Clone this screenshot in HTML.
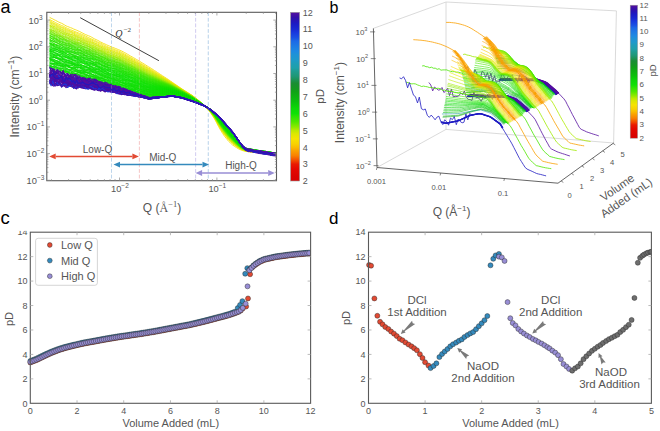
<!DOCTYPE html><html><head><meta charset="utf-8"><style>html,body{margin:0;padding:0;background:#fff;}svg{display:block;}</style></head><body>
<svg width="660" height="431" viewBox="0 0 660 431" font-family='"Liberation Sans", sans-serif'>
<rect width="660" height="431" fill="#fff"/>
<defs><clipPath id="clipa"><rect x="46.8" y="12.3" width="229.7" height="168.4"/></clipPath>
<linearGradient id="cbar" x1="0" y1="0" x2="0" y2="1"><stop offset="0" stop-color="#550fa0"/><stop offset="0.03" stop-color="#340fa8"/><stop offset="0.05" stop-color="#2515b6"/><stop offset="0.07" stop-color="#1b1cc5"/><stop offset="0.1" stop-color="#192ad2"/><stop offset="0.12" stop-color="#1939de"/><stop offset="0.15" stop-color="#1b50e3"/><stop offset="0.17" stop-color="#1d69e6"/><stop offset="0.2" stop-color="#1e7ae4"/><stop offset="0.23" stop-color="#1e89e2"/><stop offset="0.25" stop-color="#1e92d7"/><stop offset="0.28" stop-color="#1e99cb"/><stop offset="0.3" stop-color="#1e9dba"/><stop offset="0.33" stop-color="#1ea0a9"/><stop offset="0.35" stop-color="#1e9c8f"/><stop offset="0.38" stop-color="#1e9774"/><stop offset="0.4" stop-color="#1c9254"/><stop offset="0.42" stop-color="#1a8d33"/><stop offset="0.45" stop-color="#159623"/><stop offset="0.47" stop-color="#10a216"/><stop offset="0.5" stop-color="#0db111"/><stop offset="0.53" stop-color="#0bbf0d"/><stop offset="0.55" stop-color="#0bcc09"/><stop offset="0.57" stop-color="#0dd707"/><stop offset="0.6" stop-color="#0fe105"/><stop offset="0.62" stop-color="#2ee402"/><stop offset="0.65" stop-color="#52e700"/><stop offset="0.68" stop-color="#8ce900"/><stop offset="0.7" stop-color="#bcea00"/><stop offset="0.72" stop-color="#dce800"/><stop offset="0.75" stop-color="#f6e300"/><stop offset="0.78" stop-color="#f8d200"/><stop offset="0.8" stop-color="#fabd00"/><stop offset="0.82" stop-color="#faa200"/><stop offset="0.85" stop-color="#f98100"/><stop offset="0.88" stop-color="#f14700"/><stop offset="0.9" stop-color="#e91b00"/><stop offset="0.93" stop-color="#e40800"/><stop offset="0.95" stop-color="#df0600"/><stop offset="0.97" stop-color="#db0300"/><stop offset="1" stop-color="#d70000"/></linearGradient></defs>
<line x1="111.5" y1="12.3" x2="111.5" y2="180.7" stroke="#b4d0ea" stroke-width="1" stroke-dasharray="3.7,1.9" opacity="0.8"/>
<line x1="139.4" y1="12.3" x2="139.4" y2="180.7" stroke="#f6c0c0" stroke-width="1" stroke-dasharray="3.7,1.9" opacity="0.8"/>
<line x1="195.6" y1="12.3" x2="195.6" y2="180.7" stroke="#cdc8f0" stroke-width="1" stroke-dasharray="3.7,1.9" opacity="0.8"/>
<line x1="208.3" y1="12.3" x2="208.3" y2="180.7" stroke="#b4d0ea" stroke-width="1" stroke-dasharray="3.7,1.9" opacity="0.8"/>
<g clip-path="url(#clipa)" fill="none" stroke-width="0.85" stroke-linejoin="round"><path d="M49.6 17.3l1.5 .9 1.5 .6 1.5 .9 1.5 .7 1.5 .8 1.5 .8 1.5 .7 1.5 .6 1.5 .8 1.5 .9 1.5 .9 1.5 .6 1.5 .6 1.5 .6 1.5 .5 1.5 .8 1.5 .6 1.5 .6 1.5 .7 1.5 .6 1.5 .8 1.5 .8 1.5 .8 1.5 .7 1.5 .6 1.5 .6 1.5 .6 1.5 .8 1.5 .9 1.5 .8 1.5 .7 1.5 .7 1.5 .8 1.5 .9 1.5 .7 1.5 .8 1.5 .6 1.5 .7 1.5 .7 1.5 .6 1.5 .7 1.5 .6 1.5 .5 1.5 .6 1.5 .6 1.5 .6 1.5 .6 1.5 .7 1.5 .8 1.5 .8 1.5 .8 1.5 .9 1.5 .9 1.5 .9 1.5 .8 1.5 .8 1.5 .9 1.5 .9 1.5 .9 1.5 .9 1.5 .9 1.5 .9 1.5 .9 1.5 .9 1.5 1 1.5 .9 1.5 .9 1.5 .9 1.5 1 1.5 1 1.5 .9 1.5 1 1.5 1 1.5 1 2 1.3 2 1.3 2 1.3 2 1.3 2 1.4 2 1.4 2 1.3 2 1.4 2 1.4 2 1.3 2 1.4 2 1.3 2 1.2 2 1.3 2 1.3 2 1.3 2 1.5 2 1.6 2 1.6 2 1.7 2 1.8 2 1.9 2 2.2 2 2.3 2 2.5 2 3.1 2 3.1 2 3.8 2 3.9 2 3.4 2 3.3 2 3 2 2.4 2 2.5 2 1.8 2 1.9 2 1.4 2 1.3 2 1.2 2 .9 2 .8 2 .5 2 .4 2 .1 2 .4 2.5 .3 2.5-.2 2.5 .1 2.5 .5 2.5 .4 2.5 .2 2.5 .2 2.5 .4 2.5-.2 2.5 .4" stroke="#f6df00"/><path d="M49.6 19.4l1.5 .9 1.5 .7 1.5 .8 1.5 .8 1.5 .8 1.5 .7 1.5 .7 1.5 .7 1.5 .6 1.5 .7 1.5 .9 1.5 .7 1.5 .7 1.5 .7 1.5 .5 1.5 .6 1.5 .7 1.5 .6 1.5 .7 1.5 .5 1.5 .6 1.5 .6 1.5 .8 1.5 .7 1.5 .8 1.5 .7 1.5 .7 1.5 .7 1.5 .7 1.5 .7 1.5 .7 1.5 .8 1.5 .7 1.5 .6 1.5 .8 1.5 .7 1.5 .8 1.5 .8 1.5 .7 1.5 .6 1.5 .5 1.5 .6 1.5 .5 1.5 .6 1.5 .7 1.5 .5 1.5 .6 1.5 .8 1.5 .8 1.5 .8 1.5 .9 1.5 .8 1.5 .9 1.5 .8 1.5 .8 1.5 .8 1.5 .9 1.5 .8 1.5 1 1.5 .9 1.5 .9 1.5 .9 1.5 .9 1.5 .9 1.5 .9 1.5 .9 1.5 .9 1.5 .8 1.5 .9 1.5 1 1.5 .9 1.5 1 1.5 .9 1.5 .9 2 1.3 2 1.2 2 1.3 2 1.2 2 1.3 2 1.3 2 1.4 2 1.3 2 1.3 2 1.4 2 1.3 2 1.2 2 1.3 2 1.2 2 1.3 2 1.3 2 1.5 2 1.6 2 1.5 2 1.7 2 1.8 2 1.8 2 2.1 2 2.1 2 2.4 2 2.9 2 3 2 3.6 2 3.7 2 3.3 2 3.1 2 2.9 2 2.5 2 2.5 2 1.9 2 1.9 2 1.6 2 1.4 2 1.4 2 1.1 2 .9 2 .5 2 .7 2 .4 2 .2 2.5 .1 2.5 .4 2.5 .1 2.5 .2 2.5 .3 2.5 .7 2.5 .2 2.5-.1 2.5 .3 2.5 .3" stroke="#f5e500"/><path d="M49.6 20.5l1.5 .9 1.5 1 1.5 .8 1.5 .7 1.5 .8 1.5 .7 1.5 .8 1.5 .7 1.5 .5 1.5 .7 1.5 .8 1.5 .7 1.5 .7 1.5 .7 1.5 .6 1.5 .5 1.5 .6 1.5 .6 1.5 .7 1.5 .6 1.5 .6 1.5 .6 1.5 .8 1.5 .8 1.5 .7 1.5 .7 1.5 .6 1.5 .6 1.5 .8 1.5 .7 1.5 .6 1.5 .8 1.5 .7 1.5 .7 1.5 .9 1.5 .8 1.5 .6 1.5 .7 1.5 .6 1.5 .6 1.5 .6 1.5 .6 1.5 .5 1.5 .6 1.5 .7 1.5 .6 1.5 .6 1.5 .7 1.5 .8 1.5 .8 1.5 .8 1.5 .8 1.5 .8 1.5 .8 1.5 .9 1.5 .9 1.5 .9 1.5 .8 1.5 .9 1.5 .9 1.5 .8 1.5 .9 1.5 .9 1.5 .9 1.5 .9 1.5 .8 1.5 .9 1.5 .9 1.5 .9 1.5 .9 1.5 .9 1.5 .9 1.5 .9 1.5 .9 2 1.2 2 1.2 2 1.2 2 1.2 2 1.3 2 1.3 2 1.3 2 1.3 2 1.3 2 1.3 2 1.3 2 1.2 2 1.2 2 1.3 2 1.2 2 1.3 2 1.5 2 1.6 2 1.5 2 1.7 2 1.7 2 1.8 2 2 2 2.1 2 2.4 2 2.8 2 2.9 2 3.5 2 3.6 2 3.3 2 3.1 2 2.8 2 2.5 2 2.5 2 1.9 2 2 2 1.6 2 1.5 2 1.4 2 1.2 2 1 2 .9 2 .5 2 .1 2 .3 2.5 .2 2.5 .1 2.5 .1 2.5 .8 2.5 .3 2.5 0 2.5 .2 2.5 .4 2.5 0 2.5 .3" stroke="#ede700"/><path d="M49.6 21.5l1.5 1 1.5 .8 1.5 .7 1.5 .8 1.5 .9 1.5 .7 1.5 .8 1.5 .5 1.5 .7 1.5 .7 1.5 .8 1.5 .6 1.5 .7 1.5 .5 1.5 .7 1.5 .7 1.5 .8 1.5 .7 1.5 .6 1.5 .5 1.5 .6 1.5 .8 1.5 .7 1.5 .7 1.5 .5 1.5 .7 1.5 .7 1.5 .7 1.5 .9 1.5 .8 1.5 .6 1.5 .7 1.5 .7 1.5 .7 1.5 .8 1.5 .6 1.5 .6 1.5 .7 1.5 .7 1.5 .6 1.5 .7 1.5 .5 1.5 .6 1.5 .6 1.5 .6 1.5 .6 1.5 .5 1.5 .7 1.5 .7 1.5 .8 1.5 .8 1.5 .8 1.5 .9 1.5 .7 1.5 .9 1.5 .9 1.5 .8 1.5 .9 1.5 .8 1.5 .9 1.5 .8 1.5 .9 1.5 .9 1.5 .9 1.5 .8 1.5 .9 1.5 .8 1.5 .9 1.5 .9 1.5 .8 1.5 .9 1.5 .9 1.5 .9 1.5 .9 2 1.2 2 1.1 2 1.2 2 1.2 2 1.2 2 1.2 2 1.3 2 1.3 2 1.3 2 1.3 2 1.2 2 1.2 2 1.3 2 1.2 2 1.2 2 1.3 2 1.5 2 1.6 2 1.5 2 1.6 2 1.8 2 1.7 2 2 2 2 2 2.3 2 2.8 2 2.8 2 3.5 2 3.5 2 3.3 2 3 2 2.9 2 2.4 2 2.5 2 2 2 2 2 1.6 2 1.6 2 1.5 2 1.2 2 1 2 .3 2 .6 2 .7 2 .2 2.5 .4 2.5 .4 2.5 0 2.5 .1 2.5 .4 2.5 .4 2.5 .2 2.5 .5 2.5 .5 2.5 .1" stroke="#e4e700"/><path d="M49.6 22.5l1.5 .8 1.5 1 1.5 .8 1.5 .7 1.5 .7 1.5 .9 1.5 .8 1.5 .8 1.5 .6 1.5 .6 1.5 .7 1.5 .7 1.5 .6 1.5 .5 1.5 .7 1.5 .6 1.5 .9 1.5 .6 1.5 .6 1.5 .6 1.5 .7 1.5 .8 1.5 .7 1.5 .5 1.5 .6 1.5 .6 1.5 .8 1.5 .7 1.5 .5 1.5 .7 1.5 .7 1.5 1 1.5 .7 1.5 .7 1.5 .6 1.5 .7 1.5 .8 1.5 .7 1.5 .5 1.5 .5 1.5 .6 1.5 .6 1.5 .6 1.5 .6 1.5 .5 1.5 .6 1.5 .6 1.5 .9 1.5 .7 1.5 .7 1.5 .8 1.5 .8 1.5 .9 1.5 .7 1.5 .8 1.5 .9 1.5 .8 1.5 .9 1.5 .8 1.5 .9 1.5 .9 1.5 .9 1.5 .8 1.5 .9 1.5 .8 1.5 .9 1.5 .8 1.5 .8 1.5 .8 1.5 .9 1.5 .8 1.5 .9 1.5 .9 1.5 .8 2 1.2 2 1.1 2 1.2 2 1.1 2 1.2 2 1.2 2 1.3 2 1.2 2 1.3 2 1.2 2 1.3 2 1.2 2 1.2 2 1.2 2 1.3 2 1.2 2 1.5 2 1.5 2 1.6 2 1.5 2 1.8 2 1.7 2 1.9 2 2.1 2 2.2 2 2.8 2 2.7 2 3.5 2 3.5 2 3.1 2 3.1 2 2.8 2 2.5 2 2.4 2 2 2 2 2 1.7 2 1.7 2 1.4 2 1.3 2 1.1 2 .8 2 .3 2 .4 2 .5 2.5 0 2.5 .1 2.5 .2 2.5 .1 2.5 .3 2.5 .7 2.5 .2 2.5 .2 2.5 .5 2.5-.1" stroke="#dbe800"/><path d="M49.6 23.5l1.5 .9 1.5 1.1 1.5 .8 1.5 .6 1.5 .6 1.5 .8 1.5 .8 1.5 .7 1.5 .6 1.5 .8 1.5 .7 1.5 .7 1.5 .8 1.5 .7 1.5 .5 1.5 .5 1.5 .4 1.5 .8 1.5 .7 1.5 .6 1.5 .6 1.5 .8 1.5 .6 1.5 .8 1.5 .6 1.5 .5 1.5 .6 1.5 .6 1.5 .8 1.5 .8 1.5 .8 1.5 .6 1.5 .7 1.5 .7 1.5 .7 1.5 .7 1.5 .6 1.5 .6 1.5 .8 1.5 .5 1.5 .7 1.5 .6 1.5 .6 1.5 .5 1.5 .5 1.5 .6 1.5 .6 1.5 .8 1.5 .7 1.5 .7 1.5 .9 1.5 .8 1.5 .8 1.5 .8 1.5 .7 1.5 .8 1.5 .8 1.5 .9 1.5 .9 1.5 .9 1.5 .8 1.5 .9 1.5 .8 1.5 .9 1.5 .8 1.5 .8 1.5 .8 1.5 .8 1.5 .9 1.5 .8 1.5 .9 1.5 .8 1.5 .8 1.5 .8 2 1.2 2 1.1 2 1.1 2 1.1 2 1.2 2 1.1 2 1.3 2 1.2 2 1.3 2 1.2 2 1.2 2 1.2 2 1.2 2 1.2 2 1.3 2 1.2 2 1.5 2 1.5 2 1.5 2 1.6 2 1.7 2 1.7 2 1.9 2 2 2 2.2 2 2.7 2 2.8 2 3.4 2 3.4 2 3.1 2 3.1 2 2.8 2 2.4 2 2.5 2 2 2 2 2 1.8 2 1.6 2 1.6 2 1.3 2 1.1 2 .9 2 .5 2 .2 2 0 2.5 .4 2.5 .6 2.5 .3 2.5 .1 2.5 .1 2.5 .2 2.5 .1 2.5 .6 2.5 .5 2.5 .1" stroke="#d2e900"/><path d="M49.6 25l1.5 .7 1.5 .5 1.5 .7 1.5 .9 1.5 .8 1.5 .8 1.5 .7 1.5 .7 1.5 .6 1.5 .9 1.5 .7 1.5 .6 1.5 .5 1.5 .5 1.5 .5 1.5 .6 1.5 .7 1.5 .5 1.5 .7 1.5 .6 1.5 .7 1.5 .8 1.5 .8 1.5 .5 1.5 .5 1.5 .7 1.5 .7 1.5 .7 1.5 .5 1.5 .7 1.5 .7 1.5 .8 1.5 .8 1.5 .7 1.5 .7 1.5 .7 1.5 .7 1.5 .8 1.5 .7 1.5 .5 1.5 .4 1.5 .6 1.5 .5 1.5 .7 1.5 .6 1.5 .6 1.5 .5 1.5 .8 1.5 .8 1.5 .8 1.5 .8 1.5 .7 1.5 .7 1.5 .8 1.5 .9 1.5 .8 1.5 .8 1.5 .7 1.5 .9 1.5 .9 1.5 .9 1.5 .9 1.5 .8 1.5 .8 1.5 .8 1.5 .8 1.5 .8 1.5 .8 1.5 .8 1.5 .8 1.5 .8 1.5 .8 1.5 .9 1.5 .8 2 1 2 1.1 2 1.1 2 1.1 2 1.1 2 1.2 2 1.2 2 1.2 2 1.2 2 1.3 2 1.2 2 1.2 2 1.1 2 1.2 2 1.3 2 1.2 2 1.5 2 1.5 2 1.5 2 1.5 2 1.7 2 1.7 2 1.9 2 1.9 2 2.2 2 2.7 2 2.7 2 3.4 2 3.4 2 3.1 2 3 2 2.8 2 2.4 2 2.5 2 2 2 2 2 1.8 2 1.7 2 1.6 2 1.3 2 1.1 2 .9 2 .2 2 .6 2 .3 2.5 .2 2.5 0 2.5 .7 2.5 .3 2.5 .4 2.5 .3 2.5 .4 2.5 .1 2.5 .1 2.5 .4" stroke="#c9e900"/><path d="M49.6 25.3l1.5 1 1.5 .8 1.5 .9 1.5 .7 1.5 .5 1.5 .8 1.5 .6 1.5 .9 1.5 .6 1.5 .7 1.5 .5 1.5 .6 1.5 .8 1.5 .8 1.5 .8 1.5 .5 1.5 .6 1.5 .5 1.5 .7 1.5 .7 1.5 .6 1.5 .7 1.5 .5 1.5 .5 1.5 .7 1.5 .8 1.5 .7 1.5 .8 1.5 .7 1.5 .6 1.5 .8 1.5 .7 1.5 .7 1.5 .7 1.5 .5 1.5 .7 1.5 .7 1.5 .7 1.5 .7 1.5 .7 1.5 .5 1.5 .6 1.5 .5 1.5 .7 1.5 .6 1.5 .5 1.5 .5 1.5 .6 1.5 .7 1.5 .7 1.5 .9 1.5 .8 1.5 .7 1.5 .8 1.5 .8 1.5 .8 1.5 .8 1.5 .9 1.5 .8 1.5 .8 1.5 .7 1.5 .9 1.5 .8 1.5 .9 1.5 .8 1.5 .8 1.5 .8 1.5 .7 1.5 .8 1.5 .8 1.5 .8 1.5 .8 1.5 .8 1.5 .8 2 1.1 2 1 2 1.1 2 1.1 2 1.1 2 1.1 2 1.2 2 1.2 2 1.2 2 1.2 2 1.2 2 1.2 2 1.2 2 1.1 2 1.2 2 1.3 2 1.4 2 1.5 2 1.5 2 1.6 2 1.6 2 1.6 2 1.9 2 2 2 2.2 2 2.6 2 2.7 2 3.3 2 3.3 2 3.1 2 3 2 2.8 2 2.4 2 2.5 2 2 2 2.1 2 1.8 2 1.7 2 1.6 2 1.4 2 1.1 2 .2 2 .6 2 .6 2 .5 2.5 .1 2.5 .4 2.5 .4 2.5 .1 2.5 .1 2.5 .4 2.5 .7 2.5 .3 2.5 .2 2.5 .7" stroke="#c1ea00"/><path d="M49.6 26.2l1.5 .7 1.5 .8 1.5 1 1.5 .8 1.5 .6 1.5 .9 1.5 .8 1.5 .8 1.5 .5 1.5 .5 1.5 .8 1.5 .6 1.5 .8 1.5 .6 1.5 .6 1.5 .6 1.5 .9 1.5 .5 1.5 .5 1.5 .5 1.5 .5 1.5 .7 1.5 .9 1.5 .6 1.5 .6 1.5 .8 1.5 .6 1.5 .7 1.5 .5 1.5 .5 1.5 .8 1.5 .8 1.5 .7 1.5 .6 1.5 .8 1.5 .7 1.5 .7 1.5 .7 1.5 .5 1.5 .4 1.5 .5 1.5 .7 1.5 .7 1.5 .6 1.5 .5 1.5 .6 1.5 .6 1.5 .7 1.5 .6 1.5 .7 1.5 .8 1.5 .8 1.5 .9 1.5 .7 1.5 .8 1.5 .8 1.5 .8 1.5 .8 1.5 .8 1.5 .8 1.5 .8 1.5 .9 1.5 .9 1.5 .8 1.5 .8 1.5 .8 1.5 .8 1.5 .7 1.5 .7 1.5 .8 1.5 .8 1.5 .8 1.5 .8 1.5 .7 2 1 2 1.1 2 1 2 1 2 1.1 2 1.1 2 1.2 2 1.2 2 1.2 2 1.1 2 1.2 2 1.2 2 1.2 2 1.1 2 1.2 2 1.3 2 1.4 2 1.5 2 1.5 2 1.5 2 1.6 2 1.6 2 1.9 2 1.9 2 2.2 2 2.6 2 2.6 2 3.3 2 3.3 2 3.1 2 3 2 2.7 2 2.5 2 2.5 2 2 2 2.1 2 1.8 2 1.7 2 1.7 2 1.4 2 1.1 2 .8 2 .6 2 .7 2 .3 2.5 0 2.5 .2 2.5 .3 2.5 .3 2.5 .5 2.5 .3 2.5-.1 2.5 .3 2.5 .3 2.5 .2" stroke="#b9ea00"/><path d="M49.6 27.1l1.5 .9 1.5 .7 1.5 1 1.5 .8 1.5 .6 1.5 .7 1.5 .4 1.5 .8 1.5 .7 1.5 .6 1.5 .6 1.5 .6 1.5 .7 1.5 .6 1.5 .9 1.5 .6 1.5 .7 1.5 .4 1.5 .7 1.5 .6 1.5 .8 1.5 .5 1.5 .6 1.5 .4 1.5 .7 1.5 .8 1.5 .7 1.5 .7 1.5 .7 1.5 .6 1.5 .9 1.5 .8 1.5 .8 1.5 .6 1.5 .5 1.5 .6 1.5 .7 1.5 .8 1.5 .6 1.5 .6 1.5 .4 1.5 .6 1.5 .7 1.5 .7 1.5 .5 1.5 .5 1.5 .5 1.5 .7 1.5 .8 1.5 .7 1.5 .7 1.5 .7 1.5 .7 1.5 .8 1.5 .8 1.5 .8 1.5 .8 1.5 .8 1.5 .8 1.5 .8 1.5 .9 1.5 .8 1.5 .7 1.5 .8 1.5 .8 1.5 .8 1.5 .8 1.5 .7 1.5 .7 1.5 .8 1.5 .8 1.5 .7 1.5 .8 1.5 .8 2 1 2 1 2 1 2 1 2 1 2 1.1 2 1.2 2 1.1 2 1.2 2 1.2 2 1.1 2 1.2 2 1.2 2 1.1 2 1.2 2 1.2 2 1.5 2 1.5 2 1.4 2 1.5 2 1.6 2 1.6 2 1.9 2 1.9 2 2.1 2 2.6 2 2.6 2 3.3 2 3.2 2 3.1 2 2.9 2 2.8 2 2.4 2 2.5 2 2.1 2 2 2 1.9 2 1.8 2 1.6 2 1.5 2 1.2 2 .8 2 .5 2 .2 2 0 2.5 .5 2.5 .6 2.5 .1 2.5 .5 2.5 .7 2.5 .2 2.5 0 2.5 .2 2.5 .4 2.5 .2" stroke="#b2eb00"/><path d="M49.6 28.3l1.5 .9 1.5 .9 1.5 .7 1.5 .4 1.5 .8 1.5 .7 1.5 .7 1.5 .6 1.5 .4 1.5 .6 1.5 .9 1.5 .8 1.5 .6 1.5 .5 1.5 .6 1.5 .8 1.5 .6 1.5 .5 1.5 .4 1.5 .3 1.5 .8 1.5 .7 1.5 .7 1.5 .4 1.5 .8 1.5 .7 1.5 .8 1.5 .8 1.5 .6 1.5 .5 1.5 .8 1.5 .7 1.5 .8 1.5 .5 1.5 .6 1.5 .7 1.5 .9 1.5 .8 1.5 .7 1.5 .4 1.5 .7 1.5 .5 1.5 .6 1.5 .6 1.5 .5 1.5 .4 1.5 .5 1.5 .8 1.5 .8 1.5 .7 1.5 .8 1.5 .7 1.5 .8 1.5 .9 1.5 .7 1.5 .6 1.5 .7 1.5 .8 1.5 .8 1.5 .9 1.5 .7 1.5 .8 1.5 .8 1.5 .9 1.5 .8 1.5 .8 1.5 .7 1.5 .6 1.5 .8 1.5 .7 1.5 .7 1.5 .8 1.5 .7 1.5 .8 2 1 2 1 2 .9 2 1 2 1.1 2 1 2 1.2 2 1.1 2 1.2 2 1.1 2 1.2 2 1.1 2 1.2 2 1.1 2 1.2 2 1.2 2 1.4 2 1.5 2 1.4 2 1.5 2 1.7 2 1.5 2 1.9 2 1.9 2 2.1 2 2.5 2 2.6 2 3.2 2 3.3 2 3 2 2.9 2 2.8 2 2.4 2 2.5 2 2 2 2.1 2 1.9 2 1.8 2 1.7 2 1.5 2 1.2 2 .7 2 .7 2 .7 2 0 2.5 .1 2.5 .4 2.5 .5 2.5 .2 2.5 .6 2.5 .5 2.5-.2 2.5 .4 2.5 .2 2.5 0" stroke="#a7eb00"/><path d="M49.6 29.4l1.5 .6 1.5 .4 1.5 .8 1.5 .8 1.5 .8 1.5 .8 1.5 .9 1.5 .6 1.5 .5 1.5 .7 1.5 .5 1.5 .7 1.5 .6 1.5 .5 1.5 .7 1.5 .5 1.5 .7 1.5 .7 1.5 .7 1.5 .4 1.5 .5 1.5 .4 1.5 .6 1.5 .7 1.5 .7 1.5 .9 1.5 .6 1.5 .6 1.5 .5 1.5 .6 1.5 .7 1.5 .7 1.5 .8 1.5 .6 1.5 .7 1.5 .7 1.5 .7 1.5 .7 1.5 .7 1.5 .4 1.5 .6 1.5 .5 1.5 .6 1.5 .5 1.5 .7 1.5 .6 1.5 .6 1.5 .8 1.5 .6 1.5 .6 1.5 .8 1.5 .8 1.5 .9 1.5 .8 1.5 .7 1.5 .8 1.5 .7 1.5 .7 1.5 .8 1.5 .9 1.5 .8 1.5 .8 1.5 .7 1.5 .8 1.5 .8 1.5 .9 1.5 .7 1.5 .6 1.5 .6 1.5 .7 1.5 .8 1.5 .7 1.5 .8 1.5 .7 2 .9 2 1 2 .9 2 1 2 1 2 1 2 1.1 2 1.2 2 1.1 2 1.1 2 1.2 2 1.1 2 1.2 2 1.1 2 1.2 2 1.2 2 1.4 2 1.5 2 1.4 2 1.5 2 1.6 2 1.5 2 1.8 2 1.9 2 2.1 2 2.5 2 2.6 2 3.2 2 3.2 2 3 2 2.9 2 2.7 2 2.5 2 2.5 2 2 2 2.1 2 2 2 1.8 2 1.7 2 1.5 2 1.2 2 1.1 2 .4 2 .6 2 .3 2.5 0 2.5 .3 2.5 .4 2.5 .7 2.5 0 2.5-.3 2.5 .3 2.5 .7 2.5 .5 2.5-.1" stroke="#9bea00"/><path d="M49.6 29.6l1.5 .9 1.5 .7 1.5 .8 1.5 .7 1.5 .9 1.5 .7 1.5 .9 1.5 .7 1.5 .5 1.5 .5 1.5 .6 1.5 .6 1.5 .7 1.5 .8 1.5 .6 1.5 .6 1.5 .7 1.5 .5 1.5 .5 1.5 .5 1.5 .7 1.5 .6 1.5 .5 1.5 .5 1.5 .5 1.5 .7 1.5 .9 1.5 .7 1.5 .7 1.5 .6 1.5 .5 1.5 .6 1.5 .5 1.5 .7 1.5 .8 1.5 .7 1.5 .7 1.5 .7 1.5 .7 1.5 .5 1.5 .7 1.5 .6 1.5 .5 1.5 .4 1.5 .4 1.5 .6 1.5 .7 1.5 .8 1.5 .8 1.5 .7 1.5 .7 1.5 .7 1.5 .8 1.5 .7 1.5 .8 1.5 .8 1.5 .7 1.5 .7 1.5 .8 1.5 .9 1.5 .8 1.5 .8 1.5 .8 1.5 .8 1.5 .7 1.5 .7 1.5 .7 1.5 .7 1.5 .7 1.5 .7 1.5 .7 1.5 .7 1.5 .7 1.5 .7 2 .9 2 .9 2 1 2 .9 2 1 2 1 2 1.1 2 1.1 2 1.2 2 1.1 2 1.1 2 1.1 2 1.2 2 1.1 2 1.2 2 1.2 2 1.4 2 1.4 2 1.4 2 1.5 2 1.6 2 1.5 2 1.8 2 1.9 2 2 2 2.6 2 2.5 2 3.2 2 3.1 2 3 2 2.9 2 2.7 2 2.5 2 2.4 2 2.1 2 2.1 2 2 2 1.8 2 1.7 2 1.6 2 1.2 2 1 2 .6 2 0 2-.1 2.5 .6 2.5 .4 2.5 .2 2.5 .6 2.5 .3 2.5 .3 2.5 .1 2.5 .2 2.5 .6 2.5 .6" stroke="#8fe900"/><path d="M49.6 30.3l1.5 .9 1.5 1.1 1.5 .9 1.5 .8 1.5 .4 1.5 .8 1.5 .6 1.5 .7 1.5 .7 1.5 .5 1.5 .5 1.5 .6 1.5 .6 1.5 .6 1.5 .6 1.5 .8 1.5 .7 1.5 .4 1.5 .5 1.5 .4 1.5 .5 1.5 .7 1.5 .6 1.5 .6 1.5 .5 1.5 .7 1.5 .5 1.5 .9 1.5 .7 1.5 .8 1.5 .9 1.5 .4 1.5 .7 1.5 .6 1.5 .7 1.5 .6 1.5 .8 1.5 .6 1.5 .7 1.5 .6 1.5 .6 1.5 .6 1.5 .6 1.5 .7 1.5 .5 1.5 .4 1.5 .4 1.5 .7 1.5 .7 1.5 .9 1.5 .7 1.5 .7 1.5 .8 1.5 .7 1.5 .8 1.5 .8 1.5 .7 1.5 .8 1.5 .7 1.5 .7 1.5 .8 1.5 .7 1.5 .9 1.5 .7 1.5 .9 1.5 .7 1.5 .7 1.5 .6 1.5 .6 1.5 .8 1.5 .6 1.5 .7 1.5 .7 1.5 .7 2 .9 2 .9 2 .9 2 .9 2 1 2 1 2 1.1 2 1.1 2 1.1 2 1.1 2 1.1 2 1.1 2 1.2 2 1.1 2 1.1 2 1.2 2 1.4 2 1.5 2 1.4 2 1.4 2 1.6 2 1.5 2 1.8 2 1.8 2 2.1 2 2.5 2 2.5 2 3.1 2 3.2 2 2.9 2 2.9 2 2.7 2 2.5 2 2.4 2 2.1 2 2.2 2 1.9 2 1.9 2 1.7 2 1.6 2 1.2 2 .8 2 .7 2 .7 2 .1 2.5 .2 2.5 .2 2.5 .5 2.5 .4 2.5 .5 2.5 .2 2.5 .5 2.5 .1 2.5-.1 2.5 .3" stroke="#84e900"/><path d="M49.6 31.3l1.5 .6 1.5 .5 1.5 .9 1.5 .9 1.5 .9 1.5 .5 1.5 .8 1.5 .6 1.5 .9 1.5 .7 1.5 .9 1.5 .5 1.5 .3 1.5 .5 1.5 .7 1.5 .6 1.5 .4 1.5 .7 1.5 .4 1.5 .7 1.5 .8 1.5 .8 1.5 .6 1.5 .3 1.5 .6 1.5 .8 1.5 .6 1.5 .4 1.5 .6 1.5 .5 1.5 .7 1.5 .9 1.5 .6 1.5 .8 1.5 .5 1.5 .6 1.5 .8 1.5 .8 1.5 .6 1.5 .4 1.5 .4 1.5 .6 1.5 .6 1.5 .6 1.5 .5 1.5 .4 1.5 .6 1.5 .9 1.5 .7 1.5 .9 1.5 .6 1.5 .7 1.5 .7 1.5 .9 1.5 .7 1.5 .6 1.5 .8 1.5 .7 1.5 .8 1.5 .8 1.5 .8 1.5 .8 1.5 .8 1.5 .8 1.5 .8 1.5 .8 1.5 .6 1.5 .5 1.5 .7 1.5 .7 1.5 .7 1.5 .6 1.5 .7 1.5 .6 2 .9 2 .9 2 .9 2 .9 2 .9 2 1 2 1.1 2 1 2 1.1 2 1.1 2 1.1 2 1.1 2 1.2 2 1.1 2 1.1 2 1.2 2 1.4 2 1.4 2 1.4 2 1.4 2 1.6 2 1.5 2 1.8 2 1.8 2 2 2 2.5 2 2.5 2 3.1 2 3.1 2 3 2 2.8 2 2.7 2 2.5 2 2.4 2 2.2 2 2.1 2 2 2 1.9 2 1.7 2 1.6 2 1.3 2 .7 2 .9 2 .5 2 .4 2.5 .3 2.5 .4 2.5 .1 2.5-.1 2.5 .3 2.5 .5 2.5 .1 2.5 .5 2.5 .6 2.5 0" stroke="#79e800"/><path d="M49.6 31.9l1.5 .8 1.5 .8 1.5 .7 1.5 .9 1.5 .6 1.5 .5 1.5 .6 1.5 .5 1.5 1 1.5 .7 1.5 .7 1.5 .8 1.5 .5 1.5 .6 1.5 .8 1.5 .6 1.5 .4 1.5 .3 1.5 .5 1.5 .9 1.5 .7 1.5 .5 1.5 .6 1.5 .6 1.5 .9 1.5 .7 1.5 .6 1.5 .4 1.5 .4 1.5 .7 1.5 .7 1.5 .7 1.5 .6 1.5 .6 1.5 .7 1.5 .9 1.5 .6 1.5 .8 1.5 .3 1.5 .5 1.5 .5 1.5 .6 1.5 .6 1.5 .4 1.5 .5 1.5 .7 1.5 .6 1.5 .8 1.5 .7 1.5 .6 1.5 .6 1.5 .8 1.5 .7 1.5 .7 1.5 .7 1.5 .7 1.5 .8 1.5 .9 1.5 .8 1.5 .8 1.5 .7 1.5 .7 1.5 .8 1.5 .8 1.5 .7 1.5 .7 1.5 .6 1.5 .7 1.5 .7 1.5 .7 1.5 .6 1.5 .7 1.5 .6 1.5 .7 2 .8 2 .9 2 .8 2 .9 2 .9 2 1 2 1 2 1.1 2 1.1 2 1 2 1.1 2 1.1 2 1.1 2 1.1 2 1.2 2 1.2 2 1.3 2 1.4 2 1.4 2 1.5 2 1.5 2 1.5 2 1.8 2 1.8 2 2 2 2.4 2 2.5 2 3.1 2 3.1 2 2.9 2 2.9 2 2.6 2 2.5 2 2.5 2 2.1 2 2.1 2 2 2 1.9 2 1.8 2 1.6 2 1.3 2 1.2 2 .6 2 .4 2 .3 2.5 0 2.5 .2 2.5 .6 2.5 .5 2.5 .1 2.5 .5 2.5 .3 2.5-.1 2.5 .2 2.5 .8" stroke="#6ee800"/><path d="M49.6 32.5l1.5 1 1.5 1.1 1.5 .7 1.5 .6 1.5 .5 1.5 .9 1.5 .8 1.5 .5 1.5 .5 1.5 .4 1.5 .7 1.5 .7 1.5 .6 1.5 .5 1.5 .5 1.5 .8 1.5 .6 1.5 .6 1.5 .5 1.5 .4 1.5 .6 1.5 .6 1.5 .7 1.5 .3 1.5 .5 1.5 .8 1.5 .7 1.5 1 1.5 .6 1.5 .5 1.5 .6 1.5 .7 1.5 .9 1.5 .5 1.5 .5 1.5 .6 1.5 .7 1.5 .8 1.5 .9 1.5 .5 1.5 .6 1.5 .5 1.5 .7 1.5 .5 1.5 .4 1.5 .5 1.5 .5 1.5 .7 1.5 .8 1.5 .7 1.5 .6 1.5 .8 1.5 .8 1.5 .8 1.5 .7 1.5 .6 1.5 .6 1.5 .8 1.5 .8 1.5 .7 1.5 .8 1.5 .7 1.5 .8 1.5 .7 1.5 .8 1.5 .7 1.5 .6 1.5 .6 1.5 .6 1.5 .7 1.5 .6 1.5 .6 1.5 .7 1.5 .6 2 .9 2 .8 2 .9 2 .8 2 .9 2 .9 2 1.1 2 1 2 1.1 2 1.1 2 1 2 1.1 2 1.1 2 1.1 2 1.2 2 1.1 2 1.4 2 1.4 2 1.4 2 1.4 2 1.5 2 1.5 2 1.7 2 1.8 2 2 2 2.4 2 2.5 2 3.1 2 3 2 2.9 2 2.9 2 2.7 2 2.4 2 2.5 2 2.1 2 2.2 2 2 2 1.9 2 1.8 2 1.6 2 1.3 2 .5 2 .8 2 .3 2 .3 2.5 .5 2.5 .8 2.5 .1 2.5 .2 2.5 .5 2.5-.1 2.5 .3 2.5 .9 2.5 .2 2.5 .4" stroke="#64e700"/><path d="M49.6 33.6l1.5 .6 1.5 .4 1.5 .7 1.5 .5 1.5 .8 1.5 .9 1.5 .7 1.5 .7 1.5 .7 1.5 .5 1.5 .8 1.5 .7 1.5 .8 1.5 .6 1.5 .3 1.5 .4 1.5 .5 1.5 .6 1.5 .7 1.5 .9 1.5 .6 1.5 .6 1.5 .5 1.5 .6 1.5 .9 1.5 .6 1.5 .6 1.5 .4 1.5 .4 1.5 .6 1.5 .7 1.5 .9 1.5 .8 1.5 .7 1.5 .7 1.5 .6 1.5 .5 1.5 .8 1.5 .6 1.5 .5 1.5 .4 1.5 .5 1.5 .5 1.5 .5 1.5 .6 1.5 .8 1.5 .6 1.5 .6 1.5 .6 1.5 .7 1.5 .6 1.5 .6 1.5 .8 1.5 .7 1.5 .7 1.5 .7 1.5 .8 1.5 .7 1.5 .8 1.5 .9 1.5 .7 1.5 .7 1.5 .7 1.5 .6 1.5 .8 1.5 .8 1.5 .6 1.5 .6 1.5 .6 1.5 .6 1.5 .7 1.5 .6 1.5 .6 1.5 .7 2 .8 2 .8 2 .8 2 .8 2 .9 2 .9 2 1.1 2 1 2 1 2 1.1 2 1 2 1.1 2 1.1 2 1.1 2 1.1 2 1.2 2 1.3 2 1.4 2 1.4 2 1.4 2 1.5 2 1.5 2 1.7 2 1.8 2 2 2 2.4 2 2.4 2 3 2 3.1 2 2.9 2 2.8 2 2.7 2 2.4 2 2.5 2 2.1 2 2.2 2 2 2 2 2 1.8 2 1.6 2 1.4 2 .7 2 .7 2 .3 2 .6 2.5 .3 2.5 0 2.5 .1 2.5 .6 2.5 .6 2.5 .4 2.5 .3 2.5 .3 2.5 .4 2.5 0" stroke="#5be700"/><path d="M49.6 33.6l1.5 .8 1.5 1 1.5 .9 1.5 .7 1.5 .7 1.5 .5 1.5 .6 1.5 .8 1.5 .4 1.5 .8 1.5 .5 1.5 .9 1.5 1 1.5 .6 1.5 .3 1.5 .3 1.5 .6 1.5 .6 1.5 .7 1.5 .5 1.5 .5 1.5 .8 1.5 .9 1.5 .8 1.5 .4 1.5 .2 1.5 .7 1.5 .7 1.5 .7 1.5 .5 1.5 .6 1.5 1 1.5 .7 1.5 .7 1.5 .5 1.5 .4 1.5 .7 1.5 .6 1.5 .7 1.5 .7 1.5 .5 1.5 .6 1.5 .6 1.5 .6 1.5 .4 1.5 .3 1.5 .5 1.5 .8 1.5 .8 1.5 .7 1.5 .6 1.5 .8 1.5 .7 1.5 .7 1.5 .7 1.5 .5 1.5 .7 1.5 .9 1.5 .8 1.5 .8 1.5 .6 1.5 .8 1.5 .7 1.5 .7 1.5 .7 1.5 .7 1.5 .6 1.5 .6 1.5 .6 1.5 .7 1.5 .5 1.5 .6 1.5 .6 1.5 .6 2 .8 2 .8 2 .8 2 .9 2 .8 2 .9 2 1 2 1 2 1.1 2 1 2 1 2 1.1 2 1.1 2 1.1 2 1.1 2 1.1 2 1.4 2 1.4 2 1.3 2 1.4 2 1.5 2 1.5 2 1.7 2 1.8 2 1.9 2 2.4 2 2.4 2 3 2 3.1 2 2.8 2 2.9 2 2.6 2 2.4 2 2.5 2 2.2 2 2.2 2 2 2 2 2 1.8 2 1.7 2 1.3 2 1.2 2 .4 2 .2 2 .8 2.5 .4 2.5-.1 2.5 .3 2.5 .3 2.5 .2 2.5 .6 2.5 .4 2.5 0 2.5 0 2.5 .6" stroke="#52e700"/><path d="M49.6 35l1.5 .8 1.5 .7 1.5 .6 1.5 1 1.5 .7 1.5 .4 1.5 .5 1.5 .5 1.5 .8 1.5 1 1.5 .5 1.5 .6 1.5 .6 1.5 1 1.5 .5 1.5 .4 1.5 .4 1.5 .4 1.5 .8 1.5 .4 1.5 .5 1.5 .6 1.5 .7 1.5 1 1.5 .6 1.5 .5 1.5 .4 1.5 .7 1.5 .7 1.5 .4 1.5 .5 1.5 .5 1.5 .8 1.5 .8 1.5 .8 1.5 .4 1.5 .7 1.5 .8 1.5 .7 1.5 .4 1.5 .2 1.5 .5 1.5 .5 1.5 .8 1.5 .5 1.5 .4 1.5 .7 1.5 .8 1.5 .7 1.5 .6 1.5 .6 1.5 .6 1.5 .8 1.5 .6 1.5 .7 1.5 .7 1.5 .8 1.5 .8 1.5 .8 1.5 .7 1.5 .8 1.5 .6 1.5 .8 1.5 .7 1.5 .7 1.5 .7 1.5 .6 1.5 .6 1.5 .6 1.5 .6 1.5 .5 1.5 .7 1.5 .6 1.5 .6 2 .7 2 .8 2 .8 2 .8 2 .8 2 .9 2 1 2 1 2 1 2 1 2 1 2 1.1 2 1.1 2 1.1 2 1.1 2 1.1 2 1.3 2 1.4 2 1.4 2 1.3 2 1.5 2 1.5 2 1.7 2 1.7 2 2 2 2.3 2 2.4 2 3 2 3 2 2.9 2 2.8 2 2.7 2 2.4 2 2.5 2 2.1 2 2.2 2 2.1 2 2 2 1.8 2 1.7 2 1.4 2 .7 2 .9 2 .2 2 0 2.5 .4 2.5 .6 2.5 .2 2.5 .5 2.5 .4 2.5-.1 2.5 .5 2.5 .3 2.5 .1 2.5 .9" stroke="#4ae600"/><path d="M49.6 35.8l1.5 .5 1.5 .5 1.5 .9 1.5 .8 1.5 .9 1.5 .7 1.5 .6 1.5 .5 1.5 .6 1.5 .7 1.5 .9 1.5 .3 1.5 .3 1.5 .5 1.5 .6 1.5 .8 1.5 .7 1.5 .6 1.5 .4 1.5 .5 1.5 .6 1.5 .7 1.5 .3 1.5 .6 1.5 .4 1.5 .5 1.5 .8 1.5 1 1.5 .7 1.5 .4 1.5 .6 1.5 .5 1.5 .8 1.5 .5 1.5 .6 1.5 .7 1.5 .5 1.5 .8 1.5 .7 1.5 .7 1.5 .6 1.5 .5 1.5 .3 1.5 .6 1.5 .5 1.5 .7 1.5 .5 1.5 .6 1.5 .7 1.5 .9 1.5 .8 1.5 .7 1.5 .5 1.5 .7 1.5 .7 1.5 .7 1.5 .7 1.5 .7 1.5 .8 1.5 .8 1.5 .7 1.5 .8 1.5 .7 1.5 .7 1.5 .7 1.5 .6 1.5 .6 1.5 .5 1.5 .6 1.5 .6 1.5 .5 1.5 .6 1.5 .6 1.5 .6 2 .7 2 .8 2 .7 2 .8 2 .8 2 .8 2 1 2 1 2 1 2 1 2 1 2 1.1 2 1.1 2 1 2 1.1 2 1.2 2 1.3 2 1.4 2 1.3 2 1.4 2 1.4 2 1.5 2 1.7 2 1.7 2 1.9 2 2.4 2 2.3 2 3 2 3 2 2.9 2 2.7 2 2.7 2 2.4 2 2.5 2 2.2 2 2.2 2 2 2 2 2 1.9 2 1.7 2 1.4 2 1.2 2 .5 2 .6 2 0 2.5 .4 2.5 .5 2.5 .5 2.5 0 2.5 .1 2.5 .4 2.5 .3 2.5 .1 2.5 .8 2.5 .3" stroke="#44e600"/><path d="M49.6 35.8l1.5 .5 1.5 1.1 1.5 .8 1.5 1 1.5 .7 1.5 .8 1.5 .5 1.5 .5 1.5 .8 1.5 .5 1.5 .8 1.5 .4 1.5 .7 1.5 .4 1.5 .7 1.5 .5 1.5 .9 1.5 .8 1.5 .7 1.5 .5 1.5 .3 1.5 .3 1.5 .6 1.5 .6 1.5 .6 1.5 .5 1.5 .5 1.5 .7 1.5 .6 1.5 .6 1.5 1 1.5 .6 1.5 .6 1.5 .4 1.5 .6 1.5 .5 1.5 .5 1.5 .8 1.5 .7 1.5 .4 1.5 .5 1.5 .6 1.5 .6 1.5 .6 1.5 .7 1.5 .5 1.5 .5 1.5 .6 1.5 .6 1.5 .5 1.5 .8 1.5 .7 1.5 .8 1.5 .8 1.5 .6 1.5 .8 1.5 .7 1.5 .8 1.5 .7 1.5 .8 1.5 .7 1.5 .6 1.5 .7 1.5 .6 1.5 .8 1.5 .7 1.5 .6 1.5 .6 1.5 .5 1.5 .5 1.5 .6 1.5 .6 1.5 .5 1.5 .6 2 .7 2 .7 2 .7 2 .8 2 .8 2 .8 2 1 2 1 2 .9 2 1 2 1 2 1.1 2 1.1 2 1 2 1.1 2 1.1 2 1.3 2 1.4 2 1.3 2 1.4 2 1.5 2 1.4 2 1.7 2 1.7 2 1.9 2 2.3 2 2.4 2 2.9 2 3 2 2.8 2 2.8 2 2.6 2 2.5 2 2.4 2 2.2 2 2.2 2 2.1 2 2 2 1.9 2 1.7 2 1.4 2 .8 2 .6 2 .4 2 .6 2.5 .6 2.5 .1 2.5 0 2.5 .3 2.5 .3 2.5 .3 2.5 .3 2.5 .7 2.5 .5 2.5 .2" stroke="#40e501"/><path d="M49.6 36.8l1.5 1 1.5 .5 1.5 .4 1.5 .4 1.5 .7 1.5 1.1 1.5 .7 1.5 .6 1.5 .5 1.5 1.1 1.5 .7 1.5 .6 1.5 .3 1.5 .4 1.5 .8 1.5 .4 1.5 .6 1.5 .5 1.5 .7 1.5 .9 1.5 .8 1.5 .2 1.5 .6 1.5 .6 1.5 .6 1.5 .5 1.5 .3 1.5 .7 1.5 .8 1.5 .9 1.5 .6 1.5 .6 1.5 .6 1.5 .6 1.5 .7 1.5 .4 1.5 .6 1.5 .6 1.5 .8 1.5 .6 1.5 .5 1.5 .4 1.5 .7 1.5 .7 1.5 .4 1.5 .3 1.5 .4 1.5 .8 1.5 .7 1.5 .6 1.5 .7 1.5 .7 1.5 .8 1.5 .8 1.5 .6 1.5 .6 1.5 .5 1.5 .8 1.5 .8 1.5 .7 1.5 .6 1.5 .8 1.5 .7 1.5 .7 1.5 .7 1.5 .7 1.5 .5 1.5 .5 1.5 .5 1.5 .5 1.5 .6 1.5 .6 1.5 .6 1.5 .5 2 .7 2 .8 2 .7 2 .7 2 .7 2 .9 2 .9 2 1 2 1 2 .9 2 1 2 1.1 2 1 2 1.1 2 1.1 2 1.1 2 1.3 2 1.3 2 1.4 2 1.3 2 1.5 2 1.4 2 1.6 2 1.8 2 1.8 2 2.4 2 2.3 2 2.9 2 3 2 2.8 2 2.7 2 2.7 2 2.4 2 2.5 2 2.2 2 2.2 2 2.1 2 2 2 1.9 2 1.8 2 1.4 2 1.5 2 .4 2 0 2 .4 2.5 .5 2.5 .1 2.5 .8 2.5 .2 2.5-.1 2.5 .4 2.5 .3 2.5 .2 2.5 .6 2.5 .3" stroke="#3ce501"/><path d="M49.6 37.5l1.5 .7 1.5 .8 1.5 .8 1.5 .5 1.5 .5 1.5 .8 1.5 .9 1.5 1 1.5 .5 1.5 .6 1.5 .8 1.5 .5 1.5 .4 1.5 .3 1.5 .6 1.5 .5 1.5 .8 1.5 .8 1.5 .4 1.5 .4 1.5 1 1.5 .7 1.5 .3 1.5 .1 1.5 .6 1.5 .6 1.5 .7 1.5 .6 1.5 .5 1.5 .8 1.5 .7 1.5 .7 1.5 .5 1.5 .3 1.5 .8 1.5 .6 1.5 .5 1.5 .5 1.5 .5 1.5 .8 1.5 .7 1.5 .6 1.5 .4 1.5 .4 1.5 .7 1.5 .6 1.5 .4 1.5 .5 1.5 .6 1.5 .8 1.5 .7 1.5 .8 1.5 .6 1.5 .8 1.5 .8 1.5 .7 1.5 .6 1.5 .6 1.5 .7 1.5 .8 1.5 .7 1.5 .6 1.5 .8 1.5 .7 1.5 .8 1.5 .7 1.5 .5 1.5 .4 1.5 .6 1.5 .5 1.5 .5 1.5 .5 1.5 .6 1.5 .5 2 .8 2 .6 2 .7 2 .7 2 .7 2 .8 2 1 2 .9 2 1 2 .9 2 1 2 1.1 2 1 2 1.1 2 1 2 1.1 2 1.3 2 1.4 2 1.3 2 1.3 2 1.5 2 1.4 2 1.6 2 1.7 2 1.9 2 2.3 2 2.3 2 2.9 2 3 2 2.8 2 2.7 2 2.6 2 2.5 2 2.4 2 2.2 2 2.3 2 2.1 2 2 2 2 2 1.7 2 1.4 2 .9 2 .7 2 1 2 .2 2.5 .2 2.5 .3 2.5 .3 2.5 .2 2.5 .6 2.5 .2 2.5 .3 2.5 .5 2.5-.1 2.5 .2" stroke="#38e501"/><path d="M49.6 37.8l1.5 .5 1.5 1.1 1.5 .9 1.5 .8 1.5 .5 1.5 .5 1.5 .6 1.5 .8 1.5 .6 1.5 .7 1.5 .3 1.5 .5 1.5 .7 1.5 .6 1.5 .9 1.5 .7 1.5 .6 1.5 .4 1.5 .5 1.5 .3 1.5 .4 1.5 .9 1.5 .5 1.5 .9 1.5 .6 1.5 .5 1.5 .8 1.5 .6 1.5 .5 1.5 .6 1.5 .5 1.5 .4 1.5 .7 1.5 .6 1.5 1 1.5 .8 1.5 .6 1.5 .6 1.5 .4 1.5 .5 1.5 .5 1.5 .6 1.5 .5 1.5 .5 1.5 .5 1.5 .5 1.5 .7 1.5 .6 1.5 .8 1.5 .6 1.5 .5 1.5 .6 1.5 .5 1.5 .7 1.5 .9 1.5 .7 1.5 .8 1.5 .6 1.5 .6 1.5 .7 1.5 .7 1.5 .8 1.5 .5 1.5 .7 1.5 .7 1.5 .6 1.5 .7 1.5 .5 1.5 .5 1.5 .5 1.5 .5 1.5 .5 1.5 .5 1.5 .5 2 .7 2 .7 2 .7 2 .7 2 .7 2 .8 2 .9 2 1 2 .9 2 1 2 .9 2 1.1 2 1 2 1 2 1.1 2 1.1 2 1.3 2 1.3 2 1.3 2 1.3 2 1.5 2 1.4 2 1.6 2 1.7 2 1.9 2 2.2 2 2.3 2 2.9 2 3 2 2.7 2 2.8 2 2.6 2 2.4 2 2.5 2 2.2 2 2.2 2 2.2 2 2 2 2 2 1.7 2 1.5 2 .9 2 .5 2 .4 2 .5 2.5 .3 2.5 0 2.5 .4 2.5 .7 2.5 .5 2.5 0 2.5 .1 2.5 .6 2.5 .6 2.5 .3" stroke="#35e402"/><path d="M49.6 38.8l1.5 1.1 1.5 .8 1.5 .6 1.5 .5 1.5 1 1.5 .7 1.5 .5 1.5 .5 1.5 .3 1.5 .7 1.5 .6 1.5 1 1.5 .6 1.5 .4 1.5 .6 1.5 .7 1.5 .5 1.5 .2 1.5 .1 1.5 .5 1.5 .7 1.5 .9 1.5 .5 1.5 .7 1.5 .4 1.5 .7 1.5 .4 1.5 .8 1.5 .3 1.5 .2 1.5 .9 1.5 .7 1.5 .8 1.5 .8 1.5 .5 1.5 .7 1.5 .8 1.5 .6 1.5 .5 1.5 .3 1.5 .5 1.5 .7 1.5 .8 1.5 .7 1.5 .4 1.5 .4 1.5 .5 1.5 .8 1.5 .6 1.5 .5 1.5 .6 1.5 .7 1.5 .9 1.5 .6 1.5 .8 1.5 .5 1.5 .6 1.5 .8 1.5 .7 1.5 .7 1.5 .6 1.5 .6 1.5 .7 1.5 .8 1.5 .7 1.5 .6 1.5 .5 1.5 .4 1.5 .5 1.5 .5 1.5 .5 1.5 .5 1.5 .5 1.5 .5 2 .7 2 .7 2 .6 2 .7 2 .7 2 .7 2 1 2 .9 2 .9 2 1 2 .9 2 1.1 2 1 2 1 2 1.1 2 1.1 2 1.2 2 1.4 2 1.2 2 1.4 2 1.4 2 1.4 2 1.6 2 1.7 2 1.8 2 2.3 2 2.3 2 2.8 2 2.9 2 2.8 2 2.7 2 2.6 2 2.5 2 2.4 2 2.3 2 2.2 2 2.1 2 2.1 2 2 2 1.8 2 1.4 2 .7 2 .5 2 .7 2 .6 2.5 .4 2.5 .4 2.5 .4 2.5 .1 2.5 0 2.5 .9 2.5 .4 2.5 .3 2.5 .4 2.5 .1" stroke="#32e402"/><path d="M49.6 39.8l1.5 .7 1.5 .5 1.5 .8 1.5 .6 1.5 .4 1.5 .7 1.5 .9 1.5 .9 1.5 .7 1.5 .7 1.5 .3 1.5 .4 1.5 .3 1.5 .8 1.5 .5 1.5 .7 1.5 .4 1.5 .4 1.5 .7 1.5 .6 1.5 .7 1.5 .6 1.5 .4 1.5 .4 1.5 .4 1.5 .4 1.5 .5 1.5 .7 1.5 .9 1.5 .7 1.5 .4 1.5 .7 1.5 .6 1.5 .7 1.5 .6 1.5 .6 1.5 .5 1.5 .6 1.5 .5 1.5 .5 1.5 .7 1.5 .8 1.5 .4 1.5 .6 1.5 .5 1.5 .5 1.5 .6 1.5 .7 1.5 .6 1.5 .6 1.5 .5 1.5 .6 1.5 .9 1.5 .7 1.5 .8 1.5 .7 1.5 .7 1.5 .5 1.5 .7 1.5 .8 1.5 .7 1.5 .6 1.5 .7 1.5 .6 1.5 .6 1.5 .8 1.5 .6 1.5 .4 1.5 .5 1.5 .5 1.5 .4 1.5 .5 1.5 .4 1.5 .6 2 .6 2 .6 2 .6 2 .7 2 .6 2 .8 2 .9 2 .9 2 .9 2 1 2 .9 2 1 2 1.1 2 1 2 1 2 1.1 2 1.3 2 1.3 2 1.3 2 1.3 2 1.4 2 1.4 2 1.6 2 1.6 2 1.9 2 2.2 2 2.3 2 2.9 2 2.8 2 2.8 2 2.7 2 2.6 2 2.4 2 2.5 2 2.2 2 2.3 2 2.1 2 2.1 2 2 2 1.8 2 1.5 2 .8 2 .9 2 .5 2 .2 2.5 0 2.5 .5 2.5 .8 2.5 .4 2.5 .2 2.5 .2 2.5 .4 2.5 .3 2.5 .1 2.5 .6" stroke="#2fe402"/><path d="M49.6 40l1.5 .5 1.5 .5 1.5 .7 1.5 .8 1.5 .6 1.5 .7 1.5 .7 1.5 .7 1.5 .8 1.5 1 1.5 .5 1.5 .8 1.5 .1 1.5 .3 1.5 .6 1.5 .5 1.5 .8 1.5 .6 1.5 .7 1.5 .5 1.5 .7 1.5 .5 1.5 1 1.5 .4 1.5 .5 1.5 .5 1.5 .2 1.5 .5 1.5 .7 1.5 .7 1.5 .9 1.5 .6 1.5 .7 1.5 .6 1.5 .5 1.5 .5 1.5 .9 1.5 .4 1.5 .5 1.5 .3 1.5 .3 1.5 .7 1.5 .7 1.5 .6 1.5 .6 1.5 .5 1.5 .5 1.5 .5 1.5 .7 1.5 .7 1.5 .6 1.5 .6 1.5 .5 1.5 .7 1.5 .5 1.5 .8 1.5 .8 1.5 .8 1.5 .7 1.5 .7 1.5 .6 1.5 .6 1.5 .6 1.5 .7 1.5 .7 1.5 .6 1.5 .6 1.5 .4 1.5 .5 1.5 .5 1.5 .5 1.5 .5 1.5 .5 1.5 .4 2 .6 2 .6 2 .7 2 .6 2 .6 2 .7 2 1 2 .9 2 .9 2 .9 2 .9 2 1 2 1 2 1.1 2 1 2 1.1 2 1.2 2 1.3 2 1.3 2 1.3 2 1.4 2 1.4 2 1.6 2 1.6 2 1.8 2 2.3 2 2.2 2 2.9 2 2.8 2 2.8 2 2.7 2 2.6 2 2.4 2 2.5 2 2.2 2 2.2 2 2.2 2 2.1 2 2 2 1.8 2 1.5 2 .8 2 1.3 2 .6 2 .3 2.5 .1 2.5 .1 2.5 .5 2.5 .3 2.5 .3 2.5 .6 2.5 .4 2.5 .1 2.5 0 2.5 .3" stroke="#2ce402"/><path d="M49.6 40.7l1.5 .7 1.5 .9 1.5 1 1.5 .9 1.5 .6 1.5 .2 1.5 .5 1.5 .4 1.5 .7 1.5 1.1 1.5 .6 1.5 .5 1.5 .7 1.5 .4 1.5 .6 1.5 .7 1.5 .6 1.5 .4 1.5 .3 1.5 .2 1.5 .3 1.5 .9 1.5 .6 1.5 .9 1.5 .6 1.5 .5 1.5 .4 1.5 .3 1.5 .6 1.5 .6 1.5 .6 1.5 .4 1.5 .8 1.5 .5 1.5 .5 1.5 .9 1.5 .9 1.5 .6 1.5 .5 1.5 .4 1.5 .4 1.5 .4 1.5 .6 1.5 .6 1.5 .6 1.5 .7 1.5 .5 1.5 .5 1.5 .7 1.5 .8 1.5 .8 1.5 .5 1.5 .6 1.5 .6 1.5 .6 1.5 .8 1.5 .7 1.5 .7 1.5 .8 1.5 .7 1.5 .6 1.5 .6 1.5 .6 1.5 .6 1.5 .7 1.5 .6 1.5 .5 1.5 .4 1.5 .5 1.5 .5 1.5 .5 1.5 .4 1.5 .5 1.5 .4 2 .6 2 .5 2 .7 2 .6 2 .6 2 .7 2 .9 2 .9 2 .9 2 .9 2 .9 2 1 2 1 2 1 2 1.1 2 1 2 1.3 2 1.3 2 1.2 2 1.3 2 1.4 2 1.4 2 1.6 2 1.6 2 1.8 2 2.2 2 2.2 2 2.9 2 2.8 2 2.7 2 2.7 2 2.6 2 2.4 2 2.5 2 2.3 2 2.2 2 2.2 2 2.1 2 2.1 2 1.8 2 1.5 2 .9 2 .6 2 .4 2 .4 2.5 .3 2.5 .4 2.5 .6 2.5 .4 2.5 .1 2.5 0 2.5 .4 2.5 .4 2.5 .6 2.5 .3" stroke="#29e303"/><path d="M49.6 41.2l1.5 .7 1.5 1 1.5 1 1.5 .7 1.5 .6 1.5 .7 1.5 .6 1.5 .8 1.5 .4 1.5 .4 1.5 .4 1.5 .6 1.5 .7 1.5 .7 1.5 .5 1.5 .3 1.5 .7 1.5 .9 1.5 .4 1.5 0 1.5 .4 1.5 .4 1.5 .8 1.5 .7 1.5 .4 1.5 .4 1.5 .8 1.5 .7 1.5 .8 1.5 .3 1.5 .4 1.5 .6 1.5 .4 1.5 .9 1.5 .7 1.5 .5 1.5 .7 1.5 .7 1.5 1 1.5 .5 1.5 .4 1.5 .2 1.5 .6 1.5 .6 1.5 .7 1.5 .2 1.5 .5 1.5 .9 1.5 .9 1.5 .6 1.5 .6 1.5 .6 1.5 .6 1.5 .7 1.5 .6 1.5 .5 1.5 .6 1.5 .6 1.5 .9 1.5 .7 1.5 .7 1.5 .7 1.5 .5 1.5 .7 1.5 .6 1.5 .6 1.5 .4 1.5 .4 1.5 .4 1.5 .5 1.5 .5 1.5 .4 1.5 .5 1.5 .4 2 .6 2 .6 2 .6 2 .5 2 .7 2 .7 2 .8 2 .9 2 .9 2 .9 2 .9 2 1 2 1 2 1 2 1 2 1.1 2 1.2 2 1.3 2 1.3 2 1.2 2 1.4 2 1.4 2 1.5 2 1.7 2 1.8 2 2.2 2 2.2 2 2.8 2 2.8 2 2.7 2 2.7 2 2.6 2 2.4 2 2.5 2 2.2 2 2.3 2 2.2 2 2.1 2 2.1 2 1.8 2 1.5 2 .8 2 1.2 2 .4 2 .1 2.5 0 2.5 .8 2.5 .2 2.5 .4 2.5 .8 2.5 .1 2.5 .1 2.5 .6 2.5 0 2.5 .3" stroke="#26e303"/><path d="M49.6 42.3l1.5 .9 1.5 1.1 1.5 .4 1.5 .6 1.5 .4 1.5 .2 1.5 .6 1.5 .9 1.5 .5 1.5 .7 1.5 .6 1.5 .5 1.5 .9 1.5 .9 1.5 .3 1.5 .3 1.5 .2 1.5 .3 1.5 .5 1.5 .8 1.5 .6 1.5 .6 1.5 .3 1.5 .6 1.5 .8 1.5 .9 1.5 .4 1.5 .3 1.5 .4 1.5 .5 1.5 .5 1.5 .9 1.5 .5 1.5 .5 1.5 .6 1.5 .9 1.5 .6 1.5 .7 1.5 .5 1.5 .5 1.5 .2 1.5 .6 1.5 .5 1.5 .7 1.5 .5 1.5 .5 1.5 .6 1.5 .7 1.5 .8 1.5 .8 1.5 .5 1.5 .4 1.5 .5 1.5 .8 1.5 .7 1.5 .7 1.5 .7 1.5 .7 1.5 .6 1.5 .8 1.5 .8 1.5 .6 1.5 .6 1.5 .5 1.5 .6 1.5 .7 1.5 .5 1.5 .4 1.5 .4 1.5 .4 1.5 .4 1.5 .5 1.5 .5 1.5 .4 2 .5 2 .5 2 .6 2 .5 2 .6 2 .7 2 .9 2 .8 2 .9 2 .9 2 .9 2 1 2 1 2 1 2 1 2 1 2 1.3 2 1.2 2 1.3 2 1.3 2 1.3 2 1.4 2 1.5 2 1.6 2 1.8 2 2.2 2 2.2 2 2.8 2 2.8 2 2.7 2 2.7 2 2.6 2 2.4 2 2.5 2 2.2 2 2.3 2 2.2 2 2.2 2 2 2 1.9 2 1.5 2 1 2 1.1 2 .4 2 .3 2.5-.1 2.5 .5 2.5 .6 2.5 .3 2.5 .5 2.5 .4 2.5 .1 2.5-.1 2.5 .6 2.5 .4" stroke="#24e303"/><path d="M49.6 43.2l1.5 .5 1.5 .4 1.5 .7 1.5 .2 1.5 .8 1.5 1.1 1.5 .9 1.5 1 1.5 .4 1.5 .1 1.5 .5 1.5 .7 1.5 .7 1.5 .5 1.5 .5 1.5 .3 1.5 .6 1.5 .8 1.5 .6 1.5 .4 1.5 .3 1.5 .2 1.5 .2 1.5 .7 1.5 1.2 1.5 .6 1.5 .4 1.5 .4 1.5 .3 1.5 .4 1.5 .7 1.5 .8 1.5 .6 1.5 .4 1.5 .9 1.5 .7 1.5 .7 1.5 .7 1.5 .5 1.5 .1 1.5 .5 1.5 .6 1.5 .8 1.5 .8 1.5 .5 1.5 .6 1.5 .3 1.5 .5 1.5 .7 1.5 .7 1.5 .6 1.5 .6 1.5 .7 1.5 .7 1.5 .7 1.5 .8 1.5 .5 1.5 .6 1.5 .6 1.5 .5 1.5 .8 1.5 .7 1.5 .7 1.5 .6 1.5 .6 1.5 .6 1.5 .4 1.5 .3 1.5 .5 1.5 .4 1.5 .4 1.5 .4 1.5 .5 1.5 .4 2 .5 2 .5 2 .6 2 .5 2 .6 2 .7 2 .8 2 .9 2 .8 2 .9 2 .9 2 1 2 .9 2 1 2 1 2 1.1 2 1.2 2 1.3 2 1.2 2 1.3 2 1.3 2 1.4 2 1.5 2 1.6 2 1.8 2 2.2 2 2.1 2 2.8 2 2.8 2 2.7 2 2.7 2 2.5 2 2.4 2 2.5 2 2.3 2 2.3 2 2.2 2 2.2 2 2 2 1.9 2 1.5 2 1.1 2 .8 2 .1 2 .1 2.5 .5 2.5 .5 2.5 .3 2.5 .5 2.5 .4 2.5 .1 2.5 .3 2.5 .6 2.5 .7 2.5 .3" stroke="#22e303"/><path d="M49.6 43.1l1.5 .7 1.5 1.1 1.5 1 1.5 .9 1.5 .3 1.5 .4 1.5 .5 1.5 .4 1.5 .9 1.5 .5 1.5 .7 1.5 .7 1.5 .8 1.5 .6 1.5 .4 1.5 .3 1.5 .1 1.5 .3 1.5 .7 1.5 .9 1.5 .4 1.5 .7 1.5 .3 1.5 .7 1.5 .6 1.5 .5 1.5 .2 1.5 .1 1.5 .9 1.5 .7 1.5 .9 1.5 .7 1.5 .4 1.5 .5 1.5 .7 1.5 .4 1.5 .6 1.5 .5 1.5 .4 1.5 .7 1.5 .8 1.5 .8 1.5 .4 1.5 .3 1.5 .5 1.5 .5 1.5 .5 1.5 .6 1.5 .7 1.5 .5 1.5 .9 1.5 .7 1.5 .6 1.5 .6 1.5 .4 1.5 .7 1.5 .8 1.5 .7 1.5 .7 1.5 .6 1.5 .7 1.5 .7 1.5 .6 1.5 .6 1.5 .6 1.5 .5 1.5 .4 1.5 .5 1.5 .5 1.5 .4 1.5 .4 1.5 .4 1.5 .3 1.5 .5 2 .5 2 .5 2 .5 2 .5 2 .6 2 .6 2 .8 2 .9 2 .8 2 .9 2 .9 2 .9 2 1 2 1 2 1 2 1 2 1.3 2 1.2 2 1.2 2 1.3 2 1.3 2 1.4 2 1.5 2 1.6 2 1.8 2 2.1 2 2.2 2 2.7 2 2.8 2 2.7 2 2.6 2 2.6 2 2.4 2 2.5 2 2.3 2 2.3 2 2.2 2 2.2 2 2.1 2 1.8 2 1.6 2 1.1 2 .4 2 .6 2 .4 2.5 .6 2.5 .4 2.5 .5 2.5 .2 2.5-.1 2.5 .7 2.5 .6 2.5 .2 2.5 .2 2.5 .4" stroke="#20e303"/><path d="M49.6 43.6l1.5 .8 1.5 .7 1.5 .6 1.5 .7 1.5 .4 1.5 1.2 1.5 .6 1.5 .4 1.5 .6 1.5 .4 1.5 .7 1.5 .6 1.5 .4 1.5 .2 1.5 .5 1.5 .6 1.5 1 1.5 .4 1.5 .5 1.5 .8 1.5 .6 1.5 .9 1.5 .3 1.5 .1 1.5 .5 1.5 .7 1.5 .6 1.5 .4 1.5 .4 1.5 .7 1.5 1.2 1.5 .6 1.5 .6 1.5 .6 1.5 .7 1.5 .6 1.5 .7 1.5 .4 1.5 .4 1.5 .4 1.5 .6 1.5 .6 1.5 .3 1.5 .5 1.5 .6 1.5 .8 1.5 .4 1.5 .6 1.5 .5 1.5 .7 1.5 .5 1.5 .7 1.5 .4 1.5 .5 1.5 .6 1.5 .9 1.5 .6 1.5 .6 1.5 .7 1.5 .6 1.5 .9 1.5 .5 1.5 .6 1.5 .5 1.5 .7 1.5 .6 1.5 .4 1.5 .3 1.5 .4 1.5 .4 1.5 .5 1.5 .4 1.5 .4 1.5 .4 2 .5 2 .5 2 .5 2 .5 2 .5 2 .7 2 .8 2 .8 2 .8 2 .9 2 .9 2 .9 2 1 2 1 2 1 2 1 2 1.2 2 1.2 2 1.3 2 1.2 2 1.3 2 1.4 2 1.5 2 1.6 2 1.7 2 2.2 2 2.1 2 2.8 2 2.7 2 2.7 2 2.6 2 2.6 2 2.4 2 2.5 2 2.3 2 2.3 2 2.2 2 2.2 2 2.1 2 1.9 2 1.6 2 1.4 2 .7 2 .1 2 .3 2.5 .7 2.5 .2 2.5 .5 2.5 .6 2.5-.1 2.5 .1 2.5 .5 2.5 .1 2.5 0 2.5 .7" stroke="#1ee204"/><path d="M49.6 43.9l1.5 .8 1.5 .8 1.5 .9 1.5 1.1 1.5 .4 1.5 .7 1.5 .5 1.5 .9 1.5 .7 1.5 .2 1.5 .5 1.5 .2 1.5 .8 1.5 1.1 1.5 .8 1.5 .4 1.5 .5 1.5 .5 1.5 .9 1.5 .2 1.5 0 1.5 .4 1.5 .6 1.5 .7 1.5 .8 1.5 .4 1.5 .4 1.5 .7 1.5 .8 1.5 .6 1.5 .2 1.5 .2 1.5 .5 1.5 .8 1.5 .8 1.5 .5 1.5 .5 1.5 .6 1.5 .7 1.5 .8 1.5 .5 1.5 .1 1.5 .4 1.5 .5 1.5 .6 1.5 .6 1.5 .4 1.5 .5 1.5 .9 1.5 .8 1.5 .5 1.5 .7 1.5 .4 1.5 .5 1.5 .7 1.5 .8 1.5 .5 1.5 .6 1.5 .7 1.5 .8 1.5 .8 1.5 .6 1.5 .6 1.5 .4 1.5 .6 1.5 .7 1.5 .4 1.5 .4 1.5 .3 1.5 .4 1.5 .4 1.5 .5 1.5 .3 1.5 .4 2 .4 2 .5 2 .5 2 .5 2 .5 2 .6 2 .8 2 .8 2 .8 2 .9 2 .8 2 1 2 1 2 .9 2 1 2 1 2 1.2 2 1.3 2 1.2 2 1.2 2 1.3 2 1.3 2 1.6 2 1.5 2 1.8 2 2.1 2 2.1 2 2.8 2 2.7 2 2.7 2 2.6 2 2.6 2 2.4 2 2.5 2 2.2 2 2.3 2 2.3 2 2.2 2 2.1 2 1.9 2 1.6 2 1.6 2 .5 2 .2 2 .6 2.5 .2 2.5 .3 2.5 .7 2.5 .3 2.5 .2 2.5 .2 2.5 .1 2.5 .2 2.5 .6 2.5 .6" stroke="#1ce204"/><path d="M49.6 45l1.5 .4 1.5 .7 1.5 .9 1.5 .7 1.5 .3 1.5 .7 1.5 1 1.5 1 1.5 .9 1.5 .2 1.5 .1 1.5 .5 1.5 .9 1.5 .5 1.5 .8 1.5 .2 1.5 .7 1.5 .7 1.5 1 1.5 0 1.5 .1 1.5 .2 1.5 .7 1.5 1 1.5 .7 1.5 .6 1.5 .4 1.5 .5 1.5 .7 1.5 .2 1.5 .6 1.5 .1 1.5 .5 1.5 1 1.5 .9 1.5 .5 1.5 .4 1.5 .6 1.5 .6 1.5 .4 1.5 .5 1.5 .1 1.5 .5 1.5 .7 1.5 .8 1.5 .7 1.5 .4 1.5 .3 1.5 .6 1.5 .7 1.5 .7 1.5 .6 1.5 .6 1.5 .6 1.5 .9 1.5 .7 1.5 .5 1.5 .5 1.5 .6 1.5 .7 1.5 .8 1.5 .6 1.5 .5 1.5 .6 1.5 .7 1.5 .7 1.5 .4 1.5 .2 1.5 .3 1.5 .4 1.5 .4 1.5 .4 1.5 .4 1.5 .3 2 .5 2 .5 2 .4 2 .5 2 .5 2 .5 2 .8 2 .9 2 .8 2 .8 2 .8 2 1 2 .9 2 1 2 1 2 1 2 1.2 2 1.2 2 1.2 2 1.2 2 1.4 2 1.2 2 1.6 2 1.5 2 1.7 2 2.2 2 2.1 2 2.7 2 2.7 2 2.7 2 2.6 2 2.5 2 2.4 2 2.5 2 2.3 2 2.3 2 2.3 2 2.2 2 2.1 2 2 2 1.6 2 1.3 2 1.1 2 .2 2 .2 2.5 .6 2.5-.2 2.5 .6 2.5 .7 2.5 .1 2.5 .2 2.5 .3 2.5 .3 2.5 .2 2.5 .6" stroke="#1ae204"/><path d="M49.6 45.6l1.5 .6 1.5 1.1 1.5 .7 1.5 .9 1.5 .4 1.5 .3 1.5 .7 1.5 .7 1.5 .4 1.5 .7 1.5 .2 1.5 .3 1.5 .7 1.5 .8 1.5 .8 1.5 .6 1.5 .6 1.5 .4 1.5 .3 1.5 .2 1.5 .7 1.5 .4 1.5 .7 1.5 .2 1.5 .2 1.5 .7 1.5 .5 1.5 1.1 1.5 .6 1.5 .9 1.5 .3 1.5 .4 1.5 .2 1.5 .8 1.5 .6 1.5 .6 1.5 .7 1.5 .3 1.5 .7 1.5 .5 1.5 1 1.5 .7 1.5 .3 1.5 .5 1.5 .4 1.5 .4 1.5 .5 1.5 .6 1.5 .8 1.5 .5 1.5 .6 1.5 .7 1.5 .6 1.5 .7 1.5 .8 1.5 .6 1.5 .5 1.5 .6 1.5 .5 1.5 .7 1.5 .6 1.5 .8 1.5 .5 1.5 .7 1.5 .5 1.5 .6 1.5 .5 1.5 .3 1.5 .3 1.5 .3 1.5 .3 1.5 .3 1.5 .4 1.5 .4 2 .4 2 .5 2 .4 2 .4 2 .5 2 .6 2 .8 2 .8 2 .8 2 .8 2 .8 2 1 2 .9 2 1 2 .9 2 1 2 1.2 2 1.2 2 1.2 2 1.3 2 1.3 2 1.2 2 1.6 2 1.5 2 1.7 2 2.1 2 2.1 2 2.7 2 2.7 2 2.7 2 2.6 2 2.5 2 2.4 2 2.5 2 2.3 2 2.3 2 2.3 2 2.2 2 2.2 2 1.9 2 1.6 2 1.4 2 .5 2 .4 2 .4 2.5 .5 2.5 .3 2.5 .4 2.5 .8 2.5 .1 2.5 .2 2.5-.1 2.5 .5 2.5 .6 2.5 .2" stroke="#19e204"/><path d="M49.6 46.8l1.5 .6 1.5 .8 1.5 .1 1.5 .3 1.5 .7 1.5 1.1 1.5 .7 1.5 .8 1.5 .2 1.5 .9 1.5 1 1.5 .4 1.5 .2 1.5-.2 1.5 .6 1.5 .8 1.5 .9 1.5 .1 1.5 .8 1.5 .4 1.5 1 1.5 .2 1.5-.1 1.5 .5 1.5 .4 1.5 .8 1.5 .3 1.5 .7 1.5 .7 1.5 .6 1.5 .9 1.5 .2 1.5 .2 1.5 .6 1.5 .8 1.5 .7 1.5 .5 1.5 .5 1.5 .7 1.5 .9 1.5 .4 1.5 .5 1.5 .3 1.5 .5 1.5 .7 1.5 .3 1.5 .4 1.5 .6 1.5 .9 1.5 .9 1.5 .6 1.5 .4 1.5 .6 1.5 .7 1.5 .6 1.5 .5 1.5 .5 1.5 .6 1.5 .9 1.5 .7 1.5 .6 1.5 .6 1.5 .5 1.5 .7 1.5 .5 1.5 .4 1.5 .4 1.5 .4 1.5 .3 1.5 .4 1.5 .3 1.5 .4 1.5 .3 1.5 .3 2 .4 2 .4 2 .5 2 .4 2 .5 2 .5 2 .8 2 .8 2 .8 2 .8 2 .8 2 .9 2 1 2 .9 2 1 2 1 2 1.2 2 1.2 2 1.2 2 1.2 2 1.3 2 1.2 2 1.5 2 1.6 2 1.7 2 2.1 2 2.1 2 2.7 2 2.6 2 2.7 2 2.6 2 2.5 2 2.4 2 2.5 2 2.3 2 2.3 2 2.3 2 2.3 2 2.1 2 2 2 1.6 2 .9 2 1 2 .3 2 .3 2.5 .8 2.5 0 2.5 0 2.5 .5 2.5 .3 2.5 .4 2.5 .6 2.5 .1 2.5 .2 2.5 .3" stroke="#17e204"/><path d="M49.6 46.4l1.5 1 1.5 1 1.5 .5 1.5 .4 1.5 .3 1.5 1 1.5 .7 1.5 .3 1.5 .3 1.5 .5 1.5 .7 1.5 1.2 1.5 .9 1.5 .6 1.5 .5 1.5 .2 1.5 .9 1.5 .7 1.5 .2 1.5 .2 1.5 .1 1.5 .7 1.5 .8 1.5 .6 1.5 .7 1.5 .2 1.5 .7 1.5 .6 1.5 1 1.5 .4 1.5 .2 1.5 .3 1.5 .6 1.5 .7 1.5 .5 1.5 .4 1.5 .5 1.5 .5 1.5 .5 1.5 .9 1.5 .7 1.5 .3 1.5 .3 1.5 .6 1.5 .6 1.5 .6 1.5 .3 1.5 .5 1.5 .5 1.5 .6 1.5 .7 1.5 .9 1.5 .5 1.5 .7 1.5 .5 1.5 .7 1.5 .7 1.5 .6 1.5 .5 1.5 .6 1.5 .6 1.5 .7 1.5 .6 1.5 .6 1.5 .5 1.5 .6 1.5 .4 1.5 .4 1.5 .3 1.5 .4 1.5 .2 1.5 .3 1.5 .4 1.5 .3 2 .4 2 .4 2 .4 2 .4 2 .4 2 .6 2 .7 2 .8 2 .8 2 .8 2 .8 2 .9 2 1 2 .9 2 .9 2 1 2 1.2 2 1.2 2 1.2 2 1.2 2 1.3 2 1.2 2 1.5 2 1.6 2 1.6 2 2.1 2 2.1 2 2.7 2 2.7 2 2.5 2 2.7 2 2.5 2 2.4 2 2.5 2 2.3 2 2.3 2 2.3 2 2.3 2 2.1 2 2 2 1.6 2 1.1 2 .8 2 .4 2 .6 2.5 .6 2.5 .1 2.5-.1 2.5 .4 2.5 .2 2.5 .3 2.5 .4 2.5 .6 2.5 .3 2.5 .5" stroke="#16e204"/><path d="M49.6 47.9l1.5 .6 1.5 .3 1.5 .6 1.5 0 1.5 .4 1.5 .8 1.5 .7 1.5 .6 1.5 .8 1.5 .5 1.5 .5 1.5 .9 1.5 .9 1.5 .4 1.5 .4 1.5 .1 1.5 .1 1.5 .5 1.5 1.1 1.5 .8 1.5 .6 1.5 .5 1.5 .7 1.5 .6 1.5 .3 1.5 .8 1.5 .4 1.5 .3 1.5 .2 1.5 .6 1.5 .9 1.5 .9 1.5 .8 1.5 .5 1.5 .4 1.5 .5 1.5 .5 1.5 .6 1.5 .7 1.5 .2 1.5 .6 1.5 .2 1.5 .7 1.5 .5 1.5 .8 1.5 .6 1.5 .3 1.5 .5 1.5 .4 1.5 .5 1.5 .7 1.5 .5 1.5 .7 1.5 .4 1.5 .6 1.5 .7 1.5 .8 1.5 .7 1.5 .7 1.5 .4 1.5 .5 1.5 .6 1.5 .5 1.5 .7 1.5 .6 1.5 .6 1.5 .4 1.5 .2 1.5 .4 1.5 .4 1.5 .3 1.5 .3 1.5 .2 1.5 .3 2 .5 2 .4 2 .4 2 .4 2 .4 2 .5 2 .8 2 .7 2 .8 2 .7 2 .9 2 .9 2 .9 2 1 2 .9 2 1 2 1.1 2 1.2 2 1.2 2 1.2 2 1.3 2 1.2 2 1.5 2 1.5 2 1.7 2 2.1 2 2 2 2.7 2 2.7 2 2.5 2 2.6 2 2.6 2 2.4 2 2.5 2 2.3 2 2.3 2 2.3 2 2.3 2 2.2 2 2 2 1.6 2 1.3 2 .7 2 .2 2 .6 2.5 .8 2.5 .2 2.5 .3 2.5 .3 2.5 .1 2.5-.1 2.5 .4 2.5 .8 2.5 .4 2.5 0" stroke="#14e105"/><path d="M49.6 48.6l1.5 .7 1.5 .7 1.5 .4 1.5 .1 1.5 .7 1.5 .8 1.5 .6 1.5 .6 1.5 .6 1.5 .5 1.5 .8 1.5 1 1.5 .9 1.5 .2 1.5 .2 1.5 0 1.5 .5 1.5 .8 1.5 .6 1.5 .4 1.5 .2 1.5 .7 1.5 .5 1.5 1.1 1.5 .6 1.5 .1 1.5 0 1.5 .4 1.5 .3 1.5 1 1.5 .6 1.5 .5 1.5 .8 1.5 .4 1.5 .7 1.5 .7 1.5 .5 1.5 .5 1.5 0 1.5 .6 1.5 .4 1.5 .6 1.5 .8 1.5 .5 1.5 .5 1.5 .5 1.5 .4 1.5 .7 1.5 .6 1.5 .5 1.5 .5 1.5 .6 1.5 .6 1.5 .8 1.5 .7 1.5 .7 1.5 .5 1.5 .6 1.5 .6 1.5 .6 1.5 .6 1.5 .5 1.5 .6 1.5 .5 1.5 .7 1.5 .7 1.5 .3 1.5 .4 1.5 .2 1.5 .3 1.5 .2 1.5 .3 1.5 .4 1.5 .2 2 .4 2 .4 2 .4 2 .4 2 .4 2 .5 2 .7 2 .7 2 .8 2 .7 2 .9 2 .9 2 .9 2 .9 2 1 2 .9 2 1.2 2 1.2 2 1.1 2 1.2 2 1.3 2 1.2 2 1.5 2 1.5 2 1.7 2 2 2 2.1 2 2.6 2 2.7 2 2.5 2 2.6 2 2.6 2 2.4 2 2.5 2 2.3 2 2.3 2 2.3 2 2.3 2 2.2 2 2 2 1.7 2 .6 2 1 2 .8 2 .5 2.5 .3 2.5 .1 2.5 .5 2.5 .1 2.5 .4 2.5 .6 2.5 .7 2.5 .2 2.5 0 2.5 .4" stroke="#13e105"/><path d="M49.6 49l1.5 .9 1.5 .2 1.5 .1 1.5 .4 1.5 .7 1.5 .6 1.5 .7 1.5 .6 1.5 .5 1.5 .6 1.5 1 1.5 .4 1.5 1.1 1.5 .1 1.5 0 1.5 .4 1.5 .3 1.5 .6 1.5 .7 1.5 1 1.5 .3 1.5 .7 1.5 .2 1.5 .8 1.5 .6 1.5 .5 1.5 .4 1.5 .1 1.5 .6 1.5 .6 1.5 .7 1.5 1.1 1.5 .8 1.5 .4 1.5 .6 1.5 .4 1.5 .3 1.5 .7 1.5 .5 1.5 .6 1.5 .4 1.5 .5 1.5 .6 1.5 .8 1.5 .7 1.5 .5 1.5 .5 1.5 .3 1.5 .3 1.5 .6 1.5 .6 1.5 .7 1.5 .6 1.5 .7 1.5 .6 1.5 .6 1.5 .6 1.5 .6 1.5 .6 1.5 .5 1.5 .5 1.5 .5 1.5 .5 1.5 .7 1.5 .7 1.5 .5 1.5 .3 1.5 .2 1.5 .3 1.5 .3 1.5 .3 1.5 .2 1.5 .3 1.5 .3 2 .4 2 .4 2 .4 2 .3 2 .4 2 .5 2 .7 2 .8 2 .7 2 .7 2 .8 2 1 2 .9 2 .9 2 .9 2 1 2 1.1 2 1.2 2 1.2 2 1.1 2 1.3 2 1.2 2 1.5 2 1.5 2 1.6 2 2.1 2 2 2 2.7 2 2.6 2 2.6 2 2.5 2 2.5 2 2.5 2 2.4 2 2.4 2 2.3 2 2.4 2 2.3 2 2.1 2 2 2 1.7 2 1 2 1 2 .3 2 .3 2.5 .6 2.5 .3 2.5-.1 2.5 .2 2.5 .7 2.5 .5 2.5 .4 2.5 .1 2.5 .4 2.5 .2" stroke="#12e105"/><path d="M49.6 49.3l1.5 .5 1.5 .3 1.5 .5 1.5 .8 1.5 .4 1.5 .6 1.5 .4 1.5 .3 1.5 .8 1.5 1.3 1.5 .7 1.5 .7 1.5 .4 1.5 .4 1.5 .8 1.5 .3 1.5-.1 1.5 .4 1.5 .9 1.5 .7 1.5 .8 1.5 .6 1.5 .2 1.5 1.1 1.5 .4 1.5 .6 1.5 .4 1.5-.1 1.5 .6 1.5 .6 1.5 .8 1.5 .3 1.5 .6 1.5 .7 1.5 .9 1.5 .7 1.5 .4 1.5 .3 1.5 .3 1.5 .8 1.5 .4 1.5 .2 1.5 .4 1.5 .7 1.5 .6 1.5 .8 1.5 .3 1.5 .6 1.5 .4 1.5 .7 1.5 .6 1.5 .3 1.5 .4 1.5 .7 1.5 .7 1.5 .8 1.5 .5 1.5 .6 1.5 .6 1.5 .7 1.5 .7 1.5 .5 1.5 .4 1.5 .5 1.5 .6 1.5 .6 1.5 .4 1.5 .2 1.5 .3 1.5 .3 1.5 .4 1.5 .3 1.5 .2 1.5 .2 2 .4 2 .3 2 .3 2 .4 2 .4 2 .4 2 .8 2 .7 2 .7 2 .7 2 .8 2 .9 2 .9 2 .9 2 1 2 .9 2 1.2 2 1.1 2 1.2 2 1.1 2 1.3 2 1.2 2 1.5 2 1.5 2 1.6 2 2 2 2.1 2 2.6 2 2.6 2 2.6 2 2.5 2 2.5 2 2.4 2 2.5 2 2.4 2 2.3 2 2.4 2 2.3 2 2.2 2 2 2 1.7 2 1.3 2 1.2 2 .4 2-.1 2.5 .4 2.5 .6 2.5 .3 2.5 .2 2.5 .6 2.5-.1 2.5 .2 2.5 .5 2.5 .2 2.5 .3" stroke="#11e105"/><path d="M49.6 50l1.5 .8 1.5 .4 1.5 .6 1.5 .9 1.5 .7 1.5 .7 1.5 0 1.5 .1 1.5 .7 1.5 .7 1.5 1.1 1.5 .2 1.5 .7 1.5 .5 1.5 .7 1.5 .5 1.5-.1 1.5 .1 1.5 .5 1.5 .6 1.5 1 1.5 .2 1.5 .3 1.5 1.2 1.5 .4 1.5 .5 1.5-.1 1.5 .2 1.5 .9 1.5 .7 1.5 .6 1.5 .4 1.5 .7 1.5 1 1.5 .6 1.5 .7 1.5 .2 1.5 .1 1.5 .9 1.5 .4 1.5 .8 1.5 .5 1.5 .6 1.5 .7 1.5 .7 1.5 .2 1.5 .3 1.5 .4 1.5 .7 1.5 .7 1.5 .7 1.5 .5 1.5 .7 1.5 .8 1.5 .6 1.5 .5 1.5 .4 1.5 .5 1.5 .6 1.5 .8 1.5 .5 1.5 .4 1.5 .7 1.5 .7 1.5 .6 1.5 .4 1.5 .2 1.5 .2 1.5 .3 1.5 .2 1.5 .3 1.5 .2 1.5 .3 1.5 .3 2 .3 2 .3 2 .3 2 .4 2 .3 2 .5 2 .7 2 .7 2 .7 2 .7 2 .8 2 .9 2 .9 2 .9 2 .9 2 1 2 1.1 2 1.2 2 1.1 2 1.2 2 1.2 2 1.2 2 1.5 2 1.5 2 1.6 2 2 2 2 2 2.6 2 2.6 2 2.6 2 2.5 2 2.5 2 2.4 2 2.5 2 2.4 2 2.3 2 2.4 2 2.3 2 2.2 2 2 2 1.7 2 1.2 2 .9 2 .8 2 .6 2.5 0 2.5 .2 2.5 .3 2.5-.1 2.5 .8 2.5 .4 2.5 .1 2.5 .2 2.5 .3 2.5 .1" stroke="#10e105"/><path d="M49.6 50.3l1.5 .7 1.5 .7 1.5 .8 1.5 1 1.5 .6 1.5 .9 1.5 .1 1.5 0 1.5 .9 1.5 .7 1.5 .7 1.5 .2 1.5 .6 1.5 .6 1.5 .8 1.5 .8 1.5 .1 1.5-.2 1.5 .3 1.5 .7 1.5 .6 1.5 .7 1.5 .3 1.5 .6 1.5 .3 1.5 .9 1.5 .4 1.5 .2 1.5 .2 1.5 .3 1.5 .8 1.5 .9 1.5 .6 1.5 .6 1.5 .6 1.5 .4 1.5 .7 1.5 .7 1.5 0 1.5 .5 1.5 .4 1.5 1 1.5 .8 1.5 .4 1.5 .5 1.5 .4 1.5 .7 1.5 .5 1.5 .5 1.5 .3 1.5 .6 1.5 .9 1.5 .7 1.5 .8 1.5 .4 1.5 .5 1.5 .5 1.5 .6 1.5 .7 1.5 .4 1.5 .6 1.5 .5 1.5 .7 1.5 .6 1.5 .5 1.5 .5 1.5 .2 1.5 .2 1.5 .3 1.5 .2 1.5 .2 1.5 .3 1.5 .2 1.5 .3 2 .3 2 .3 2 .3 2 .3 2 .4 2 .4 2 .7 2 .7 2 .7 2 .7 2 .8 2 .9 2 .9 2 .9 2 .9 2 .9 2 1.1 2 1.2 2 1.1 2 1.2 2 1.2 2 1.2 2 1.5 2 1.4 2 1.7 2 2 2 2 2 2.5 2 2.6 2 2.6 2 2.5 2 2.5 2 2.4 2 2.5 2 2.3 2 2.4 2 2.4 2 2.3 2 2.3 2 2 2 1.7 2 .8 2 .9 2 .7 2 .5 2.5 .2 2.5 .1 2.5 .5 2.5 .2 2.5 .4 2.5 .6 2.5 .4 2.5 0 2.5 .4 2.5 .4" stroke="#0fe105"/><path d="M49.6 51.1l1.5 .4 1.5 .2 1.5 .6 1.5 .5 1.5 .7 1.5 .4 1.5 .5 1.5 .4 1.5 .8 1.5 .9 1.5 1.1 1.5 .5 1.5 .5 1.5 .4 1.5 .4 1.5 .9 1.5 .3 1.5 .5 1.5 .2 1.5 .4 1.5 .4 1.5 .7 1.5 .9 1.5 1 1.5 .5 1.5 .2 1.5 .5 1.5 .7 1.5 .5 1.5 .5 1.5 .2 1.5 .4 1.5 .4 1.5 .4 1.5 .9 1.5 .9 1.5 .5 1.5 .4 1.5 .6 1.5 .6 1.5 .5 1.5 .5 1.5 .5 1.5 .3 1.5 .3 1.5 .3 1.5 .4 1.5 .8 1.5 .5 1.5 .6 1.5 .5 1.5 .7 1.5 .7 1.5 .7 1.5 .5 1.5 .6 1.5 .2 1.5 .6 1.5 .6 1.5 .7 1.5 .6 1.5 .6 1.5 .4 1.5 .6 1.5 .6 1.5 .6 1.5 .4 1.5 .2 1.5 .2 1.5 .1 1.5 .3 1.5 .2 1.5 .3 1.5 .2 2 .3 2 .3 2 .3 2 .3 2 .3 2 .4 2 .7 2 .7 2 .7 2 .7 2 .8 2 .9 2 .9 2 .8 2 .9 2 1 2 1.1 2 1.1 2 1.1 2 1.2 2 1.2 2 1.2 2 1.5 2 1.4 2 1.6 2 2 2 2 2 2.6 2 2.6 2 2.5 2 2.5 2 2.5 2 2.4 2 2.5 2 2.3 2 2.4 2 2.4 2 2.4 2 2.2 2 2.1 2 1.7 2 1.2 2 .8 2 .6 2 .6 2.5 .5 2.5 .2 2.5 0 2.5 .4 2.5 .3 2.5 .4 2.5 .4 2.5 .6 2.5 .2 2.5 .1" stroke="#0fe105"/><path d="M49.6 50.8l1.5 .8 1.5 1 1.5 .4 1.5 .7 1.5 .4 1.5 .9 1.5 .8 1.5 .8 1.5 .2 1.5 .2 1.5 0 1.5 .8 1.5 .6 1.5 .8 1.5 .7 1.5 .2 1.5 .5 1.5 .5 1.5 .9 1.5 .3 1.5 .6 1.5 .4 1.5 .1 1.5 .3 1.5 .5 1.5 .9 1.5 1 1.5 .4 1.5 .6 1.5 .3 1.5 .8 1.5 .6 1.5 .6 1.5 .5 1.5 .1 1.5 .6 1.5 .4 1.5 1.1 1.5 .6 1.5 .8 1.5 .4 1.5 .4 1.5 .3 1.5 .5 1.5 .7 1.5 .4 1.5 .4 1.5 .4 1.5 .5 1.5 .9 1.5 .6 1.5 .8 1.5 .4 1.5 .4 1.5 .5 1.5 .6 1.5 .5 1.5 .6 1.5 .6 1.5 .5 1.5 .5 1.5 .7 1.5 .6 1.5 .6 1.5 .4 1.5 .5 1.5 .2 1.5 .1 1.5 .2 1.5 .3 1.5 .3 1.5 .2 1.5 .2 1.5 .2 2 .4 2 .2 2 .3 2 .3 2 .3 2 .4 2 .7 2 .6 2 .7 2 .7 2 .8 2 .8 2 .9 2 .9 2 .9 2 .9 2 1.1 2 1.2 2 1.1 2 1.1 2 1.2 2 1.2 2 1.4 2 1.5 2 1.6 2 2 2 2 2 2.5 2 2.6 2 2.5 2 2.5 2 2.5 2 2.4 2 2.5 2 2.3 2 2.4 2 2.4 2 2.4 2 2.2 2 2.1 2 1.7 2 1.3 2 1 2 .6 2 .2 2.5 0 2.5 .3 2.5 .5 2.5 .2 2.5 .5 2.5 .5 2.5 .2 2.5 .2 2.5-.1 2.5 .6" stroke="#0fe105"/><path d="M49.6 51.7l1.5 1.1 1.5 .7 1.5 1 1.5 .1 1.5 .3 1.5 .3 1.5 .7 1.5 .8 1.5 .1 1.5 .4 1.5 .2 1.5 1.1 1.5 1.1 1.5 .3 1.5 .4 1.5 .6 1.5 .5 1.5 .9 1.5 .1 1.5 .2 1.5 .3 1.5 .1 1.5 1.1 1.5 .7 1.5 .2 1.5 .6 1.5 .8 1.5 .5 1.5 1.1 1.5 .5 1.5 .3 1.5 .2 1.5 .4 1.5 1 1.5 .3 1.5 .6 1.5 .4 1.5 .6 1.5 1 1.5 .7 1.5 .5 1.5 .2 1.5 .7 1.5 .4 1.5 .6 1.5 .3 1.5 .3 1.5 .3 1.5 .7 1.5 .6 1.5 .8 1.5 .4 1.5 .6 1.5 .6 1.5 .6 1.5 .7 1.5 .4 1.5 .4 1.5 .4 1.5 .7 1.5 .6 1.5 .5 1.5 .4 1.5 .6 1.5 .6 1.5 .6 1.5 .3 1.5 .1 1.5 .1 1.5 .3 1.5 .2 1.5 .2 1.5 .2 1.5 .2 2 .3 2 .3 2 .3 2 .2 2 .3 2 .4 2 .7 2 .7 2 .6 2 .7 2 .7 2 .9 2 .9 2 .9 2 .8 2 1 2 1.1 2 1.1 2 1.1 2 1.1 2 1.2 2 1.2 2 1.4 2 1.5 2 1.6 2 1.9 2 2 2 2.5 2 2.6 2 2.5 2 2.5 2 2.5 2 2.4 2 2.5 2 2.3 2 2.4 2 2.4 2 2.4 2 2.3 2 2.1 2 1.7 2 1.3 2 .7 2 .5 2 .2 2.5 .6 2.5 .1 2.5 .3 2.5 .8 2.5 .3 2.5 .4 2.5 .4 2.5 .3 2.5 0 2.5 .6" stroke="#0fe005"/><path d="M49.6 51.5l1.5 1 1.5 1.4 1.5 .9 1.5 .4 1.5 .3 1.5 .1 1.5 .6 1.5 .9 1.5 .8 1.5 .7 1.5 .6 1.5 .6 1.5 .8 1.5 .5 1.5 .4 1.5 .5 1.5 .2 1.5 .2 1.5 .5 1.5 .7 1.5 1 1.5 .8 1.5 .5 1.5 .3 1.5-.3 1.5 .1 1.5 .9 1.5 .6 1.5 .8 1.5 .6 1.5 .4 1.5 .3 1.5 .4 1.5 .8 1.5 .5 1.5 .2 1.5 .5 1.5 .4 1.5 .5 1.5 1 1.5 .7 1.5 .3 1.5 .4 1.5 .3 1.5 .3 1.5 .4 1.5 .6 1.5 .8 1.5 .9 1.5 .5 1.5 .5 1.5 .2 1.5 .6 1.5 .7 1.5 .6 1.5 .5 1.5 .6 1.5 .5 1.5 .8 1.5 .6 1.5 .7 1.5 .5 1.5 .4 1.5 .4 1.5 .5 1.5 .6 1.5 .3 1.5 .3 1.5 .2 1.5 .1 1.5 .2 1.5 .2 1.5 .1 1.5 .2 2 .3 2 .3 2 .2 2 .2 2 .3 2 .4 2 .6 2 .7 2 .6 2 .7 2 .7 2 .9 2 .9 2 .8 2 .9 2 .9 2 1.1 2 1.1 2 1.1 2 1.1 2 1.2 2 1.2 2 1.4 2 1.5 2 1.5 2 2 2 1.9 2 2.6 2 2.5 2 2.5 2 2.5 2 2.5 2 2.4 2 2.5 2 2.3 2 2.4 2 2.5 2 2.3 2 2.3 2 2.1 2 1.7 2 1.2 2 .8 2 .8 2 .6 2.5 .2 2.5 .1 2.5 0 2.5 .7 2.5 .3 2.5 .3 2.5 .2 2.5 .3 2.5 .1 2.5 .5" stroke="#0fe005"/><path d="M49.6 52.9l1.5 .7 1.5 .5 1.5 .5 1.5 1 1.5 .3 1.5 .1 1.5 .7 1.5 .8 1.5 1.3 1.5 .9 1.5 .6 1.5 .4 1.5 .3 1.5 .3 1.5 .6 1.5 .8 1.5 .4 1.5 .2 1.5 .3 1.5 .4 1.5 .5 1.5 .8 1.5 .9 1.5 .5 1.5 .4 1.5 .3 1.5 .2 1.5 .4 1.5 .5 1.5 .7 1.5 .2 1.5 .2 1.5 .4 1.5 1.1 1.5 .6 1.5 1 1.5 .2 1.5 .5 1.5 .2 1.5 .5 1.5 .4 1.5 .4 1.5 .5 1.5 .6 1.5 .4 1.5 .5 1.5 .7 1.5 .6 1.5 .7 1.5 .5 1.5 .6 1.5 .2 1.5 .6 1.5 .6 1.5 .6 1.5 .5 1.5 .6 1.5 .5 1.5 .6 1.5 .8 1.5 .7 1.5 .6 1.5 .4 1.5 .5 1.5 .3 1.5 .5 1.5 .4 1.5 .2 1.5 .1 1.5 .2 1.5 .2 1.5 .2 1.5 .2 1.5 .3 2 .2 2 .1 2 .3 2 .2 2 .2 2 .4 2 .6 2 .7 2 .6 2 .7 2 .7 2 .9 2 .8 2 .9 2 .9 2 .9 2 1 2 1.1 2 1.1 2 1.1 2 1.2 2 1.2 2 1.4 2 1.4 2 1.6 2 2 2 1.9 2 2.5 2 2.5 2 2.5 2 2.5 2 2.5 2 2.4 2 2.5 2 2.4 2 2.4 2 2.4 2 2.4 2 2.3 2 2.1 2 1.7 2 1.2 2 .9 2 .7 2 .3 2.5 .4 2.5 .7 2.5 .3 2.5 0 2.5 .2 2.5 .4 2.5 .3 2.5 .3 2.5 .3 2.5 .8" stroke="#0fe005"/><path d="M49.6 53.1l1.5 .8 1.5 1.2 1.5 .5 1.5 .7 1.5 .6 1.5 .8 1.5 .6 1.5 .2 1.5 .4 1.5 .4 1.5 .6 1.5 .8 1.5 .7 1.5 .8 1.5 .1 1.5 1.2 1.5 .6 1.5 .3 1.5-.1 1.5 .1 1.5 .6 1.5 .5 1.5 .9 1.5 0 1.5 .5 1.5 1.1 1.5 .8 1.5 .5 1.5 0 1.5 .2 1.5 .1 1.5 .7 1.5 .6 1.5 .5 1.5 .3 1.5 .9 1.5 1 1.5 .4 1.5 .4 1.5 .3 1.5 .4 1.5 .5 1.5 .4 1.5 .3 1.5 .5 1.5 .6 1.5 .7 1.5 .7 1.5 .5 1.5 .4 1.5 .6 1.5 .5 1.5 .6 1.5 .4 1.5 .3 1.5 .6 1.5 .8 1.5 .7 1.5 .7 1.5 .3 1.5 .7 1.5 .6 1.5 .5 1.5 .4 1.5 .3 1.5 .5 1.5 .4 1.5 .3 1.5 .1 1.5 .2 1.5 .2 1.5 .2 1.5 .2 1.5 .1 2 .2 2 .2 2 .2 2 .3 2 .2 2 .3 2 .7 2 .6 2 .6 2 .6 2 .8 2 .8 2 .9 2 .8 2 .9 2 .9 2 1.1 2 1.1 2 1.1 2 1.1 2 1.1 2 1.2 2 1.4 2 1.4 2 1.6 2 1.9 2 1.9 2 2.5 2 2.6 2 2.4 2 2.5 2 2.5 2 2.4 2 2.5 2 2.4 2 2.4 2 2.4 2 2.4 2 2.3 2 2.1 2 1.8 2 1.1 2 .6 2 .6 2 .5 2.5 .6 2.5 .4 2.5 .7 2.5 .1 2.5 0 2.5 .4 2.5 .4 2.5 .5 2.5 .8 2.5 0" stroke="#0fe005"/><path d="M49.6 53.7l1.5 1.1 1.5 .2 1.5 .4 1.5 .8 1.5 1.3 1.5 .5 1.5 .2 1.5-.2 1.5 .8 1.5 .8 1.5 .7 1.5 .2 1.5 0 1.5 .9 1.5 1.3 1.5 .5 1.5 .5 1.5 .1 1.5 .6 1.5 1.2 1.5 0 1.5 .1 1.5 .1 1.5 .8 1.5 .9 1.5 .5 1.5 .3 1.5 .3 1.5 1.2 1.5 .5 1.5 .7 1.5 .5 1.5 .2 1.5 .7 1.5 .7 1.5 .1 1.5 .4 1.5 .4 1.5 .6 1.5 1 1.5 .2 1.5 .6 1.5 .4 1.5 .7 1.5 .6 1.5 .6 1.5 .1 1.5 .3 1.5 .7 1.5 .6 1.5 .3 1.5 .3 1.5 .5 1.5 .9 1.5 .7 1.5 .5 1.5 .4 1.5 .6 1.5 .6 1.5 .6 1.5 .5 1.5 .2 1.5 .6 1.5 .5 1.5 .5 1.5 .5 1.5 .2 1.5 .3 1.5 .2 1.5 .2 1.5 .1 1.5 .2 1.5 .2 1.5 .1 2 .2 2 .2 2 .2 2 .2 2 .2 2 .4 2 .6 2 .6 2 .6 2 .6 2 .8 2 .8 2 .9 2 .8 2 .9 2 .9 2 1 2 1.1 2 1.1 2 1.1 2 1.1 2 1.2 2 1.4 2 1.4 2 1.6 2 1.9 2 1.9 2 2.5 2 2.5 2 2.4 2 2.5 2 2.5 2 2.4 2 2.5 2 2.4 2 2.4 2 2.4 2 2.4 2 2.3 2 2.2 2 1.7 2 .8 2 1 2 .8 2 .4 2.5 .3 2.5 .8 2.5 .3 2.5 0 2.5 .4 2.5 .3 2.5 .3 2.5 .8 2.5 .5 2.5 .1" stroke="#0fe005"/><path d="M49.6 54.6l1.5 .8 1.5 1 1.5 .2 1.5 .7 1.5 1 1.5 .5 1.5 .5 1.5 .4 1.5-.2 1.5 .8 1.5 1 1.5 .8 1.5 .4 1.5 .6 1.5 .6 1.5 .6 1.5 .7 1.5 .1 1.5 .2 1.5 .1 1.5 .8 1.5 .6 1.5 0 1.5 .4 1.5 .3 1.5 1.1 1.5 .6 1.5 .6 1.5 .2 1.5 .2 1.5 .8 1.5 .3 1.5 .4 1.5 .1 1.5 .5 1.5 .6 1.5 .6 1.5 .8 1.5 .6 1.5 .5 1.5 .4 1.5 .9 1.5 .4 1.5 .3 1.5 .2 1.5 .5 1.5 .7 1.5 .6 1.5 .5 1.5 .4 1.5 .7 1.5 .6 1.5 .8 1.5 .7 1.5 .4 1.5 .4 1.5 .5 1.5 .6 1.5 .7 1.5 .3 1.5 .5 1.5 .6 1.5 .6 1.5 .6 1.5 .5 1.5 .5 1.5 .2 1.5 .1 1.5 .2 1.5 0 1.5 .1 1.5 .2 1.5 .1 1.5 .2 2 .1 2 .2 2 .2 2 .2 2 .2 2 .3 2 .6 2 .6 2 .6 2 .6 2 .7 2 .9 2 .8 2 .9 2 .8 2 .9 2 1 2 1.1 2 1.1 2 1.1 2 1.2 2 1.1 2 1.4 2 1.4 2 1.5 2 1.9 2 1.9 2 2.5 2 2.5 2 2.4 2 2.5 2 2.5 2 2.4 2 2.5 2 2.4 2 2.4 2 2.4 2 2.5 2 2.3 2 2.1 2 1.8 2 1.6 2 .8 2 .1 2 .2 2.5 .4 2.5 .4 2.5 .4 2.5 .6 2.5 .2 2.5 .1 2.5 .4 2.5 .3 2.5 .1 2.5 .8" stroke="#0fe005"/><path d="M49.6 55.3l1.5 .5 1.5 .4 1.5 .9 1.5 .3 1.5 .6 1.5 .5 1.5 .4 1.5 .9 1.5 1 1.5 .7 1.5 .5 1.5-.2 1.5 .2 1.5 .3 1.5 .8 1.5 .5 1.5 .3 1.5 .9 1.5 .3 1.5 .3 1.5 .8 1.5 .7 1.5 .5 1.5-.2 1.5 .1 1.5 .6 1.5 .5 1.5 .9 1.5 .8 1.5 .4 1.5 .4 1.5 .8 1.5 .7 1.5 .7 1.5 .6 1.5 .2 1.5 .2 1.5 .3 1.5 1 1.5 .8 1.5 .6 1.5 .4 1.5 .5 1.5 .7 1.5 .4 1.5 .5 1.5 .7 1.5 .3 1.5 .1 1.5 .5 1.5 .6 1.5 .7 1.5 .7 1.5 .7 1.5 .4 1.5 .5 1.5 .5 1.5 .5 1.5 .5 1.5 .4 1.5 .6 1.5 .4 1.5 .5 1.5 .4 1.5 .7 1.5 .5 1.5 .2 1.5 0 1.5 .2 1.5 .1 1.5 .2 1.5 .1 1.5 .1 1.5 .1 2 .2 2 .2 2 .2 2 .1 2 .2 2 .3 2 .6 2 .6 2 .6 2 .6 2 .7 2 .9 2 .8 2 .8 2 .9 2 .8 2 1.1 2 1.1 2 1 2 1.1 2 1.2 2 1.1 2 1.4 2 1.4 2 1.5 2 1.9 2 1.9 2 2.5 2 2.4 2 2.5 2 2.5 2 2.4 2 2.4 2 2.5 2 2.4 2 2.4 2 2.5 2 2.4 2 2.3 2 2.2 2 1.8 2 .9 2 .9 2 .6 2 .4 2.5 .4 2.5 .5 2.5 .6 2.5 0 2.5 0 2.5 .4 2.5 .7 2.5 .4 2.5 .3 2.5 .7" stroke="#0fe005"/><path d="M49.6 55.2l1.5 1.2 1.5 .8 1.5 .1 1.5 .6 1.5 .5 1.5 .9 1.5 .2 1.5 .1 1.5 .1 1.5 1.1 1.5 1.2 1.5 .9 1.5 .4 1.5 .4 1.5 .3 1.5 .7 1.5 .6 1.5 0 1.5 .2 1.5 .6 1.5 .9 1.5 .9 1.5 .4 1.5 .5 1.5 .6 1.5 .3 1.5 .5 1.5 .2 1.5 .3 1.5 .3 1.5 1 1.5 .7 1.5 .6 1.5 .4 1.5 .5 1.5 .5 1.5 .6 1.5 .5 1.5 0 1.5 .4 1.5 .8 1.5 .7 1.5 .6 1.5 .5 1.5 .2 1.5 .3 1.5 .8 1.5 .3 1.5 .3 1.5 .2 1.5 .8 1.5 .7 1.5 .7 1.5 .4 1.5 .6 1.5 .4 1.5 .6 1.5 .6 1.5 .3 1.5 .4 1.5 .6 1.5 .7 1.5 .5 1.5 .5 1.5 .5 1.5 .4 1.5 .3 1.5 .2 1.5 0 1.5 .1 1.5 .1 1.5 .2 1.5 .2 1.5 .2 2 .1 2 .1 2 .2 2 .1 2 .2 2 .2 2 .6 2 .6 2 .6 2 .6 2 .7 2 .8 2 .9 2 .8 2 .8 2 .9 2 1 2 1.1 2 1 2 1.1 2 1.2 2 1.1 2 1.4 2 1.3 2 1.6 2 1.9 2 1.8 2 2.5 2 2.4 2 2.5 2 2.5 2 2.4 2 2.4 2 2.5 2 2.4 2 2.4 2 2.5 2 2.4 2 2.4 2 2.1 2 1.8 2 1.2 2 .6 2 .3 2 .8 2.5 .7 2.5 .1 2.5 .6 2.5 .3 2.5 0 2.5 .5 2.5 .6 2.5 .3 2.5 .6 2.5 .3" stroke="#0fdf05"/><path d="M49.6 56.4l1.5 .5 1.5 .7 1.5-.2 1.5 .6 1.5 .1 1.5 .6 1.5 1.1 1.5 1 1.5 .9 1.5 .6 1.5-.2 1.5 .4 1.5 .1 1.5 .9 1.5 .6 1.5 .3 1.5 .6 1.5 .4 1.5 .6 1.5 1 1.5 .6 1.5 .2 1.5 .1 1.5 0 1.5 .3 1.5 .7 1.5 1 1.5 1 1.5 .7 1.5 .1 1.5 .7 1.5 .3 1.5 .4 1.5 .8 1.5 .4 1.5 .3 1.5 .4 1.5 .5 1.5 .8 1.5 .8 1.5 .9 1.5 .3 1.5 .3 1.5 .5 1.5 0 1.5 .5 1.5 .7 1.5 .6 1.5 .8 1.5 .6 1.5 .4 1.5 .5 1.5 .4 1.5 .7 1.5 .5 1.5 .5 1.5 .3 1.5 .3 1.5 .6 1.5 .8 1.5 .6 1.5 .5 1.5 .5 1.5 .4 1.5 .3 1.5 .4 1.5 .3 1.5 .1 1.5 .1 1.5 .1 1.5 .1 1.5 .1 1.5 .2 1.5 .1 2 .1 2 .1 2 .1 2 .2 2 .1 2 .3 2 .6 2 .5 2 .6 2 .6 2 .7 2 .8 2 .8 2 .8 2 .9 2 .8 2 1.1 2 1 2 1.1 2 1 2 1.2 2 1.1 2 1.4 2 1.3 2 1.5 2 1.9 2 1.9 2 2.4 2 2.5 2 2.4 2 2.5 2 2.4 2 2.4 2 2.5 2 2.4 2 2.4 2 2.5 2 2.5 2 2.3 2 2.2 2 1.8 2 1.4 2 .7 2 .3 2 .8 2.5 .7 2.5 .4 2.5 .1 2.5 .4 2.5 .2 2.5 .2 2.5 .3 2.5 .7 2.5 .6 2.5-.1" stroke="#0fdf05"/><path d="M49.6 57.3l1.5 .5 1.5-.2 1.5-.1 1.5 .7 1.5 .6 1.5 1 1.5 .8 1.5 .2 1.5 .7 1.5 .9 1.5 .7 1.5 .4 1.5 .3 1.5 .4 1.5-.1 1.5 .4 1.5 1.2 1.5 .9 1.5 .6 1.5 .2 1.5 .6 1.5 .4 1.5 .9 1.5 .5 1.5-.2 1.5 0 1.5 .8 1.5 .8 1.5 .5 1.5 .7 1.5 .6 1.5 .7 1.5 .5 1.5 .8 1.5 .2 1.5 .4 1.5 0 1.5 .4 1.5 .7 1.5 .9 1.5 .5 1.5 .6 1.5 .4 1.5 .6 1.5 .5 1.5 .3 1.5 .4 1.5 .1 1.5 .5 1.5 .5 1.5 .6 1.5 .8 1.5 .4 1.5 .6 1.5 .4 1.5 .7 1.5 .4 1.5 .4 1.5 .4 1.5 .5 1.5 .5 1.5 .6 1.5 .6 1.5 .5 1.5 .4 1.5 .4 1.5 .3 1.5 .1 1.5 .1 1.5 0 1.5 .1 1.5 .1 1.5 .2 1.5 .2 2 .1 2 .1 2 .1 2 .1 2 .1 2 .3 2 .6 2 .5 2 .6 2 .6 2 .7 2 .8 2 .8 2 .8 2 .8 2 .9 2 1 2 1 2 1.1 2 1 2 1.2 2 1.1 2 1.3 2 1.4 2 1.5 2 1.9 2 1.8 2 2.5 2 2.4 2 2.4 2 2.5 2 2.4 2 2.4 2 2.5 2 2.4 2 2.4 2 2.5 2 2.5 2 2.4 2 2.1 2 1.9 2 1.2 2 1.1 2 .5 2 .2 2.5 .5 2.5 .3 2.5 .2 2.5 .5 2.5 .7 2.5 .3 2.5 .2 2.5 .4 2.5 .1 2.5 .2" stroke="#0fdf05"/><path d="M49.6 57.7l1.5 .3 1.5 .7 1.5 .5 1.5 1 1.5 .9 1.5 .2 1.5-.2 1.5 0 1.5 .8 1.5 .5 1.5 1.5 1.5 .8 1.5 0 1.5 .5 1.5-.1 1.5 .2 1.5 .6 1.5 .6 1.5 .3 1.5 .6 1.5 .6 1.5 .5 1.5 .6 1.5 .9 1.5 0 1.5 0 1.5 0 1.5 .7 1.5 1.3 1.5 .7 1.5 .7 1.5 .6 1.5 0 1.5 .6 1.5 .4 1.5 .8 1.5 .6 1.5 .2 1.5 .8 1.5 .7 1.5 .8 1.5 .6 1.5 .4 1.5 0 1.5 .2 1.5 .5 1.5 .6 1.5 .7 1.5 .7 1.5 .3 1.5 .4 1.5 .4 1.5 .6 1.5 .5 1.5 .4 1.5 .5 1.5 .3 1.5 .6 1.5 .7 1.5 .6 1.5 .7 1.5 .2 1.5 .3 1.5 .4 1.5 .5 1.5 .5 1.5 .3 1.5 .1 1.5 .1 1.5 0 1.5 .2 1.5 .1 1.5 0 1.5 .1 2 .1 2 .2 2 .1 2 .1 2 .1 2 .2 2 .6 2 .5 2 .6 2 .6 2 .6 2 .8 2 .8 2 .9 2 .8 2 .8 2 1 2 1.1 2 1 2 1.1 2 1.1 2 1.1 2 1.3 2 1.4 2 1.5 2 1.8 2 1.9 2 2.4 2 2.4 2 2.4 2 2.5 2 2.4 2 2.4 2 2.5 2 2.4 2 2.5 2 2.5 2 2.4 2 2.4 2 2.2 2 1.8 2 1.1 2 .8 2 .8 2 .7 2.5 .4 2.5 .1 2.5 .4 2.5 .4 2.5 .5 2.5 .2 2.5 .5 2.5 .2 2.5-.1 2.5 .5" stroke="#0fdf05"/><path d="M49.6 58.7l1.5 .9 1.5 .4 1.5 .2 1.5 .5 1.5 .1 1.5 .9 1.5 .3 1.5 .6 1.5 .5 1.5 .5 1.5 1 1.5 1 1.5 .3 1.5 0 1.5 0 1.5 .7 1.5 .4 1.5 .5 1.5 .1 1.5 .2 1.5 .7 1.5 1 1.5 .3 1.5 .3 1.5 .5 1.5 .3 1.5 .4 1.5 .5 1.5 .1 1.5 .1 1.5 .3 1.5 1.1 1.5 .8 1.5 .7 1.5 .7 1.5 .3 1.5 .7 1.5 .4 1.5 .6 1.5 .1 1.5 .5 1.5 .2 1.5 1 1.5 .8 1.5 .5 1.5 .3 1.5 .6 1.5 .7 1.5 .7 1.5 .3 1.5 .2 1.5 .4 1.5 .6 1.5 .6 1.5 .8 1.5 .3 1.5 .5 1.5 .7 1.5 .6 1.5 .5 1.5 .5 1.5 .3 1.5 .3 1.5 .5 1.5 .5 1.5 .4 1.5 .1 1.5 .2 1.5 .1 1.5 .1 1.5 .1 1.5 0 1.5 0 1.5 .1 2 .1 2 .1 2 0 2 .1 2 .1 2 .3 2 .5 2 .6 2 .5 2 .5 2 .7 2 .8 2 .8 2 .8 2 .8 2 .9 2 1 2 1 2 1 2 1.1 2 1.1 2 1.1 2 1.3 2 1.4 2 1.5 2 1.8 2 1.8 2 2.4 2 2.5 2 2.3 2 2.5 2 2.4 2 2.4 2 2.5 2 2.4 2 2.5 2 2.5 2 2.5 2 2.3 2 2.3 2 1.8 2 1.4 2 .7 2 .2 2 .5 2.5 .5 2.5 .4 2.5 .5 2.5 .5 2.5 0 2.5 .1 2.5 .5 2.5 .5 2.5 .4 2.5 .7" stroke="#0fdf05"/><path d="M49.6 58.1l1.5 1 1.5 .4 1.5 .4 1.5 .5 1.5 .4 1.5 .8 1.5 1.1 1.5 .6 1.5 .5 1.5 .1 1.5 .8 1.5 .6 1.5 .2 1.5 0 1.5-.2 1.5 1 1.5 .9 1.5 .3 1.5 .1 1.5 .4 1.5 .8 1.5 .9 1.5 .6 1.5 .2 1.5 .4 1.5 .3 1.5 .8 1.5 .1 1.5 0 1.5 .6 1.5 .7 1.5 .9 1.5 .6 1.5 .5 1.5 .6 1.5 .8 1.5 .9 1.5 .1 1.5 .2 1.5 .4 1.5 .7 1.5 .6 1.5 .2 1.5 .4 1.5 .6 1.5 .7 1.5 .9 1.5 .2 1.5 .5 1.5 .7 1.5 .5 1.5 .4 1.5 .3 1.5 .3 1.5 .6 1.5 .6 1.5 .4 1.5 .4 1.5 .6 1.5 .6 1.5 .7 1.5 .5 1.5 .3 1.5 .3 1.5 .5 1.5 .4 1.5 .2 1.5-.1 1.5 0 1.5 .2 1.5 .1 1.5 .1 1.5 0 1.5 .1 2 .1 2 .1 2 0 2 .1 2 .1 2 .2 2 .5 2 .6 2 .5 2 .5 2 .7 2 .8 2 .8 2 .8 2 .8 2 .8 2 1 2 1 2 1 2 1.1 2 1.1 2 1.1 2 1.3 2 1.4 2 1.4 2 1.9 2 1.8 2 2.4 2 2.4 2 2.4 2 2.4 2 2.4 2 2.4 2 2.5 2 2.4 2 2.5 2 2.5 2 2.5 2 2.4 2 2.2 2 1.9 2 1.6 2 .8 2 .1 2 .2 2.5 .6 2.5 .1 2.5 .6 2.5 .5 2.5 .1 2.5 .6 2.5 .2 2.5 0 2.5 .6 2.5 .3" stroke="#0fdf05"/><path d="M49.6 59l1.5 .9 1.5 1.4 1.5 .5 1.5 .4 1.5-.1 1.5 .1 1.5 .7 1.5 1 1.5 .2 1.5 .7 1.5 .6 1.5 1 1.5 .7 1.5 .6 1.5-.1 1.5-.1 1.5-.2 1.5 .9 1.5 .7 1.5 .8 1.5 .2 1.5 .3 1.5 .6 1.5 .9 1.5 .1 1.5 .2 1.5-.1 1.5 .1 1.5 1 1.5 .6 1.5 1.2 1.5 .2 1.5 0 1.5 .6 1.5 .6 1.5 .5 1.5 .1 1.5 .6 1.5 .4 1.5 .6 1.5 1.2 1.5 .6 1.5 .1 1.5 .3 1.5 .4 1.5 .5 1.5 .3 1.5 .8 1.5 .2 1.5 .8 1.5 .7 1.5 .6 1.5 .7 1.5 .2 1.5 .4 1.5 .4 1.5 .5 1.5 .7 1.5 .6 1.5 .5 1.5 .5 1.5 .5 1.5 .5 1.5 .4 1.5 .4 1.5 .3 1.5 .1 1.5 .2 1.5 .1 1.5 .2 1.5 0 1.5 0 1.5 .1 1.5 0 2 0 2 .1 2 0 2 .1 2 0 2 .2 2 .5 2 .6 2 .5 2 .5 2 .7 2 .8 2 .7 2 .8 2 .8 2 .9 2 .9 2 1.1 2 1 2 1 2 1.1 2 1.1 2 1.3 2 1.3 2 1.5 2 1.8 2 1.9 2 2.3 2 2.4 2 2.4 2 2.4 2 2.4 2 2.4 2 2.5 2 2.4 2 2.5 2 2.5 2 2.5 2 2.4 2 2.3 2 1.8 2 1.3 2 1 2 .3 2 0 2.5 .8 2.5 .4 2.5 .5 2.5 .6 2.5 .2 2.5 0 2.5 .5 2.5 .6 2.5 .4 2.5 .4" stroke="#0fdf05"/><path d="M49.6 58.6l1.5 .3 1.5 .6 1.5 1.6 1.5 .7 1.5 .3 1.5 .7 1.5 .3 1.5 1.2 1.5 .6 1.5 .1 1.5 0 1.5 .1 1.5 1.2 1.5 .7 1.5 .7 1.5 .2 1.5 .7 1.5 1 1.5 .8 1.5 .5 1.5-.5 1.5 .1 1.5 .5 1.5 .6 1.5 .9 1.5 .2 1.5 0 1.5 .9 1.5 1.2 1.5 .7 1.5 .3 1.5 .1 1.5 .1 1.5 .5 1.5 .6 1.5 .3 1.5 0 1.5 .6 1.5 .9 1.5 .9 1.5 .3 1.5 .3 1.5 .4 1.5 .5 1.5 .6 1.5 .3 1.5 .4 1.5 .2 1.5 .3 1.5 .9 1.5 .7 1.5 .4 1.5 .4 1.5 .7 1.5 .4 1.5 .6 1.5 .6 1.5 .1 1.5 .5 1.5 .6 1.5 .5 1.5 .4 1.5 .5 1.5 .4 1.5 .6 1.5 .6 1.5 .1 1.5 0 1.5-.1 1.5 .1 1.5 .1 1.5 .1 1.5 0 1.5 0 2 .1 2 .1 2 0 2 0 2 .1 2 .1 2 .6 2 .5 2 .5 2 .5 2 .6 2 .8 2 .8 2 .8 2 .8 2 .8 2 1 2 1 2 1 2 1 2 1.1 2 1.1 2 1.3 2 1.3 2 1.5 2 1.8 2 1.8 2 2.4 2 2.3 2 2.4 2 2.4 2 2.4 2 2.4 2 2.5 2 2.5 2 2.4 2 2.6 2 2.5 2 2.4 2 2.2 2 1.9 2 1.4 2 .6 2 .2 2 .7 2.5 .6 2.5 .3 2.5 .6 2.5 .6 2.5 0 2.5 .3 2.5 .5 2.5 .1 2.5 .6 2.5 .6" stroke="#0fdf05"/><path d="M49.6 59.2l1.5 .2 1.5 1.1 1.5 .9 1.5 .8 1.5 .9 1.5 .1 1.5 .4 1.5 .4 1.5 .7 1.5 .6 1.5-.2 1.5 .8 1.5 .7 1.5 1 1.5 .5 1.5 .5 1.5 .4 1.5 1 1.5 .3 1.5 .8 1.5-.2 1.5 .4 1.5 .2 1.5 .7 1.5 .7 1.5 .1 1.5 .3 1.5 .4 1.5 1.1 1.5 .7 1.5 .6 1.5 .1 1.5 .6 1.5 .4 1.5 .4 1.5 .7 1.5-.2 1.5 .2 1.5 .7 1.5 1 1.5 .4 1.5 .7 1.5 .3 1.5 .5 1.5 .5 1.5 .4 1.5 .3 1.5 .4 1.5 .2 1.5 .6 1.5 .5 1.5 .5 1.5 .4 1.5 .6 1.5 .6 1.5 .6 1.5 .7 1.5 .3 1.5 .4 1.5 .4 1.5 .7 1.5 .4 1.5 .4 1.5 .2 1.5 .4 1.5 .7 1.5 .2 1.5 0 1.5 .1 1.5 .1 1.5 0 1.5 .1 1.5 0 1.5 0 2 0 2 0 2 .1 2 0 2 0 2 .2 2 .5 2 .5 2 .5 2 .5 2 .6 2 .8 2 .8 2 .7 2 .8 2 .8 2 1 2 1 2 1 2 1 2 1.1 2 1.1 2 1.3 2 1.3 2 1.5 2 1.8 2 1.8 2 2.3 2 2.4 2 2.3 2 2.4 2 2.4 2 2.4 2 2.5 2 2.5 2 2.4 2 2.6 2 2.5 2 2.4 2 2.3 2 1.9 2 1.1 2 .9 2 .5 2 .6 2.5 .8 2.5 .2 2.5 0 2.5 .7 2.5-.1 2.5 .5 2.5 .7 2.5 .3 2.5 .4 2.5 .6" stroke="#0fdf05"/><path d="M49.6 60.7l1.5-.4 1.5 .2 1.5 .8 1.5 1 1.5 .7 1.5 .5 1.5 .7 1.5 .8 1.5 1 1.5 0 1.5 .1 1.5-.1 1.5 1 1.5 .3 1.5 .2 1.5 .4 1.5 .3 1.5 1.2 1.5 .9 1.5 .4 1.5 0 1.5 .8 1.5 1.1 1.5 .3 1.5-.2 1.5 .2 1.5 .5 1.5 1.1 1.5 0 1.5 .3 1.5 .5 1.5 1.2 1.5 1.1 1.5 .5 1.5-.1 1.5 .6 1.5 .6 1.5 .8 1.5 .1 1.5 0 1.5 .3 1.5 .8 1.5 .6 1.5 .4 1.5 .4 1.5 .4 1.5 .9 1.5 .7 1.5 .1 1.5 .3 1.5 .5 1.5 .6 1.5 .3 1.5 .2 1.5 .4 1.5 .5 1.5 .8 1.5 .4 1.5 .5 1.5 .5 1.5 .7 1.5 .6 1.5 .2 1.5 .4 1.5 .2 1.5 .6 1.5 .2 1.5-.1 1.5 0 1.5 .1 1.5 .1 1.5 .1 1.5 0 1.5 0 2 .1 2 0 2-.1 2 0 2 0 2 .2 2 .5 2 .5 2 .5 2 .5 2 .6 2 .8 2 .7 2 .8 2 .8 2 .8 2 .9 2 1 2 1 2 1 2 1.1 2 1.1 2 1.3 2 1.3 2 1.4 2 1.8 2 1.8 2 2.4 2 2.3 2 2.3 2 2.5 2 2.4 2 2.4 2 2.4 2 2.5 2 2.5 2 2.5 2 2.5 2 2.5 2 2.2 2 1.9 2 1.8 2 .7 2 .2 2 .5 2.5 .4 2.5 .5 2.5 .7 2.5 .4 2.5 .2 2.5 .3 2.5 .1 2.5 .1 2.5 .5 2.5 .4" stroke="#0fdf05"/><path d="M49.6 59.7l1.5 1 1.5 .8 1.5 .8 1.5 .8 1.5 .5 1.5 0 1.5 1.3 1.5 .7 1.5 .4 1.5 0 1.5-.2 1.5 .5 1.5 .9 1.5 .6 1.5 .9 1.5-.1 1.5 .7 1.5 .8 1.5 1 1.5 .5 1.5 .3 1.5 .2 1.5-.3 1.5 .6 1.5 .5 1.5 .7 1.5 .3 1.5 .5 1.5 .6 1.5 .6 1.5 1 1.5 .5 1.5 .7 1.5 .1 1.5 .3 1.5 1 1.5 .2 1.5 .3 1.5 .3 1.5 .5 1.5 .3 1.5 .9 1.5 .9 1.5 .4 1.5 .5 1.5 .1 1.5 .7 1.5 .6 1.5 .5 1.5 0 1.5 .4 1.5 .4 1.5 .7 1.5 .6 1.5 .3 1.5 .5 1.5 .4 1.5 .6 1.5 .6 1.5 .7 1.5 .3 1.5 .2 1.5 .3 1.5 .4 1.5 .6 1.5 .4 1.5 0 1.5 0 1.5 .1 1.5 0 1.5 .1 1.5 0 1.5 0 1.5 0 2 0 2 0 2 0 2 0 2 0 2 .1 2 .5 2 .5 2 .5 2 .5 2 .6 2 .7 2 .8 2 .8 2 .7 2 .8 2 1 2 1 2 .9 2 1 2 1.1 2 1.1 2 1.3 2 1.3 2 1.4 2 1.8 2 1.8 2 2.3 2 2.3 2 2.4 2 2.4 2 2.4 2 2.4 2 2.5 2 2.4 2 2.5 2 2.5 2 2.6 2 2.4 2 2.3 2 1.9 2 1.1 2 .7 2 .5 2 .7 2.5 .6 2.5 .3 2.5 .3 2.5 .5 2.5-.2 2.5 .2 2.5 .8 2.5 .5 2.5 .2 2.5 .8" stroke="#0fdf05"/><path d="M49.6 61.2l1.5 .6 1.5 1.2 1.5 1 1.5 .3 1.5 0 1.5 .5 1.5 1.1 1.5 .4 1.5-.2 1.5-.1 1.5 .9 1.5 .3 1.5 .6 1.5 .2 1.5 .7 1.5 .9 1.5 .8 1.5 .5 1.5-.3 1.5 .2 1.5 1.2 1.5 .5 1.5-.4 1.5 .3 1.5 .4 1.5 1 1.5 .9 1.5 .3 1.5 .6 1.5 .6 1.5 1.1 1.5 .2 1.5 .4 1.5 0 1.5 .8 1.5 .6 1.5 .5 1.5 .1 1.5 .3 1.5 .9 1.5 1 1.5 .2 1.5 .5 1.5 .5 1.5 .7 1.5 .4 1.5 .3 1.5 .2 1.5 .2 1.5 .7 1.5 .6 1.5 .2 1.5 .4 1.5 .6 1.5 .9 1.5 .4 1.5 .3 1.5 .4 1.5 .6 1.5 .4 1.5 .5 1.5 .2 1.5 .3 1.5 .5 1.5 .4 1.5 .5 1.5 .1 1.5 0 1.5 .2 1.5 0 1.5-.1 1.5 0 1.5 0 1.5 0 2 0 2-.1 2 0 2 0 2 0 2 .1 2 .5 2 .5 2 .5 2 .4 2 .6 2 .8 2 .8 2 .7 2 .8 2 .8 2 .9 2 1 2 1 2 1 2 1 2 1.1 2 1.3 2 1.3 2 1.4 2 1.8 2 1.7 2 2.3 2 2.4 2 2.3 2 2.4 2 2.4 2 2.4 2 2.5 2 2.4 2 2.5 2 2.6 2 2.5 2 2.5 2 2.3 2 1.9 2 1 2 1.4 2 .5 2 .2 2.5 .6 2.5 .6 2.5 0 2.5 .4 2.5 .4 2.5 .3 2.5 .7 2.5 .5 2.5 0 2.5 .5" stroke="#0fdf05"/><path d="M49.6 62.2l1.5 .8 1.5 .6 1.5-.2 1.5 .4 1.5-.1 1.5 1.1 1.5 .8 1.5 .4 1.5 .4 1.5 .8 1.5 .8 1.5 .7 1.5 .9 1.5 .9 1.5 .8 1.5 .1 1.5-.4 1.5 .1 1.5 1 1.5 .3 1.5 .5 1.5 .2 1.5 .5 1.5 .6 1.5 .4 1.5 1.1 1.5 .4 1.5 .4 1.5 .2 1.5 .1 1.5 .1 1.5 .5 1.5 .6 1.5 .5 1.5 .3 1.5 .2 1.5 .4 1.5 .6 1.5 1 1.5 .6 1.5 .2 1.5 .6 1.5-.1 1.5 .6 1.5 .2 1.5 .7 1.5 .6 1.5 .3 1.5 .5 1.5 .5 1.5 .6 1.5 .9 1.5 .6 1.5 .4 1.5 .4 1.5 .3 1.5 .4 1.5 .6 1.5 .5 1.5 .6 1.5 .4 1.5 .3 1.5 .5 1.5 .5 1.5 .6 1.5 .4 1.5 .1 1.5-.1 1.5-.1 1.5-.1 1.5 0 1.5 0 1.5 0 1.5 0 2-.1 2 0 2 0 2-.1 2 0 2 .1 2 .4 2 .5 2 .5 2 .4 2 .6 2 .8 2 .7 2 .8 2 .7 2 .8 2 .9 2 1 2 1 2 1 2 1 2 1.1 2 1.3 2 1.2 2 1.5 2 1.7 2 1.8 2 2.3 2 2.3 2 2.3 2 2.4 2 2.4 2 2.4 2 2.5 2 2.4 2 2.5 2 2.6 2 2.6 2 2.4 2 2.3 2 1.9 2 1.8 2 1 2 .2 2 .1 2.5 .6 2.5 .1 2.5 .2 2.5 .4 2.5 .6 2.5 .5 2.5 .1 2.5 .3 2.5 .4 2.5 .4" stroke="#0fdf05"/><path d="M49.6 63l1.5 .5 1.5-.1 1.5 .2 1.5 .2 1.5 .6 1.5 1 1.5 .2 1.5 .2 1.5 .7 1.5 .7 1.5 1 1.5 1.1 1.5 .5 1.5-.3 1.5 .2 1.5 .1 1.5 .7 1.5 1.1 1.5 .3 1.5 .7 1.5 .5 1.5 .4 1.5 .7 1.5 1 1.5 0 1.5 0 1.5 .1 1.5 .3 1.5 1.1 1.5 .4 1.5 1.2 1.5 .3 1.5 .2 1.5 .7 1.5 .6 1.5 .3 1.5 .1 1.5 .4 1.5 .2 1.5 .6 1.5 .9 1.5 .6 1.5 .8 1.5 .1 1.5 .2 1.5 .2 1.5 .4 1.5 .6 1.5 .5 1.5 .5 1.5 .1 1.5 .6 1.5 .7 1.5 .8 1.5 .4 1.5 .3 1.5 .1 1.5 .3 1.5 .7 1.5 .6 1.5 .5 1.5 .3 1.5 .5 1.5 .4 1.5 .6 1.5 .4 1.5 0 1.5-.1 1.5-.2 1.5 0 1.5 .1 1.5 .1 1.5 .1 1.5-.1 2-.1 2 0 2-.1 2 0 2-.1 2 .1 2 .4 2 .5 2 .4 2 .5 2 .6 2 .7 2 .8 2 .7 2 .8 2 .8 2 .9 2 .9 2 1 2 1 2 1 2 1.1 2 1.2 2 1.3 2 1.4 2 1.8 2 1.7 2 2.3 2 2.3 2 2.3 2 2.4 2 2.4 2 2.4 2 2.5 2 2.4 2 2.5 2 2.6 2 2.6 2 2.5 2 2.3 2 1.9 2 1.1 2 1.1 2 .4 2 .5 2.5 .2 2.5 .8 2.5 .6 2.5 .4 2.5-.1 2.5 .4 2.5 .5 2.5 .4 2.5 .5 2.5 .3" stroke="#0fdf05"/><path d="M49.6 63.7l1.5-.1 1.5 .6 1.5 1.1 1.5 .3 1.5 .2 1.5-.3 1.5 .6 1.5 .8 1.5 .5 1.5 .8 1.5 .3 1.5 .4 1.5 1.1 1.5 .8 1.5 .6 1.5-.3 1.5 0 1.5 .2 1.5 .6 1.5 .2 1.5 .7 1.5-.1 1.5 .2 1.5 1.3 1.5 .9 1.5 .8 1.5 .3 1.5 .1 1.5 .6 1.5 .2 1.5 .7 1.5 .2 1.5 .3 1.5 .1 1.5 .6 1.5 1 1.5 .7 1.5 .6 1.5 .4 1.5 .7 1.5 .6 1.5 .8 1.5 .2 1.5 .1 1.5 .3 1.5 .5 1.5 .7 1.5 .4 1.5 .4 1.5 .3 1.5 .8 1.5 .8 1.5 .5 1.5 .4 1.5 .5 1.5 .1 1.5 .7 1.5 .5 1.5 .3 1.5 .4 1.5 .2 1.5 .5 1.5 .6 1.5 .5 1.5 .3 1.5 .3 1.5 .1 1.5 0 1.5 0 1.5-.1 1.5-.2 1.5 0 1.5-.1 1.5 .1 2-.1 2-.1 2 0 2-.1 2-.1 2 .1 2 .5 2 .4 2 .4 2 .5 2 .6 2 .7 2 .7 2 .8 2 .7 2 .8 2 .9 2 1 2 .9 2 1 2 1 2 1.1 2 1.2 2 1.3 2 1.4 2 1.7 2 1.8 2 2.3 2 2.3 2 2.3 2 2.3 2 2.4 2 2.4 2 2.5 2 2.5 2 2.5 2 2.6 2 2.5 2 2.5 2 2.3 2 2 2 1.3 2 1 2 .5 2 .7 2.5 .5 2.5-.1 2.5 .2 2.5 .5 2.5 .1 2.5 .3 2.5 .8 2.5 .3 2.5 .2 2.5 .6" stroke="#0fdf05"/><path d="M49.6 63l1.5 1.1 1.5 0 1.5 .3 1.5 .2 1.5 1 1.5 .7 1.5 1.3 1.5 .4 1.5 .1 1.5 .7 1.5 .7 1.5 .6 1.5 0 1.5-.4 1.5 .1 1.5 .9 1.5 .6 1.5 .9 1.5 .1 1.5 .4 1.5 1 1.5 1 1.5 .5 1.5-.1 1.5 0 1.5 .5 1.5 .5 1.5 .5 1.5 0 1.5 .6 1.5 .1 1.5 1 1.5 1.3 1.5 .4 1.5 .5 1.5 .3 1.5 .3 1.5 1 1.5 .5 1.5 0 1.5 .3 1.5 .4 1.5 .7 1.5 .9 1.5 .5 1.5 .3 1.5 .3 1.5 .8 1.5 .7 1.5 .2 1.5 .1 1.5 .4 1.5 .4 1.5 .7 1.5 .4 1.5 .5 1.5 .3 1.5 .7 1.5 .5 1.5 .7 1.5 .4 1.5 .1 1.5 .4 1.5 .4 1.5 .4 1.5 .2 1.5 0 1.5 0 1.5 0 1.5 0 1.5 0 1.5 0 1.5-.2 1.5 0 2 0 2-.2 2-.1 2-.1 2 0 2 0 2 .5 2 .4 2 .4 2 .5 2 .5 2 .8 2 .7 2 .7 2 .8 2 .7 2 .9 2 1 2 .9 2 1 2 1 2 1.1 2 1.2 2 1.3 2 1.4 2 1.7 2 1.7 2 2.3 2 2.3 2 2.3 2 2.4 2 2.3 2 2.4 2 2.5 2 2.5 2 2.5 2 2.6 2 2.6 2 2.5 2 2.3 2 1.9 2 1.6 2 .6 2 .7 2 .7 2.5 .4 2.5 .3 2.5 .7 2.5 0 2.5 .1 2.5 .6 2.5 0 2.5 .4 2.5 .7 2.5 .5" stroke="#0fdf05"/><path d="M49.6 64.7l1.5 .3 1.5-.4 1.5 .8 1.5 1.1 1.5 .8 1.5 1.1 1.5-.2 1.5 .3 1.5 .1 1.5 .8 1.5 .4 1.5 .2 1.5-.1 1.5 .6 1.5 1.1 1.5 1.1 1.5 .2 1.5 .2 1.5-.5 1.5 .4 1.5 .3 1.5 .6 1.5 .3 1.5 .2 1.5 1 1.5 1 1.5 .8 1.5 .6 1.5-.2 1.5 .1 1.5 .1 1.5 .9 1.5 .5 1.5 .5 1.5 .8 1.5 .4 1.5 1.2 1.5 .6 1.5 .5 1.5 .1 1.5 .1 1.5 .6 1.5 .7 1.5 .4 1.5 .7 1.5 .3 1.5 .4 1.5 .8 1.5 .6 1.5 .3 1.5-.2 1.5 .5 1.5 .5 1.5 .6 1.5 .5 1.5 .4 1.5 .4 1.5 .6 1.5 .5 1.5 .5 1.5 .3 1.5 0 1.5 .3 1.5 .6 1.5 .4 1.5 .6 1.5-.1 1.5-.1 1.5 0 1.5 0 1.5 0 1.5-.2 1.5-.1 1.5 0 2 0 2-.1 2-.1 2-.1 2-.1 2 .1 2 .4 2 .4 2 .4 2 .4 2 .6 2 .7 2 .8 2 .7 2 .7 2 .8 2 .9 2 .9 2 1 2 .9 2 1 2 1.1 2 1.2 2 1.3 2 1.4 2 1.7 2 1.7 2 2.3 2 2.2 2 2.3 2 2.4 2 2.3 2 2.4 2 2.5 2 2.5 2 2.5 2 2.6 2 2.6 2 2.5 2 2.4 2 1.9 2 1.4 2 1.1 2 .3 2 .2 2.5 .5 2.5 .6 2.5 .2 2.5 .8 2.5 .4 2.5 0 2.5 .3 2.5 .5 2.5 .4 2.5 .6" stroke="#0fdf05"/><path d="M49.6 65.2l1.5 .5 1.5 .7 1.5 .2 1.5 .2 1.5 .4 1.5 .2 1.5 1.2 1.5 1.2 1.5 .9 1.5 .8 1.5-.5 1.5 .2 1.5 .3 1.5 .3 1.5 1.1 1.5 0 1.5 .6 1.5 .2 1.5 .7 1.5 .8 1.5 .5 1.5 .1 1.5 .1 1.5-.2 1.5-.1 1.5 1.2 1.5 .5 1.5 .8 1.5 .4 1.5 .2 1.5 .3 1.5 .6 1.5 .1 1.5 .6 1.5 .3 1.5 .1 1.5 .6 1.5 .8 1.5 1.1 1.5 .6 1.5 .1 1.5-.1 1.5 .2 1.5 .6 1.5 .5 1.5 .7 1.5 .7 1.5 .2 1.5 .6 1.5 .6 1.5 .3 1.5 .6 1.5 .5 1.5 .1 1.5 .4 1.5 .4 1.5 .8 1.5 .7 1.5 .6 1.5 .5 1.5 .2 1.5 .4 1.5 .2 1.5 .5 1.5 .4 1.5 .4 1.5 0 1.5 0 1.5 0 1.5 0 1.5-.1 1.5 0 1.5-.2 1.5-.1 2-.1 2-.1 2-.1 2-.1 2-.2 2 .1 2 .4 2 .4 2 .4 2 .4 2 .6 2 .7 2 .7 2 .8 2 .7 2 .7 2 .9 2 .9 2 1 2 .9 2 1 2 1.1 2 1.2 2 1.3 2 1.3 2 1.7 2 1.8 2 2.2 2 2.3 2 2.2 2 2.4 2 2.4 2 2.4 2 2.4 2 2.5 2 2.5 2 2.7 2 2.6 2 2.5 2 2.3 2 2 2 1.1 2 1 2 .7 2 .1 2.5 .3 2.5 .6 2.5 .7 2.5 .1 2.5 .3 2.5 .2 2.5 .6 2.5 .5 2.5 .4 2.5 .5" stroke="#0fdf05"/><path d="M49.6 65.5l1.5 .6 1.5 .3 1.5 .7 1.5-.3 1.5 .6 1.5 .8 1.5 1 1.5 .6 1.5 1.2 1.5 .6 1.5 .1 1.5 .3 1.5 .5 1.5 .8 1.5 .2 1.5 0 1.5 .1 1.5 .1 1.5 .4 1.5 1.3 1.5 1 1.5 .6 1.5-.2 1.5 .2 1.5 .3 1.5-.1 1.5 .6 1.5 .6 1.5 .2 1.5 .1 1.5 .1 1.5 .9 1.5 .6 1.5 1.1 1.5 .6 1.5 .4 1.5-.2 1.5 .4 1.5 .2 1.5 .6 1.5 .3 1.5 .8 1.5 .2 1.5 .6 1.5 .5 1.5 .5 1.5 .9 1.5 .4 1.5 .4 1.5 .2 1.5 0 1.5 .6 1.5 .3 1.5 .8 1.5 .4 1.5 .5 1.5 .6 1.5 .4 1.5 .6 1.5 .5 1.5 .6 1.5 .3 1.5 .3 1.5 .1 1.5 .3 1.5 .5 1.5 .1 1.5 .1 1.5 0 1.5-.1 1.5-.1 1.5-.1 1.5 0 1.5-.1 2-.2 2-.2 2-.1 2-.1 2-.1 2 0 2 .4 2 .4 2 .4 2 .4 2 .6 2 .7 2 .7 2 .7 2 .7 2 .8 2 .8 2 1 2 .9 2 .9 2 1 2 1.1 2 1.2 2 1.2 2 1.4 2 1.7 2 1.7 2 2.3 2 2.2 2 2.3 2 2.3 2 2.4 2 2.4 2 2.5 2 2.4 2 2.6 2 2.6 2 2.6 2 2.5 2 2.4 2 1.9 2 1.3 2 .9 2 .7 2 .3 2.5 .4 2.5 .1 2.5 .3 2.5 .6 2.5 .6 2.5 .4 2.5 .4 2.5 .3 2.5 .2 2.5 .1" stroke="#0fdf05"/><path d="M49.6 66.7l1.5-.1 1.5 .2 1.5 .2 1.5 .3 1.5 .8 1.5 .2 1.5 .3 1.5-.1 1.5 .7 1.5 1 1.5 1.1 1.5 .6 1.5 .1 1.5 .3 1.5 .3 1.5 .4 1.5 1 1.5-.1 1.5-.1 1.5 .3 1.5 .4 1.5 1.2 1.5 1.2 1.5 .1 1.5 .7 1.5 .2 1.5 .9 1.5 .6 1.5 0 1.5-.1 1.5 .1 1.5 .8 1.5 .7 1.5 1 1.5 .7 1.5 .3 1.5 .3 1.5 .7 1.5 .6 1.5 .4 1.5 .1 1.5 .2 1.5 .3 1.5 .4 1.5 .7 1.5 .4 1.5 .6 1.5 .4 1.5 .3 1.5 .8 1.5 .4 1.5 .4 1.5 0 1.5 .3 1.5 .4 1.5 .4 1.5 .8 1.5 .4 1.5 .3 1.5 .5 1.5 .7 1.5 .5 1.5 .3 1.5 .2 1.5 .2 1.5 .4 1.5 .1 1.5 0 1.5-.1 1.5-.1 1.5-.1 1.5 0 1.5 0 1.5 0 2-.3 2-.1 2-.2 2-.1 2-.2 2 0 2 .4 2 .4 2 .4 2 .4 2 .5 2 .7 2 .7 2 .8 2 .7 2 .7 2 .9 2 .9 2 .9 2 .9 2 1.1 2 1 2 1.2 2 1.2 2 1.4 2 1.7 2 1.7 2 2.2 2 2.2 2 2.3 2 2.3 2 2.4 2 2.4 2 2.5 2 2.5 2 2.5 2 2.6 2 2.7 2 2.5 2 2.4 2 1.9 2 1.4 2 1.3 2 .6 2 .3 2.5 .7 2.5 .4 2.5-.3 2.5 .2 2.5 .6 2.5 .5 2.5 .3 2.5 .5 2.5 .4 2.5-.2" stroke="#0fdf05"/><path d="M49.6 66.4l1.5 .9 1.5 1.1 1.5 .4 1.5-.1 1.5 .5 1.5 .3 1.5 .8 1.5 .1 1.5-.2 1.5 .1 1.5 1.3 1.5 .9 1.5 .4 1.5 .7 1.5-.2 1.5 .8 1.5 .6 1.5 .4 1.5-.3 1.5-.5 1.5 1.1 1.5 .5 1.5 .4 1.5-.2 1.5 .5 1.5 .8 1.5 1 1.5 .8 1.5-.2 1.5 .5 1.5 .6 1.5 .7 1.5-.2 1.5 .2 1.5 .5 1.5 .6 1.5 .9 1.5 .5 1.5 .6 1.5 .6 1.5 .7 1.5 .7 1.5 .5 1.5-.1 1.5 .5 1.5 .6 1.5 .5 1.5 .2 1.5 .4 1.5 .4 1.5 .7 1.5 .9 1.5 .4 1.5 .2 1.5 .4 1.5 .6 1.5 .5 1.5 .2 1.5 .2 1.5 .3 1.5 .6 1.5 .5 1.5 .3 1.5 .3 1.5 .4 1.5 .4 1.5 .1 1.5-.2 1.5-.2 1.5-.1 1.5-.1 1.5-.1 1.5-.1 1.5-.2 2-.1 2-.1 2-.1 2-.2 2-.2 2 0 2 .4 2 .4 2 .4 2 .4 2 .5 2 .7 2 .7 2 .7 2 .7 2 .7 2 .9 2 .9 2 .9 2 1 2 1 2 1 2 1.2 2 1.2 2 1.4 2 1.6 2 1.7 2 2.2 2 2.3 2 2.2 2 2.4 2 2.3 2 2.4 2 2.5 2 2.5 2 2.5 2 2.7 2 2.6 2 2.5 2 2.4 2 2 2 1.2 2 1.3 2 .6 2-.2 2.5 .5 2.5 .6 2.5 .1 2.5 .8 2.5 .5 2.5 .2 2.5 .4 2.5 .5 2.5 0 2.5 .4" stroke="#0fdf05"/><path d="M49.6 65.3l1.5 1.3 1.5 .7 1.5 0 1.5 .6 1.5 .7 1.5 1 1.5 .4 1.5 .8 1.5-.4 1.5 .6 1.5-.3 1.5 1 1.5 1.3 1.5 1.1 1.5 1 1.5 0 1.5 .5 1.5-.2 1.5-.3 1.5 .8 1.5 .8 1.5 .2 1.5 .7 1.5 .7 1.5 .3 1.5 .8 1.5 .3 1.5 .6 1.5 .1 1.5 .1 1.5 .4 1.5-.1 1.5 .9 1.5 .8 1.5 .9 1.5 .6 1.5 .2 1.5 .2 1.5 .4 1.5 .2 1.5 .5 1.5 .3 1.5 .8 1.5 .3 1.5 .4 1.5 .6 1.5 .5 1.5 .4 1.5 .4 1.5 .3 1.5 .2 1.5 .2 1.5 .3 1.5 .6 1.5 .6 1.5 .7 1.5 .7 1.5 .3 1.5 .2 1.5 .3 1.5 .4 1.5 .3 1.5 .5 1.5 .4 1.5 .4 1.5 .4 1.5 0 1.5-.1 1.5 .1 1.5-.1 1.5-.1 1.5-.2 1.5-.2 1.5-.1 2-.1 2-.2 2-.1 2-.2 2-.2 2 0 2 .3 2 .4 2 .4 2 .3 2 .6 2 .7 2 .7 2 .7 2 .7 2 .7 2 .8 2 .9 2 .9 2 1 2 1 2 1 2 1.2 2 1.2 2 1.3 2 1.7 2 1.7 2 2.2 2 2.2 2 2.2 2 2.4 2 2.3 2 2.4 2 2.5 2 2.5 2 2.5 2 2.7 2 2.6 2 2.6 2 2.4 2 2 2 1.3 2 1.2 2 .6 2 .3 2.5 .1 2.5 .3 2.5 .6 2.5 .7 2.5 .4 2.5 0 2.5 .4 2.5 .5 2.5 .3 2.5 .5" stroke="#0fdf05"/><path d="M49.6 67l1.5 .2 1.5 1 1.5 .8 1.5 1.1 1.5 .7 1.5 .9 1.5-.7 1.5 0 1.5 .7 1.5 .2 1.5 1.1 1.5 .9 1.5 .8 1.5 .3 1.5 .4 1.5 0 1.5 .3 1.5 .4 1.5-.1 1.5 0 1.5 .3 1.5 .6 1.5 .4 1.5 1 1.5 1.1 1.5 0 1.5-.2 1.5-.3 1.5 .1 1.5 .6 1.5 .9 1.5 .3 1.5 .7 1.5 .6 1.5 .2 1.5 .9 1.5 .7 1.5 .6 1.5 .2 1.5 .1 1.5 .1 1.5 .5 1.5 1 1.5 .9 1.5 .9 1.5 .3 1.5 .2 1.5 .3 1.5 .4 1.5 .5 1.5 .6 1.5 .4 1.5 .5 1.5 .2 1.5 .6 1.5 .8 1.5 .6 1.5 .3 1.5 .2 1.5 .2 1.5 .3 1.5 .4 1.5 .4 1.5 .5 1.5 .4 1.5 .3 1.5-.1 1.5-.1 1.5-.1 1.5-.2 1.5-.2 1.5-.2 1.5-.1 1.5-.1 2-.1 2-.2 2-.2 2-.2 2-.2 2 0 2 .3 2 .4 2 .4 2 .3 2 .5 2 .7 2 .7 2 .7 2 .7 2 .7 2 .9 2 .9 2 .9 2 .9 2 1 2 1 2 1.2 2 1.2 2 1.3 2 1.7 2 1.6 2 2.2 2 2.2 2 2.3 2 2.3 2 2.3 2 2.4 2 2.5 2 2.5 2 2.6 2 2.6 2 2.7 2 2.5 2 2.4 2 2 2 1.6 2 .9 2 .1 2 .2 2.5 .5 2.5 .9 2.5 .3 2.5 .2 2.5 .5 2.5 .4 2.5-.1 2.5 .6 2.5 .7 2.5 .7" stroke="#0fdf05"/><path d="M49.6 67.7l1.5 .8 1.5 .7 1.5 .4 1.5 0 1.5 .8 1.5 1 1.5 .6 1.5 .7 1.5-.1 1.5-.6 1.5 .2 1.5 .8 1.5 .5 1.5 .6 1.5 .2 1.5 .2 1.5 1.1 1.5 .9 1.5 .7 1.5 .1 1.5-.1 1.5-.2 1.5 0 1.5 .6 1.5 .5 1.5 .6 1.5 .4 1.5 .3 1.5 .9 1.5 .6 1.5 .8 1.5 .8 1.5 0 1.5 .1 1.5 .2 1.5 .4 1.5 .9 1.5 .7 1.5 .4 1.5 .2 1.5 .9 1.5 .8 1.5 .5 1.5 .5 1.5 .3 1.5 .1 1.5 .3 1.5 .6 1.5 .6 1.5 .4 1.5 .3 1.5 .6 1.5 .6 1.5 .6 1.5 .6 1.5 .4 1.5 .1 1.5 .2 1.5 .4 1.5 .3 1.5 .7 1.5 .2 1.5 .3 1.5 .4 1.5 .3 1.5 .5 1.5 0 1.5-.2 1.5-.3 1.5-.2 1.5-.1 1.5-.1 1.5-.1 1.5-.2 2-.2 2-.2 2-.1 2-.2 2-.3 2 0 2 .4 2 .3 2 .4 2 .3 2 .5 2 .7 2 .7 2 .7 2 .7 2 .7 2 .8 2 .9 2 .9 2 .9 2 1 2 1 2 1.2 2 1.2 2 1.3 2 1.6 2 1.7 2 2.2 2 2.2 2 2.2 2 2.3 2 2.4 2 2.3 2 2.6 2 2.4 2 2.6 2 2.7 2 2.6 2 2.6 2 2.4 2 2 2 1.3 2 1 2 .6 2 .1 2.5 .4 2.5 .8 2.5 .4 2.5 0 2.5 .4 2.5 .3 2.5 .4 2.5 .1 2.5 .8 2.5 .6" stroke="#0fdf05"/><path d="M49.6 76.8l1.5 .2 1.5-.7 1.5 .4 1.5 3 1.5-1.8 1.5-.8 1.5 1.8 1.5 .7 1.5 3.2 1.5-2.9 1.5 .4 1.5 3.2 1.5-1 1.5-1 1.5-.1 1.5-.5 1.5-.1 1.5 1.7 1.5 1 1.5-2.1 1.5 1.9 1.5-1.1 1.5 2.1 1.5-.8 1.5 1.5 1.5 .7 1.5-1.2 1.5 .1 1.5-.8 1.5 .7 1.5 1.8 1.5 1 1.5-2 1.5 3.1 1.5 .1 1.5-1.4 1.5 .9 1.5 .7 1.5-.7 1.5 .4 1.5 1.3 1.5-.3 1.5 .2 1.5 .7 1.5-.8 1.5 1.2 1.5 0 1.5 .1 1.5 1.1 1.5 .7 1.5 0 1.5 .3 1.5 .7 1.5-.1 1.5 1.3 1.5-.8 1.5 .1 1.5 1.1 1.5 .5 1.5 0 1.5 .4 1.5 .4 1.5 .3 1.5 .9 1.5 .5 1.5-.1 1.5 .3 1.5-.3 1.5-.4 1.5 .3 1.5-.3 1.5 .2 1.5-.2 1.5-.3 2-.4 2-.3 2 0 2-.4 2-.1 2-.2 2 .6 2 .1 2 .4 2 .6 2 .3 2 .7 2 .8 2 .6 2 .4 2 .8 2 .7 2 .8 2 .7 2 .8 2 .7 2 .8 2 1.3 2 1.6 2 1.2 2 1.5 2 1.8 2 1.7 2 1.5 2 2.5 2 2.2 2 2.1 2 2.1 2 2.4 2 2.3 2 2.2 2 2.9 2 2.9 2 2.9 2 3 2 2.4 2 2.5 2 1.6 2-.4 2 1.2 2.5-.8 2.5 1.6 2.5-.6 2.5 1 2.5 .3 2.5-.1 2.5 1.2 2.5 .6 2.5-.4 2.5 .4" stroke="#550fa0" stroke-width="1.1"/><path d="M49.6 76l1.5-2.6 1.5 4.6 1.5-4.4 1.5 1.3 1.5 2.1 1.5 .7 1.5-.9 1.5-.4 1.5 1.6 1.5 1 1.5 1.4 1.5-.4 1.5-1.2 1.5 3.1 1.5-2.1 1.5 1.1 1.5-1.5 1.5-.3 1.5 .7 1.5 3 1.5-1 1.5-1 1.5 .3 1.5 2.5 1.5-1.8 1.5-.1 1.5 1.1 1.5 2 1.5 .4 1.5-.2 1.5 .5 1.5-1.3 1.5 0 1.5 1.2 1.5-1.3 1.5 3.2 1.5-1.7 1.5 .1 1.5 1.6 1.5-.9 1.5 2.3 1.5-.7 1.5 .6 1.5 1.2 1.5-.7 1.5 1.5 1.5-.5 1.5 .1 1.5-.1 1.5 1.1 1.5 .9 1.5-.7 1.5 1.9 1.5-.8 1.5 1.1 1.5 .7 1.5-.7 1.5 .7 1.5 1.2 1.5 .4 1.5-.5 1.5 1 1.5 .5 1.5 .1 1.5 .9 1.5 .2 1.5-.1 1.5-.3 1.5 .4 1.5 0 1.5-.7 1.5 .2 1.5-.2 1.5-.2 2-.3 2-.2 2-.1 2-.4 2-.2 2 .2 2 .1 2 .4 2 .5 2 .2 2 .7 2 .6 2 .6 2 .5 2 .7 2 .8 2 .5 2 .9 2 .8 2 .8 2 .8 2 .8 2 1.2 2 1.4 2 1.4 2 1.5 2 1.5 2 1.9 2 1.7 2 2.1 2 2.2 2 2.2 2 2.1 2 2.4 2 2.3 2 2.3 2 2.9 2 2.9 2 2.8 2 2.9 2 2.4 2 1.7 2 1.3 2 1.6 2-.7 2.5 .8 2.5 .7 2.5 .4 2.5-.1 2.5 .3 2.5 .7 2.5 .1 2.5 .8 2.5 .7 2.5-.3" stroke="#550fa0" stroke-width="1.1"/><path d="M49.6 72.3l1.5 3.4 1.5 .4 1.5-5.3 1.5 4 1.5-2.5 1.5 .8 1.5 .1 1.5 2.3 1.5 3 1.5 .2 1.5-2.7 1.5 3.1 1.5-.7 1.5-2.6 1.5 4.3 1.5-2.7 1.5 3.5 1.5-3.6 1.5 3.8 1.5-1.4 1.5 .3 1.5-1.2 1.5 1.6 1.5 1.4 1.5-.5 1.5 1.9 1.5-1.4 1.5 1.7 1.5-2.6 1.5 2.5 1.5-.1 1.5 1.3 1.5-1.4 1.5 .8 1.5 1.5 1.5-1.4 1.5 .8 1.5 1.7 1.5-.2 1.5 0 1.5-.9 1.5 2.3 1.5-.5 1.5 0 1.5 .8 1.5-.2 1.5 2 1.5 .3 1.5 .8 1.5-.1 1.5-.6 1.5 1 1.5 1.4 1.5-1.2 1.5 1 1.5 .2 1.5 .5 1.5 .7 1.5 .8 1.5-.1 1.5 1.3 1.5 0 1.5 .3 1.5 .4 1.5 .8 1.5 .3 1.5 .2 1.5-.4 1.5 0 1.5 .1 1.5-.5 1.5 .2 1.5 .2 1.5-.4 2-.3 2-.1 2-.4 2-.1 2-.3 2 .1 2 .3 2 .3 2 .3 2 .6 2 .3 2 .8 2 .7 2 .5 2 .7 2 .6 2 .9 2 .7 2 .6 2 1 2 .6 2 .9 2 1.2 2 1.4 2 1.4 2 1.5 2 1.6 2 1.6 2 1.9 2 2.3 2 2.1 2 2.2 2 2.3 2 2.2 2 2.5 2 2.3 2 2.8 2 2.8 2 2.7 2 2.9 2 2.5 2 2 2 1.6 2 .5 2-.3 2.5 .3 2.5 1.1 2.5-.4 2.5 1 2.5 .1 2.5 .5 2.5 .7 2.5 .4 2.5 .3 2.5-.4" stroke="#550fa0" stroke-width="1.1"/><path d="M49.6 81.4l1.5-1.5 1.5 .5 1.5 1.6 1.5-.5 1.5-.4 1.5-3 1.5 .2 1.5 4.1 1.5 .9 1.5-2.1 1.5-.6 1.5 1.4 1.5 2.3 1.5-.2 1.5-2.8 1.5 .6 1.5 .3 1.5 2.7 1.5-2 1.5 3.1 1.5-1.9 1.5-.7 1.5 1.2 1.5-.9 1.5 3.2 1.5-3.1 1.5 1.7 1.5 .1 1.5-1 1.5 .9 1.5 3 1.5-.1 1.5-1.2 1.5 1.7 1.5 .4 1.5 .1 1.5-.1 1.5-.1 1.5 .1 1.5 .9 1.5-.1 1.5 1.3 1.5-1.7 1.5 2 1.5 0 1.5-.4 1.5 1.2 1.5-.9 1.5 .6 1.5 .7 1.5 1 1.5-.9 1.5 1.3 1.5 0 1.5 .8 1.5-.6 1.5 .8 1.5 .6 1.5 .3 1.5 .1 1.5 .5 1.5 .2 1.5 .3 1.5 .1 1.5 .7 1.5 .8 1.5-.1 1.5-.9 1.5 .1 1.5-.3 1.5 .4 1.5-.7 1.5 .3 1.5-.5 2-.2 2 0 2-.5 2 0 2-.3 2 .1 2 .1 2 .5 2 .3 2 .5 2 .3 2 .8 2 .4 2 1 2 .5 2 .7 2 .7 2 .6 2 1 2 .6 2 .8 2 1 2 1.2 2 1.3 2 1.2 2 1.6 2 1.6 2 1.8 2 1.7 2 2.2 2 2.3 2 2.1 2 2.4 2 2.1 2 2.5 2 2.3 2 2.8 2 2.8 2 2.8 2 3.1 2 2.6 2 2 2 .9 2 .5 2 .6 2.5 1.5 2.5-.5 2.5 .4 2.5 .7 2.5-.2 2.5 1.4 2.5 .4 2.5-.3 2.5 0 2.5 1.6" stroke="#1936dc" stroke-width="1.1"/><path d="M49.6 74.6l1.5-1.5 1.5-3.2 1.5 5.9 1.5-1.2 1.5-2.5 1.5 4.3 1.5-1.2 1.5 .6 1.5-2.9 1.5 1.4 1.5 3.4 1.5-3.5 1.5 1.3 1.5-.2 1.5 2.8 1.5-1.8 1.5 3.3 1.5-1.2 1.5 1.7 1.5 .9 1.5 .5 1.5-3 1.5 1 1.5 2.1 1.5-1.6 1.5 2.7 1.5-2.1 1.5 1.4 1.5-1 1.5 2 1.5-1.2 1.5 .9 1.5 1.4 1.5 .7 1.5-1.8 1.5 .5 1.5 .6 1.5 2 1.5 .1 1.5 .5 1.5 .6 1.5-1.1 1.5 1.1 1.5-.8 1.5 1.2 1.5 1 1.5-.3 1.5 1.6 1.5-.7 1.5 .9 1.5 .9 1.5-.3 1.5 1.2 1.5 0 1.5 0 1.5 .5 1.5 1.3 1.5 .6 1.5 .3 1.5 .7 1.5 .2 1.5 .6 1.5 .5 1.5 .2 1.5 .4 1.5 .2 1.5 .1 1.5-.2 1.5-.1 1.5 .1 1.5-.2 1.5 .2 1.5 .1 1.5-.5 2 0 2-.2 2-.4 2-.1 2-.4 2 0 2 .4 2 .3 2 .3 2 .3 2 .8 2 .6 2 .7 2 .4 2 .6 2 .9 2 .6 2 .8 2 .9 2 .7 2 .7 2 .7 2 1.4 2 1.5 2 1.4 2 1.2 2 1.7 2 1.9 2 1.6 2 2.3 2 2.2 2 2.1 2 2.2 2 2.4 2 2.4 2 2.2 2 2.9 2 2.9 2 2.8 2 2.8 2 2.5 2 2.2 2 1.6 2-.5 2 .7 2.5 .4 2.5 1 2.5 .1 2.5 .3 2.5 .3 2.5 .9 2.5-.4 2.5 .1 2.5 .4 2.5 .5" stroke="#550fa0" stroke-width="1.1"/><path d="M49.6 78.2l1.5-.2 1.5 .7 1.5 3.6 1.5-4.2 1.5 3.1 1.5-2.7 1.5 2.5 1.5-1.7 1.5 4.6 1.5-.7 1.5-3.6 1.5 4.3 1.5-1 1.5 .1 1.5 1.6 1.5-2.3 1.5-.8 1.5 4.2 1.5-3.1 1.5 2 1.5-1.4 1.5 2.4 1.5-2.3 1.5 3.7 1.5-3 1.5 0 1.5-.1 1.5 3.3 1.5-1.9 1.5-.6 1.5 1.5 1.5 2.2 1.5-.3 1.5 1.2 1.5-1.5 1.5-.6 1.5 2.5 1.5-1.5 1.5 .1 1.5 2.2 1.5-.1 1.5-.9 1.5 .3 1.5-.2 1.5 1 1.5 1 1.5-.1 1.5-.3 1.5 .2 1.5 2 1.5-1 1.5 .4 1.5 .7 1.5 .2 1.5 .3 1.5 1.4 1.5 0 1.5-.3 1.5 .5 1.5 .2 1.5 .8 1.5 0 1.5 1 1.5 0 1.5 .2 1.5 1 1.5 0 1.5-.2 1.5-.2 1.5-.4 1.5 .1 1.5-.9 1.5 .5 1.5-.4 2-.2 2-.4 2-.2 2 .1 2-.2 2-.2 2 .2 2 .6 2 .3 2 .3 2 .3 2 .9 2 .4 2 .7 2 .8 2 .5 2 .9 2 .7 2 .7 2 1 2 .5 2 1 2 1.4 2 1.2 2 1.4 2 1.3 2 1.9 2 1.7 2 1.8 2 2 2 2.2 2 2.2 2 2.3 2 2.1 2 2.6 2 2.3 2 2.7 2 3.1 2 2.6 2 2.9 2 2.7 2 2.5 2 .5 2 .7 2 .4 2.5 .7 2.5 .6 2.5 .8 2.5 .6 2.5 .3 2.5-.3 2.5 .1 2.5 .8 2.5 .7 2.5 .1" stroke="#2118bc" stroke-width="1.1"/><path d="M49.6 73l1.5 .6 1.5 3.4 1.5 1.9 1.5-2.6 1.5-.8 1.5 3.8 1.5-.8 1.5-.1 1.5-1.5 1.5 2.6 1.5 .4 1.5 1.1 1.5 1.2 1.5-3.7 1.5 3.9 1.5-2.2 1.5 .7 1.5 0 1.5 2.3 1.5-1.4 1.5-1.3 1.5 2 1.5-1.1 1.5-.2 1.5 .4 1.5 1.6 1.5 .5 1.5-1.4 1.5 .8 1.5 3 1.5-.9 1.5 1.8 1.5-1.2 1.5 1.7 1.5-.5 1.5-.6 1.5-.7 1.5 .7 1.5 2.2 1.5-.1 1.5-.6 1.5 0 1.5 1.6 1.5 1 1.5-1.3 1.5 2.1 1.5-.7 1.5-.3 1.5 .4 1.5 1.4 1.5 .8 1.5-.9 1.5 .4 1.5 .3 1.5 .5 1.5 .5 1.5 .6 1.5 .2 1.5 .9 1.5-.1 1.5 .5 1.5 .6 1.5 .2 1.5 .4 1.5 .4 1.5 .4 1.5 .5 1.5-.6 1.5 .2 1.5 .2 1.5-.4 1.5-.4 1.5 0 1.5-.1 2-.3 2-.3 2-.1 2-.3 2-.1 2 0 2 .2 2 .5 2 .3 2 .4 2 .5 2 .6 2 .8 2 .6 2 .6 2 .5 2 .7 2 1 2 .7 2 .7 2 .7 2 .9 2 1.5 2 1.2 2 1.5 2 1.4 2 1.6 2 1.7 2 1.9 2 2 2 2.3 2 2.3 2 2.1 2 2.3 2 2.5 2 2.3 2 2.8 2 2.8 2 2.7 2 2.9 2 2.4 2 2.8 2 .8 2 1 2 .5 2.5-.5 2.5 1.4 2.5-.5 2.5 .3 2.5 .5 2.5 1.4 2.5 .3 2.5-.4 2.5 .5 2.5 .9" stroke="#550fa0" stroke-width="1.1"/><path d="M49.6 80.9l1.5-.5 1.5 1.9 1.5 2.6 1.5-1.6 1.5 1.7 1.5-3.5 1.5 1.9 1.5 2.5 1.5-1.7 1.5 1.4 1.5 .3 1.5-1.6 1.5 1.4 1.5 .3 1.5-1.1 1.5 .6 1.5 1.6 1.5 .5 1.5 .6 1.5-2.6 1.5 1.6 1.5-.4 1.5 1.5 1.5-2.3 1.5 1.1 1.5-.6 1.5 2.3 1.5-.2 1.5-2.4 1.5 .6 1.5 .4 1.5 1.9 1.5 .8 1.5-1.1 1.5-.6 1.5 1.9 1.5 .3 1.5-.2 1.5-.2 1.5 .5 1.5 0 1.5 1.8 1.5-.9 1.5 1.1 1.5-.1 1.5-.5 1.5 .4 1.5 1.2 1.5 .6 1.5 .4 1.5-1.2 1.5 .5 1.5 .1 1.5 .4 1.5 .6 1.5 .8 1.5 .6 1.5-.2 1.5-.3 1.5 .6 1.5 .1 1.5 .5 1.5 .7 1.5 .3 1.5 .1 1.5 .5 1.5 .4 1.5-.4 1.5-.2 1.5-.4 1.5-.2 1.5 .1 1.5-.8 1.5 .3 2-.1 2-.3 2-.4 2-.2 2 0 2-.2 2 .4 2 .4 2 .4 2 .2 2 .6 2 .7 2 .5 2 .7 2 .7 2 .7 2 .7 2 .8 2 .8 2 .8 2 .6 2 .9 2 1.2 2 1.3 2 1.4 2 1.6 2 1.5 2 1.8 2 1.9 2 2.2 2 2.1 2 2.1 2 2.3 2 2.1 2 2.3 2 2.4 2 2.9 2 2.8 2 3.1 2 2.8 2 2.7 2 2.1 2 1.3 2 .5 2 0 2.5 1.1 2.5 1.1 2.5 .5 2.5 .4 2.5-.8 2.5 .9 2.5 .9 2.5-.5 2.5 .3 2.5 .6" stroke="#550fa0" stroke-width="1.1"/><path d="M49.6 75.3l1.5 2.1 1.5 2.1 1.5-2.9 1.5 4.2 1.5-4.1 1.5 .3 1.5 3.9 1.5-3.5 1.5 2.1 1.5 .7 1.5 .6 1.5-.3 1.5 1.5 1.5-.7 1.5-.6 1.5-.6 1.5 1.3 1.5-.1 1.5 1.5 1.5-1 1.5 2.8 1.5-1.6 1.5-1.1 1.5 2.5 1.5-.7 1.5 2.2 1.5-.1 1.5 0 1.5-.6 1.5 .9 1.5-1.2 1.5 2.6 1.5-.5 1.5-1.8 1.5 2.3 1.5-1.7 1.5 1.3 1.5 1 1.5 .1 1.5-.8 1.5 2.4 1.5-1.1 1.5-.4 1.5 1.9 1.5 .2 1.5-.6 1.5 .7 1.5-.1 1.5 1.9 1.5 .6 1.5-.8 1.5 .1 1.5 1.6 1.5 .5 1.5 .2 1.5-.7 1.5 .8 1.5 .9 1.5 .2 1.5 .4 1.5 0 1.5 .1 1.5 1.1 1.5-.2 1.5 .5 1.5 .5 1.5 .1 1.5-.3 1.5 .3 1.5-.7 1.5 0 1.5 .3 1.5-.2 1.5-.5 2-.1 2-.1 2-.4 2-.1 2-.4 2 0 2 .6 2 .3 2 .3 2 .4 2 .5 2 .5 2 .6 2 .7 2 .8 2 .4 2 .9 2 .9 2 .6 2 .9 2 .7 2 .8 2 1.4 2 1.3 2 1.3 2 1.4 2 1.8 2 1.8 2 1.5 2 2.2 2 2.4 2 2.1 2 2.1 2 2.5 2 2.1 2 2.6 2 2.6 2 2.8 2 2.9 2 3 2 2.4 2 2.6 2 .7 2 1.3 2-.3 2.5 1.1 2.5-.4 2.5 1.4 2.5 0 2.5 .2 2.5 .1 2.5 1.1 2.5 .4 2.5 .4 2.5-.4" stroke="#2118bc" stroke-width="1.1"/><path d="M49.6 81.7l1.5 2.1 1.5-4.7 1.5 3.7 1.5-2.9 1.5 3.1 1.5-.5 1.5 1.1 1.5 1.7 1.5 .2 1.5-.3 1.5-2.3 1.5 1.3 1.5-1.6 1.5 3.8 1.5-.5 1.5-1.3 1.5 2.3 1.5-.6 1.5-.5 1.5 1.2 1.5-.4 1.5-1.5 1.5 1.3 1.5-1.5 1.5 4 1.5-2.5 1.5 1.3 1.5 1 1.5-1.9 1.5 .7 1.5 1 1.5 0 1.5 1.6 1.5-.1 1.5-1 1.5 .1 1.5 .7 1.5 1.2 1.5-.1 1.5 1 1.5-.1 1.5 .7 1.5-.9 1.5 .4 1.5-.5 1.5 1.9 1.5-.3 1.5-.4 1.5 .3 1.5-.4 1.5 1.9 1.5-.5 1.5-.2 1.5 1.5 1.5 .1 1.5-.4 1.5 .5 1.5-.2 1.5 .9 1.5 .2 1.5 .2 1.5 .2 1.5 .5 1.5 .8 1.5 .6 1.5-.1 1.5-.3 1.5 .5 1.5-.4 1.5-.1 1.5-.6 1.5-.1 1.5-.2 1.5 .1 2-.4 2-.2 2-.1 2-.2 2-.4 2 0 2 .5 2 .2 2 .5 2 .4 2 .2 2 .8 2 .7 2 .6 2 .7 2 .6 2 .6 2 .8 2 1 2 .7 2 .8 2 .7 2 1.4 2 1.4 2 1.3 2 1.4 2 1.8 2 1.5 2 2 2 1.9 2 2.5 2 1.9 2 2.4 2 2.2 2 2.4 2 2.3 2 2.8 2 3 2 2.7 2 2.9 2 2.7 2 2.3 2 .6 2 .8 2 1.4 2.5-.5 2.5 1.3 2.5-.3 2.5 .4 2.5 .9 2.5 .9 2.5 .5 2.5 0 2.5-.4 2.5 .5" stroke="#550fa0" stroke-width="1.1"/><path d="M49.6 83.3l1.5 .3 1.5 1.4 1.5-.6 1.5 1.6 1.5-2.4 1.5-.4 1.5 .8 1.5 .7 1.5-1.6 1.5 2.7 1.5-1.1 1.5 .3 1.5 .8 1.5 .1 1.5-1 1.5 3.4 1.5-3.9 1.5 3 1.5-1.9 1.5 1.9 1.5-1.2 1.5 1.3 1.5-1.5 1.5 0 1.5 1.7 1.5 0 1.5 1 1.5-1.5 1.5 1 1.5 .3 1.5-.7 1.5 1.6 1.5-.3 1.5 2.1 1.5-1.2 1.5-.9 1.5 2.9 1.5-1.7 1.5 .6 1.5-.8 1.5 1.5 1.5-.5 1.5 .4 1.5 1.6 1.5 0 1.5 .2 1.5 .9 1.5-1.2 1.5 1.1 1.5 .7 1.5 0 1.5 .7 1.5-.8 1.5 .5 1.5 .7 1.5-.3 1.5 1 1.5-.7 1.5 .8 1.5-.1 1.5 .2 1.5 .7 1.5 .6 1.5-.3 1.5 .4 1.5 .7 1.5-.4 1.5-.1 1.5-.3 1.5 .4 1.5-.9 1.5 .5 1.5-.3 1.5-.5 2 0 2-.3 2-.4 2-.1 2-.3 2 0 2 .6 2 .2 2 .3 2 .4 2 .4 2 .8 2 .6 2 .8 2 .6 2 .5 2 .8 2 .7 2 .8 2 .8 2 .9 2 .6 2 1.4 2 1.2 2 1.5 2 1.4 2 1.6 2 1.9 2 1.7 2 2.1 2 2.1 2 2.2 2 2.5 2 2.3 2 2.1 2 2.6 2 2.7 2 2.9 2 2.8 2 2.8 2 2.6 2 2.3 2 1.8 2 1.1 2-.4 2.5 .5 2.5-.2 2.5 .7 2.5 1.2 2.5 .6 2.5 0 2.5-.3 2.5 1.5 2.5 .4 2.5 .1" stroke="#550fa0" stroke-width="1.1"/><path d="M49.6 73.5l1.5 3.1 1.5-2.7 1.5 3.7 1.5-.7 1.5 1.1 1.5-.3 1.5 .7 1.5-2 1.5 1.7 1.5 1.3 1.5-3.2 1.5 4.6 1.5-3.5 1.5 .5 1.5 2.2 1.5-1.5 1.5 3 1.5-.5 1.5 .2 1.5 1.3 1.5 .9 1.5 .5 1.5-1.7 1.5-1.8 1.5 3.3 1.5 1.1 1.5-1.9 1.5 .9 1.5-1.6 1.5 2.9 1.5 .7 1.5-1.3 1.5 .7 1.5 1.1 1.5-2 1.5 3 1.5 0 1.5-1.3 1.5 .5 1.5 1.3 1.5 .5 1.5-.6 1.5 .4 1.5 1.1 1.5-.4 1.5 .9 1.5-.2 1.5 1.8 1.5 .1 1.5-.4 1.5 1.2 1.5-.7 1.5 1.8 1.5-.7 1.5 1.3 1.5-.2 1.5 1 1.5-.1 1.5 .8 1.5 0 1.5 0 1.5 1.2 1.5 .1 1.5 .7 1.5-.1 1.5 .9 1.5-.4 1.5 .4 1.5-.2 1.5 0 1.5-.1 1.5-.2 1.5-.7 1.5 0 2 0 2-.1 2-.4 2 0 2-.5 2 .2 2 .1 2 .4 2 .4 2 .4 2 .5 2 .7 2 .6 2 .6 2 .5 2 .7 2 1 2 .5 2 1 2 .5 2 .9 2 .8 2 1.3 2 1.3 2 1.4 2 1.4 2 1.8 2 1.9 2 1.7 2 2 2 2.2 2 2.2 2 2.4 2 2.2 2 2.2 2 2.4 2 3 2 2.7 2 3 2 2.7 2 2.4 2 2.5 2 .5 2 1 2-.3 2.5 .8 2.5 .6 2.5 .9 2.5-.4 2.5 .6 2.5 1 2.5 0 2.5 .8 2.5 .3 2.5 .1" stroke="#550fa0" stroke-width="1.1"/><path d="M49.6 75.2l1.5-4.8 1.5 3.3 1.5 1.1 1.5 .2 1.5-2.7 1.5 1.3 1.5 2.3 1.5 .5 1.5-3.2 1.5 .6 1.5 4.4 1.5-.2 1.5-2 1.5 3.1 1.5 .3 1.5-1.9 1.5 1.8 1.5-.5 1.5-1.6 1.5 3.6 1.5-2.3 1.5 2.1 1.5-1.6 1.5 3.4 1.5-1.2 1.5 .9 1.5-.4 1.5 2 1.5-.8 1.5-.4 1.5-1 1.5 1.6 1.5-.8 1.5 2.4 1.5-.5 1.5 .6 1.5 1.5 1.5-.9 1.5 .9 1.5 0 1.5 .2 1.5 .9 1.5 .3 1.5-.3 1.5 1.7 1.5-.1 1.5-1 1.5 .9 1.5 .6 1.5 .2 1.5 2.1 1.5-.3 1.5 1.1 1.5 0 1.5 .9 1.5-.6 1.5 .3 1.5 .5 1.5 .8 1.5 0 1.5 1.5 1.5-.4 1.5 1 1.5 .1 1.5 .8 1.5 .6 1.5-.1 1.5-.4 1.5 .3 1.5 0 1.5-.4 1.5-.3 1.5 .4 1.5-.6 2-.1 2-.3 2 0 2-.5 2-.1 2 .1 2 .2 2 .4 2 .5 2 .2 2 .4 2 .9 2 .6 2 .5 2 .8 2 .6 2 .8 2 .8 2 .6 2 .7 2 .9 2 .8 2 1.2 2 1.4 2 1.4 2 1.4 2 1.7 2 1.8 2 1.6 2 2.4 2 2.1 2 2.3 2 2.1 2 2.4 2 2.3 2 2.2 2 2.8 2 2.9 2 3 2 2.6 2 2.4 2 2.5 2 1.5 2 .2 2-.4 2.5 1.2 2.5 .5 2.5 .5 2.5-.7 2.5 .6 2.5 .4 2.5 1.1 2.5-.2 2.5 0 2.5 .5" stroke="#480fa3" stroke-width="1.1"/><path d="M49.6 72.2l1.5 .2 1.5-3.3 1.5 3 1.5 1.4 1.5-.2 1.5-1.1 1.5-.4 1.5 1 1.5-1.8 1.5 5.3 1.5-1.1 1.5-.3 1.5 2.5 1.5-.6 1.5-2.5 1.5 .8 1.5-.5 1.5 3 1.5 0 1.5-.7 1.5 1.2 1.5-.6 1.5 .3 1.5 2.5 1.5 .9 1.5-2.9 1.5 2.7 1.5 .9 1.5-.8 1.5 1.1 1.5-2 1.5 2.7 1.5-1.3 1.5 .3 1.5 .8 1.5 1.6 1.5-.7 1.5 1.1 1.5-.1 1.5 1.6 1.5 .1 1.5-.6 1.5 1.5 1.5-1.6 1.5 2.6 1.5-.9 1.5 .8 1.5 1.4 1.5-1.1 1.5 .3 1.5 .6 1.5 .6 1.5 1 1.5 .9 1.5 .5 1.5 .6 1.5 .3 1.5 0 1.5 .9 1.5 .1 1.5 1.2 1.5 .1 1.5 .6 1.5 .1 1.5 .9 1.5 .4 1.5 .4 1.5-.1 1.5-.1 1.5 0 1.5-.4 1.5 .2 1.5-.6 1.5 .1 2-.3 2-.1 2-.1 2-.3 2-.3 2 0 2 .3 2 .4 2 .3 2 .3 2 .7 2 .4 2 .7 2 .9 2 .5 2 .5 2 .9 2 .7 2 .9 2 .7 2 .8 2 .7 2 1.5 2 1.3 2 1.2 2 1.6 2 1.7 2 1.6 2 1.8 2 2.2 2 2.3 2 2 2 2.3 2 2.4 2 2.1 2 2.6 2 2.7 2 3 2 2.9 2 2.8 2 2.2 2 1.7 2 2 2-.1 2-.3 2.5 1.4 2.5-.1 2.5 .1 2.5 .9 2.5 .9 2.5-.5 2.5 .2 2.5 .7 2.5 .4 2.5 1.1" stroke="#550fa0" stroke-width="1.1"/><path d="M49.6 82.2l1.5 1.4 1.5-1 1.5 2.3 1.5-5.3 1.5 2.5 1.5-1 1.5 3.3 1.5-2.3 1.5 2.3 1.5 .1 1.5-3 1.5 3.3 1.5-1.2 1.5-.1 1.5 2.1 1.5 .1 1.5-1.7 1.5 2.5 1.5-2.7 1.5 .2 1.5 3.8 1.5 .3 1.5 .3 1.5 .3 1.5-.8 1.5-.5 1.5 0 1.5 .3 1.5 1.7 1.5 .2 1.5-1.6 1.5-.5 1.5 1.4 1.5-.1 1.5 1.5 1.5 .6 1.5-.7 1.5-1.3 1.5 1.6 1.5-.8 1.5 1.4 1.5 1 1.5-.1 1.5-.3 1.5-.4 1.5 2 1.5 .2 1.5-.6 1.5-.6 1.5 1.6 1.5-.3 1.5 .3 1.5 .3 1.5 .2 1.5 .1 1.5 1 1.5 .1 1.5 .2 1.5 .7 1.5 0 1.5-.1 1.5 .6 1.5 .6 1.5 .5 1.5 .3 1.5 .5 1.5-.4 1.5 .2 1.5-.4 1.5-.4 1.5-.3 1.5 .2 1.5 0 1.5-.3 2-.3 2-.2 2-.3 2-.3 2-.2 2 .2 2 .1 2 .4 2 .4 2 .2 2 .5 2 .7 2 .8 2 .7 2 .4 2 .7 2 1 2 .5 2 1 2 .7 2 .8 2 .8 2 1.1 2 1.6 2 1.3 2 1.2 2 2 2 1.5 2 1.8 2 2.3 2 2.1 2 2.2 2 2.1 2 2.6 2 2.2 2 2.2 2 3 2 2.7 2 2.9 2 3.1 2 2.6 2 1.6 2 1.6 2 1.6 2-.1 2.5-.2 2.5 1.1 2.5-.1 2.5 .2 2.5 1.3 2.5-.4 2.5 .4 2.5 1.2 2.5 .8 2.5-.9" stroke="#550fa0" stroke-width="1.1"/><path d="M49.6 68.2l1.5 .2 1.5 .5 1.5 4.5 1.5 1.4 1.5-4.6 1.5 1.2 1.5-.1 1.5 2.4 1.5-.1 1.5-.2 1.5 3.6 1.5-3.2 1.5 3.1 1.5-2 1.5 2.8 1.5-2.2 1.5 .6 1.5 4 1.5-3 1.5 1.2 1.5 1.2 1.5 1.7 1.5-1.6 1.5-1.4 1.5 2.5 1.5 .4 1.5-.1 1.5-.5 1.5 1.9 1.5-2.4 1.5 2.1 1.5 .4 1.5 1.7 1.5-.1 1.5-1.3 1.5 .9 1.5 1 1.5-.2 1.5-.5 1.5 3 1.5-1.1 1.5-.4 1.5 .5 1.5 .1 1.5 2.5 1.5-1.4 1.5 1.5 1.5 1.2 1.5 .1 1.5 .2 1.5-.1 1.5 1.2 1.5 .6 1.5-.5 1.5 .6 1.5 .7 1.5 .8 1.5 .8 1.5 .1 1.5 .1 1.5 1 1.5-.1 1.5 .5 1.5 .4 1.5 1 1.5 .4 1.5 0 1.5 0 1.5-.4 1.5-.1 1.5 .2 1.5-.2 1.5 0 1.5 0 2-.4 2-.1 2-.4 2-.1 2-.3 2 0 2 .3 2 .4 2 .3 2 .6 2 .3 2 .6 2 .6 2 .8 2 .7 2 .6 2 .9 2 .6 2 .8 2 .7 2 .9 2 .7 2 1.2 2 1.4 2 1.5 2 1.2 2 1.8 2 1.9 2 1.7 2 2.1 2 2.3 2 2.1 2 2.3 2 2.1 2 2.4 2 2.6 2 2.7 2 2.7 2 3 2 3 2 2.1 2 1.8 2 1.8 2 .6 2-.5 2.5 1.1 2.5-.1 2.5 .5 2.5 1 2.5-.2 2.5 1.1 2.5-.2 2.5 .9 2.5-.7 2.5 .8" stroke="#2118bc" stroke-width="1.1"/><path d="M49.6 77.6l1.5-2.1 1.5-.7 1.5 2.7 1.5 1.7 1.5-3.7 1.5-.3 1.5 4.5 1.5-1.1 1.5-.4 1.5 0 1.5-1.3 1.5 .3 1.5 4.4 1.5-1.7 1.5 2.7 1.5-4 1.5 2.3 1.5-.7 1.5 1.5 1.5 .5 1.5 1.9 1.5-1.7 1.5-.1 1.5 1.7 1.5-1.9 1.5 2 1.5-1.4 1.5 1.2 1.5 1.3 1.5-.9 1.5-.5 1.5 .6 1.5 0 1.5 .1 1.5 .9 1.5 1.1 1.5 .8 1.5-.7 1.5 2.2 1.5-1.8 1.5 .8 1.5 .3 1.5 1.8 1.5 .4 1.5-1.7 1.5 1.6 1.5 1.2 1.5 .2 1.5-.9 1.5 1.3 1.5 .4 1.5 .6 1.5 0 1.5 .2 1.5 1 1.5 .2 1.5-.7 1.5 .7 1.5 .9 1.5 .6 1.5 .5 1.5-.5 1.5 .8 1.5 .3 1.5 1 1.5-.1 1.5 .2 1.5 .2 1.5-.7 1.5-.2 1.5 .2 1.5-.4 1.5 .1 1.5-.2 2 0 2-.3 2-.1 2-.3 2-.4 2 .1 2 .2 2 .3 2 .4 2 .4 2 .7 2 .5 2 .6 2 .8 2 .5 2 .7 2 .6 2 1 2 .6 2 1 2 .8 2 .8 2 1.1 2 1.4 2 1.4 2 1.5 2 1.6 2 1.7 2 1.7 2 2.3 2 2.1 2 2.3 2 2.3 2 2.1 2 2.5 2 2.3 2 2.9 2 2.7 2 3 2 2.9 2 2.3 2 1.7 2 1.2 2 1.7 2-.1 2.5 .9 2.5 .2 2.5-.6 2.5 1.4 2.5 .4 2.5 .5 2.5 .1 2.5 .2 2.5 .2 2.5 1.2" stroke="#1936dc" stroke-width="1.1"/><path d="M49.6 75.8l1.5 1 1.5 2.2 1.5 1.3 1.5-1.6 1.5 1.8 1.5-1.7 1.5 .2 1.5-.4 1.5 1.6 1.5 1.2 1.5-2.2 1.5 4.5 1.5-4.3 1.5 3.8 1.5-1.6 1.5 3.1 1.5-2.9 1.5-.9 1.5 3.3 1.5-1.2 1.5 2.1 1.5-.4 1.5-.7 1.5 1.1 1.5 .3 1.5-1.1 1.5-.3 1.5 2 1.5-.1 1.5-1.6 1.5 .8 1.5 1.2 1.5-.8 1.5 1.8 1.5-.1 1.5 0 1.5 1.7 1.5 .2 1.5-1.6 1.5 1.9 1.5 1.3 1.5-.7 1.5 1.2 1.5-1.5 1.5 .3 1.5 .6 1.5 .2 1.5 .2 1.5 .6 1.5 .8 1.5 .9 1.5 .3 1.5-.9 1.5 1.5 1.5 .2 1.5-.2 1.5 0 1.5 1.5 1.5-.5 1.5 .5 1.5 .4 1.5 .9 1.5 .5 1.5 .4 1.5 .3 1.5 .5 1.5-.4 1.5-.4 1.5-.1 1.5-.2 1.5-.2 1.5-.1 1.5 0 1.5-.2 2-.1 2-.1 2-.4 2-.1 2-.1 2-.3 2 .6 2 .3 2 .2 2 .6 2 .4 2 .5 2 .9 2 .5 2 .7 2 .5 2 .7 2 1 2 .7 2 .7 2 .7 2 .9 2 1.3 2 1.3 2 1.5 2 1.4 2 1.6 2 1.9 2 1.7 2 2.2 2 2.3 2 2 2 2.3 2 2.1 2 2.4 2 2.4 2 2.8 2 2.9 2 2.8 2 3 2 2.3 2 1.9 2 1.9 2-.2 2 .8 2.5 1.1 2.5 .4 2.5-.1 2.5 .1 2.5 1.3 2.5 .5 2.5-.7 2.5 .8 2.5 .6 2.5 .6" stroke="#1936dc" stroke-width="1.1"/><path d="M49.6 66.7l1.5 4.5 1.5-1.4 1.5 .4 1.5 2.4 1.5-3.2 1.5 1.8 1.5 0 1.5 2.7 1.5-3 1.5 3.2 1.5 1.8 1.5-.2 1.5 .5 1.5 1.3 1.5-1.5 1.5 .4 1.5-1.6 1.5 0 1.5 3.3 1.5-.5 1.5 .7 1.5 .4 1.5 0 1.5 1.1 1.5-.9 1.5 .3 1.5 1.1 1.5 .2 1.5 1.4 1.5-3 1.5 .7 1.5 1.6 1.5 .9 1.5 .2 1.5-.3 1.5 1.7 1.5-1.5 1.5 2.7 1.5 .6 1.5-.9 1.5-.3 1.5 1.9 1.5-.1 1.5 1.4 1.5-.6 1.5-.5 1.5 .5 1.5 2.2 1.5-.3 1.5 .4 1.5 .2 1.5 .7 1.5 1.1 1.5 .4 1.5 .5 1.5 0 1.5 .6 1.5 .7 1.5 1.2 1.5-.3 1.5 .2 1.5 1.1 1.5 .6 1.5 .1 1.5 .9 1.5 .1 1.5 .4 1.5 .1 1.5-.4 1.5-.3 1.5 0 1.5-.1 1.5-.2 1.5 .1 2-.2 2-.2 2 0 2-.3 2-.3 2 0 2 .4 2 .4 2 .1 2 .5 2 .5 2 .8 2 .5 2 .7 2 .5 2 .9 2 .5 2 .9 2 .9 2 .6 2 .7 2 1 2 1.1 2 1.4 2 1.3 2 1.4 2 1.7 2 1.8 2 1.9 2 2 2 2.4 2 2 2 2.4 2 2.3 2 2.1 2 2.5 2 2.8 2 2.8 2 2.9 2 3 2 2 2 2.6 2 .1 2 .8 2 .1 2.5 1 2.5 .6 2.5 .7 2.5-.5 2.5 .4 2.5 1.1 2.5 .6 2.5 .3 2.5 .3 2.5 .2" stroke="#480fa3" stroke-width="1.1"/><path d="M49.6 80.9l1.5-3 1.5 .4 1.5 1.2 1.5 2.2 1.5-3.2 1.5 3.7 1.5-2.6 1.5 .7 1.5 .7 1.5 1.7 1.5 1.1 1.5 1.4 1.5-3.3 1.5-.4 1.5 3.9 1.5-1 1.5 1.7 1.5-.7 1.5-2.5 1.5 1.3 1.5-.4 1.5 1.2 1.5-.4 1.5 2.6 1.5 .3 1.5-2.6 1.5 3.4 1.5 0 1.5-1.9 1.5 1.9 1.5 .6 1.5-.5 1.5-1 1.5 1.2 1.5 .7 1.5-1 1.5 .7 1.5-.8 1.5 .5 1.5 2.1 1.5-1.1 1.5 1.4 1.5-.4 1.5 .9 1.5-.7 1.5-.1 1.5 1.6 1.5-.5 1.5 .2 1.5 .8 1.5 .4 1.5 1 1.5 0 1.5-.1 1.5 .3 1.5 .6 1.5-.3 1.5 .5 1.5 .7 1.5 .7 1.5 0 1.5 0 1.5 1.1 1.5 .2 1.5-.1 1.5 .5 1.5-.2 1.5 .4 1.5-.7 1.5 .4 1.5-.3 1.5-.1 1.5-.4 1.5-.3 2-.2 2-.1 2-.4 2 0 2-.2 2-.2 2 .4 2 .4 2 .3 2 .3 2 .6 2 .5 2 .7 2 .7 2 .8 2 .7 2 .5 2 .9 2 .7 2 .7 2 .8 2 .9 2 1.2 2 1.6 2 1.1 2 1.5 2 1.9 2 1.5 2 1.7 2 2.3 2 2.1 2 2.2 2 2.3 2 2.4 2 2.2 2 2.2 2 3 2 2.9 2 2.8 2 2.8 2 2.6 2 1.9 2 1.5 2 .6 2 .8 2.5 .6 2.5-.5 2.5 .6 2.5 1.4 2.5 .5 2.5 .2 2.5-.4 2.5 1.1 2.5-.5 2.5 1.2" stroke="#550fa0" stroke-width="1.1"/><path d="M49.6 82.2l1.5-2.5 1.5-1.4 1.5 1.4 1.5 1.2 1.5 1.9 1.5 .7 1.5-2.9 1.5 1.1 1.5 .3 1.5 1.6 1.5-.1 1.5-2 1.5 3.8 1.5-.4 1.5-1 1.5-.2 1.5 1.4 1.5-.2 1.5 1.5 1.5-.9 1.5 1.5 1.5-1 1.5 .8 1.5-1.1 1.5 .3 1.5-.6 1.5 .6 1.5 1.3 1.5-.8 1.5-.3 1.5 .9 1.5 2.4 1.5-.7 1.5-1 1.5 2.5 1.5-1.5 1.5-.6 1.5 .5 1.5 1.2 1.5 0 1.5-.2 1.5 .4 1.5 1.2 1.5-.5 1.5 2 1.5-.5 1.5 .6 1.5-.4 1.5-.4 1.5 1.8 1.5-.1 1.5 .5 1.5 .2 1.5 .4 1.5-.2 1.5 .7 1.5-.5 1.5 1.2 1.5 .4 1.5 .4 1.5-.7 1.5 .4 1.5 1.2 1.5 0 1.5 .5 1.5 .1 1.5 .5 1.5-.9 1.5 .1 1.5 .2 1.5-.6 1.5 .1 1.5-.4 1.5-.2 2-.2 2-.2 2 0 2-.5 2-.2 2 .1 2 .3 2 .5 2 .1 2 .5 2 .4 2 .7 2 .7 2 .7 2 .6 2 .6 2 .8 2 .7 2 .8 2 .7 2 1 2 .7 2 1.3 2 1.5 2 1.2 2 1.4 2 1.8 2 1.7 2 1.6 2 2.3 2 2.2 2 2.2 2 2.2 2 2.4 2 2.2 2 2.4 2 2.7 2 3 2 2.8 2 3.1 2 2.4 2 2.3 2 1.2 2 .1 2 1.6 2.5-.7 2.5 1.1 2.5 .7 2.5-.5 2.5 .7 2.5 1.3 2.5-.8 2.5 1.6 2.5-.9 2.5 1.4" stroke="#480fa3" stroke-width="1.1"/><path d="M49.6 71.5l1.5-3.3 1.5 1.7 1.5-1 1.5 3 1.5-1 1.5 1.4 1.5-.5 1.5 1 1.5-1.8 1.5 5.1 1.5-2.4 1.5-.1 1.5 3.1 1.5-2.4 1.5 2.8 1.5-1.5 1.5-1.1 1.5 2.5 1.5-1 1.5 0 1.5 3.7 1.5 .1 1.5-1.6 1.5 1.6 1.5-.2 1.5-1.1 1.5-.3 1.5 2 1.5-1.1 1.5 2.4 1.5-.2 1.5-.8 1.5 2.3 1.5 1 1.5-1.2 1.5 2 1.5-1.2 1.5-.8 1.5 1.7 1.5 .1 1.5 2 1.5-.7 1.5 1.5 1.5-1.5 1.5 1 1.5-.4 1.5 .6 1.5 1.9 1.5-.8 1.5 .9 1.5 .9 1.5 1.4 1.5-.7 1.5 .2 1.5 1.6 1.5 .5 1.5-.3 1.5 1.6 1.5 .4 1.5 .5 1.5 .4 1.5 .2 1.5 .6 1.5 0 1.5 .9 1.5 .3 1.5 .1 1.5-.1 1.5-.3 1.5 .5 1.5-.1 1.5-.7 1.5 .3 1.5-.2 2-.1 2-.3 2 0 2-.4 2-.1 2-.2 2 .6 2 .1 2 .4 2 .3 2 .7 2 .5 2 .8 2 .5 2 .6 2 .7 2 .7 2 .8 2 .8 2 .8 2 .7 2 .8 2 1.4 2 1.3 2 1.4 2 1.5 2 1.5 2 1.7 2 1.8 2 2.4 2 2.2 2 2 2 2.3 2 2.3 2 2.5 2 2.2 2 2.9 2 2.6 2 2.9 2 2.9 2 2.3 2 1.8 2 1.8 2 .5 2 .1 2.5 .9 2.5 .4 2.5 .3 2.5-.7 2.5 .8 2.5 0 2.5 1 2.5 .2 2.5-.2 2.5 .4" stroke="#550fa0" stroke-width="1.1"/><path d="M49.6 75.8l1.5 2.7 1.5-1.9 1.5 1.2 1.5 1.6 1.5-2.9 1.5 2.3 1.5 1.7 1.5-1.5 1.5 .2 1.5 .2 1.5-1.5 1.5 3.6 1.5-.8 1.5 2.7 1.5-.3 1.5-3.1 1.5 1.1 1.5-.7 1.5 3.9 1.5-2.6 1.5 1.4 1.5-1.3 1.5-.4 1.5 3.6 1.5 .1 1.5-.7 1.5-1.2 1.5 2.7 1.5 .6 1.5-1.1 1.5 1.4 1.5-2.6 1.5 1.6 1.5 2 1.5 .1 1.5-1.1 1.5-.1 1.5 .9 1.5 .1 1.5 1.3 1.5 .1 1.5-1 1.5 2.2 1.5 0 1.5-.1 1.5 1 1.5 .6 1.5-1.6 1.5 .9 1.5 1.1 1.5 .1 1.5 1.1 1.5-.2 1.5-.5 1.5 1.6 1.5-.7 1.5 1.3 1.5-.3 1.5 1.3 1.5-.5 1.5 1.2 1.5-.5 1.5 .5 1.5 .8 1.5 .3 1.5 .8 1.5-.1 1.5-.2 1.5-.3 1.5 .1 1.5-.4 1.5-.5 1.5 .2 1.5-.1 2-.2 2-.2 2-.3 2-.3 2-.1 2 .1 2 .2 2 .5 2 .3 2 .2 2 .6 2 .7 2 .5 2 .8 2 .5 2 .7 2 .8 2 .9 2 .8 2 .5 2 .9 2 .8 2 1.2 2 1.4 2 1.3 2 1.7 2 1.5 2 1.6 2 2.1 2 2 2 2.2 2 2.3 2 2.1 2 2.4 2 2.3 2 2.4 2 2.7 2 2.8 2 3 2 2.9 2 2.3 2 2.8 2 1.4 2-.1 2-.1 2.5 .6 2.5 1.2 2.5 .2 2.5-.4 2.5 1 2.5 1 2.5 .3 2.5-.7 2.5 .5 2.5 .2" stroke="#550fa0" stroke-width="1.1"/><path d="M49.6 76.2l1.5-5.2 1.5 4.3 1.5 1.7 1.5-.3 1.5-1 1.5-1.9 1.5 .8 1.5 4.2 1.5-.1 1.5-3 1.5 1 1.5 1.8 1.5-1.2 1.5-.1 1.5 3.5 1.5-3.4 1.5 2.8 1.5-.8 1.5 .6 1.5 2 1.5-.3 1.5 .4 1.5-2.8 1.5 3.5 1.5 .2 1.5-2.8 1.5 1.1 1.5 2.2 1.5 .8 1.5-.9 1.5 1.6 1.5-2.4 1.5 1 1.5 2.2 1.5 .2 1.5-1.4 1.5 1.5 1.5 0 1.5 1.2 1.5-.6 1.5 .2 1.5 1.5 1.5 .2 1.5-.5 1.5 1.2 1.5-.6 1.5 .9 1.5-.2 1.5 .8 1.5 .6 1.5-.2 1.5 .9 1.5 .5 1.5 .4 1.5 .7 1.5 1 1.5 .4 1.5-.3 1.5 .2 1.5 .5 1.5 1.3 1.5 .3 1.5 .4 1.5 .5 1.5 .1 1.5 .3 1.5-.1 1.5 .2 1.5 .1 1.5-.6 1.5 .1 1.5-.4 1.5 0 1.5 .1 2-.1 2-.2 2-.4 2-.2 2-.3 2 0 2 .3 2 .4 2 .4 2 .4 2 .5 2 .8 2 .5 2 .5 2 .7 2 .8 2 .9 2 .7 2 .6 2 .8 2 .8 2 .8 2 1.3 2 1.3 2 1.3 2 1.7 2 1.7 2 1.7 2 1.6 2 2.3 2 2 2 2.2 2 2.2 2 2.4 2 2.4 2 2.3 2 2.8 2 2.9 2 2.9 2 2.7 2 2.5 2 2.6 2 .6 2 1.3 2 0 2.5-.4 2.5 1.6 2.5 .1 2.5 0 2.5 .1 2.5 1 2.5-.3 2.5 .8 2.5-.1 2.5 .7" stroke="#550fa0" stroke-width="1.1"/><path d="M49.6 77.5l1.5 .9 1.5 .5 1.5 0 1.5-1.5 1.5-.1 1.5 2.5 1.5 2.1 1.5 0 1.5-1.8 1.5-.7 1.5 1.8 1.5-2.4 1.5 2.6 1.5 1.7 1.5 1.1 1.5-3.9 1.5 .7 1.5 1.6 1.5 .8 1.5 1.8 1.5-3.5 1.5 .4 1.5 1.7 1.5 1.5 1.5-2.8 1.5 1.6 1.5 1.6 1.5-.9 1.5-.6 1.5-.1 1.5 2.7 1.5-.5 1.5 .4 1.5 .8 1.5 .5 1.5-.8 1.5 .2 1.5 2 1.5-2.1 1.5 2.3 1.5-.6 1.5 .5 1.5-.3 1.5 2 1.5-1.2 1.5 .4 1.5-.2 1.5 2.1 1.5 .2 1.5-1.2 1.5 .6 1.5 .7 1.5-.1 1.5 1.2 1.5 .9 1.5 .1 1.5 .1 1.5 .9 1.5-.4 1.5 .4 1.5 .3 1.5 .7 1.5 .3 1.5 .2 1.5 .7 1.5 .8 1.5-.1 1.5-.3 1.5 0 1.5-.5 1.5-.1 1.5 0 1.5-.5 1.5 .1 2-.3 2-.2 2-.2 2-.3 2-.1 2-.2 2 .5 2 .2 2 .5 2 .2 2 .7 2 .4 2 .9 2 .5 2 .9 2 .4 2 .7 2 .9 2 .7 2 .9 2 .7 2 .7 2 1.5 2 1.2 2 1.3 2 1.4 2 1.8 2 1.7 2 1.7 2 2.3 2 2.2 2 2.2 2 2.2 2 2.4 2 2.3 2 2.3 2 3 2 2.6 2 2.9 2 2.8 2 2.8 2 2.5 2 .7 2 1.1 2 0 2.5 1 2.5 .4 2.5-.3 2.5 .3 2.5 .6 2.5 1.2 2.5-.4 2.5 .3 2.5-.1 2.5 .9" stroke="#550fa0" stroke-width="1.1"/><path d="M49.6 76.6l1.5 .9 1.5 .6 1.5-.9 1.5-1 1.5-.7 1.5 3.9 1.5-.5 1.5 0 1.5-3.3 1.5 3.5 1.5 .6 1.5-2.5 1.5 1.3 1.5 1 1.5-.7 1.5-.4 1.5 .5 1.5 1.7 1.5-1.7 1.5 3.7 1.5-1.4 1.5-.3 1.5 .2 1.5 .5 1.5 1.5 1.5 .7 1.5-.9 1.5 1.4 1.5-.3 1.5 1.1 1.5 .1 1.5 .4 1.5-2.1 1.5 1.5 1.5-.4 1.5 2.6 1.5-1.7 1.5 2.6 1.5-1.3 1.5-.2 1.5 1.8 1.5-.9 1.5 .8 1.5 .5 1.5 .9 1.5 0 1.5 .8 1.5 .6 1.5 .8 1.5-.3 1.5 0 1.5 .6 1.5 .1 1.5 1.2 1.5 0 1.5 .6 1.5 .5 1.5 .3 1.5 .6 1.5-.1 1.5 .7 1.5 .6 1.5 0 1.5 .7 1.5 .1 1.5 .3 1.5 .6 1.5-.4 1.5 .2 1.5-.4 1.5-.4 1.5-.3 1.5 .5 1.5-.5 2-.2 2-.1 2-.2 2-.3 2-.3 2 .2 2 .3 2 .2 2 .6 2 .2 2 .5 2 .5 2 .7 2 .8 2 .6 2 .7 2 .7 2 .6 2 1 2 .5 2 .9 2 .8 2 1.4 2 1.2 2 1.4 2 1.4 2 1.8 2 1.7 2 1.7 2 2.4 2 1.9 2 2.2 2 2.5 2 2.1 2 2.5 2 2.2 2 2.9 2 2.8 2 2.9 2 3 2 2.2 2 2.5 2 .9 2 .4 2 1 2.5 .6 2.5-.8 2.5 1.2 2.5 .6 2.5 .1 2.5 .2 2.5 .9 2.5-.5 2.5 .9 2.5 0" stroke="#550fa0" stroke-width="1.1"/><path d="M49.6 79.5l1.5 2.6 1.5-1.2 1.5 .9 1.5-2.1 1.5 3.3 1.5-.5 1.5 2.2 1.5-3.8 1.5 1.1 1.5 2.2 1.5-2.4 1.5 2.8 1.5 .7 1.5-3.1 1.5 2.9 1.5-1.9 1.5 .2 1.5 .6 1.5 2.1 1.5-.4 1.5-.9 1.5 1.5 1.5 .7 1.5-2.3 1.5 2.9 1.5-1.2 1.5 .7 1.5 1 1.5-2.1 1.5 1.1 1.5 1.2 1.5-2.1 1.5 1.5 1.5 .8 1.5 0 1.5 .5 1.5 1.3 1.5-1.9 1.5 2.1 1.5-1 1.5-.2 1.5 1.3 1.5-.5 1.5 1.1 1.5-.4 1.5 .9 1.5-.3 1.5 2.1 1.5-1.3 1.5 .8 1.5 .6 1.5 .5 1.5-.6 1.5 1.5 1.5-.5 1.5-.1 1.5 .9 1.5 .5 1.5 0 1.5 .8 1.5-.2 1.5 .9 1.5 .5 1.5 .3 1.5-.3 1.5 .7 1.5 .1 1.5-.3 1.5-.4 1.5 .2 1.5-.6 1.5-.1 1.5 0 1.5 .1 2-.4 2-.1 2-.3 2-.2 2-.1 2-.2 2 .4 2 .3 2 .5 2 .3 2 .3 2 .9 2 .4 2 .8 2 .5 2 .8 2 .7 2 .7 2 .9 2 .6 2 1 2 .6 2 1.4 2 1.3 2 1.5 2 1.3 2 1.8 2 1.6 2 1.8 2 2.1 2 2.2 2 2.2 2 2.4 2 2.1 2 2.3 2 2.6 2 2.8 2 2.6 2 3.1 2 2.9 2 2.5 2 2.8 2 .8 2 .1 2 .2 2.5 .6 2.5 1 2.5 .5 2.5 .8 2.5-.6 2.5 .4 2.5 .4 2.5 .8 2.5 1.2 2.5 .1" stroke="#480fa3" stroke-width="1.1"/><path d="M49.6 81.3l1.5 4.5 1.5-4.7 1.5 3.8 1.5 .4 1.5-2.6 1.5 2.8 1.5-1.6 1.5 3.2 1.5-2.2 1.5-.8 1.5 .3 1.5 3.1 1.5-1.2 1.5-.4 1.5-.7 1.5 3 1.5-.8 1.5-.4 1.5 .2 1.5-.3 1.5-.5 1.5 0 1.5 .8 1.5 1.4 1.5 .1 1.5 .5 1.5-2.6 1.5 .3 1.5 1.3 1.5 .9 1.5-.5 1.5 1.8 1.5-2.3 1.5 2.2 1.5-1.8 1.5 .8 1.5 1.3 1.5 .7 1.5 .7 1.5-.9 1.5 0 1.5 1 1.5-1.1 1.5 .4 1.5 2.4 1.5-1.3 1.5 1.7 1.5-1.1 1.5 1.1 1.5 .3 1.5-.3 1.5 1.1 1.5-.9 1.5 .2 1.5 .4 1.5 1.1 1.5 0 1.5 0 1.5-.3 1.5 1.3 1.5-.2 1.5 .2 1.5 .8 1.5 0 1.5 .3 1.5 .9 1.5 0 1.5-.8 1.5 .1 1.5-.2 1.5-.1 1.5-.3 1.5-.2 1.5-.3 2-.2 2-.1 2-.3 2-.2 2-.1 2-.2 2 .5 2 .3 2 .4 2 .4 2 .5 2 .5 2 .6 2 .7 2 .6 2 .6 2 .9 2 .7 2 .7 2 1 2 .6 2 .9 2 1.3 2 1.3 2 1.4 2 1.3 2 1.7 2 1.9 2 1.8 2 2 2 2.2 2 2.2 2 2.2 2 2.3 2 2.4 2 2.5 2 2.6 2 2.9 2 3 2 2.9 2 2.4 2 2.3 2 1.2 2 1.6 2-.1 2.5 .4 2.5 .6 2.5 0 2.5 1.1 2.5 .1 2.5 .5 2.5-.3 2.5 1.4 2.5-.1 2.5 .7" stroke="#1936dc" stroke-width="1.1"/><path d="M49.6 84.3l1.5-2.8 1.5 4 1.5 .7 1.5-3.3 1.5 2.9 1.5-.8 1.5-.2 1.5 2.1 1.5-1 1.5 .1 1.5 1.6 1.5-2.2 1.5-1.5 1.5-.3 1.5 3.7 1.5-1 1.5 2 1.5 .6 1.5-3 1.5-.1 1.5 1.9 1.5-2.2 1.5 .6 1.5 .1 1.5 1.1 1.5 .7 1.5-.7 1.5 2 1.5 .5 1.5 .4 1.5-.8 1.5 1 1.5 .4 1.5 0 1.5-1.1 1.5 1.1 1.5 1 1.5-1.5 1.5 .6 1.5-.7 1.5 1.9 1.5-1 1.5 1.1 1.5-.4 1.5 .1 1.5 2.1 1.5-1 1.5 1.6 1.5-.3 1.5 0 1.5 .1 1.5 .5 1.5 .5 1.5-.7 1.5 .8 1.5-.1 1.5 .2 1.5 .3 1.5 1 1.5 .4 1.5-.3 1.5 .1 1.5 .4 1.5 .5 1.5 .4 1.5 .8 1.5-.4 1.5-.2 1.5-.1 1.5-.6 1.5 0 1.5-.2 1.5-.5 1.5 .1 2-.1 2-.2 2-.3 2-.3 2 0 2-.2 2 .3 2 .6 2 .3 2 .4 2 .3 2 .8 2 .7 2 .6 2 .4 2 .8 2 .7 2 .8 2 .8 2 .7 2 .8 2 .7 2 1.5 2 1.2 2 1.4 2 1.4 2 1.9 2 1.6 2 1.8 2 2.2 2 2 2 2.4 2 2.3 2 2.1 2 2.5 2 2.3 2 2.8 2 2.8 2 2.9 2 3 2 2.6 2 2.6 2 1.5 2 .6 2-.1 2.5 .1 2.5 .5 2.5 .6 2.5 .8 2.5-.3 2.5 .8 2.5 .2 2.5 .9 2.5-.1 2.5 1.3" stroke="#480fa3" stroke-width="1.1"/><path d="M49.6 76.5l1.5-1.8 1.5-.4 1.5 2.5 1.5 1.5 1.5 0 1.5 .3 1.5-1.3 1.5-.9 1.5 4.4 1.5 .7 1.5-4.2 1.5 2.4 1.5-1.6 1.5 1.3 1.5 2.6 1.5-1.5 1.5 3.1 1.5-3.7 1.5 3.8 1.5-.7 1.5 .1 1.5-1.3 1.5 1.4 1.5 .7 1.5 .5 1.5 .3 1.5-.6 1.5-1.2 1.5 .3 1.5 .6 1.5 1 1.5 .1 1.5 2.6 1.5 .1 1.5-.7 1.5-1 1.5 1.4 1.5-.1 1.5 .7 1.5-.5 1.5 1.8 1.5 .9 1.5-2 1.5 2.4 1.5 .6 1.5-1.7 1.5 2.1 1.5 .4 1.5-1.2 1.5 1.1 1.5 1.1 1.5-.6 1.5-.1 1.5 1.7 1.5 .1 1.5 .4 1.5-.1 1.5 .5 1.5 .3 1.5 .7 1.5 .7 1.5 .1 1.5 .4 1.5 0 1.5 .6 1.5 .4 1.5 .6 1.5-.7 1.5-.3 1.5 0 1.5 .3 1.5-.5 1.5-.3 1.5 .2 2-.4 2-.1 2-.2 2-.2 2-.3 2 0 2 .4 2 .2 2 .3 2 .6 2 .3 2 .7 2 .8 2 .5 2 .7 2 .6 2 .7 2 .9 2 .8 2 .8 2 .6 2 .8 2 1.3 2 1.4 2 1.3 2 1.4 2 1.9 2 1.7 2 1.6 2 2.2 2 2.4 2 2.1 2 2.3 2 2.1 2 2.6 2 2.2 2 2.7 2 2.9 2 2.9 2 2.8 2 2.4 2 2.3 2 1.6 2 .4 2 .2 2.5 .3 2.5 .8 2.5 .7 2.5-.7 2.5 1.5 2.5 .3 2.5-.7 2.5 .7 2.5 .1 2.5 1" stroke="#2118bc" stroke-width="1.1"/></g>
<line x1="111.5" y1="12.3" x2="111.5" y2="180.7" stroke="#b4d0ea" stroke-width="1" stroke-dasharray="3.7,1.9" opacity="0.25"/>
<line x1="139.4" y1="12.3" x2="139.4" y2="180.7" stroke="#f6c0c0" stroke-width="1" stroke-dasharray="3.7,1.9" opacity="0.25"/>
<line x1="195.6" y1="12.3" x2="195.6" y2="180.7" stroke="#cdc8f0" stroke-width="1" stroke-dasharray="3.7,1.9" opacity="0.25"/>
<line x1="208.3" y1="12.3" x2="208.3" y2="180.7" stroke="#b4d0ea" stroke-width="1" stroke-dasharray="3.7,1.9" opacity="0.25"/>
<line x1="80.2" y1="17.7" x2="158.9" y2="60.7" stroke="#404040" stroke-width="1"/>
<text x="115.2" y="36.6" font-family="'Liberation Serif', serif" font-style="italic" font-size="10" fill="#333">Q<tspan dx="1.2" dy="-5" font-size="7" font-style="normal">&#8722;2</tspan></text>
<line x1="55.7" y1="156.4" x2="132.4" y2="156.4" stroke="#E24A33" stroke-width="1.5"/>
<polygon points="49.2,156.4 55.7,153.5 55.7,159.3" fill="#E24A33"/>
<polygon points="138.9,156.4 132.4,153.5 132.4,159.3" fill="#E24A33"/>
<line x1="120" y1="164.6" x2="202.5" y2="164.6" stroke="#348ABD" stroke-width="1.5"/>
<polygon points="113.5,164.6 120,161.7 120,167.5" fill="#348ABD"/>
<polygon points="209,164.6 202.5,161.7 202.5,167.5" fill="#348ABD"/>
<line x1="202.1" y1="173" x2="268.2" y2="173" stroke="#988ED5" stroke-width="1.5"/>
<polygon points="195.6,173 202.1,170.1 202.1,175.9" fill="#988ED5"/>
<polygon points="274.7,173 268.2,170.1 268.2,175.9" fill="#988ED5"/>
<text x="97.5" y="153.3" font-size="10" text-anchor="middle" fill="#555555" >Low-Q</text>
<text x="162.8" y="160.9" font-size="10" text-anchor="middle" fill="#555555" >Mid-Q</text>
<text x="241" y="169.4" font-size="10" text-anchor="middle" fill="#555555" >High-Q</text>
<rect x="46.8" y="12.3" width="229.7" height="168.4" fill="none" stroke="#5a5a5a" stroke-width="1.1"/>
<path d="M46.8 180.3h3.2M276.5 180.3h-3.2M46.8 172.26h1.6M276.5 172.26h-1.6M46.8 167.56h1.6M276.5 167.56h-1.6M46.8 164.22h1.6M276.5 164.22h-1.6M46.8 161.64h1.6M276.5 161.64h-1.6M46.8 159.52h1.6M276.5 159.52h-1.6M46.8 157.74h1.6M276.5 157.74h-1.6M46.8 156.19h1.6M276.5 156.19h-1.6M46.8 154.82h1.6M276.5 154.82h-1.6M46.8 153.6h3.2M276.5 153.6h-3.2M46.8 145.56h1.6M276.5 145.56h-1.6M46.8 140.86h1.6M276.5 140.86h-1.6M46.8 137.52h1.6M276.5 137.52h-1.6M46.8 134.94h1.6M276.5 134.94h-1.6M46.8 132.82h1.6M276.5 132.82h-1.6M46.8 131.04h1.6M276.5 131.04h-1.6M46.8 129.49h1.6M276.5 129.49h-1.6M46.8 128.12h1.6M276.5 128.12h-1.6M46.8 126.9h3.2M276.5 126.9h-3.2M46.8 118.86h1.6M276.5 118.86h-1.6M46.8 114.16h1.6M276.5 114.16h-1.6M46.8 110.82h1.6M276.5 110.82h-1.6M46.8 108.24h1.6M276.5 108.24h-1.6M46.8 106.12h1.6M276.5 106.12h-1.6M46.8 104.34h1.6M276.5 104.34h-1.6M46.8 102.79h1.6M276.5 102.79h-1.6M46.8 101.42h1.6M276.5 101.42h-1.6M46.8 100.2h3.2M276.5 100.2h-3.2M46.8 92.16h1.6M276.5 92.16h-1.6M46.8 87.46h1.6M276.5 87.46h-1.6M46.8 84.12h1.6M276.5 84.12h-1.6M46.8 81.54h1.6M276.5 81.54h-1.6M46.8 79.42h1.6M276.5 79.42h-1.6M46.8 77.64h1.6M276.5 77.64h-1.6M46.8 76.09h1.6M276.5 76.09h-1.6M46.8 74.72h1.6M276.5 74.72h-1.6M46.8 73.5h3.2M276.5 73.5h-3.2M46.8 65.46h1.6M276.5 65.46h-1.6M46.8 60.76h1.6M276.5 60.76h-1.6M46.8 57.42h1.6M276.5 57.42h-1.6M46.8 54.84h1.6M276.5 54.84h-1.6M46.8 52.72h1.6M276.5 52.72h-1.6M46.8 50.94h1.6M276.5 50.94h-1.6M46.8 49.39h1.6M276.5 49.39h-1.6M46.8 48.02h1.6M276.5 48.02h-1.6M46.8 46.8h3.2M276.5 46.8h-3.2M46.8 38.76h1.6M276.5 38.76h-1.6M46.8 34.06h1.6M276.5 34.06h-1.6M46.8 30.72h1.6M276.5 30.72h-1.6M46.8 28.14h1.6M276.5 28.14h-1.6M46.8 26.02h1.6M276.5 26.02h-1.6M46.8 24.24h1.6M276.5 24.24h-1.6M46.8 22.69h1.6M276.5 22.69h-1.6M46.8 21.32h1.6M276.5 21.32h-1.6M46.8 20.1h3.2M276.5 20.1h-3.2M51.42 180.7v-1.6M51.42 12.3v1.6M68.57 180.7v-1.6M68.57 12.3v1.6M80.74 180.7v-1.6M80.74 12.3v1.6M90.18 180.7v-1.6M90.18 12.3v1.6M97.89 180.7v-1.6M97.89 12.3v1.6M104.41 180.7v-1.6M104.41 12.3v1.6M110.06 180.7v-1.6M110.06 12.3v1.6M115.04 180.7v-1.6M115.04 12.3v1.6M119.5 180.7v-3.2M119.5 12.3v3.2M148.82 180.7v-1.6M148.82 12.3v1.6M165.97 180.7v-1.6M165.97 12.3v1.6M178.14 180.7v-1.6M178.14 12.3v1.6M187.58 180.7v-1.6M187.58 12.3v1.6M195.29 180.7v-1.6M195.29 12.3v1.6M201.81 180.7v-1.6M201.81 12.3v1.6M207.46 180.7v-1.6M207.46 12.3v1.6M212.44 180.7v-1.6M212.44 12.3v1.6M216.9 180.7v-3.2M216.9 12.3v3.2M246.22 180.7v-1.6M246.22 12.3v1.6M263.37 180.7v-1.6M263.37 12.3v1.6M275.54 180.7v-1.6M275.54 12.3v1.6" stroke="#8a8a8a" stroke-width="0.7" fill="none"/>
<text x="44.3" y="183.7" font-size="9.3" text-anchor="end" fill="#555555">10<tspan dy="-4" font-size="6.5">&#8722;3</tspan></text>
<text x="44.3" y="157" font-size="9.3" text-anchor="end" fill="#555555">10<tspan dy="-4" font-size="6.5">&#8722;2</tspan></text>
<text x="44.3" y="130.3" font-size="9.3" text-anchor="end" fill="#555555">10<tspan dy="-4" font-size="6.5">&#8722;1</tspan></text>
<text x="42.5" y="103.6" font-size="9.3" text-anchor="end" fill="#555555">10<tspan dy="-4" font-size="6.5">0</tspan></text>
<text x="42.5" y="76.9" font-size="9.3" text-anchor="end" fill="#555555">10<tspan dy="-4" font-size="6.5">1</tspan></text>
<text x="42.5" y="50.2" font-size="9.3" text-anchor="end" fill="#555555">10<tspan dy="-4" font-size="6.5">2</tspan></text>
<text x="42.5" y="23.5" font-size="9.3" text-anchor="end" fill="#555555">10<tspan dy="-4" font-size="6.5">3</tspan></text>
<text x="111" y="192.4" font-size="9.3" text-anchor="start" fill="#555555">10<tspan dy="-4" font-size="6.5">&#8722;2</tspan></text>
<text x="208.4" y="192.4" font-size="9.3" text-anchor="start" fill="#555555">10<tspan dy="-4" font-size="6.5">&#8722;1</tspan></text>
<text x="162" y="211.6" font-size="12" text-anchor="middle" fill="#555555">Q (<tspan font-family="'Liberation Serif', serif">&#197;<tspan dy="-5" font-size="8.5">&#8722;1</tspan></tspan><tspan dy="5">)</tspan></text>
<text x="0" y="0" text-anchor="middle" fill="#555555" font-size="12" transform="translate(18.6 96.6) rotate(-90)">Intensity (cm<tspan dy="-4.8" font-size="8.5">&#8722;1</tspan><tspan dy="4.8">)</tspan></text>
<text x="0.5" y="12.9" font-size="18" text-anchor="start" fill="#000" >a</text>
<rect x="290.6" y="12.3" width="9" height="168.7" fill="url(#cbar)" stroke="#999" stroke-width="0.6"/>
<text x="302.8" y="184.3" font-size="9" text-anchor="start" fill="#555555" >2</text>
<text x="302.8" y="167.43" font-size="9" text-anchor="start" fill="#555555" >3</text>
<text x="302.8" y="150.56" font-size="9" text-anchor="start" fill="#555555" >4</text>
<text x="302.8" y="133.69" font-size="9" text-anchor="start" fill="#555555" >5</text>
<text x="302.8" y="116.82" font-size="9" text-anchor="start" fill="#555555" >6</text>
<text x="302.8" y="99.95" font-size="9" text-anchor="start" fill="#555555" >7</text>
<text x="302.8" y="83.08" font-size="9" text-anchor="start" fill="#555555" >8</text>
<text x="302.8" y="66.21" font-size="9" text-anchor="start" fill="#555555" >9</text>
<text x="302.8" y="49.34" font-size="9" text-anchor="start" fill="#555555" >10</text>
<text x="302.8" y="32.47" font-size="9" text-anchor="start" fill="#555555" >11</text>
<text x="302.8" y="15.6" font-size="9" text-anchor="start" fill="#555555" >12</text>
<text x="0" y="0" font-size="11.5" text-anchor="middle" fill="#555555" transform="translate(324.2 96.4) rotate(-90)">pD</text>
<line x1="373.4" y1="28.4" x2="446" y2="2" stroke="#d0d0d0" stroke-width="0.8"/>
<line x1="446" y1="2" x2="616.4" y2="10.9" stroke="#d0d0d0" stroke-width="0.8"/>
<line x1="616.4" y1="10.9" x2="613.6" y2="143" stroke="#d0d0d0" stroke-width="0.8"/>
<line x1="446" y1="2" x2="446" y2="129.4" stroke="#d0d0d0" stroke-width="0.8"/>
<line x1="446" y1="129.4" x2="613.6" y2="143" stroke="#d0d0d0" stroke-width="0.8"/>
<line x1="377" y1="167.5" x2="446" y2="129.4" stroke="#d0d0d0" stroke-width="0.8"/>
<g fill="none" stroke-linejoin="round"><path d="M501.9 78.4l2.3 .1 2.4 .1 2.4 .1 2.4 .1 2.4 .1 2.3 .1 2.4 0 2.4 0 2.4 0 2.4 .1 2.3 0 2.4 0 2.4 0 2.4 0 2.4 .1 2.3 .8 2.4 .8 2.4 .8 2.4 1.2 2.3 2 2.4 2 2.3 2 2.4 2 2.3 2.3" stroke="#550fa0" stroke-width="1.2"/><path d="M464.2 65.5l1.7 3.5 1.8-2.4 1.8 7.4 1.8 2.6 1.8-1.2 1.8-5.7 1.7 3.1 1.8 6.4 1.8 .2 1.8-8 1.8 1 1.8 4.9 1.8-4.7 1.7 6.7 1.8-6.2 1.8 8.5 1.8-6 1.7 6.7 1.8-1.6 1.8 1.1 1.8-6.9 1.8-.3 1.8 5.2 1.8-1.1 1.8-3.6 1.8 1.5 1.8-2 1.7 7.5 1.8-4.3 1.8 4.7 1.8-7 1.8-.8 1.8 1.1 1.8 .7 1.7 1 1.8 6.3 1.8-4.6 1.8 0 1.8 0 1.8 .1 1.7 0 1.8 .6 1.8 .6 1.8 .6 1.8 .7 1.7 .6 1.8 1.5 1.8 1.5 1.7 1.5 1.8 1.5 1.8 1.5 1.7 1.5 1.8 1.9 1.8 1.8 1.7 1.9 1.8 1.8 1.7 2.4 1.7 3.4 1.8 3.4 1.7 3.4 1.7 3.3 1.8 3.3 1.7 3.2 1.7 3.2 1.7 3.2 1.8 1.7 1.7 .8 1.8 .8 1.8 .9 1.7 .6 1.8 .6 1.8 .6 1.7 .6 1.8 .5 1.8 .6 1.7 .6" stroke="#550fa0" stroke-width="0.8"/><path d="M501.6 78.5l2.4 .1 2.4 .1 2.4 .1 2.3 .1 2.4 .1 2.4 .1 2.4 0 2.4 0 2.3 .1 2.4 0 2.4 0 2.4 0 2.4 0 2.4 .1 2.3 0 2.4 .8 2.4 .8 2.4 .9 2.3 1.1 2.4 2 2.3 2 2.4 2 2.3 2 2.4 2.4" stroke="#550fa0" stroke-width="1.2"/><path d="M501.4 78.6l2.3 .1 2.4 .1 2.4 .1 2.4 .1 2.4 .1 2.4 .1 2.3 0 2.4 .1 2.4 0 2.4 0 2.4 0 2.4 0 2.3 .1 2.4 0 2.4 0 2.4 .8 2.4 .9 2.3 .8 2.4 1.1 2.4 2 2.3 2 2.4 2 2.3 2.1 2.4 2.3" stroke="#550fa0" stroke-width="1.2"/><path d="M501.1 78.8l2.4 .1 2.4 0 2.4 .1 2.4 .1 2.3 .1 2.4 .1 2.4 .1 2.4 0 2.4 0 2.4 0 2.3 .1 2.4 0 2.4 0 2.4 0 2.4 0 2.3 .9 2.4 .8 2.4 .8 2.4 1.2 2.3 2 2.4 2 2.3 2 2.4 2 2.3 2.3" stroke="#550fa0" stroke-width="1.2"/><path d="M500.9 78.8l2.4 .1 2.4 .1 2.4 .1 2.4 .1 2.4 .1 2.3 .1 2.4 .1 2.4 0 2.4 0 2.4 0 2.4 .1 2.3 0 2.4 0 2.4 0 2.4 0 2.4 .9 2.3 .8 2.4 .8 2.4 1.2 2.3 2 2.4 2 2.4 2 2.3 2 2.4 2.3" stroke="#550fa0" stroke-width="1.2"/><path d="M500.8 78.9l2.3 .1 2.4 .1 2.4 .1 2.4 .1 2.4 .1 2.4 .1 2.3 .1 2.4 0 2.4 0 2.4 0 2.4 0 2.4 .1 2.4 0 2.3 0 2.4 0 2.4 .9 2.4 .8 2.3 .8 2.4 1.1 2.4 2.1 2.3 2 2.4 2 2.3 2 2.4 2.3" stroke="#550fa0" stroke-width="1.2"/><path d="M500.5 79.1l2.4 .1 2.4 .1 2.4 .1 2.3 .1 2.4 .1 2.4 .1 2.4 0 2.4 0 2.4 0 2.4 .1 2.3 0 2.4 0 2.4 0 2.4 0 2.4 .1 2.4 .8 2.3 .8 2.4 .8 2.4 1.2 2.3 2 2.4 2 2.4 2 2.3 2 2.4 2.4" stroke="#550fa0" stroke-width="1.2"/><path d="M500.3 79.2l2.3 .1 2.4 .1 2.4 .1 2.4 .1 2.4 .1 2.4 .1 2.4 0 2.3 0 2.4 .1 2.4 0 2.4 0 2.4 0 2.4 0 2.4 .1 2.4 0 2.3 .8 2.4 .8 2.4 .9 2.4 1.1 2.3 2 2.4 2 2.3 2 2.4 2 2.3 2.4" stroke="#550fa0" stroke-width="1.2"/><path d="M500.1 79.3l2.4 .1 2.4 .1 2.3 .1 2.4 .1 2.4 .1 2.4 .1 2.4 0 2.4 0 2.4 .1 2.3 0 2.4 0 2.4 0 2.4 0 2.4 .1 2.4 0 2.4 .8 2.3 .8 2.4 .9 2.4 1.1 2.3 2 2.4 2 2.4 2 2.3 2 2.4 2.4" stroke="#550fa0" stroke-width="1.2"/><path d="M499.9 79.4l2.4 .1 2.4 .1 2.4 .1 2.3 .1 2.4 .1 2.4 .1 2.4 0 2.4 0 2.4 0 2.4 .1 2.4 0 2.3 0 2.4 0 2.4 .1 2.4 0 2.4 .8 2.4 .8 2.3 .9 2.4 1.1 2.4 2 2.3 2 2.4 2 2.4 2 2.3 2.4" stroke="#550fa0" stroke-width="1.2"/><path d="M499.7 79.5l2.3 .1 2.4 .1 2.4 .1 2.4 .1 2.4 .1 2.4 .1 2.4 0 2.4 .1 2.3 0 2.4 0 2.4 0 2.4 0 2.4 .1 2.4 0 2.4 0 2.4 .8 2.3 .9 2.4 .8 2.4 1.1 2.3 2 2.4 2 2.4 2.1 2.3 2 2.4 2.3" stroke="#530fa1" stroke-width="1.2"/><path d="M499.4 79.6l2.4 .1 2.4 .1 2.4 .1 2.4 .1 2.3 .1 2.4 .1 2.4 .1 2.4 0 2.4 0 2.4 0 2.4 0 2.4 .1 2.4 0 2.3 0 2.4 0 2.4 .9 2.4 .8 2.4 .8 2.4 1.2 2.3 2 2.4 2 2.3 2 2.4 2 2.4 2.4" stroke="#480fa3" stroke-width="1.2"/><path d="M499.2 79.8l2.4 .1 2.3 .1 2.4 .1 2.4 .1 2.4 0 2.4 .1 2.4 .1 2.4 0 2.4 0 2.4 0 2.3 .1 2.4 0 2.4 0 2.4 0 2.4 .1 2.4 .8 2.4 .8 2.3 .9 2.4 1.1 2.4 2 2.4 2 2.3 2 2.4 2 2.3 2.4" stroke="#2d0faa" stroke-width="1.2"/><path d="M498.9 79.9l2.4 .1 2.4 .1 2.4 .1 2.4 .1 2.4 .1 2.4 .1 2.3 0 2.4 0 2.4 .1 2.4 0 2.4 0 2.4 0 2.4 0 2.4 .1 2.4 0 2.4 .8 2.3 .8 2.4 .9 2.4 1.1 2.4 2 2.3 2 2.4 2 2.3 2.1 2.4 2.3" stroke="#2515b6" stroke-width="1.2"/><path d="M498.2 75.2l2.4-.1 2.4-.1 2.4 0 2.4-.1 2.4-.1 2.4 0 2.4 .3 2.4 .5 2.4 .5 2.3 .6 2.4 .5 2.4 .5 2.4 .7 2.4 .6 2.4 .6 2.4 1.7 2.3 .9 2.4 .8 2.4 1 2.4 2 2.3 2 2.4 2.1 2.4 2.1 2.3 2.3" stroke="#1e9e9c" stroke-width="0.6"/><path d="M497.6 68.7l2.4-.1 2.4-.2 2.4-.1 2.4-.2 2.4-.1 2.4-.1 2.4 .7 2.4 1.1 2.4 1 2.4 1.1 2.4 1 2.4 1.2 2.4 1.3 2.3 1.3 2.4 1.2 2.4 2.6 2.4 1.2 2.4 .7 2.4 1.1 2.3 2.1 2.4 2.1 2.4 2.1 2.3 2.3 2.4 2.2" stroke="#0cbb0e" stroke-width="0.6"/><path d="M497.3 66.3l2.4-.1 2.4-.1 2.5-.1 2.4 0 2.4-.1 2.4-.1 2.3 .9 2.4 1.2 2.4 1.2 2.4 1.2 2.4 1.2 2.4 1.4 2.4 1.4 2.4 1.4 2.3 1.4 2.4 2.7 2.4 1.3 2.4 .9 2.4 1.2 2.3 2.2 2.4 2.1 2.4 2.3 2.3 2.2 2.4 2.3" stroke="#0ac70a" stroke-width="0.6"/><path d="M497.1 63.8l2.4 0 2.4 0 2.4 0 2.4 0 2.4 0 2.4 0 2.4 1 2.4 1.3 2.3 1.4 2.4 1.3 2.4 1.4 2.4 1.5 2.4 1.5 2.4 1.6 2.4 1.6 2.3 2.8 2.4 1.4 2.4 1.1 2.4 1.3 2.4 2.3 2.3 2.2 2.4 2.3 2.4 2.3 2.3 2.3" stroke="#0bcf09" stroke-width="0.6"/><path d="M496.8 62.6l2.4 .1 2.4 0 2.4 0 2.4 .1 2.4 0 2.4 0 2.4 1.1 2.4 1.4 2.4 1.4 2.3 1.4 2.4 1.4 2.4 1.6 2.4 1.7 2.4 1.6 2.4 1.7 2.3 2.9 2.4 1.5 2.4 1.1 2.4 1.4 2.4 2.3 2.3 2.3 2.4 2.3 2.4 2.4 2.3 2.3" stroke="#0cd308" stroke-width="0.6"/><path d="M496.5 61.4l2.4 .1 2.4 .1 2.4 .1 2.4 0 2.4 .1 2.4 .1 2.4 1.1 2.4 1.5 2.4 1.5 2.4 1.5 2.3 1.4 2.4 1.7 2.4 1.7 2.4 1.8 2.4 1.7 2.4 2.9 2.3 1.6 2.4 1.2 2.4 1.4 2.4 2.4 2.4 2.4 2.3 2.3 2.4 2.4 2.4 2.3" stroke="#0dd707" stroke-width="0.6"/><path d="M496.2 60l2.4 .2 2.4 .1 2.4 .1 2.4 .1 2.4 .2 2.4 .1 2.4 1.1 2.4 1.4 2.4 1.6 2.4 1.5 2.4 1.4 2.4 1.6 2.3 1.7 2.4 1.8 2.4 1.8 2.4 3.1 2.4 1.9 2.3 1.5 2.4 1.7 2.4 2.5 2.4 2.5 2.3 2.4 2.4 2.4 2.4 2.4" stroke="#0edc06" stroke-width="0.6"/><path d="M495.9 58.5l2.4 .2 2.4 .2 2.4 .2 2.4 .1 2.4 .2 2.4 .2 2.4 1 2.4 1.5 2.4 1.7 2.4 1.7 2.4 1.3 2.4 1.4 2.4 1.5 2.4 1.8 2.3 2 2.4 3.3 2.4 2.2 2.4 2 2.3 2 2.4 2.6 2.4 2.5 2.3 2.6 2.4 2.5 2.4 2.4" stroke="#0fe105" stroke-width="0.6"/><path d="M495.6 57.9l2.4 .2 2.4 .2 2.4 .2 2.4 .2 2.4 .2 2.4 .2 2.4 1 2.4 1.7 2.4 1.8 2.4 1.8 2.4 1.1 2.4 1.2 2.4 1.4 2.4 1.7 2.4 2.1 2.3 3.3 2.4 2.6 2.4 2.2 2.4 2.3 2.3 2.6 2.4 2.5 2.4 2.7 2.3 2.6 2.4 2.4" stroke="#19e204" stroke-width="0.6"/><path d="M495.2 56.9l2.5 .3 2.4 .2 2.4 .2 2.4 .3 2.4 .2 2.4 .3 2.4 1.2 2.4 1.9 2.4 2 2.4 1.8 2.4 .9 2.4 1 2.4 1.3 2.4 1.6 2.4 2.2 2.3 3.4 2.4 2.8 2.4 2.5 2.4 2.6 2.3 2.6 2.4 2.6 2.4 2.6 2.3 2.7 2.4 2.4" stroke="#24e303" stroke-width="0.6"/><path d="M495 55.1l2.4 .3 2.4 .3 2.4 .3 2.4 .3 2.4 .3 2.4 .5 2.4 1.6 2.4 2.4 2.4 2.2 2.4 1.9 2.4 .7 2.4 .7 2.4 1.1 2.4 1.5 2.4 2.3 2.4 3.5 2.3 3.1 2.4 2.9 2.4 2.8 2.3 2.7 2.4 2.6 2.4 2.8 2.4 2.8 2.3 2.4" stroke="#32e402" stroke-width="0.6"/><path d="M494.7 52.6l2.4 .4 2.4 .3 2.4 .4 2.4 .4 2.4 .5 2.4 1 2.4 2.3 2.4 2.8 2.4 2.4 2.4 1.9 2.4 .5 2.4 .5 2.4 .9 2.4 1.4 2.4 2.4 2.4 3.6 2.3 3.5 2.4 3.2 2.4 3.1 2.4 2.7 2.3 2.7 2.4 2.8 2.4 2.9 2.3 2.4" stroke="#40e501" stroke-width="0.6"/><path d="M494.4 51.3l2.4 .4 2.4 .4 2.4 .4 2.4 .4 2.4 .7 2.4 1.4 2.4 2.6 2.4 3 2.4 2.5 2.4 1.9 2.4 .5 2.4 .3 2.4 .8 2.4 1.3 2.4 2.5 2.4 3.7 2.4 3.6 2.3 3.4 2.4 3.3 2.4 2.6 2.3 2.7 2.4 2.9 2.4 2.9 2.4 2.4" stroke="#47e600" stroke-width="0.6"/><path d="M494.1 49.9l2.4 .5 2.4 .4 2.4 .5 2.4 .5 2.4 .8 2.4 1.9 2.4 3 2.4 3.1 2.4 2.5 2.4 2 2.4 .3 2.4 .2 2.4 .7 2.4 1.3 2.4 2.6 2.4 3.7 2.4 3.7 2.3 3.6 2.4 3.4 2.4 2.7 2.4 2.7 2.3 2.9 2.4 2.9 2.4 2.4" stroke="#54e700" stroke-width="0.6"/><path d="M493.7 49l2.5 .5 2.4 .5 2.4 .5 2.4 .5 2.4 1.1 2.4 2.4 2.4 3.1 2.4 3.1 2.4 2.5 2.4 2 2.4 .4 2.4 .2 2.4 .7 2.4 1.3 2.4 2.5 2.4 3.8 2.4 3.7 2.4 3.6 2.3 3.3 2.4 2.7 2.4 2.7 2.3 2.9 2.4 3 2.4 2.4" stroke="#63e700" stroke-width="0.6"/><path d="M493.4 48.8l2.5 .5 2.4 .5 2.4 .6 2.4 .6 2.4 1.2 2.4 2.4 2.4 3.1 2.4 3.1 2.4 2.6 2.4 2 2.4 .3 2.4 .2 2.4 .7 2.5 1.3 2.3 2.6 2.4 3.7 2.4 3.7 2.4 3.6 2.3 3.4 2.4 2.7 2.4 2.7 2.4 2.9 2.3 3 2.4 2.4" stroke="#72e800" stroke-width="0.6"/><path d="M493.1 49l2.5 .5 2.4 .6 2.4 .6 2.4 .6 2.4 1.1 2.4 2.4 2.4 3.1 2.4 3.1 2.4 2.5 2.4 2 2.4 .4 2.4 .2 2.5 .7 2.4 1.3 2.3 2.5 2.4 3.8 2.4 3.7 2.4 3.6 2.3 3.4 2.4 2.7 2.4 2.7 2.4 2.9 2.3 2.9 2.4 2.4" stroke="#7fe900" stroke-width="0.6"/><path d="M492.8 49.2l2.4 .6 2.5 .6 2.4 .6 2.4 .6 2.4 1.1 2.4 2.3 2.4 3 2.4 3.1 2.4 2.6 2.4 2 2.4 .3 2.4 .2 2.5 .7 2.4 1.3 2.4 2.6 2.3 3.7 2.4 3.8 2.4 3.5 2.4 3.4 2.3 2.7 2.4 2.7 2.4 2.9 2.4 3 2.3 2.4" stroke="#8ce900" stroke-width="0.6"/><path d="M492.5 49.3l2.4 .7 2.5 .6 2.4 .7 2.4 .7 2.4 1.1 2.4 2.1 2.4 3 2.4 3.1 2.4 2.5 2.4 2 2.4 .4 2.5 .2 2.4 .7 2.4 1.3 2.4 2.5 2.3 3.8 2.4 3.7 2.4 3.6 2.4 3.4 2.4 2.7 2.3 2.7 2.4 2.9 2.4 3 2.4 2.4" stroke="#9dea00" stroke-width="0.6"/><path d="M483.1 47.5l1.9-.6 1.8 1.5 1.8-.6 1.8 .5 1.8 1.2 1.8-.1 1.9 .5 1.8 .6 1.8 1.2 1.8 .5 1.8 1.1 1.8 .8 1.8 1.6 1.8 1.9 1.8 2.4 1.8 2.1 1.8 1.9 1.8 1.9 1.8 .2 1.9 .3 1.8 .1 1.8 .4 1.8 1 1.8 1 1.8 2.2 1.8 2.8 1.8 2.8 1.7 2.8 1.8 2.6 1.8 2.7 1.8 2.1 1.8 2 1.8 2 1.7 2.2 1.8 2.2 1.8 2.3 1.8 1.6 1.8 1.7 1.7 2.7 1.8 3.2 1.8 3.3 1.7 3.2 1.8 3.3 1.7 3.1 1.8 3 1.7 3 1.8 3 1.8 3 1.7 2 1.8 1.7 1.8 1.6 1.7 1.6 1.8 .4 1.8 .4 1.8 .4 1.8 .4 1.8 .4 1.8 .3 1.8 .3 1.8 .3" stroke="#afeb00" stroke-width="0.8"/><path d="M492.2 49.5l2.4 .7 2.4 .7 2.5 .7 2.4 .8 2.4 1 2.4 2 2.4 3 2.4 3.1 2.4 2.5 2.4 2 2.4 .3 2.5 .2 2.4 .7 2.4 1.3 2.4 2.6 2.4 3.7 2.3 3.8 2.4 3.6 2.4 3.3 2.4 2.7 2.3 2.7 2.4 3 2.4 2.9 2.4 2.4" stroke="#afeb00" stroke-width="0.6"/><path d="M491.5 49.8l2.4 .8 2.5 .8 2.4 .8 2.4 .8 2.4 1.1 2.4 1.8 2.5 2.8 2.4 3.1 2.4 2.5 2.4 2 2.4 .4 2.4 .2 2.4 .7 2.4 1.3 2.4 2.5 2.4 3.8 2.4 3.7 2.4 3.6 2.4 3.4 2.3 2.7 2.4 2.7 2.4 2.9 2.4 3 2.4 2.4" stroke="#c3ea00" stroke-width="0.6"/><path d="M491 49.7l2.4 .9 2.4 .9 2.4 .9 2.5 .9 2.4 1.1 2.4 1.9 2.4 2.7 2.4 3.1 2.4 2.5 2.4 2 2.5 .3 2.4 .2 2.4 .8 2.4 1.3 2.4 2.5 2.4 3.8 2.4 3.7 2.4 3.6 2.3 3.4 2.4 2.7 2.4 2.7 2.4 2.9 2.4 3 2.3 2.4" stroke="#d9e800" stroke-width="0.6"/><path d="M490.4 49.6l2.4 1 2.4 1 2.4 1 2.5 1 2.4 1.2 2.4 1.9 2.4 2.7 2.4 3 2.4 2.5 2.4 2 2.5 .3 2.4 .2 2.4 .8 2.4 1.3 2.4 2.5 2.4 3.8 2.4 3.7 2.4 3.6 2.4 3.4 2.3 2.7 2.4 2.7 2.4 2.9 2.4 3 2.4 2.4" stroke="#ebe700" stroke-width="0.6"/><path d="M489.7 49.6l2.5 1 2.4 1.1 2.4 1.1 2.4 1.1 2.5 1.3 2.4 1.9 2.4 2.6 2.4 3 2.4 2.5 2.4 2 2.5 .3 2.4 .3 2.4 .7 2.4 1.3 2.4 2.5 2.4 3.8 2.4 3.7 2.4 3.6 2.4 3.4 2.4 2.7 2.4 2.7 2.4 3 2.3 2.9 2.4 2.4" stroke="#f6e000" stroke-width="0.6"/><path d="M489.1 47.9l2.5 1.1 2.4 1.1 2.4 1.1 2.4 1.1 2.5 1.8 2.4 2.6 2.4 3.1 2.4 3.1 2.4 2.6 2.4 2 2.5 .3 2.4 .2 2.4 .8 2.4 1.3 2.5 2.5 2.3 3.8 2.4 3.7 2.4 3.6 2.4 3.4 2.4 2.7 2.4 2.8 2.4 2.9 2.4 3 2.4 2.4" stroke="#f8d500" stroke-width="0.6"/><path d="M488.5 44.5l2.5 1.1 2.4 1.1 2.4 1.2 2.5 1.9 2.4 3.4 2.4 3.5 2.4 3.3 2.4 3.2 2.4 2.6 2.5 2 2.4 .3 2.4 .2 2.4 .8 2.5 1.3 2.4 2.5 2.4 3.8 2.4 3.7 2.3 3.7 2.4 3.3 2.4 2.8 2.4 2.7 2.4 2.9 2.4 3 2.4 2.4" stroke="#fac600" stroke-width="0.6"/><path d="M487.9 41.6l2.4 1.1 2.5 1.2 2.4 1.7 2.4 3.4 2.5 4.3 2.4 3.6 2.4 3.4 2.4 3.2 2.4 2.6 2.5 2 2.4 .3 2.4 .2 2.4 .8 2.5 1.3 2.4 2.5 2.4 3.8 2.4 3.8 2.4 3.6 2.4 3.4 2.4 2.7 2.4 2.7 2.3 2.9 2.4 3 2.4 2.4" stroke="#faad00" stroke-width="0.6"/><path d="M487.3 39.2l2.4 1.1 2.5 1.8 2.4 2.8 2.4 4.2 2.5 4.4 2.4 3.7 2.4 3.4 2.4 3.2 2.4 2.6 2.5 2 2.4 .3 2.4 .2 2.5 .8 2.4 1.3 2.4 2.5 2.4 3.8 2.4 3.8 2.4 3.6 2.4 3.4 2.4 2.7 2.4 2.7 2.4 3 2.4 3 2.4 2.4" stroke="#fa9f00" stroke-width="0.6"/><path d="M486.7 36.5l2.4 2.4 2.5 2.8 2.4 3.4 2.4 4.3 2.5 4.4 2.4 3.7 2.4 3.4 2.4 3.2 2.4 2.6 2.5 2 2.4 .3 2.4 .2 2.5 .8 2.4 1.3 2.4 2.5 2.4 3.8 2.4 3.8 2.4 3.6 2.4 3.4 2.4 2.7 2.4 2.8 2.4 2.9 2.4 3 2.4 2.4" stroke="#fa9f00" stroke-width="0.6"/><path d="M486.1 36.8l2.4 2.4 2.5 2.8 2.4 3.3 2.4 4.4 2.4 4.4 2.5 3.7 2.4 3.4 2.4 3.2 2.4 2.6 2.5 2 2.4 .3 2.4 .2 2.5 .8 2.4 1.3 2.4 2.5 2.4 3.8 2.4 3.8 2.4 3.6 2.4 3.4 2.4 2.7 2.4 2.8 2.4 2.9 2.4 3 2.4 2.4" stroke="#fa9f00" stroke-width="1.0"/><path d="M485.4 37.1l2.5 2.3 2.4 2.9 2.5 3.3 2.4 4.4 2.4 4.4 2.5 3.7 2.4 3.4 2.4 3.2 2.4 2.6 2.5 2 2.4 .3 2.5 .2 2.4 .8 2.4 1.3 2.4 2.5 2.5 3.8 2.4 3.8 2.4 3.6 2.4 3.4 2.4 2.8 2.4 2.7 2.4 2.9 2.4 3 2.4 2.5" stroke="#fa9f00" stroke-width="1.0"/><path d="M446.1 22.4l1.9 0 1.8 0 1.8 .2 1.9 .2 1.8 .2 1.9 .4 1.8 .4 1.9 .5 1.8 .5 1.9 .6 1.8 .7 1.9 .8 1.8 .9 1.8 1 1.9 1.2 1.8 1.2 1.9 1.1 1.8 1.3 1.9 1.2 1.8 1.3 1.8 1.3 1.9 1.6 1.8 2.1 1.8 2.2 1.9 2.6 1.8 3.3 1.8 3.3 1.8 3.3 1.9 2.6 1.8 2.5 1.8 2.6 1.8 2.1 1.9 2 1.8 1.9 1.8 .3 1.8 .2 1.9 .1 1.8 .4 1.8 1 1.9 1 1.8 2.2 1.8 2.9 1.8 2.8 1.8 2.8 1.8 2.7 1.8 2.8 1.8 2 1.8 2.1 1.8 2 1.8 2.2 1.8 2.3 1.8 2.2 1.8 1.7 1.8 1.7 1.8 2.7 1.8 3.3 1.8 3.3 1.8 3.2 1.7 3.3 1.8 3.1 1.8 3.1 1.8 3 1.7 3 1.8 3.1 1.8 2.1 1.8 1.6 1.8 1.6 1.7 1.7 1.8 .4 1.9 .4 1.8 .4 1.8 .4 1.8 .4 1.8 .3 1.8 .3 1.8 .3" stroke="#fa9f00" stroke-width="0.8"/><path d="M484.8 37.4l2.5 2.3 2.4 2.9 2.5 3.3 2.4 4.4 2.4 4.4 2.5 3.7 2.4 3.4 2.4 3.2 2.5 2.6 2.4 2 2.4 .3 2.5 .2 2.4 .8 2.4 1.3 2.5 2.5 2.4 3.9 2.4 3.7 2.4 3.6 2.4 3.5 2.4 2.7 2.4 2.7 2.4 3 2.4 3 2.4 2.4" stroke="#fa9f00" stroke-width="1.0"/><path d="M484.1 37.7l2.5 2.3 2.4 2.9 2.5 3.3 2.4 4.4 2.5 4.4 2.4 3.7 2.4 3.4 2.5 3.2 2.4 2.6 2.4 2 2.5 .4 2.4 .2 2.5 .7 2.4 1.3 2.4 2.6 2.4 3.8 2.4 3.8 2.4 3.6 2.5 3.4 2.4 2.7 2.4 2.8 2.4 2.9 2.4 3 2.4 2.5" stroke="#fa9f00" stroke-width="1.0"/><path d="M483.6 37.9l2.4 2.4 2.5 2.8 2.4 3.4 2.5 4.3 2.4 4.5 2.5 3.6 2.4 3.5 2.4 3.2 2.5 2.6 2.4 2 2.4 .3 2.5 .2 2.4 .8 2.5 1.3 2.4 2.6 2.4 3.8 2.4 3.7 2.4 3.7 2.4 3.4 2.5 2.7 2.4 2.8 2.4 2.9 2.4 3 2.4 2.5" stroke="#fa9f00" stroke-width="1.0"/><path d="M482.9 38.2l2.5 2.4 2.4 2.8 2.5 3.4 2.4 4.3 2.5 4.5 2.4 3.7 2.4 3.4 2.5 3.2 2.4 2.6 2.5 2 2.4 .4 2.4 .2 2.5 .7 2.4 1.3 2.5 2.6 2.4 3.8 2.4 3.8 2.4 3.6 2.4 3.4 2.4 2.8 2.4 2.7 2.5 3 2.4 3 2.4 2.4" stroke="#fa9f00" stroke-width="0.6"/><path d="M482.3 41.4l2.5 1.1 2.5 1.8 2.4 2.9 2.5 4.2 2.4 4.4 2.4 3.7 2.5 3.5 2.4 3.2 2.5 2.6 2.4 2 2.5 .3 2.4 .2 2.5 .8 2.4 1.3 2.4 2.6 2.4 3.8 2.5 3.8 2.4 3.6 2.4 3.4 2.4 2.8 2.4 2.7 2.4 3 2.4 3 2.5 2.4" stroke="#fa9f00" stroke-width="0.6"/><path d="M481.7 45.5l2.5 1.1 2.4 1.1 2.5 1.5 2.4 2.9 2.5 4.1 2.4 3.6 2.5 3.5 2.4 3.2 2.5 2.6 2.4 2 2.5 .3 2.4 .2 2.5 .8 2.4 1.3 2.4 2.6 2.5 3.8 2.4 3.8 2.4 3.6 2.4 3.4 2.4 2.8 2.5 2.7 2.4 3 2.4 3 2.4 2.4" stroke="#fab700" stroke-width="0.6"/><path d="M481.1 49.1l2.5 1.1 2.4 1.1 2.5 1.2 2.4 1.5 2.5 2.8 2.4 3.4 2.5 3.4 2.4 3.2 2.5 2.6 2.4 2 2.5 .3 2.4 .2 2.5 .8 2.4 1.3 2.5 2.6 2.4 3.8 2.4 3.8 2.4 3.6 2.4 3.5 2.5 2.7 2.4 2.8 2.4 2.9 2.4 3 2.4 2.5" stroke="#f9cb00" stroke-width="0.6"/><path d="M480.5 52.2l2.4 1.1 2.5 1.1 2.5 1.1 2.4 1.2 2.5 1.6 2.4 2.6 2.5 3.1 2.4 3.1 2.5 2.6 2.4 2 2.5 .4 2.4 .2 2.5 .7 2.4 1.3 2.5 2.6 2.4 3.8 2.4 3.8 2.4 3.7 2.5 3.4 2.4 2.7 2.4 2.8 2.4 2.9 2.4 3.1 2.5 2.4" stroke="#f8d600" stroke-width="0.6"/><path d="M479.8 54.3l2.5 1 2.5 1.1 2.4 1.1 2.5 1.1 2.5 1.3 2.4 1.9 2.5 2.6 2.4 3.1 2.5 2.5 2.4 2 2.5 .4 2.4 .2 2.5 .8 2.4 1.3 2.5 2.5 2.4 3.8 2.4 3.8 2.5 3.7 2.4 3.4 2.4 2.8 2.4 2.7 2.5 3 2.4 3 2.4 2.4" stroke="#f6e200" stroke-width="0.6"/><path d="M479.4 54.9l2.4 1 2.5 1 2.4 1 2.5 1.1 2.5 1.2 2.4 1.8 2.5 2.7 2.4 3 2.5 2.5 2.4 2.1 2.5 .3 2.5 .2 2.4 .8 2.5 1.3 2.4 2.5 2.5 3.9 2.4 3.8 2.4 3.6 2.4 3.5 2.5 2.7 2.4 2.8 2.4 2.9 2.4 3.1 2.4 2.4" stroke="#efe600" stroke-width="0.6"/><path d="M478.7 55.7l2.5 .9 2.5 1 2.4 .9 2.5 .9 2.5 1.2 2.4 1.7 2.5 2.6 2.4 3.1 2.5 2.5 2.5 2.1 2.4 .3 2.5 .2 2.4 .8 2.5 1.3 2.4 2.5 2.5 3.9 2.4 3.8 2.4 3.6 2.5 3.5 2.4 2.7 2.4 2.8 2.4 3 2.5 3 2.4 2.4" stroke="#dce800" stroke-width="0.6"/><path d="M478.1 56.5l2.5 .9 2.5 .8 2.4 .9 2.5 .8 2.5 1 2.4 1.7 2.5 2.6 2.4 3.1 2.5 2.5 2.5 2.1 2.4 .3 2.5 .2 2.4 .8 2.5 1.3 2.5 2.6 2.4 3.8 2.4 3.8 2.4 3.7 2.5 3.4 2.4 2.8 2.4 2.7 2.5 3 2.4 3 2.4 2.5" stroke="#cae900" stroke-width="0.6"/><path d="M477.4 57.3l2.5 .8 2.5 .7 2.5 .8 2.4 .8 2.5 .9 2.5 1.6 2.4 2.6 2.5 3.1 2.4 2.6 2.5 2 2.5 .3 2.4 .2 2.5 .8 2.5 1.3 2.4 2.6 2.4 3.8 2.5 3.8 2.4 3.7 2.4 3.4 2.5 2.8 2.4 2.8 2.4 2.9 2.5 3.1 2.4 2.4" stroke="#b9ea00" stroke-width="0.6"/><path d="M477.1 57.6l2.5 .7 2.5 .7 2.5 .7 2.4 .8 2.5 .9 2.5 1.6 2.4 2.7 2.5 3 2.5 2.6 2.4 2 2.5 .4 2.4 .2 2.5 .7 2.5 1.4 2.4 2.5 2.5 3.9 2.4 3.8 2.4 3.7 2.5 3.4 2.4 2.8 2.4 2.7 2.5 3 2.4 3 2.4 2.5" stroke="#b1eb00" stroke-width="0.6"/><path d="M476.8 57.8l2.5 .7 2.5 .7 2.5 .7 2.4 .7 2.5 .8 2.5 1.7 2.4 2.7 2.5 3.1 2.5 2.5 2.4 2.1 2.5 .3 2.5 .2 2.4 .8 2.5 1.3 2.4 2.6 2.5 3.8 2.4 3.8 2.4 3.7 2.5 3.5 2.4 2.7 2.5 2.8 2.4 3 2.4 3 2.4 2.5" stroke="#a3ea00" stroke-width="0.6"/><path d="M463.1 54.5l1.9-.4 1.9 .9 1.8 .3 1.9 .4 1.8 .8 1.9 .3 1.8 .2 1.9 .8 1.9 .5 1.8 1.1 1.9 .3 1.8-.1 1.9 .7 1.8 1.5 1.9 .4 1.8 2.1 1.9 2.3 1.8 2.3 1.9 1.9 1.8 2 1.9 .8 1.8 .3 1.9 .1 1.8 .1 1.9 1 1.8 1 1.9 1.7 1.8 2.8 1.8 2.9 1.9 2.9 1.8 2.7 1.8 2.8 1.8 2.3 1.9 2.1 1.8 2 1.8 2.2 1.8 2.3 1.9 2.2 1.8 1.9 1.8 1.7 1.8 2.3 1.8 3.3 1.8 3.3 1.8 3.3 1.8 3.3 1.8 3.3 1.8 3 1.8 3.1 1.8 3.1 1.8 3 1.8 2.6 1.8 1.7 1.8 1.6 1.8 1.7 1.8 .8 1.8 .4 1.9 .4 1.8 .5 1.8 .4 1.8 .3 1.9 .3 1.8 .3" stroke="#a0ea00" stroke-width="0.8"/><path d="M476.5 58.1l2.5 .6 2.5 .7 2.4 .6 2.5 .7 2.5 .9 2.5 1.6 2.4 2.7 2.5 3.1 2.5 2.6 2.4 2 2.5 .4 2.5 .2 2.4 .7 2.5 1.4 2.4 2.5 2.5 3.9 2.4 3.8 2.5 3.7 2.4 3.4 2.4 2.8 2.5 2.8 2.4 2.9 2.4 3.1 2.5 2.4" stroke="#96ea00" stroke-width="0.6"/><path d="M476.2 58.4l2.5 .6 2.5 .6 2.4 .6 2.5 .7 2.5 .8 2.5 1.6 2.4 2.8 2.5 3.1 2.5 2.5 2.4 2.1 2.5 .3 2.5 .2 2.4 .8 2.5 1.3 2.5 2.6 2.4 3.8 2.4 3.9 2.5 3.6 2.4 3.5 2.4 2.7 2.5 2.8 2.4 3 2.4 3 2.5 2.5" stroke="#8ae900" stroke-width="0.6"/><path d="M475.9 58.8l2.4 .5 2.5 .6 2.5 .6 2.5 .6 2.5 .7 2.4 1.7 2.5 2.7 2.5 3.1 2.4 2.6 2.5 2.1 2.5 .3 2.4 .2 2.5 .7 2.5 1.4 2.4 2.6 2.5 3.8 2.4 3.8 2.4 3.7 2.5 3.5 2.4 2.7 2.5 2.8 2.4 3 2.4 3 2.5 2.5" stroke="#77e800" stroke-width="0.6"/><path d="M475.5 59.5l2.5 .5 2.5 .5 2.5 .5 2.4 .6 2.5 .7 2.5 1.4 2.5 2.7 2.4 3.1 2.5 2.6 2.5 2 2.4 .4 2.5 .2 2.5 .7 2.4 1.3 2.5 2.6 2.4 3.9 2.5 3.8 2.4 3.7 2.5 3.4 2.4 2.8 2.4 2.8 2.5 3 2.4 3 2.4 2.5" stroke="#64e700" stroke-width="0.6"/><path d="M475.2 60.9l2.5 .4 2.5 .5 2.4 .5 2.5 .5 2.5 .6 2.5 1 2.5 2.3 2.4 3 2.5 2.5 2.5 2.1 2.4 .3 2.5 .2 2.5 .8 2.4 1.3 2.5 2.6 2.5 3.8 2.4 3.9 2.4 3.6 2.5 3.5 2.4 2.8 2.5 2.7 2.4 3 2.4 3.1 2.5 2.4" stroke="#55e700" stroke-width="0.6"/><path d="M474.9 62.9l2.5 .4 2.5 .4 2.4 .5 2.5 .4 2.5 .5 2.5 .7 2.5 1.8 2.4 2.6 2.5 2.5 2.5 2 2.4 .4 2.5 .3 2.5 .8 2.5 1.4 2.4 2.5 2.5 3.8 2.4 3.7 2.4 3.5 2.5 3.3 2.4 2.8 2.5 2.7 2.4 3 2.4 3 2.5 2.4" stroke="#46e600" stroke-width="0.6"/><path d="M474.6 65.3l2.5 .4 2.4 .4 2.5 .3 2.5 .4 2.5 .4 2.5 .5 2.4 1.2 2.5 2.2 2.5 2.2 2.4 1.9 2.5 .6 2.5 .4 2.5 1 2.4 1.4 2.5 2.4 2.4 3.7 2.5 3.4 2.4 3.2 2.5 3.2 2.4 2.7 2.5 2.7 2.4 2.9 2.5 3 2.4 2.4" stroke="#3ce501" stroke-width="0.6"/><path d="M474.2 67.5l2.5 .3 2.5 .3 2.5 .3 2.5 .3 2.5 .3 2.4 .4 2.5 .9 2.5 1.7 2.5 2 2.4 1.8 2.5 .7 2.5 .6 2.4 1 2.5 1.5 2.5 2.3 2.4 3.5 2.5 3.2 2.4 3 2.5 2.9 2.4 2.8 2.5 2.7 2.4 2.8 2.5 2.9 2.4 2.4" stroke="#32e402" stroke-width="0.6"/><path d="M473.9 69.3l2.5 .3 2.5 .3 2.5 .2 2.5 .3 2.4 .3 2.5 .3 2.5 .8 2.5 1.3 2.5 1.7 2.4 1.6 2.5 .8 2.5 .8 2.5 1.2 2.4 1.4 2.5 2.2 2.4 3.5 2.5 2.9 2.4 2.7 2.5 2.7 2.4 2.7 2.5 2.7 2.4 2.8 2.5 2.8 2.4 2.4" stroke="#28e303" stroke-width="0.6"/><path d="M473.6 70.8l2.5 .3 2.5 .2 2.5 .2 2.5 .3 2.4 .2 2.5 .2 2.5 .8 2.5 1.1 2.5 1.5 2.4 1.5 2.5 .9 2.5 1 2.5 1.2 2.4 1.5 2.5 2.1 2.4 3.3 2.5 2.7 2.5 2.4 2.4 2.5 2.5 2.6 2.4 2.7 2.5 2.7 2.4 2.7 2.4 2.5" stroke="#1ee204" stroke-width="0.6"/><path d="M473.3 72.1l2.5 .2 2.5 .2 2.5 .2 2.5 .2 2.4 .2 2.5 .2 2.5 .8 2.5 1.2 2.5 1.2 2.4 1.4 2.5 1 2.5 1.2 2.5 1.3 2.4 1.5 2.5 1.9 2.5 3.2 2.4 2.4 2.5 2.1 2.4 2.2 2.5 2.6 2.4 2.7 2.5 2.6 2.4 2.7 2.5 2.5" stroke="#11e105" stroke-width="0.6"/><path d="M473 73.8l2.5 .1 2.5 .2 2.5 .1 2.5 .2 2.4 .2 2.5 .1 2.5 .9 2.5 1.2 2.5 1.2 2.4 1.2 2.5 1.2 2.5 1.3 2.5 1.4 2.4 1.4 2.5 1.7 2.5 3 2.4 2 2.5 1.7 2.4 2 2.5 2.5 2.4 2.6 2.5 2.6 2.4 2.5 2.5 2.5" stroke="#0ede06" stroke-width="0.6"/><path d="M472.7 76.2l2.5 .1 2.5 .1 2.5 .1 2.5 0 2.4 .1 2.5 .1 2.5 .9 2.5 1.2 2.5 1.2 2.4 1.2 2.5 1.3 2.5 1.4 2.5 1.4 2.4 1.5 2.5 1.4 2.5 2.7 2.4 1.6 2.5 1.2 2.5 1.5 2.4 2.4 2.5 2.5 2.4 2.4 2.5 2.5 2.4 2.4" stroke="#0dd807" stroke-width="0.6"/><path d="M472.4 78.5l2.5 0 2.5 .1 2.5 0 2.5 0 2.4 0 2.5 .1 2.5 .8 2.5 1.1 2.5 1.1 2.4 1 2.5 1.1 2.5 1.3 2.5 1.3 2.4 1.3 2.5 1.4 2.5 2.5 2.4 1.5 2.5 1.1 2.5 1.4 2.4 2.4 2.5 2.4 2.4 2.4 2.5 2.4 2.4 2.4" stroke="#0cd208" stroke-width="0.6"/><path d="M472.1 80.2l2.5 0 2.5-.1 2.5 0 2.5 0 2.4 0 2.5 0 2.5 .7 2.5 1 2.5 1 2.4 1 2.5 1 2.5 1.2 2.5 1.2 2.4 1.3 2.5 1.2 2.5 2.5 2.4 1.4 2.5 1 2.5 1.4 2.4 2.3 2.5 2.3 2.5 2.4 2.4 2.4 2.5 2.4" stroke="#0bcd09" stroke-width="0.6"/><path d="M471.8 81.8l2.5 0 2.5-.1 2.5 0 2.5-.1 2.4 0 2.5-.1 2.5 .7 2.5 .9 2.5 .9 2.4 .9 2.5 .9 2.5 1.1 2.5 1.2 2.5 1.1 2.4 1.1 2.5 2.5 2.5 1.3 2.4 .9 2.5 1.3 2.5 2.3 2.4 2.3 2.5 2.3 2.4 2.4 2.5 2.4" stroke="#0ac90a" stroke-width="0.6"/><path d="M471.6 84.8l2.4-.1 2.5-.2 2.5-.1 2.5-.1 2.5-.1 2.5-.2 2.4 .6 2.5 .7 2.5 .8 2.5 .7 2.5 .8 2.4 .9 2.5 1 2.5 .9 2.5 1 2.4 2.3 2.5 1.2 2.5 .8 2.5 1.2 2.4 2.1 2.5 2.2 2.4 2.3 2.5 2.3 2.4 2.3" stroke="#0bbe0d" stroke-width="0.6"/><path d="M471.3 87.7l2.5-.2 2.5-.2 2.4-.1 2.5-.2 2.5-.2 2.5-.2 2.5 .4 2.5 .5 2.4 .6 2.5 .6 2.5 .6 2.5 .8 2.5 .8 2.4 .8 2.5 .8 2.5 2.1 2.5 1 2.4 .7 2.5 1.1 2.5 2 2.4 2.1 2.5 2.3 2.4 2.2 2.5 2.3" stroke="#0db310" stroke-width="0.6"/><path d="M470.7 90.8l2.5-.1 2.5-.1 2.5 0 2.4-.1 2.5-.1 2.5-.1 2.5 .2 2.5 .4 2.5 .3 2.4 .4 2.5 .3 2.5 .5 2.5 .5 2.5 .4 2.4 .5 2.5 1.7 2.5 .9 2.5 .8 2.4 1 2.5 2.1 2.5 2.1 2.4 2.2 2.5 2.2 2.4 2.3" stroke="#1e9877" stroke-width="0.6"/><path d="M470.1 94.7l2.5 .1 2.4 .1 2.5 .1 2.5 .1 2.5 .1 2.5 .2 2.5 0 2.4 0 2.5 .1 2.5 0 2.5 0 2.5 0 2.5 .1 2.4 0 2.5 0 2.5 .9 2.5 .9 2.5 .8 2.4 1.2 2.5 2.1 2.5 2.1 2.4 2.1 2.5 2.1 2.4 2.5" stroke="#2b10ad" stroke-width="1.2"/><path d="M469.8 94.9l2.5 .1 2.4 .1 2.5 .1 2.5 .1 2.5 .1 2.5 .1 2.5 .1 2.4 0 2.5 0 2.5 0 2.5 .1 2.5 0 2.5 0 2.4 0 2.5 .1 2.5 .8 2.5 .9 2.5 .9 2.4 1.2 2.5 2.1 2.5 2.1 2.4 2.1 2.5 2.1 2.5 2.4" stroke="#3a0fa7" stroke-width="1.2"/><path d="M469.5 95l2.5 .1 2.4 .1 2.5 .1 2.5 .1 2.5 .2 2.5 .1 2.5 0 2.4 0 2.5 .1 2.5 0 2.5 0 2.5 0 2.5 .1 2.5 0 2.4 0 2.5 .9 2.5 .9 2.5 .8 2.5 1.2 2.4 2.1 2.5 2.1 2.5 2.1 2.4 2.1 2.5 2.5" stroke="#4d0fa2" stroke-width="1.2"/><path d="M469.2 95.2l2.4 .1 2.5 .1 2.5 .1 2.5 .1 2.5 .1 2.5 .1 2.5 .1 2.4 0 2.5 0 2.5 .1 2.5 0 2.5 0 2.5 0 2.5 .1 2.5 0 2.4 .9 2.5 .8 2.5 .9 2.5 1.2 2.4 2.1 2.5 2.1 2.5 2.1 2.4 2.1 2.5 2.5" stroke="#550fa0" stroke-width="1.2"/><path d="M468.8 95.3l2.5 .1 2.5 .2 2.5 .1 2.5 .1 2.5 .1 2.5 .1 2.5 0 2.4 .1 2.5 0 2.5 0 2.5 0 2.5 .1 2.5 0 2.5 0 2.5 0 2.4 .9 2.5 .9 2.5 .9 2.5 1.2 2.5 2.1 2.4 2.1 2.5 2.1 2.5 2.1 2.4 2.4" stroke="#550fa0" stroke-width="1.2"/><path d="M468.8 95.3l2.5 .1 2.5 .2 2.5 .1 2.5 .1 2.5 .1 2.5 .1 2.5 0 2.4 .1 2.5 0 2.5 0 2.5 0 2.5 .1 2.5 0 2.5 0 2.5 0 2.4 .9 2.5 .9 2.5 .9 2.5 1.2 2.5 2.1 2.4 2.1 2.5 2.1 2.5 2.1 2.4 2.4" stroke="#550fa0" stroke-width="1.2"/><path d="M468.5 95.5l2.5 .1 2.5 .1 2.4 .1 2.5 .2 2.5 .1 2.5 .1 2.5 0 2.5 0 2.5 .1 2.5 0 2.5 0 2.4 .1 2.5 0 2.5 0 2.5 0 2.5 .9 2.5 .9 2.5 .9 2.4 1.1 2.5 2.1 2.5 2.1 2.5 2.2 2.4 2.1 2.5 2.4" stroke="#550fa0" stroke-width="1.2"/><path d="M428.9 82.5l1.9 2.5 1.9 5.9 1.8-3.8 1.9 1.4 1.9 1.6 1.9-.4 1.8-2.2 1.9 5 1.9-1.6 1.8-2.7 1.9 7.4 1.9-6.5 1.9 7.8 1.8-.6 1.9 .2 1.9-.7 1.8-2.8 1.9 1.5 1.8-3.5 1.9 6.3 1.9 2.1 1.9 .1 1.8 1 1.9-8.5 1.9 5.1 1.8 .4 1.9 1.1 1.8 2.8 1.9-3.9 1.9 .6 1.9-3.1 1.8-1 1.9 .8 1.8 4.6 1.9-5.7 1.9 2.2 1.9 .6 1.8 0 1.9 0 1.9 .1 1.8 0 1.9 .6 1.9 .7 1.8 .7 1.9 .6 1.8 .7 1.9 1.6 1.8 1.5 1.9 1.6 1.9 1.6 1.8 1.6 1.9 1.6 1.8 1.9 1.8 1.9 1.9 2 1.8 1.9 1.9 2.5 1.8 3.5 1.8 3.6 1.8 3.6 1.8 3.5 1.8 3.4 1.8 3.4 1.9 3.3 1.8 3.4 1.8 1.7 1.8 .9 1.9 .9 1.8 .9 1.8 .7 1.9 .6 1.8 .6 1.9 .6 1.8 .6 1.8 .6 1.9 .6" stroke="#550fa0" stroke-width="0.8"/><path d="M468.1 95.7l2.5 .1 2.5 .1 2.5 .1 2.5 .1 2.5 .1 2.5 .2 2.4 0 2.5 0 2.5 .1 2.5 0 2.5 0 2.5 0 2.5 .1 2.5 0 2.5 0 2.5 .9 2.4 .9 2.5 .8 2.5 1.2 2.5 2.1 2.4 2.1 2.5 2.1 2.5 2.2 2.4 2.4" stroke="#550fa0" stroke-width="1.2"/><path d="M467.9 95.8l2.5 .1 2.5 .2 2.4 .1 2.5 .1 2.5 .1 2.5 .1 2.5 0 2.5 .1 2.5 0 2.5 0 2.5 0 2.5 .1 2.4 0 2.5 0 2.5 .1 2.5 .8 2.5 .9 2.5 .9 2.5 1.2 2.4 2.1 2.5 2.1 2.5 2.1 2.5 2.1 2.4 2.5" stroke="#500fa1" stroke-width="1.2"/><path d="M467.6 96l2.5 .1 2.5 .1 2.5 .1 2.5 .1 2.5 .1 2.5 .1 2.5 .1 2.4 0 2.5 0 2.5 0 2.5 .1 2.5 0 2.5 0 2.5 .1 2.5 0 2.5 .9 2.5 .8 2.4 .9 2.5 1.2 2.5 2.1 2.5 2.1 2.4 2.1 2.5 2.1 2.5 2.5" stroke="#3d0fa6" stroke-width="1.2"/><path d="M467.3 96.1l2.5 .1 2.5 .1 2.5 .1 2.5 .2 2.5 .1 2.5 .1 2.5 0 2.5 0 2.4 .1 2.5 0 2.5 0 2.5 .1 2.5 0 2.5 0 2.5 0 2.5 .9 2.5 .9 2.5 .9 2.4 1.2 2.5 2.1 2.5 2.1 2.5 2.1 2.4 2.1 2.5 2.5" stroke="#2713b3" stroke-width="1.2"/><path d="M467 96.3l2.5 .1 2.5 .1 2.5 .1 2.5 .1 2.5 .1 2.5 .1 2.5 .1 2.5 0 2.5 0 2.4 .1 2.5 0 2.5 0 2.5 0 2.5 .1 2.5 0 2.5 .9 2.5 .8 2.5 .9 2.5 1.2 2.4 2.1 2.5 2.1 2.5 2.1 2.5 2.1 2.4 2.5" stroke="#1d1bc3" stroke-width="1.2"/><path d="M466.3 92.7l2.5-.2 2.5-.2 2.5-.2 2.5-.2 2.5-.2 2.5-.2 2.5 .2 2.5 .4 2.5 .4 2.5 .4 2.5 .3 2.5 .6 2.5 .6 2.5 .5 2.5 .6 2.5 1.9 2.5 1 2.4 .7 2.5 1 2.5 2.1 2.5 2 2.5 2.3 2.4 2.3 2.5 2.3" stroke="#0ea913" stroke-width="0.6"/><path d="M466 92.3l2.5-.2 2.5-.2 2.5-.2 2.5-.2 2.5-.2 2.5-.2 2.5 .3 2.5 .4 2.5 .4 2.5 .4 2.5 .4 2.5 .6 2.5 .6 2.5 .6 2.5 .7 2.5 1.9 2.5 1 2.5 .7 2.4 1 2.5 2.1 2.5 2.1 2.5 2.3 2.5 2.3 2.4 2.3" stroke="#0db210" stroke-width="0.6"/><path d="M465.7 90.2l2.5-.1 2.5-.2 2.5-.1 2.5-.1 2.5-.2 2.5-.1 2.5 .4 2.5 .5 2.5 .5 2.5 .5 2.5 .6 2.5 .7 2.5 .7 2.5 .8 2.5 .7 2.5 2.1 2.5 1.1 2.5 .8 2.5 1.2 2.4 2.1 2.5 2.2 2.5 2.3 2.5 2.4 2.4 2.3" stroke="#0cbc0d" stroke-width="0.6"/><path d="M465.4 88.6l2.5-.1 2.5-.1 2.5 0 2.5-.1 2.5-.1 2.5-.1 2.5 .4 2.5 .7 2.5 .6 2.5 .6 2.5 .6 2.5 .8 2.5 .9 2.5 .8 2.5 .9 2.5 2.1 2.5 1.2 2.5 .9 2.5 1.3 2.5 2.2 2.4 2.3 2.5 2.3 2.5 2.4 2.5 2.3" stroke="#0bc40b" stroke-width="0.6"/><path d="M465.1 87l2.5 0 2.5 0 2.5-.1 2.5 0 2.5 0 2.5-.1 2.5 .5 2.5 .8 2.5 .7 2.5 .7 2.5 .7 2.5 .9 2.5 .9 2.5 1 2.5 .9 2.5 2.3 2.5 1.3 2.5 .9 2.5 1.4 2.5 2.3 2.5 2.3 2.4 2.4 2.5 2.4 2.5 2.4" stroke="#0aca0a" stroke-width="0.6"/><path d="M464.8 85.7l2.5 0 2.5 0 2.5 0 2.5 0 2.5 0 2.5 0 2.5 .6 2.5 .8 2.5 .8 2.5 .8 2.5 .8 2.5 1 2.5 1 2.5 1 2.5 1.1 2.5 2.3 2.5 1.3 2.5 1.1 2.5 1.4 2.5 2.4 2.5 2.4 2.4 2.4 2.5 2.4 2.5 2.4" stroke="#0bcf09" stroke-width="0.6"/><path d="M464.5 84.3l2.5 0 2.5 .1 2.5 0 2.5 .1 2.5 0 2.5 .1 2.5 .7 2.5 .8 2.5 .9 2.5 .9 2.5 .9 2.5 1 2.5 1.1 2.5 1.2 2.5 1.1 2.5 2.4 2.5 1.4 2.5 1.2 2.5 1.4 2.5 2.5 2.5 2.4 2.5 2.5 2.4 2.4 2.5 2.4" stroke="#0cd408" stroke-width="0.6"/><path d="M464.1 82.8l2.6 .1 2.5 .1 2.5 .1 2.5 .1 2.5 .1 2.5 .1 2.5 .7 2.5 1 2.5 .9 2.5 .9 2.5 1 2.5 1.1 2.5 1.2 2.6 1.2 2.5 1.2 2.4 2.5 2.5 1.6 2.5 1.3 2.5 1.6 2.5 2.5 2.5 2.5 2.5 2.5 2.5 2.5 2.4 2.4" stroke="#0dd907" stroke-width="0.6"/><path d="M463.8 81l2.5 .2 2.6 .2 2.5 .2 2.5 .1 2.5 .2 2.5 .2 2.5 .7 2.5 .9 2.5 .9 2.5 .9 2.5 .9 2.6 1.1 2.5 1.1 2.5 1.1 2.5 1.3 2.5 2.7 2.5 2.1 2.5 1.8 2.4 2 2.5 2.6 2.5 2.7 2.5 2.6 2.5 2.6 2.5 2.5" stroke="#0fdf05" stroke-width="0.6"/><path d="M463.5 79.9l2.5 .2 2.5 .2 2.6 .2 2.5 .2 2.5 .3 2.5 .2 2.5 .6 2.5 .8 2.5 .9 2.5 .9 2.6 .8 2.5 .9 2.5 1.1 2.5 1.1 2.5 1.5 2.5 3 2.5 2.4 2.5 2.3 2.5 2.3 2.4 2.7 2.5 2.7 2.5 2.7 2.5 2.7 2.5 2.5" stroke="#16e204" stroke-width="0.6"/><path d="M463.2 78.7l2.5 .3 2.5 .2 2.6 .3 2.5 .2 2.5 .3 2.5 .3 2.5 .6 2.5 .7 2.5 .9 2.6 1 2.5 .7 2.5 .7 2.5 1 2.5 1.1 2.5 1.8 2.5 3.2 2.5 2.8 2.5 2.7 2.5 2.6 2.5 2.7 2.4 2.8 2.5 2.7 2.5 2.9 2.5 2.5" stroke="#24e303" stroke-width="0.6"/><path d="M462.9 78l2.5 .3 2.5 .3 2.5 .3 2.6 .3 2.5 .3 2.5 .3 2.5 .5 2.5 .8 2.5 .9 2.6 1.1 2.5 .7 2.5 .6 2.5 .9 2.5 1.2 2.5 1.9 2.5 3.3 2.5 3 2.5 2.8 2.5 2.8 2.5 2.8 2.5 2.7 2.4 2.8 2.5 2.9 2.5 2.5" stroke="#2ae403" stroke-width="0.6"/><path d="M462.6 77.2l2.5 .3 2.5 .3 2.5 .4 2.6 .3 2.5 .3 2.5 .3 2.5 .6 2.5 .7 2.5 1.1 2.6 1.2 2.5 .6 2.5 .6 2.5 .8 2.5 1.2 2.5 2.1 2.5 3.4 2.5 3.2 2.5 3 2.5 3 2.5 2.7 2.5 2.8 2.5 2.8 2.4 3 2.5 2.5" stroke="#31e402" stroke-width="0.6"/><path d="M462.3 75.9l2.5 .3 2.5 .4 2.5 .4 2.6 .3 2.5 .4 2.5 .4 2.5 .5 2.5 .9 2.5 1.2 2.6 1.5 2.5 .5 2.5 .5 2.5 .8 2.5 1.2 2.5 2.3 2.5 3.5 2.5 3.4 2.5 3.3 2.5 3.1 2.5 2.8 2.5 2.8 2.5 2.9 2.4 3 2.5 2.5" stroke="#3ae501" stroke-width="0.6"/><path d="M462 74.3l2.5 .4 2.5 .4 2.5 .4 2.5 .4 2.6 .4 2.5 .5 2.5 .6 2.5 1 2.5 1.6 2.6 1.6 2.5 .5 2.5 .3 2.5 .8 2.5 1.3 2.5 2.4 2.5 3.7 2.5 3.7 2.5 3.4 2.5 3.3 2.5 2.8 2.5 2.9 2.5 2.9 2.5 3.1 2.4 2.5" stroke="#42e600" stroke-width="0.6"/><path d="M422.1 66l1.9-.3 1.9 1 1.8 .1 1.9 .9 1.9-.5 1.9 1 1.9 0 1.9 1.1 1.9-.6 1.9 1.5 1.9-.3 1.9 0 1.9 0 1.9 .8 1.9 .6 1.9 .4 1.9-.1 1.9 .6 1.9-.1 1.9 .6 1.8 .5 1.9 .7 1.9 .1 1.9 .1 1.9 .7 1.9-.1 1.9 .8 1.9-.4 1.9 1.8 1.9-.3 1.9 .7 1.9 1 1.8 1.4 1.9 1.6 1.9 .3 1.9 .3 1.9 .3 1.9 .4 1.9 1 1.9 .9 1.8 2.2 1.9 2.8 1.9 2.9 1.9 2.7 1.8 2.7 1.9 2.6 1.9 2.1 1.8 2.2 1.9 2.1 1.9 2.2 1.8 2.3 1.9 2.3 1.8 1.7 1.9 1.8 1.9 2.8 1.8 3.4 1.8 3.4 1.9 3.4 1.8 3.4 1.8 3.2 1.9 3.1 1.8 3.2 1.8 3.1 1.9 3.1 1.8 2.2 1.8 1.7 1.9 1.6 1.8 1.7 1.9 .5 1.8 .5 1.9 .5 1.8 .4 1.9 .4 1.9 .3 1.8 .3 1.9 .3" stroke="#46e600" stroke-width="0.8"/><path d="M461.6 72.3l2.5 .5 2.6 .4 2.5 .5 2.5 .5 2.5 .5 2.6 .5 2.5 .7 2.5 1.3 2.5 2 2.5 1.9 2.6 .3 2.5 .3 2.5 .7 2.5 1.3 2.5 2.6 2.5 3.9 2.5 3.9 2.5 3.7 2.5 3.5 2.5 2.8 2.5 2.9 2.5 3 2.5 3.1 2.4 2.5" stroke="#50e600" stroke-width="0.6"/><path d="M461.3 71.2l2.5 .5 2.5 .5 2.6 .6 2.5 .5 2.5 .5 2.5 .6 2.6 .9 2.5 1.7 2.5 2.2 2.5 1.9 2.5 .4 2.6 .2 2.5 .8 2.5 1.3 2.5 2.6 2.5 3.9 2.5 3.9 2.5 3.8 2.5 3.5 2.5 2.8 2.5 2.8 2.5 3.1 2.4 3.1 2.5 2.5" stroke="#62e700" stroke-width="0.6"/><path d="M461 70.5l2.5 .6 2.5 .6 2.6 .6 2.5 .6 2.5 .6 2.5 .7 2.6 1 2.5 1.9 2.5 2.2 2.5 2 2.6 .3 2.5 .3 2.5 .7 2.5 1.4 2.5 2.6 2.5 3.9 2.5 3.9 2.5 3.7 2.5 3.5 2.5 2.9 2.5 2.8 2.5 3 2.5 3.1 2.5 2.6" stroke="#79e800" stroke-width="0.6"/><path d="M460.7 70.2l2.5 .6 2.5 .7 2.6 .6 2.5 .7 2.5 .6 2.6 .8 2.5 1.1 2.5 1.9 2.5 2.3 2.6 1.9 2.5 .4 2.5 .2 2.5 .8 2.5 1.3 2.6 2.6 2.5 3.9 2.5 3.9 2.5 3.8 2.4 3.5 2.5 2.8 2.5 2.9 2.5 3 2.5 3.1 2.5 2.5" stroke="#91ea00" stroke-width="0.6"/><path d="M460.4 70.1l2.5 .7 2.5 .7 2.6 .6 2.5 .7 2.5 .7 2.6 .8 2.5 1.1 2.5 2 2.5 2.2 2.6 2 2.5 .4 2.5 .2 2.5 .8 2.5 1.3 2.6 2.6 2.5 3.9 2.5 3.9 2.5 3.7 2.5 3.6 2.5 2.8 2.4 2.8 2.5 3.1 2.5 3.1 2.5 2.5" stroke="#9fea00" stroke-width="0.6"/><path d="M460.1 70l2.5 .7 2.5 .7 2.6 .7 2.5 .8 2.5 .7 2.6 .8 2.5 1.2 2.5 1.9 2.5 2.3 2.6 2 2.5 .3 2.5 .3 2.5 .7 2.6 1.4 2.5 2.5 2.5 3.9 2.5 3.9 2.5 3.8 2.5 3.5 2.5 2.8 2.5 2.9 2.5 3 2.4 3.1 2.5 2.5" stroke="#adeb00" stroke-width="0.6"/><path d="M459.5 69.4l2.5 .8 2.5 .8 2.6 .8 2.5 .8 2.5 .9 2.6 .9 2.5 1.3 2.5 2.1 2.5 2.3 2.6 1.9 2.5 .4 2.5 .3 2.6 .8 2.5 1.3 2.5 2.5 2.5 3.9 2.5 3.9 2.5 3.8 2.5 3.5 2.5 2.9 2.5 2.8 2.5 3 2.5 3.1 2.5 2.6" stroke="#c0ea00" stroke-width="0.6"/><path d="M458.8 68.4l2.5 .9 2.5 .9 2.6 .9 2.5 .9 2.6 1 2.5 1 2.5 1.6 2.6 2.3 2.5 2.4 2.5 2.1 2.5 .3 2.6 .3 2.5 .8 2.5 1.3 2.6 2.6 2.5 3.9 2.5 3.9 2.5 3.7 2.5 3.6 2.5 2.8 2.5 2.9 2.5 3 2.5 3.1 2.5 2.5" stroke="#d1e900" stroke-width="0.6"/><path d="M458.2 66.9l2.5 1 2.5 1 2.6 1.1 2.5 1 2.6 1.1 2.5 1.3 2.5 2 2.6 2.7 2.5 2.5 2.5 2 2.6 .4 2.5 .3 2.5 .8 2.6 1.3 2.5 2.6 2.5 3.9 2.5 3.9 2.5 3.8 2.5 3.5 2.5 2.8 2.5 2.9 2.5 3 2.5 3.1 2.5 2.6" stroke="#e7e700" stroke-width="0.6"/><path d="M457.5 64.8l2.6 1.1 2.5 1.1 2.6 1.2 2.5 1.1 2.6 1.3 2.5 1.9 2.5 2.6 2.6 3.1 2.5 2.6 2.6 2.1 2.5 .4 2.5 .2 2.6 .8 2.5 1.3 2.5 2.7 2.5 3.9 2.5 3.9 2.5 3.8 2.5 3.5 2.6 2.8 2.5 2.9 2.5 3 2.5 3.2 2.4 2.5" stroke="#f6df00" stroke-width="0.6"/><path d="M456.9 61.7l2.6 1.2 2.5 1.1 2.6 1.2 2.5 1.3 2.6 2.2 2.5 3 2.6 3.4 2.5 3.3 2.5 2.7 2.6 2.1 2.5 .3 2.5 .2 2.6 .8 2.5 1.4 2.5 2.6 2.6 4 2.5 3.9 2.5 3.8 2.5 3.5 2.5 2.9 2.5 2.8 2.5 3.1 2.5 3.1 2.5 2.5" stroke="#f8d100" stroke-width="0.6"/><path d="M456.3 58.2l2.6 1.1 2.5 1.2 2.6 1.4 2.5 2.3 2.6 3.9 2.5 3.7 2.6 3.5 2.5 3.4 2.6 2.6 2.5 2.2 2.5 .3 2.6 .2 2.5 .8 2.6 1.4 2.5 2.6 2.5 4 2.5 3.9 2.5 3.8 2.5 3.5 2.6 2.9 2.5 2.8 2.5 3.1 2.5 3.1 2.5 2.5" stroke="#fac000" stroke-width="0.6"/><path d="M455.7 55.2l2.6 1.1 2.5 1.4 2.6 2.1 2.6 3.9 2.5 4.5 2.6 3.8 2.5 3.6 2.6 3.3 2.5 2.7 2.6 2.1 2.5 .4 2.5 .2 2.6 .8 2.5 1.3 2.5 2.7 2.6 4 2.5 3.9 2.5 3.8 2.5 3.5 2.5 2.9 2.5 2.8 2.5 3.1 2.5 3.1 2.5 2.5" stroke="#faa500" stroke-width="0.6"/><path d="M455 50.1l2.6 2.5 2.6 3.1 2.5 3.6 2.6 4.6 2.6 4.6 2.5 3.8 2.6 3.6 2.5 3.4 2.6 2.6 2.5 2.2 2.6 .3 2.5 .2 2.5 .8 2.6 1.4 2.5 2.6 2.5 4 2.6 3.9 2.5 3.8 2.5 3.5 2.5 2.9 2.5 2.9 2.5 3 2.5 3.1 2.5 2.6" stroke="#fa9f00" stroke-width="0.6"/><path d="M454.4 50.4l2.6 2.4 2.6 3.2 2.5 3.6 2.6 4.6 2.6 4.6 2.5 3.8 2.6 3.6 2.5 3.3 2.6 2.7 2.5 2.2 2.6 .3 2.5 .2 2.6 .8 2.5 1.4 2.5 2.6 2.6 4 2.5 3.9 2.5 3.8 2.5 3.6 2.5 2.8 2.6 2.9 2.5 3 2.5 3.2 2.5 2.5" stroke="#fa9f00" stroke-width="1.0"/><path d="M413.3 39.7l1.9 .1 1.9 .1 2 .2 1.9 .1 1.9 .3 2 .2 1.9 .3 1.9 .4 1.9 .3 2 .4 1.9 .5 1.9 .5 2 .5 1.9 .6 1.9 .7 2 .8 1.9 .8 1.9 .9 1.9 1 2 1.1 1.9 1.1 1.9 1.8 2 2.2 1.9 2.5 1.9 2.8 2 3.4 1.9 3.5 1.9 3.4 1.9 2.7 2 2.7 1.9 2.7 1.9 2.2 1.9 2 1.9 2.1 1.9 .2 1.9 .3 1.9 .1 1.9 .4 2 1.1 1.9 1 1.9 2.3 1.9 3 1.9 3 1.8 2.9 1.9 2.8 1.9 2.9 1.9 2.1 1.9 2.2 1.9 2.1 1.9 2.3 1.9 2.3 1.8 2.4 1.9 1.7 1.9 1.8 1.9 2.8 1.8 3.5 1.9 3.4 1.9 3.4 1.8 3.4 1.9 3.3 1.8 3.1 1.9 3.2 1.8 3.2 1.9 3.1 1.8 2.2 1.9 1.7 1.8 1.7 1.9 1.7 1.9 .5 1.8 .4 1.9 .5 1.9 .4 1.9 .4 1.8 .3 1.9 .3 1.9 .3" stroke="#fa9f00" stroke-width="0.8"/><path d="M453.8 50.6l2.5 2.5 2.6 3.2 2.6 3.6 2.6 4.6 2.5 4.6 2.6 3.8 2.5 3.6 2.6 3.4 2.5 2.7 2.6 2.1 2.5 .3 2.6 .2 2.5 .8 2.6 1.4 2.5 2.7 2.5 3.9 2.6 4 2.5 3.7 2.5 3.6 2.5 2.9 2.5 2.8 2.6 3.1 2.5 3.1 2.5 2.6" stroke="#fa9f00" stroke-width="1.0"/><path d="M453.3 50.8l2.6 2.5 2.6 3.2 2.5 3.6 2.6 4.6 2.6 4.6 2.5 3.9 2.6 3.5 2.6 3.4 2.5 2.7 2.6 2.1 2.5 .3 2.6 .3 2.5 .7 2.5 1.4 2.6 2.7 2.5 4 2.5 3.9 2.6 3.8 2.5 3.5 2.5 2.9 2.5 2.9 2.5 3 2.5 3.2 2.6 2.5" stroke="#fa9f00" stroke-width="1.0"/><path d="M452.6 51.2l2.5 2.5 2.6 3.1 2.6 3.6 2.6 4.6 2.5 4.7 2.6 3.8 2.6 3.6 2.5 3.3 2.6 2.7 2.5 2.2 2.6 .3 2.5 .2 2.6 .8 2.5 1.4 2.6 2.7 2.5 3.9 2.5 4 2.6 3.8 2.5 3.5 2.5 2.9 2.5 2.8 2.6 3.1 2.5 3.2 2.5 2.5" stroke="#fa9f00" stroke-width="0.6"/><path d="M452 56l2.6 1.2 2.6 1.5 2.5 2.5 2.6 4.2 2.6 4.5 2.6 3.9 2.5 3.6 2.6 3.3 2.5 2.7 2.6 2.1 2.5 .4 2.6 .2 2.5 .8 2.6 1.4 2.5 2.6 2.6 4 2.5 4 2.5 3.8 2.6 3.5 2.5 2.9 2.5 2.8 2.5 3.1 2.5 3.2 2.6 2.5" stroke="#fa9f00" stroke-width="0.6"/><path d="M451.5 60.2l2.5 1.1 2.6 1.3 2.6 1.3 2.6 2.4 2.5 4 2.6 3.8 2.6 3.5 2.5 3.4 2.6 2.7 2.5 2.1 2.6 .4 2.6 .2 2.5 .8 2.6 1.3 2.5 2.7 2.5 4 2.6 3.9 2.5 3.8 2.5 3.6 2.6 2.9 2.5 2.8 2.5 3.1 2.5 3.2 2.5 2.5" stroke="#fabf00" stroke-width="0.6"/><path d="M450.8 66.4l2.6 1.1 2.6 1.2 2.6 1.1 2.5 1.2 2.6 1.6 2.6 2.4 2.5 3.1 2.6 3.2 2.6 2.7 2.5 2.1 2.6 .4 2.5 .2 2.6 .8 2.5 1.4 2.6 2.7 2.5 3.9 2.6 4 2.5 3.8 2.5 3.5 2.6 2.9 2.5 2.9 2.5 3.1 2.5 3.1 2.5 2.6" stroke="#f7d800" stroke-width="0.6"/><path d="M450.3 69.5l2.5 1.1 2.6 1.1 2.6 1.2 2.6 1.1 2.5 1.2 2.6 1.5 2.6 2.2 2.5 2.9 2.6 2.6 2.5 2.1 2.6 .3 2.6 .3 2.5 .8 2.6 1.4 2.5 2.6 2.6 3.9 2.5 4 2.5 3.8 2.6 3.6 2.5 2.8 2.5 2.9 2.6 3.1 2.5 3.1 2.5 2.6" stroke="#f5e300" stroke-width="0.6"/><path d="M449.7 72.5l2.6 1 2.5 1.1 2.6 1 2.6 1 2.6 1.1 2.5 1.1 2.6 1.5 2.6 2.2 2.5 2.3 2.6 2 2.5 .5 2.6 .3 2.6 .8 2.5 1.3 2.6 2.5 2.5 3.9 2.6 4 2.5 3.8 2.5 3.6 2.6 2.8 2.5 2.9 2.5 3.1 2.6 3.1 2.5 2.6" stroke="#e7e700" stroke-width="0.6"/><path d="M449.1 75.7l2.6 1 2.5 .9 2.6 .9 2.6 1 2.5 .9 2.6 1 2.6 1 2.5 1.5 2.6 1.8 2.6 1.7 2.5 .5 2.6 .5 2.6 .9 2.5 1.2 2.6 2.2 2.5 3.8 2.6 3.9 2.5 3.8 2.5 3.6 2.6 2.9 2.5 2.8 2.5 3.1 2.6 3.2 2.5 2.5" stroke="#d4e800" stroke-width="0.6"/><path d="M448.4 79.5l2.6 .8 2.6 .9 2.5 .8 2.6 .8 2.6 .8 2.5 .9 2.6 .8 2.6 1 2.5 1.1 2.6 1.3 2.6 .6 2.5 .7 2.6 .8 2.6 1 2.5 1.7 2.6 3.4 2.5 3.9 2.6 3.8 2.5 3.5 2.5 2.9 2.6 2.9 2.5 3.1 2.5 3.1 2.6 2.6" stroke="#beea00" stroke-width="0.6"/><path d="M447.8 83.2l2.6 .7 2.5 .7 2.6 .8 2.6 .7 2.6 .7 2.5 .7 2.6 .7 2.6 .8 2.5 .8 2.6 .8 2.5 .7 2.6 .7 2.6 .7 2.5 .8 2.6 1.2 2.6 2.7 2.5 3.7 2.6 3.8 2.5 3.6 2.5 2.9 2.6 2.8 2.5 3.1 2.5 3.2 2.6 2.5" stroke="#a1ea00" stroke-width="0.6"/><path d="M447.5 84.6l2.6 .7 2.5 .6 2.6 .7 2.6 .7 2.6 .7 2.5 .6 2.6 .7 2.6 .7 2.5 .7 2.6 .8 2.6 .7 2.5 .6 2.6 .7 2.5 .7 2.6 1.1 2.6 2.4 2.5 3.6 2.6 3.8 2.5 3.5 2.6 2.9 2.5 2.9 2.5 3.1 2.6 3.2 2.5 2.5" stroke="#93ea00" stroke-width="0.6"/><path d="M447.2 86l2.6 .6 2.5 .6 2.6 .7 2.6 .6 2.6 .7 2.5 .6 2.6 .6 2.6 .7 2.5 .7 2.6 .7 2.6 .6 2.5 .6 2.6 .7 2.6 .6 2.5 .9 2.6 2.1 2.5 3.5 2.6 3.7 2.5 3.6 2.6 2.9 2.5 2.9 2.5 3.1 2.6 3.1 2.5 2.6" stroke="#85e900" stroke-width="0.6"/><path d="M446.9 88.3l2.6 .5 2.6 .6 2.5 .6 2.6 .5 2.6 .6 2.5 .6 2.6 .5 2.6 .6 2.5 .6 2.6 .6 2.6 .6 2.5 .5 2.6 .6 2.6 .6 2.5 .7 2.6 1.6 2.5 3.1 2.6 3.7 2.5 3.6 2.6 2.8 2.5 2.9 2.6 3.1 2.5 3.2 2.5 2.5" stroke="#6be800" stroke-width="0.6"/><path d="M406.1 82.2l1.9 .4 2 .8 1.9 .5 1.9-.2 2 .3 1.9 1 1.9 .6 2 .9 1.9-.4 1.9 .4 1.9 .3 2 .7 1.9-.1 1.9 .4 2 1 1.9-.5 1.9 0 1.9 .7 2 1.5 1.9-.5 1.9 1.1 2 .5 1.9-.3 1.9 .1 1.9 1.1 2 .2 1.9 .4 1.9-.6 1.9 1.2 2 .3 1.9 .3 1.9 .4 1.9 .4 2 .4 1.9 .4 1.9 .3 1.9 .4 2 .4 1.9 .4 1.9 .4 1.9 .4 2 .8 1.9 1.5 1.9 2.3 1.9 2.8 1.9 2.8 1.9 2.1 1.9 2.2 1.9 2.2 1.9 2.3 2 2.4 1.9 2.3 1.9 1.8 1.9 1.8 1.8 2.9 1.9 3.4 1.9 3.5 1.9 3.4 1.9 3.5 1.8 3.3 1.9 3.1 1.9 3.2 1.8 3.2 1.9 3.2 1.9 2.2 1.8 1.8 1.9 1.7 1.9 1.7 1.9 .4 1.9 .5 1.9 .5 1.9 .4 1.8 .4 1.9 .3 1.9 .3 1.9 .3" stroke="#52e700" stroke-width="0.8"/><path d="M446.6 90.6l2.6 .5 2.6 .5 2.5 .5 2.6 .5 2.6 .5 2.5 .5 2.6 .5 2.6 .5 2.5 .5 2.6 .5 2.6 .5 2.5 .5 2.6 .5 2.6 .6 2.5 .5 2.6 1.2 2.5 2.6 2.6 3.6 2.5 3.5 2.6 2.9 2.5 2.9 2.6 3.1 2.5 3.1 2.5 2.6" stroke="#52e700" stroke-width="0.6"/><path d="M446.3 93.8l2.6 .4 2.6 .4 2.5 .4 2.6 .5 2.6 .4 2.5 .4 2.6 .4 2.6 .4 2.5 .4 2.6 .3 2.6 .4 2.5 .4 2.6 .5 2.6 .4 2.5 .4 2.6 .9 2.6 2 2.5 3.1 2.6 3.3 2.5 2.8 2.5 2.9 2.6 3 2.5 3.1 2.6 2.5" stroke="#40e501" stroke-width="0.6"/><path d="M446 96.5l2.6 .3 2.6 .4 2.5 .3 2.6 .4 2.6 .3 2.5 .4 2.6 .2 2.6 .3 2.5 .3 2.6 .3 2.6 .2 2.5 .4 2.6 .3 2.6 .4 2.5 .3 2.6 .9 2.6 1.5 2.5 2.5 2.6 3 2.5 2.8 2.6 2.8 2.5 3 2.5 3 2.6 2.6" stroke="#34e402" stroke-width="0.6"/><path d="M445.8 98.3l2.5 .3 2.6 .3 2.6 .3 2.5 .3 2.6 .3 2.6 .3 2.5 .3 2.6 .1 2.6 .2 2.5 .2 2.6 .2 2.5 .3 2.6 .3 2.6 .3 2.5 .3 2.6 .9 2.6 1.2 2.5 2.2 2.6 2.7 2.5 2.7 2.6 2.8 2.5 2.9 2.6 3 2.5 2.5" stroke="#29e303" stroke-width="0.6"/><path d="M445.5 99.8l2.5 .3 2.6 .3 2.6 .2 2.5 .3 2.6 .2 2.6 .3 2.5 .2 2.6 .1 2.6 .1 2.5 .1 2.6 .1 2.6 .2 2.5 .3 2.6 .3 2.6 .2 2.5 1 2.6 1.1 2.5 1.8 2.6 2.4 2.5 2.8 2.6 2.7 2.5 2.9 2.6 2.8 2.5 2.6" stroke="#1fe204" stroke-width="0.6"/><path d="M445.2 101.1l2.5 .3 2.6 .2 2.6 .2 2.5 .2 2.6 .3 2.6 .2 2.5 .1 2.6 0 2.6 0 2.5 .1 2.6 0 2.6 .2 2.5 .2 2.6 .2 2.6 .3 2.5 1 2.6 1.1 2.6 1.5 2.5 2.2 2.6 2.7 2.5 2.7 2.6 2.8 2.5 2.7 2.5 2.6" stroke="#12e105" stroke-width="0.6"/><path d="M444.9 102.8l2.5 .2 2.6 .2 2.6 .1 2.5 .2 2.6 .2 2.6 .2 2.5 0 2.6-.1 2.6-.1 2.5-.1 2.6 0 2.6 0 2.5 .2 2.6 .1 2.6 .2 2.5 1.2 2.6 1.1 2.6 1.3 2.5 1.8 2.6 2.7 2.5 2.6 2.6 2.7 2.5 2.7 2.6 2.5" stroke="#0ede06" stroke-width="0.6"/><path d="M444.6 104.3l2.5 .1 2.6 .1 2.6 .2 2.5 .1 2.6 .1 2.6 .2 2.5-.1 2.6-.2 2.6-.2 2.5-.2 2.6-.2 2.6 0 2.5 .1 2.6 0 2.6 .1 2.5 1.2 2.6 1.3 2.6 1.2 2.5 1.7 2.6 2.5 2.5 2.6 2.6 2.6 2.5 2.6 2.6 2.5" stroke="#0eda06" stroke-width="0.6"/><path d="M444.2 105.7l2.6 0 2.6 .1 2.5 .1 2.6 .1 2.6 .1 2.5 .1 2.6-.2 2.6-.3 2.5-.2 2.6-.3 2.6-.3 2.5-.1 2.6 0 2.6 0 2.6-.1 2.5 1.3 2.6 1.2 2.6 1.3 2.5 1.5 2.6 2.6 2.5 2.5 2.6 2.6 2.5 2.5 2.6 2.5" stroke="#0dd707" stroke-width="0.6"/><path d="M443.9 107.4l2.6 .1 2.6 0 2.5 .1 2.6 0 2.6 .1 2.5 0 2.6-.3 2.6-.3 2.5-.4 2.6-.4 2.6-.3 2.6-.2 2.5-.1 2.6-.1 2.6-.2 2.5 1.2 2.6 1.1 2.6 1.2 2.5 1.5 2.6 2.5 2.5 2.5 2.6 2.5 2.5 2.5 2.6 2.5" stroke="#0cd208" stroke-width="0.6"/><path d="M443.7 109.2l2.5 0 2.6 0 2.6 0 2.5 0 2.6 0 2.6 0 2.5-.3 2.6-.5 2.6-.5 2.5-.4 2.6-.5 2.6-.2 2.5-.3 2.6-.2 2.6-.2 2.5 1.1 2.6 1.1 2.6 1.1 2.5 1.4 2.6 2.4 2.6 2.4 2.5 2.5 2.6 2.5 2.5 2.5" stroke="#0bce09" stroke-width="0.6"/><path d="M443.4 110.8l2.6 0 2.5 0 2.6-.1 2.6 0 2.5 0 2.6-.1 2.6-.4 2.5-.5 2.6-.6 2.6-.5 2.5-.6 2.6-.3 2.6-.3 2.5-.3 2.6-.3 2.6 1 2.6 1 2.5 1 2.6 1.3 2.6 2.4 2.5 2.4 2.6 2.4 2.5 2.5 2.6 2.4" stroke="#0ac90a" stroke-width="0.6"/><path d="M443.1 112.5l2.6-.1 2.6 0 2.5-.1 2.6-.1 2.6-.1 2.5-.1 2.6-.4 2.6-.7 2.5-.6 2.6-.6 2.6-.6 2.5-.5 2.6-.4 2.6-.4 2.6-.4 2.5 1 2.6 .9 2.6 .9 2.5 1.3 2.6 2.3 2.6 2.3 2.5 2.4 2.6 2.5 2.5 2.4" stroke="#0bc40b" stroke-width="0.6"/><path d="M442.9 116.2l2.5-.1 2.6-.2 2.6-.2 2.5-.2 2.6-.1 2.6-.2 2.5-.7 2.6-.8 2.6-.8 2.5-.8 2.6-.9 2.6-.6 2.5-.6 2.6-.6 2.6-.6 2.6 .7 2.5 .8 2.6 .7 2.6 1.1 2.5 2.2 2.6 2.2 2.5 2.4 2.6 2.3 2.5 2.4" stroke="#0db60f" stroke-width="0.6"/><path d="M442.6 117.2l2.6-.2 2.5-.2 2.6-.1 2.6-.2 2.5-.2 2.6-.2 2.5-.7 2.6-.9 2.6-.8 2.5-.9 2.6-.8 2.6-.7 2.6-.6 2.5-.7 2.6-.6 2.6 .7 2.5 .7 2.6 .7 2.6 1 2.5 2.2 2.6 2.1 2.6 2.3 2.5 2.4 2.6 2.4" stroke="#0fa713" stroke-width="0.6"/><path d="M441.9 114l2.6-.1 2.6 0 2.5-.1 2.6 0 2.6-.1 2.5-.1 2.6-.3 2.6-.5 2.6-.5 2.5-.5 2.6-.4 2.6-.4 2.5-.4 2.6-.3 2.6-.4 2.6 .8 2.5 .8 2.6 .8 2.6 1.1 2.6 2.2 2.5 2.1 2.6 2.3 2.5 2.3 2.6 2.4" stroke="#1e9e98" stroke-width="0.6"/><path d="M441.3 121.9l2.6 .7 2.5 .5 2.6-.5 2.6-.6 2.5-.5 2.6-.5 2.6-.6 2.5-1.2 2.6-1.2 2.6-1.2 2.5-1.2 2.6-.7 2.6-.5 2.5-.5 2.6-.4 2.6 .5 2.6 .9 2.5 .8 2.6 .9 2.6 1.6 2.5 1.9 2.6 1.8 2.6 1.9 2.5 4.1" stroke="#1b1cc4" stroke-width="1.2"/><path d="M441.1 122l2.5 .8 2.6 .4 2.6-.5 2.5-.5 2.6-.5 2.6-.6 2.5-.6 2.6-1.2 2.6-1.2 2.5-1.2 2.6-1.2 2.6-.7 2.6-.5 2.5-.4 2.6-.5 2.6 .5 2.6 .9 2.5 .8 2.6 .9 2.6 1.6 2.5 1.9 2.6 1.8 2.6 1.9 2.5 4.1" stroke="#1d1bc3" stroke-width="1.2"/><path d="M399.6 77.9l2 .9 1.9-2.1 2 3.6 2.1 7.5 1.8-5.2 2.1 6.5 2 6.1 1.9 1.4 2.1 6.3 1.8-5.8 2.1 11.6 2 1.1 1.9-.8 2 6.3 2 2.1 1.9-2.3 1.9 2.1 2 2.6 1.9-2.7 1.9-.9 2 5.6 1.9 2.8 1.9-4.8 1.9 1.8 2 3.6 1.9-7.1 1.9 1.5 1.9-3 2 8.1 1.9-5.7 1.9 2.4 2 1.4 1.9-.6 1.9-8.3 1.9 6 1.9-6.5 2 1.7 1.9-.3 1.9-.4 2-.4 1.9-.3 1.9 .3 2 .6 1.9 .7 1.9 .6 2 .7 1.9 .9 1.9 1.4 1.9 1.4 2 1.4 1.9 1.4 1.9 2 1.9 3.1 1.9 3.1 1.9 3.1 1.9 3.1 1.9 3.1 1.9 3.3 1.9 3.7 1.9 3.7 1.9 3.7 1.8 3.5 1.9 3 1.9 3 1.9 3 1.9 1.6 1.9 .9 1.9 .8 1.9 .9 1.9 .9 1.9 .9 1.9 .5 1.9 .4 1.9 .5 1.9 .5 1.9 .5" stroke="#1e1ac1" stroke-width="0.8"/><path d="M440.9 122.1l2.5 .8 2.6 .4 2.6-.5 2.5-.5 2.6-.5 2.6-.5 2.5-.7 2.6-1.2 2.6-1.2 2.5-1.2 2.6-1.2 2.6-.6 2.5-.5 2.6-.5 2.6-.5 2.6 .5 2.5 .9 2.6 .9 2.6 .8 2.6 1.6 2.5 1.9 2.6 1.9 2.6 1.8 2.5 4.2" stroke="#1e1ac1" stroke-width="1.2"/></g>
<line x1="377" y1="167.5" x2="373.4" y2="28.4" stroke="#555555" stroke-width="0.9"/>
<line x1="377" y1="167.5" x2="558" y2="183.2" stroke="#555555" stroke-width="0.9"/>
<line x1="558" y1="183.2" x2="613.6" y2="143" stroke="#555555" stroke-width="0.9"/>
<line x1="373.55" y1="165.63" x2="378.55" y2="165.63" stroke="#555555" stroke-width="0.7"/>
<text x="370.95" y="168.63" font-size="8" text-anchor="end" fill="#555555">10<tspan dy="-3.4" font-size="5.6">&#8722;2</tspan></text>
<line x1="372.86" y1="138.88" x2="377.86" y2="138.88" stroke="#555555" stroke-width="0.7"/>
<text x="370.26" y="141.88" font-size="8" text-anchor="end" fill="#555555">10<tspan dy="-3.4" font-size="5.6">&#8722;1</tspan></text>
<line x1="372.17" y1="112.13" x2="377.17" y2="112.13" stroke="#555555" stroke-width="0.7"/>
<text x="369.57" y="115.13" font-size="8" text-anchor="end" fill="#555555">10<tspan dy="-3.4" font-size="5.6">0</tspan></text>
<line x1="371.47" y1="85.38" x2="376.47" y2="85.38" stroke="#555555" stroke-width="0.7"/>
<text x="368.87" y="88.38" font-size="8" text-anchor="end" fill="#555555">10<tspan dy="-3.4" font-size="5.6">1</tspan></text>
<line x1="370.78" y1="58.63" x2="375.78" y2="58.63" stroke="#555555" stroke-width="0.7"/>
<text x="368.18" y="61.63" font-size="8" text-anchor="end" fill="#555555">10<tspan dy="-3.4" font-size="5.6">2</tspan></text>
<line x1="370.09" y1="31.88" x2="375.09" y2="31.88" stroke="#555555" stroke-width="0.7"/>
<text x="367.49" y="34.88" font-size="8" text-anchor="end" fill="#555555">10<tspan dy="-3.4" font-size="5.6">3</tspan></text>
<line x1="377" y1="167.5" x2="376.4" y2="169.9" stroke="#555555" stroke-width="0.7"/>
<text x="376.5" y="184.2" font-size="7.6" text-anchor="middle" fill="#555555" >0.001</text>
<line x1="440.73" y1="173.03" x2="440.13" y2="175.43" stroke="#555555" stroke-width="0.7"/>
<text x="438.8" y="189.5" font-size="7.6" text-anchor="middle" fill="#555555" >0.01</text>
<line x1="504.46" y1="178.56" x2="503.86" y2="180.96" stroke="#555555" stroke-width="0.7"/>
<text x="503" y="195.7" font-size="7.6" text-anchor="middle" fill="#555555" >0.1</text>
<line x1="561.12" y1="180.95" x2="563.32" y2="182.45" stroke="#555555" stroke-width="0.7"/>
<text x="569.6" y="198.2" font-size="7.6" text-anchor="middle" fill="#555555" >0</text>
<line x1="571.51" y1="173.43" x2="573.71" y2="174.93" stroke="#555555" stroke-width="0.7"/>
<text x="581.7" y="189.1" font-size="7.6" text-anchor="middle" fill="#555555" >1</text>
<line x1="581.9" y1="165.92" x2="584.1" y2="167.42" stroke="#555555" stroke-width="0.7"/>
<text x="592" y="180.8" font-size="7.6" text-anchor="middle" fill="#555555" >2</text>
<line x1="592.3" y1="158.4" x2="594.5" y2="159.9" stroke="#555555" stroke-width="0.7"/>
<text x="602" y="172.8" font-size="7.6" text-anchor="middle" fill="#555555" >3</text>
<line x1="602.69" y1="150.89" x2="604.89" y2="152.39" stroke="#555555" stroke-width="0.7"/>
<text x="612.2" y="165" font-size="7.6" text-anchor="middle" fill="#555555" >4</text>
<line x1="613.08" y1="143.38" x2="615.28" y2="144.88" stroke="#555555" stroke-width="0.7"/>
<text x="622.5" y="157.4" font-size="7.6" text-anchor="middle" fill="#555555" >5</text>
<text x="0" y="0" font-size="12" text-anchor="middle" fill="#555555" transform="translate(344 102.6) rotate(-90)">Intensity (cm<tspan dy="-4.8" font-size="8">&#8722;1</tspan><tspan dy="4.8">)</tspan></text>
<text x="451.6" y="215.7" font-size="12" text-anchor="middle" fill="#555555">Q (&#197;<tspan dy="-4.8" font-size="8">&#8722;1</tspan><tspan dy="4.8">)</tspan></text>
<g transform="translate(619.5 190.8) rotate(-35)"><text x="0" y="0" font-size="11.5" text-anchor="middle" fill="#555555">Volume</text><text x="1.6" y="13.6" font-size="11.5" text-anchor="middle" fill="#555555">Added (mL)</text></g>
<text x="329.5" y="12.5" font-size="16" text-anchor="start" fill="#000" >b</text>
<rect x="630.2" y="5.2" width="7.4" height="133" fill="url(#cbar)" stroke="#999" stroke-width="0.5"/>
<text x="639.5" y="140.5" font-size="8" text-anchor="start" fill="#555555" >2</text>
<text x="639.5" y="127.2" font-size="8" text-anchor="start" fill="#555555" >3</text>
<text x="639.5" y="113.9" font-size="8" text-anchor="start" fill="#555555" >4</text>
<text x="639.5" y="100.6" font-size="8" text-anchor="start" fill="#555555" >5</text>
<text x="639.5" y="87.3" font-size="8" text-anchor="start" fill="#555555" >6</text>
<text x="639.5" y="74" font-size="8" text-anchor="start" fill="#555555" >7</text>
<text x="639.5" y="60.7" font-size="8" text-anchor="start" fill="#555555" >8</text>
<text x="639.5" y="47.4" font-size="8" text-anchor="start" fill="#555555" >9</text>
<text x="639.5" y="34.1" font-size="8" text-anchor="start" fill="#555555" >10</text>
<text x="639.5" y="20.8" font-size="8" text-anchor="start" fill="#555555" >11</text>
<text x="639.5" y="7.5" font-size="8" text-anchor="start" fill="#555555" >12</text>
<text x="0" y="0" font-size="9.5" text-anchor="middle" fill="#555555" transform="translate(656.3 70.5) rotate(-90)">pD</text>
<defs><clipPath id="clipc"><rect x="27.3" y="232.2" width="283.3" height="174.1"/></clipPath></defs>
<g clip-path="url(#clipc)"><circle cx="30.3" cy="362.48" r="2.5" fill="#E24A33" stroke="#2b2b2b" stroke-width="0.45"/><circle cx="32.29" cy="361.72" r="2.5" fill="#E24A33" stroke="#2b2b2b" stroke-width="0.45"/><circle cx="34.27" cy="360.96" r="2.5" fill="#E24A33" stroke="#2b2b2b" stroke-width="0.45"/><circle cx="36.26" cy="360.2" r="2.5" fill="#E24A33" stroke="#2b2b2b" stroke-width="0.45"/><circle cx="38.24" cy="359.34" r="2.5" fill="#E24A33" stroke="#2b2b2b" stroke-width="0.45"/><circle cx="40.23" cy="358.37" r="2.5" fill="#E24A33" stroke="#2b2b2b" stroke-width="0.45"/><circle cx="42.21" cy="357.4" r="2.5" fill="#E24A33" stroke="#2b2b2b" stroke-width="0.45"/><circle cx="44.2" cy="356.43" r="2.5" fill="#E24A33" stroke="#2b2b2b" stroke-width="0.45"/><circle cx="46.18" cy="355.5" r="2.5" fill="#E24A33" stroke="#2b2b2b" stroke-width="0.45"/><circle cx="48.17" cy="354.58" r="2.5" fill="#E24A33" stroke="#2b2b2b" stroke-width="0.45"/><circle cx="50.15" cy="353.65" r="2.5" fill="#E24A33" stroke="#2b2b2b" stroke-width="0.45"/><circle cx="52.14" cy="352.83" r="2.5" fill="#E24A33" stroke="#2b2b2b" stroke-width="0.45"/><circle cx="54.13" cy="352.05" r="2.5" fill="#E24A33" stroke="#2b2b2b" stroke-width="0.45"/><circle cx="56.11" cy="351.26" r="2.5" fill="#E24A33" stroke="#2b2b2b" stroke-width="0.45"/><circle cx="58.1" cy="350.47" r="2.5" fill="#E24A33" stroke="#2b2b2b" stroke-width="0.45"/><circle cx="60.08" cy="349.83" r="2.5" fill="#E24A33" stroke="#2b2b2b" stroke-width="0.45"/><circle cx="62.07" cy="349.21" r="2.5" fill="#E24A33" stroke="#2b2b2b" stroke-width="0.45"/><circle cx="64.05" cy="348.58" r="2.5" fill="#E24A33" stroke="#2b2b2b" stroke-width="0.45"/><circle cx="66.04" cy="348" r="2.5" fill="#E24A33" stroke="#2b2b2b" stroke-width="0.45"/><circle cx="68.02" cy="347.5" r="2.5" fill="#E24A33" stroke="#2b2b2b" stroke-width="0.45"/><circle cx="70.01" cy="346.99" r="2.5" fill="#E24A33" stroke="#2b2b2b" stroke-width="0.45"/><circle cx="71.99" cy="346.49" r="2.5" fill="#E24A33" stroke="#2b2b2b" stroke-width="0.45"/><circle cx="73.98" cy="346" r="2.5" fill="#E24A33" stroke="#2b2b2b" stroke-width="0.45"/><circle cx="75.97" cy="345.53" r="2.5" fill="#E24A33" stroke="#2b2b2b" stroke-width="0.45"/><circle cx="77.95" cy="345.07" r="2.5" fill="#E24A33" stroke="#2b2b2b" stroke-width="0.45"/><circle cx="79.94" cy="344.61" r="2.5" fill="#E24A33" stroke="#2b2b2b" stroke-width="0.45"/><circle cx="81.92" cy="344.15" r="2.5" fill="#E24A33" stroke="#2b2b2b" stroke-width="0.45"/><circle cx="83.91" cy="343.69" r="2.5" fill="#E24A33" stroke="#2b2b2b" stroke-width="0.45"/><circle cx="85.89" cy="343.32" r="2.5" fill="#E24A33" stroke="#2b2b2b" stroke-width="0.45"/><circle cx="87.88" cy="342.96" r="2.5" fill="#E24A33" stroke="#2b2b2b" stroke-width="0.45"/><circle cx="89.86" cy="342.6" r="2.5" fill="#E24A33" stroke="#2b2b2b" stroke-width="0.45"/><circle cx="91.85" cy="342.24" r="2.5" fill="#E24A33" stroke="#2b2b2b" stroke-width="0.45"/><circle cx="93.83" cy="341.88" r="2.5" fill="#E24A33" stroke="#2b2b2b" stroke-width="0.45"/><circle cx="95.82" cy="341.52" r="2.5" fill="#E24A33" stroke="#2b2b2b" stroke-width="0.45"/><circle cx="97.81" cy="341.16" r="2.5" fill="#E24A33" stroke="#2b2b2b" stroke-width="0.45"/><circle cx="99.79" cy="340.79" r="2.5" fill="#E24A33" stroke="#2b2b2b" stroke-width="0.45"/><circle cx="101.78" cy="340.42" r="2.5" fill="#E24A33" stroke="#2b2b2b" stroke-width="0.45"/><circle cx="103.76" cy="340.05" r="2.5" fill="#E24A33" stroke="#2b2b2b" stroke-width="0.45"/><circle cx="105.75" cy="339.68" r="2.5" fill="#E24A33" stroke="#2b2b2b" stroke-width="0.45"/><circle cx="107.73" cy="339.32" r="2.5" fill="#E24A33" stroke="#2b2b2b" stroke-width="0.45"/><circle cx="109.72" cy="338.99" r="2.5" fill="#E24A33" stroke="#2b2b2b" stroke-width="0.45"/><circle cx="111.7" cy="338.66" r="2.5" fill="#E24A33" stroke="#2b2b2b" stroke-width="0.45"/><circle cx="113.69" cy="338.33" r="2.5" fill="#E24A33" stroke="#2b2b2b" stroke-width="0.45"/><circle cx="115.67" cy="337.99" r="2.5" fill="#E24A33" stroke="#2b2b2b" stroke-width="0.45"/><circle cx="117.66" cy="337.66" r="2.5" fill="#E24A33" stroke="#2b2b2b" stroke-width="0.45"/><circle cx="119.65" cy="337.34" r="2.5" fill="#E24A33" stroke="#2b2b2b" stroke-width="0.45"/><circle cx="121.63" cy="337.05" r="2.5" fill="#E24A33" stroke="#2b2b2b" stroke-width="0.45"/><circle cx="123.62" cy="336.76" r="2.5" fill="#E24A33" stroke="#2b2b2b" stroke-width="0.45"/><circle cx="125.6" cy="336.47" r="2.5" fill="#E24A33" stroke="#2b2b2b" stroke-width="0.45"/><circle cx="127.59" cy="336.18" r="2.5" fill="#E24A33" stroke="#2b2b2b" stroke-width="0.45"/><circle cx="129.57" cy="335.89" r="2.5" fill="#E24A33" stroke="#2b2b2b" stroke-width="0.45"/><circle cx="131.56" cy="335.6" r="2.5" fill="#E24A33" stroke="#2b2b2b" stroke-width="0.45"/><circle cx="133.54" cy="335.31" r="2.5" fill="#E24A33" stroke="#2b2b2b" stroke-width="0.45"/><circle cx="135.53" cy="335.02" r="2.5" fill="#E24A33" stroke="#2b2b2b" stroke-width="0.45"/><circle cx="137.51" cy="334.74" r="2.5" fill="#E24A33" stroke="#2b2b2b" stroke-width="0.45"/><circle cx="139.5" cy="334.45" r="2.5" fill="#E24A33" stroke="#2b2b2b" stroke-width="0.45"/><circle cx="141.49" cy="334.16" r="2.5" fill="#E24A33" stroke="#2b2b2b" stroke-width="0.45"/><circle cx="143.47" cy="333.84" r="2.5" fill="#E24A33" stroke="#2b2b2b" stroke-width="0.45"/><circle cx="145.46" cy="333.51" r="2.5" fill="#E24A33" stroke="#2b2b2b" stroke-width="0.45"/><circle cx="147.44" cy="333.18" r="2.5" fill="#E24A33" stroke="#2b2b2b" stroke-width="0.45"/><circle cx="149.43" cy="332.85" r="2.5" fill="#E24A33" stroke="#2b2b2b" stroke-width="0.45"/><circle cx="151.41" cy="332.52" r="2.5" fill="#E24A33" stroke="#2b2b2b" stroke-width="0.45"/><circle cx="153.4" cy="332.19" r="2.5" fill="#E24A33" stroke="#2b2b2b" stroke-width="0.45"/><circle cx="155.38" cy="331.86" r="2.5" fill="#E24A33" stroke="#2b2b2b" stroke-width="0.45"/><circle cx="157.37" cy="331.5" r="2.5" fill="#E24A33" stroke="#2b2b2b" stroke-width="0.45"/><circle cx="159.35" cy="331.12" r="2.5" fill="#E24A33" stroke="#2b2b2b" stroke-width="0.45"/><circle cx="161.34" cy="330.74" r="2.5" fill="#E24A33" stroke="#2b2b2b" stroke-width="0.45"/><circle cx="163.33" cy="330.36" r="2.5" fill="#E24A33" stroke="#2b2b2b" stroke-width="0.45"/><circle cx="165.31" cy="329.98" r="2.5" fill="#E24A33" stroke="#2b2b2b" stroke-width="0.45"/><circle cx="167.3" cy="329.6" r="2.5" fill="#E24A33" stroke="#2b2b2b" stroke-width="0.45"/><circle cx="169.28" cy="329.22" r="2.5" fill="#E24A33" stroke="#2b2b2b" stroke-width="0.45"/><circle cx="171.27" cy="328.84" r="2.5" fill="#E24A33" stroke="#2b2b2b" stroke-width="0.45"/><circle cx="173.25" cy="328.47" r="2.5" fill="#E24A33" stroke="#2b2b2b" stroke-width="0.45"/><circle cx="175.24" cy="328.09" r="2.5" fill="#E24A33" stroke="#2b2b2b" stroke-width="0.45"/><circle cx="177.22" cy="327.72" r="2.5" fill="#E24A33" stroke="#2b2b2b" stroke-width="0.45"/><circle cx="179.21" cy="327.34" r="2.5" fill="#E24A33" stroke="#2b2b2b" stroke-width="0.45"/><circle cx="181.19" cy="326.97" r="2.5" fill="#E24A33" stroke="#2b2b2b" stroke-width="0.45"/><circle cx="183.18" cy="326.6" r="2.5" fill="#E24A33" stroke="#2b2b2b" stroke-width="0.45"/><circle cx="185.17" cy="326.23" r="2.5" fill="#E24A33" stroke="#2b2b2b" stroke-width="0.45"/><circle cx="187.15" cy="325.87" r="2.5" fill="#E24A33" stroke="#2b2b2b" stroke-width="0.45"/><circle cx="189.14" cy="325.5" r="2.5" fill="#E24A33" stroke="#2b2b2b" stroke-width="0.45"/><circle cx="191.12" cy="325.08" r="2.5" fill="#E24A33" stroke="#2b2b2b" stroke-width="0.45"/><circle cx="193.11" cy="324.61" r="2.5" fill="#E24A33" stroke="#2b2b2b" stroke-width="0.45"/><circle cx="195.09" cy="324.13" r="2.5" fill="#E24A33" stroke="#2b2b2b" stroke-width="0.45"/><circle cx="197.08" cy="323.66" r="2.5" fill="#E24A33" stroke="#2b2b2b" stroke-width="0.45"/><circle cx="199.06" cy="323.19" r="2.5" fill="#E24A33" stroke="#2b2b2b" stroke-width="0.45"/><circle cx="201.05" cy="322.72" r="2.5" fill="#E24A33" stroke="#2b2b2b" stroke-width="0.45"/><circle cx="203.03" cy="322.24" r="2.5" fill="#E24A33" stroke="#2b2b2b" stroke-width="0.45"/><circle cx="205.02" cy="321.77" r="2.5" fill="#E24A33" stroke="#2b2b2b" stroke-width="0.45"/><circle cx="207.01" cy="321.26" r="2.5" fill="#E24A33" stroke="#2b2b2b" stroke-width="0.45"/><circle cx="208.99" cy="320.73" r="2.5" fill="#E24A33" stroke="#2b2b2b" stroke-width="0.45"/><circle cx="210.98" cy="320.2" r="2.5" fill="#E24A33" stroke="#2b2b2b" stroke-width="0.45"/><circle cx="212.96" cy="319.67" r="2.5" fill="#E24A33" stroke="#2b2b2b" stroke-width="0.45"/><circle cx="214.95" cy="319.14" r="2.5" fill="#E24A33" stroke="#2b2b2b" stroke-width="0.45"/><circle cx="216.93" cy="318.61" r="2.5" fill="#E24A33" stroke="#2b2b2b" stroke-width="0.45"/><circle cx="218.92" cy="318.1" r="2.5" fill="#E24A33" stroke="#2b2b2b" stroke-width="0.45"/><circle cx="220.9" cy="317.6" r="2.5" fill="#E24A33" stroke="#2b2b2b" stroke-width="0.45"/><circle cx="222.89" cy="317.1" r="2.5" fill="#E24A33" stroke="#2b2b2b" stroke-width="0.45"/><circle cx="224.87" cy="316.56" r="2.5" fill="#E24A33" stroke="#2b2b2b" stroke-width="0.45"/><circle cx="226.86" cy="315.96" r="2.5" fill="#E24A33" stroke="#2b2b2b" stroke-width="0.45"/><circle cx="228.85" cy="315.36" r="2.5" fill="#E24A33" stroke="#2b2b2b" stroke-width="0.45"/><circle cx="230.83" cy="314.77" r="2.5" fill="#E24A33" stroke="#2b2b2b" stroke-width="0.45"/><circle cx="232.82" cy="314.1" r="2.5" fill="#E24A33" stroke="#2b2b2b" stroke-width="0.45"/><circle cx="234.8" cy="313.36" r="2.5" fill="#E24A33" stroke="#2b2b2b" stroke-width="0.45"/><circle cx="236.79" cy="312.62" r="2.5" fill="#E24A33" stroke="#2b2b2b" stroke-width="0.45"/><circle cx="238.77" cy="311.87" r="2.5" fill="#E24A33" stroke="#2b2b2b" stroke-width="0.45"/><circle cx="240.76" cy="310.61" r="2.5" fill="#E24A33" stroke="#2b2b2b" stroke-width="0.45"/><circle cx="242.74" cy="308.38" r="2.5" fill="#E24A33" stroke="#2b2b2b" stroke-width="0.45"/><circle cx="246.13" cy="306.51" r="2.5" fill="#E24A33" stroke="#2b2b2b" stroke-width="0.45"/><circle cx="248" cy="298.44" r="2.5" fill="#E24A33" stroke="#2b2b2b" stroke-width="0.45"/><circle cx="250.1" cy="274.24" r="2.5" fill="#E24A33" stroke="#2b2b2b" stroke-width="0.45"/><circle cx="252.2" cy="267.52" r="2.5" fill="#E24A33" stroke="#2b2b2b" stroke-width="0.45"/><circle cx="254.19" cy="265.75" r="2.5" fill="#E24A33" stroke="#2b2b2b" stroke-width="0.45"/><circle cx="256.18" cy="264.33" r="2.5" fill="#E24A33" stroke="#2b2b2b" stroke-width="0.45"/><circle cx="258.16" cy="262.98" r="2.5" fill="#E24A33" stroke="#2b2b2b" stroke-width="0.45"/><circle cx="260.15" cy="261.82" r="2.5" fill="#E24A33" stroke="#2b2b2b" stroke-width="0.45"/><circle cx="262.13" cy="260.89" r="2.5" fill="#E24A33" stroke="#2b2b2b" stroke-width="0.45"/><circle cx="264.12" cy="260.01" r="2.5" fill="#E24A33" stroke="#2b2b2b" stroke-width="0.45"/><circle cx="266.1" cy="259.55" r="2.5" fill="#E24A33" stroke="#2b2b2b" stroke-width="0.45"/><circle cx="268.09" cy="259.1" r="2.5" fill="#E24A33" stroke="#2b2b2b" stroke-width="0.45"/><circle cx="270.07" cy="258.64" r="2.5" fill="#E24A33" stroke="#2b2b2b" stroke-width="0.45"/><circle cx="272.06" cy="258.18" r="2.5" fill="#E24A33" stroke="#2b2b2b" stroke-width="0.45"/><circle cx="274.04" cy="257.73" r="2.5" fill="#E24A33" stroke="#2b2b2b" stroke-width="0.45"/><circle cx="276.03" cy="257.31" r="2.5" fill="#E24A33" stroke="#2b2b2b" stroke-width="0.45"/><circle cx="278.02" cy="257.03" r="2.5" fill="#E24A33" stroke="#2b2b2b" stroke-width="0.45"/><circle cx="280" cy="256.76" r="2.5" fill="#E24A33" stroke="#2b2b2b" stroke-width="0.45"/><circle cx="281.99" cy="256.48" r="2.5" fill="#E24A33" stroke="#2b2b2b" stroke-width="0.45"/><circle cx="283.97" cy="256.2" r="2.5" fill="#E24A33" stroke="#2b2b2b" stroke-width="0.45"/><circle cx="285.96" cy="255.93" r="2.5" fill="#E24A33" stroke="#2b2b2b" stroke-width="0.45"/><circle cx="287.94" cy="255.65" r="2.5" fill="#E24A33" stroke="#2b2b2b" stroke-width="0.45"/><circle cx="289.93" cy="255.38" r="2.5" fill="#E24A33" stroke="#2b2b2b" stroke-width="0.45"/><circle cx="291.91" cy="255.18" r="2.5" fill="#E24A33" stroke="#2b2b2b" stroke-width="0.45"/><circle cx="293.9" cy="254.97" r="2.5" fill="#E24A33" stroke="#2b2b2b" stroke-width="0.45"/><circle cx="295.88" cy="254.76" r="2.5" fill="#E24A33" stroke="#2b2b2b" stroke-width="0.45"/><circle cx="297.87" cy="254.55" r="2.5" fill="#E24A33" stroke="#2b2b2b" stroke-width="0.45"/><circle cx="299.86" cy="254.36" r="2.5" fill="#E24A33" stroke="#2b2b2b" stroke-width="0.45"/><circle cx="301.84" cy="254.2" r="2.5" fill="#E24A33" stroke="#2b2b2b" stroke-width="0.45"/><circle cx="303.83" cy="254.03" r="2.5" fill="#E24A33" stroke="#2b2b2b" stroke-width="0.45"/><circle cx="305.81" cy="253.87" r="2.5" fill="#E24A33" stroke="#2b2b2b" stroke-width="0.45"/><circle cx="307.8" cy="253.7" r="2.5" fill="#E24A33" stroke="#2b2b2b" stroke-width="0.45"/><circle cx="309.78" cy="253.53" r="2.5" fill="#E24A33" stroke="#2b2b2b" stroke-width="0.45"/></g>
<g clip-path="url(#clipc)"><circle cx="30.3" cy="360.93" r="2.5" fill="#348ABD" stroke="#2b2b2b" stroke-width="0.45"/><circle cx="32.29" cy="360.17" r="2.5" fill="#348ABD" stroke="#2b2b2b" stroke-width="0.45"/><circle cx="34.27" cy="359.41" r="2.5" fill="#348ABD" stroke="#2b2b2b" stroke-width="0.45"/><circle cx="36.26" cy="358.63" r="2.5" fill="#348ABD" stroke="#2b2b2b" stroke-width="0.45"/><circle cx="38.24" cy="357.67" r="2.5" fill="#348ABD" stroke="#2b2b2b" stroke-width="0.45"/><circle cx="40.23" cy="356.7" r="2.5" fill="#348ABD" stroke="#2b2b2b" stroke-width="0.45"/><circle cx="42.21" cy="355.73" r="2.5" fill="#348ABD" stroke="#2b2b2b" stroke-width="0.45"/><circle cx="44.2" cy="354.78" r="2.5" fill="#348ABD" stroke="#2b2b2b" stroke-width="0.45"/><circle cx="46.18" cy="353.86" r="2.5" fill="#348ABD" stroke="#2b2b2b" stroke-width="0.45"/><circle cx="48.17" cy="352.93" r="2.5" fill="#348ABD" stroke="#2b2b2b" stroke-width="0.45"/><circle cx="50.15" cy="352.06" r="2.5" fill="#348ABD" stroke="#2b2b2b" stroke-width="0.45"/><circle cx="52.14" cy="351.27" r="2.5" fill="#348ABD" stroke="#2b2b2b" stroke-width="0.45"/><circle cx="54.13" cy="350.48" r="2.5" fill="#348ABD" stroke="#2b2b2b" stroke-width="0.45"/><circle cx="56.11" cy="349.7" r="2.5" fill="#348ABD" stroke="#2b2b2b" stroke-width="0.45"/><circle cx="58.1" cy="348.99" r="2.5" fill="#348ABD" stroke="#2b2b2b" stroke-width="0.45"/><circle cx="60.08" cy="348.36" r="2.5" fill="#348ABD" stroke="#2b2b2b" stroke-width="0.45"/><circle cx="62.07" cy="347.74" r="2.5" fill="#348ABD" stroke="#2b2b2b" stroke-width="0.45"/><circle cx="64.05" cy="347.12" r="2.5" fill="#348ABD" stroke="#2b2b2b" stroke-width="0.45"/><circle cx="66.04" cy="346.61" r="2.5" fill="#348ABD" stroke="#2b2b2b" stroke-width="0.45"/><circle cx="68.02" cy="346.1" r="2.5" fill="#348ABD" stroke="#2b2b2b" stroke-width="0.45"/><circle cx="70.01" cy="345.6" r="2.5" fill="#348ABD" stroke="#2b2b2b" stroke-width="0.45"/><circle cx="71.99" cy="345.09" r="2.5" fill="#348ABD" stroke="#2b2b2b" stroke-width="0.45"/><circle cx="73.98" cy="344.62" r="2.5" fill="#348ABD" stroke="#2b2b2b" stroke-width="0.45"/><circle cx="75.97" cy="344.16" r="2.5" fill="#348ABD" stroke="#2b2b2b" stroke-width="0.45"/><circle cx="77.95" cy="343.7" r="2.5" fill="#348ABD" stroke="#2b2b2b" stroke-width="0.45"/><circle cx="79.94" cy="343.24" r="2.5" fill="#348ABD" stroke="#2b2b2b" stroke-width="0.45"/><circle cx="81.92" cy="342.78" r="2.5" fill="#348ABD" stroke="#2b2b2b" stroke-width="0.45"/><circle cx="83.91" cy="342.37" r="2.5" fill="#348ABD" stroke="#2b2b2b" stroke-width="0.45"/><circle cx="85.89" cy="342.01" r="2.5" fill="#348ABD" stroke="#2b2b2b" stroke-width="0.45"/><circle cx="87.88" cy="341.65" r="2.5" fill="#348ABD" stroke="#2b2b2b" stroke-width="0.45"/><circle cx="89.86" cy="341.29" r="2.5" fill="#348ABD" stroke="#2b2b2b" stroke-width="0.45"/><circle cx="91.85" cy="340.93" r="2.5" fill="#348ABD" stroke="#2b2b2b" stroke-width="0.45"/><circle cx="93.83" cy="340.57" r="2.5" fill="#348ABD" stroke="#2b2b2b" stroke-width="0.45"/><circle cx="95.82" cy="340.21" r="2.5" fill="#348ABD" stroke="#2b2b2b" stroke-width="0.45"/><circle cx="97.81" cy="339.84" r="2.5" fill="#348ABD" stroke="#2b2b2b" stroke-width="0.45"/><circle cx="99.79" cy="339.47" r="2.5" fill="#348ABD" stroke="#2b2b2b" stroke-width="0.45"/><circle cx="101.78" cy="339.1" r="2.5" fill="#348ABD" stroke="#2b2b2b" stroke-width="0.45"/><circle cx="103.76" cy="338.74" r="2.5" fill="#348ABD" stroke="#2b2b2b" stroke-width="0.45"/><circle cx="105.75" cy="338.37" r="2.5" fill="#348ABD" stroke="#2b2b2b" stroke-width="0.45"/><circle cx="107.73" cy="338.03" r="2.5" fill="#348ABD" stroke="#2b2b2b" stroke-width="0.45"/><circle cx="109.72" cy="337.7" r="2.5" fill="#348ABD" stroke="#2b2b2b" stroke-width="0.45"/><circle cx="111.7" cy="337.36" r="2.5" fill="#348ABD" stroke="#2b2b2b" stroke-width="0.45"/><circle cx="113.69" cy="337.03" r="2.5" fill="#348ABD" stroke="#2b2b2b" stroke-width="0.45"/><circle cx="115.67" cy="336.7" r="2.5" fill="#348ABD" stroke="#2b2b2b" stroke-width="0.45"/><circle cx="117.66" cy="336.37" r="2.5" fill="#348ABD" stroke="#2b2b2b" stroke-width="0.45"/><circle cx="119.65" cy="336.07" r="2.5" fill="#348ABD" stroke="#2b2b2b" stroke-width="0.45"/><circle cx="121.63" cy="335.78" r="2.5" fill="#348ABD" stroke="#2b2b2b" stroke-width="0.45"/><circle cx="123.62" cy="335.49" r="2.5" fill="#348ABD" stroke="#2b2b2b" stroke-width="0.45"/><circle cx="125.6" cy="335.2" r="2.5" fill="#348ABD" stroke="#2b2b2b" stroke-width="0.45"/><circle cx="127.59" cy="334.91" r="2.5" fill="#348ABD" stroke="#2b2b2b" stroke-width="0.45"/><circle cx="129.57" cy="334.62" r="2.5" fill="#348ABD" stroke="#2b2b2b" stroke-width="0.45"/><circle cx="131.56" cy="334.33" r="2.5" fill="#348ABD" stroke="#2b2b2b" stroke-width="0.45"/><circle cx="133.54" cy="334.04" r="2.5" fill="#348ABD" stroke="#2b2b2b" stroke-width="0.45"/><circle cx="135.53" cy="333.75" r="2.5" fill="#348ABD" stroke="#2b2b2b" stroke-width="0.45"/><circle cx="137.51" cy="333.47" r="2.5" fill="#348ABD" stroke="#2b2b2b" stroke-width="0.45"/><circle cx="139.5" cy="333.18" r="2.5" fill="#348ABD" stroke="#2b2b2b" stroke-width="0.45"/><circle cx="141.49" cy="332.87" r="2.5" fill="#348ABD" stroke="#2b2b2b" stroke-width="0.45"/><circle cx="143.47" cy="332.54" r="2.5" fill="#348ABD" stroke="#2b2b2b" stroke-width="0.45"/><circle cx="145.46" cy="332.21" r="2.5" fill="#348ABD" stroke="#2b2b2b" stroke-width="0.45"/><circle cx="147.44" cy="331.88" r="2.5" fill="#348ABD" stroke="#2b2b2b" stroke-width="0.45"/><circle cx="149.43" cy="331.55" r="2.5" fill="#348ABD" stroke="#2b2b2b" stroke-width="0.45"/><circle cx="151.41" cy="331.22" r="2.5" fill="#348ABD" stroke="#2b2b2b" stroke-width="0.45"/><circle cx="153.4" cy="330.89" r="2.5" fill="#348ABD" stroke="#2b2b2b" stroke-width="0.45"/><circle cx="155.38" cy="330.56" r="2.5" fill="#348ABD" stroke="#2b2b2b" stroke-width="0.45"/><circle cx="157.37" cy="330.18" r="2.5" fill="#348ABD" stroke="#2b2b2b" stroke-width="0.45"/><circle cx="159.35" cy="329.8" r="2.5" fill="#348ABD" stroke="#2b2b2b" stroke-width="0.45"/><circle cx="161.34" cy="329.42" r="2.5" fill="#348ABD" stroke="#2b2b2b" stroke-width="0.45"/><circle cx="163.33" cy="329.04" r="2.5" fill="#348ABD" stroke="#2b2b2b" stroke-width="0.45"/><circle cx="165.31" cy="328.66" r="2.5" fill="#348ABD" stroke="#2b2b2b" stroke-width="0.45"/><circle cx="167.3" cy="328.27" r="2.5" fill="#348ABD" stroke="#2b2b2b" stroke-width="0.45"/><circle cx="169.28" cy="327.89" r="2.5" fill="#348ABD" stroke="#2b2b2b" stroke-width="0.45"/><circle cx="171.27" cy="327.52" r="2.5" fill="#348ABD" stroke="#2b2b2b" stroke-width="0.45"/><circle cx="173.25" cy="327.15" r="2.5" fill="#348ABD" stroke="#2b2b2b" stroke-width="0.45"/><circle cx="175.24" cy="326.77" r="2.5" fill="#348ABD" stroke="#2b2b2b" stroke-width="0.45"/><circle cx="177.22" cy="326.4" r="2.5" fill="#348ABD" stroke="#2b2b2b" stroke-width="0.45"/><circle cx="179.21" cy="326.02" r="2.5" fill="#348ABD" stroke="#2b2b2b" stroke-width="0.45"/><circle cx="181.19" cy="325.65" r="2.5" fill="#348ABD" stroke="#2b2b2b" stroke-width="0.45"/><circle cx="183.18" cy="325.28" r="2.5" fill="#348ABD" stroke="#2b2b2b" stroke-width="0.45"/><circle cx="185.17" cy="324.92" r="2.5" fill="#348ABD" stroke="#2b2b2b" stroke-width="0.45"/><circle cx="187.15" cy="324.55" r="2.5" fill="#348ABD" stroke="#2b2b2b" stroke-width="0.45"/><circle cx="189.14" cy="324.17" r="2.5" fill="#348ABD" stroke="#2b2b2b" stroke-width="0.45"/><circle cx="191.12" cy="323.7" r="2.5" fill="#348ABD" stroke="#2b2b2b" stroke-width="0.45"/><circle cx="193.11" cy="323.23" r="2.5" fill="#348ABD" stroke="#2b2b2b" stroke-width="0.45"/><circle cx="195.09" cy="322.76" r="2.5" fill="#348ABD" stroke="#2b2b2b" stroke-width="0.45"/><circle cx="197.08" cy="322.28" r="2.5" fill="#348ABD" stroke="#2b2b2b" stroke-width="0.45"/><circle cx="199.06" cy="321.81" r="2.5" fill="#348ABD" stroke="#2b2b2b" stroke-width="0.45"/><circle cx="201.05" cy="321.34" r="2.5" fill="#348ABD" stroke="#2b2b2b" stroke-width="0.45"/><circle cx="203.03" cy="320.87" r="2.5" fill="#348ABD" stroke="#2b2b2b" stroke-width="0.45"/><circle cx="205.02" cy="320.37" r="2.5" fill="#348ABD" stroke="#2b2b2b" stroke-width="0.45"/><circle cx="207.01" cy="319.84" r="2.5" fill="#348ABD" stroke="#2b2b2b" stroke-width="0.45"/><circle cx="208.99" cy="319.32" r="2.5" fill="#348ABD" stroke="#2b2b2b" stroke-width="0.45"/><circle cx="210.98" cy="318.79" r="2.5" fill="#348ABD" stroke="#2b2b2b" stroke-width="0.45"/><circle cx="212.96" cy="318.26" r="2.5" fill="#348ABD" stroke="#2b2b2b" stroke-width="0.45"/><circle cx="214.95" cy="317.73" r="2.5" fill="#348ABD" stroke="#2b2b2b" stroke-width="0.45"/><circle cx="216.93" cy="317.2" r="2.5" fill="#348ABD" stroke="#2b2b2b" stroke-width="0.45"/><circle cx="218.92" cy="316.7" r="2.5" fill="#348ABD" stroke="#2b2b2b" stroke-width="0.45"/><circle cx="220.9" cy="316.2" r="2.5" fill="#348ABD" stroke="#2b2b2b" stroke-width="0.45"/><circle cx="222.89" cy="315.7" r="2.5" fill="#348ABD" stroke="#2b2b2b" stroke-width="0.45"/><circle cx="224.87" cy="315.11" r="2.5" fill="#348ABD" stroke="#2b2b2b" stroke-width="0.45"/><circle cx="226.86" cy="314.51" r="2.5" fill="#348ABD" stroke="#2b2b2b" stroke-width="0.45"/><circle cx="228.85" cy="313.91" r="2.5" fill="#348ABD" stroke="#2b2b2b" stroke-width="0.45"/><circle cx="230.83" cy="313.31" r="2.5" fill="#348ABD" stroke="#2b2b2b" stroke-width="0.45"/><circle cx="232.82" cy="312.56" r="2.5" fill="#348ABD" stroke="#2b2b2b" stroke-width="0.45"/><circle cx="234.8" cy="311.82" r="2.5" fill="#348ABD" stroke="#2b2b2b" stroke-width="0.45"/><circle cx="237.72" cy="308.1" r="2.5" fill="#348ABD" stroke="#2b2b2b" stroke-width="0.45"/><circle cx="240.06" cy="304.92" r="2.5" fill="#348ABD" stroke="#2b2b2b" stroke-width="0.45"/><circle cx="242.39" cy="301.13" r="2.5" fill="#348ABD" stroke="#2b2b2b" stroke-width="0.45"/><circle cx="245.2" cy="273.75" r="2.5" fill="#348ABD" stroke="#2b2b2b" stroke-width="0.45"/><circle cx="247.3" cy="268.13" r="2.5" fill="#348ABD" stroke="#2b2b2b" stroke-width="0.45"/><circle cx="249.4" cy="269.48" r="2.5" fill="#348ABD" stroke="#2b2b2b" stroke-width="0.45"/><circle cx="251.39" cy="267.49" r="2.5" fill="#348ABD" stroke="#2b2b2b" stroke-width="0.45"/><circle cx="253.37" cy="265.38" r="2.5" fill="#348ABD" stroke="#2b2b2b" stroke-width="0.45"/><circle cx="255.36" cy="263.79" r="2.5" fill="#348ABD" stroke="#2b2b2b" stroke-width="0.45"/><circle cx="257.34" cy="262.44" r="2.5" fill="#348ABD" stroke="#2b2b2b" stroke-width="0.45"/><circle cx="259.33" cy="261.11" r="2.5" fill="#348ABD" stroke="#2b2b2b" stroke-width="0.45"/><circle cx="261.31" cy="260.17" r="2.5" fill="#348ABD" stroke="#2b2b2b" stroke-width="0.45"/><circle cx="263.3" cy="259.24" r="2.5" fill="#348ABD" stroke="#2b2b2b" stroke-width="0.45"/><circle cx="265.28" cy="258.64" r="2.5" fill="#348ABD" stroke="#2b2b2b" stroke-width="0.45"/><circle cx="267.27" cy="258.19" r="2.5" fill="#348ABD" stroke="#2b2b2b" stroke-width="0.45"/><circle cx="269.26" cy="257.73" r="2.5" fill="#348ABD" stroke="#2b2b2b" stroke-width="0.45"/><circle cx="271.24" cy="257.27" r="2.5" fill="#348ABD" stroke="#2b2b2b" stroke-width="0.45"/><circle cx="273.23" cy="256.81" r="2.5" fill="#348ABD" stroke="#2b2b2b" stroke-width="0.45"/><circle cx="275.21" cy="256.36" r="2.5" fill="#348ABD" stroke="#2b2b2b" stroke-width="0.45"/><circle cx="277.2" cy="256.05" r="2.5" fill="#348ABD" stroke="#2b2b2b" stroke-width="0.45"/><circle cx="279.18" cy="255.77" r="2.5" fill="#348ABD" stroke="#2b2b2b" stroke-width="0.45"/><circle cx="281.17" cy="255.49" r="2.5" fill="#348ABD" stroke="#2b2b2b" stroke-width="0.45"/><circle cx="283.15" cy="255.22" r="2.5" fill="#348ABD" stroke="#2b2b2b" stroke-width="0.45"/><circle cx="285.14" cy="254.94" r="2.5" fill="#348ABD" stroke="#2b2b2b" stroke-width="0.45"/><circle cx="287.12" cy="254.66" r="2.5" fill="#348ABD" stroke="#2b2b2b" stroke-width="0.45"/><circle cx="289.11" cy="254.39" r="2.5" fill="#348ABD" stroke="#2b2b2b" stroke-width="0.45"/><circle cx="291.1" cy="254.16" r="2.5" fill="#348ABD" stroke="#2b2b2b" stroke-width="0.45"/><circle cx="293.08" cy="253.95" r="2.5" fill="#348ABD" stroke="#2b2b2b" stroke-width="0.45"/><circle cx="295.07" cy="253.75" r="2.5" fill="#348ABD" stroke="#2b2b2b" stroke-width="0.45"/><circle cx="297.05" cy="253.54" r="2.5" fill="#348ABD" stroke="#2b2b2b" stroke-width="0.45"/><circle cx="299.04" cy="253.33" r="2.5" fill="#348ABD" stroke="#2b2b2b" stroke-width="0.45"/><circle cx="301.02" cy="253.17" r="2.5" fill="#348ABD" stroke="#2b2b2b" stroke-width="0.45"/><circle cx="303.01" cy="253" r="2.5" fill="#348ABD" stroke="#2b2b2b" stroke-width="0.45"/><circle cx="304.99" cy="252.83" r="2.5" fill="#348ABD" stroke="#2b2b2b" stroke-width="0.45"/><circle cx="306.98" cy="252.67" r="2.5" fill="#348ABD" stroke="#2b2b2b" stroke-width="0.45"/><circle cx="308.96" cy="252.5" r="2.5" fill="#348ABD" stroke="#2b2b2b" stroke-width="0.45"/></g>
<g clip-path="url(#clipc)"><circle cx="30.3" cy="361.99" r="2.5" fill="#988ED5" stroke="#2b2b2b" stroke-width="0.45"/><circle cx="32.29" cy="361.23" r="2.5" fill="#988ED5" stroke="#2b2b2b" stroke-width="0.45"/><circle cx="34.27" cy="360.47" r="2.5" fill="#988ED5" stroke="#2b2b2b" stroke-width="0.45"/><circle cx="36.26" cy="359.71" r="2.5" fill="#988ED5" stroke="#2b2b2b" stroke-width="0.45"/><circle cx="38.24" cy="358.85" r="2.5" fill="#988ED5" stroke="#2b2b2b" stroke-width="0.45"/><circle cx="40.23" cy="357.88" r="2.5" fill="#988ED5" stroke="#2b2b2b" stroke-width="0.45"/><circle cx="42.21" cy="356.91" r="2.5" fill="#988ED5" stroke="#2b2b2b" stroke-width="0.45"/><circle cx="44.2" cy="355.94" r="2.5" fill="#988ED5" stroke="#2b2b2b" stroke-width="0.45"/><circle cx="46.18" cy="355.01" r="2.5" fill="#988ED5" stroke="#2b2b2b" stroke-width="0.45"/><circle cx="48.17" cy="354.09" r="2.5" fill="#988ED5" stroke="#2b2b2b" stroke-width="0.45"/><circle cx="50.15" cy="353.16" r="2.5" fill="#988ED5" stroke="#2b2b2b" stroke-width="0.45"/><circle cx="52.14" cy="352.35" r="2.5" fill="#988ED5" stroke="#2b2b2b" stroke-width="0.45"/><circle cx="54.13" cy="351.56" r="2.5" fill="#988ED5" stroke="#2b2b2b" stroke-width="0.45"/><circle cx="56.11" cy="350.77" r="2.5" fill="#988ED5" stroke="#2b2b2b" stroke-width="0.45"/><circle cx="58.1" cy="349.98" r="2.5" fill="#988ED5" stroke="#2b2b2b" stroke-width="0.45"/><circle cx="60.08" cy="349.34" r="2.5" fill="#988ED5" stroke="#2b2b2b" stroke-width="0.45"/><circle cx="62.07" cy="348.72" r="2.5" fill="#988ED5" stroke="#2b2b2b" stroke-width="0.45"/><circle cx="64.05" cy="348.1" r="2.5" fill="#988ED5" stroke="#2b2b2b" stroke-width="0.45"/><circle cx="66.04" cy="347.51" r="2.5" fill="#988ED5" stroke="#2b2b2b" stroke-width="0.45"/><circle cx="68.02" cy="347.01" r="2.5" fill="#988ED5" stroke="#2b2b2b" stroke-width="0.45"/><circle cx="70.01" cy="346.51" r="2.5" fill="#988ED5" stroke="#2b2b2b" stroke-width="0.45"/><circle cx="71.99" cy="346" r="2.5" fill="#988ED5" stroke="#2b2b2b" stroke-width="0.45"/><circle cx="73.98" cy="345.51" r="2.5" fill="#988ED5" stroke="#2b2b2b" stroke-width="0.45"/><circle cx="75.97" cy="345.04" r="2.5" fill="#988ED5" stroke="#2b2b2b" stroke-width="0.45"/><circle cx="77.95" cy="344.58" r="2.5" fill="#988ED5" stroke="#2b2b2b" stroke-width="0.45"/><circle cx="79.94" cy="344.12" r="2.5" fill="#988ED5" stroke="#2b2b2b" stroke-width="0.45"/><circle cx="81.92" cy="343.66" r="2.5" fill="#988ED5" stroke="#2b2b2b" stroke-width="0.45"/><circle cx="83.91" cy="343.2" r="2.5" fill="#988ED5" stroke="#2b2b2b" stroke-width="0.45"/><circle cx="85.89" cy="342.83" r="2.5" fill="#988ED5" stroke="#2b2b2b" stroke-width="0.45"/><circle cx="87.88" cy="342.47" r="2.5" fill="#988ED5" stroke="#2b2b2b" stroke-width="0.45"/><circle cx="89.86" cy="342.11" r="2.5" fill="#988ED5" stroke="#2b2b2b" stroke-width="0.45"/><circle cx="91.85" cy="341.75" r="2.5" fill="#988ED5" stroke="#2b2b2b" stroke-width="0.45"/><circle cx="93.83" cy="341.39" r="2.5" fill="#988ED5" stroke="#2b2b2b" stroke-width="0.45"/><circle cx="95.82" cy="341.03" r="2.5" fill="#988ED5" stroke="#2b2b2b" stroke-width="0.45"/><circle cx="97.81" cy="340.67" r="2.5" fill="#988ED5" stroke="#2b2b2b" stroke-width="0.45"/><circle cx="99.79" cy="340.3" r="2.5" fill="#988ED5" stroke="#2b2b2b" stroke-width="0.45"/><circle cx="101.78" cy="339.93" r="2.5" fill="#988ED5" stroke="#2b2b2b" stroke-width="0.45"/><circle cx="103.76" cy="339.56" r="2.5" fill="#988ED5" stroke="#2b2b2b" stroke-width="0.45"/><circle cx="105.75" cy="339.2" r="2.5" fill="#988ED5" stroke="#2b2b2b" stroke-width="0.45"/><circle cx="107.73" cy="338.83" r="2.5" fill="#988ED5" stroke="#2b2b2b" stroke-width="0.45"/><circle cx="109.72" cy="338.5" r="2.5" fill="#988ED5" stroke="#2b2b2b" stroke-width="0.45"/><circle cx="111.7" cy="338.17" r="2.5" fill="#988ED5" stroke="#2b2b2b" stroke-width="0.45"/><circle cx="113.69" cy="337.84" r="2.5" fill="#988ED5" stroke="#2b2b2b" stroke-width="0.45"/><circle cx="115.67" cy="337.5" r="2.5" fill="#988ED5" stroke="#2b2b2b" stroke-width="0.45"/><circle cx="117.66" cy="337.17" r="2.5" fill="#988ED5" stroke="#2b2b2b" stroke-width="0.45"/><circle cx="119.65" cy="336.85" r="2.5" fill="#988ED5" stroke="#2b2b2b" stroke-width="0.45"/><circle cx="121.63" cy="336.56" r="2.5" fill="#988ED5" stroke="#2b2b2b" stroke-width="0.45"/><circle cx="123.62" cy="336.27" r="2.5" fill="#988ED5" stroke="#2b2b2b" stroke-width="0.45"/><circle cx="125.6" cy="335.98" r="2.5" fill="#988ED5" stroke="#2b2b2b" stroke-width="0.45"/><circle cx="127.59" cy="335.69" r="2.5" fill="#988ED5" stroke="#2b2b2b" stroke-width="0.45"/><circle cx="129.57" cy="335.4" r="2.5" fill="#988ED5" stroke="#2b2b2b" stroke-width="0.45"/><circle cx="131.56" cy="335.11" r="2.5" fill="#988ED5" stroke="#2b2b2b" stroke-width="0.45"/><circle cx="133.54" cy="334.82" r="2.5" fill="#988ED5" stroke="#2b2b2b" stroke-width="0.45"/><circle cx="135.53" cy="334.53" r="2.5" fill="#988ED5" stroke="#2b2b2b" stroke-width="0.45"/><circle cx="137.51" cy="334.25" r="2.5" fill="#988ED5" stroke="#2b2b2b" stroke-width="0.45"/><circle cx="139.5" cy="333.96" r="2.5" fill="#988ED5" stroke="#2b2b2b" stroke-width="0.45"/><circle cx="141.49" cy="333.67" r="2.5" fill="#988ED5" stroke="#2b2b2b" stroke-width="0.45"/><circle cx="143.47" cy="333.35" r="2.5" fill="#988ED5" stroke="#2b2b2b" stroke-width="0.45"/><circle cx="145.46" cy="333.02" r="2.5" fill="#988ED5" stroke="#2b2b2b" stroke-width="0.45"/><circle cx="147.44" cy="332.69" r="2.5" fill="#988ED5" stroke="#2b2b2b" stroke-width="0.45"/><circle cx="149.43" cy="332.36" r="2.5" fill="#988ED5" stroke="#2b2b2b" stroke-width="0.45"/><circle cx="151.41" cy="332.03" r="2.5" fill="#988ED5" stroke="#2b2b2b" stroke-width="0.45"/><circle cx="153.4" cy="331.7" r="2.5" fill="#988ED5" stroke="#2b2b2b" stroke-width="0.45"/><circle cx="155.38" cy="331.37" r="2.5" fill="#988ED5" stroke="#2b2b2b" stroke-width="0.45"/><circle cx="157.37" cy="331.01" r="2.5" fill="#988ED5" stroke="#2b2b2b" stroke-width="0.45"/><circle cx="159.35" cy="330.63" r="2.5" fill="#988ED5" stroke="#2b2b2b" stroke-width="0.45"/><circle cx="161.34" cy="330.25" r="2.5" fill="#988ED5" stroke="#2b2b2b" stroke-width="0.45"/><circle cx="163.33" cy="329.87" r="2.5" fill="#988ED5" stroke="#2b2b2b" stroke-width="0.45"/><circle cx="165.31" cy="329.49" r="2.5" fill="#988ED5" stroke="#2b2b2b" stroke-width="0.45"/><circle cx="167.3" cy="329.11" r="2.5" fill="#988ED5" stroke="#2b2b2b" stroke-width="0.45"/><circle cx="169.28" cy="328.73" r="2.5" fill="#988ED5" stroke="#2b2b2b" stroke-width="0.45"/><circle cx="171.27" cy="328.35" r="2.5" fill="#988ED5" stroke="#2b2b2b" stroke-width="0.45"/><circle cx="173.25" cy="327.98" r="2.5" fill="#988ED5" stroke="#2b2b2b" stroke-width="0.45"/><circle cx="175.24" cy="327.6" r="2.5" fill="#988ED5" stroke="#2b2b2b" stroke-width="0.45"/><circle cx="177.22" cy="327.23" r="2.5" fill="#988ED5" stroke="#2b2b2b" stroke-width="0.45"/><circle cx="179.21" cy="326.85" r="2.5" fill="#988ED5" stroke="#2b2b2b" stroke-width="0.45"/><circle cx="181.19" cy="326.48" r="2.5" fill="#988ED5" stroke="#2b2b2b" stroke-width="0.45"/><circle cx="183.18" cy="326.11" r="2.5" fill="#988ED5" stroke="#2b2b2b" stroke-width="0.45"/><circle cx="185.17" cy="325.74" r="2.5" fill="#988ED5" stroke="#2b2b2b" stroke-width="0.45"/><circle cx="187.15" cy="325.38" r="2.5" fill="#988ED5" stroke="#2b2b2b" stroke-width="0.45"/><circle cx="189.14" cy="325.01" r="2.5" fill="#988ED5" stroke="#2b2b2b" stroke-width="0.45"/><circle cx="191.12" cy="324.59" r="2.5" fill="#988ED5" stroke="#2b2b2b" stroke-width="0.45"/><circle cx="193.11" cy="324.12" r="2.5" fill="#988ED5" stroke="#2b2b2b" stroke-width="0.45"/><circle cx="195.09" cy="323.64" r="2.5" fill="#988ED5" stroke="#2b2b2b" stroke-width="0.45"/><circle cx="197.08" cy="323.17" r="2.5" fill="#988ED5" stroke="#2b2b2b" stroke-width="0.45"/><circle cx="199.06" cy="322.7" r="2.5" fill="#988ED5" stroke="#2b2b2b" stroke-width="0.45"/><circle cx="201.05" cy="322.23" r="2.5" fill="#988ED5" stroke="#2b2b2b" stroke-width="0.45"/><circle cx="203.03" cy="321.76" r="2.5" fill="#988ED5" stroke="#2b2b2b" stroke-width="0.45"/><circle cx="205.02" cy="321.28" r="2.5" fill="#988ED5" stroke="#2b2b2b" stroke-width="0.45"/><circle cx="207.01" cy="320.77" r="2.5" fill="#988ED5" stroke="#2b2b2b" stroke-width="0.45"/><circle cx="208.99" cy="320.24" r="2.5" fill="#988ED5" stroke="#2b2b2b" stroke-width="0.45"/><circle cx="210.98" cy="319.71" r="2.5" fill="#988ED5" stroke="#2b2b2b" stroke-width="0.45"/><circle cx="212.96" cy="319.18" r="2.5" fill="#988ED5" stroke="#2b2b2b" stroke-width="0.45"/><circle cx="214.95" cy="318.65" r="2.5" fill="#988ED5" stroke="#2b2b2b" stroke-width="0.45"/><circle cx="216.93" cy="318.12" r="2.5" fill="#988ED5" stroke="#2b2b2b" stroke-width="0.45"/><circle cx="218.92" cy="317.61" r="2.5" fill="#988ED5" stroke="#2b2b2b" stroke-width="0.45"/><circle cx="220.9" cy="317.11" r="2.5" fill="#988ED5" stroke="#2b2b2b" stroke-width="0.45"/><circle cx="222.89" cy="316.61" r="2.5" fill="#988ED5" stroke="#2b2b2b" stroke-width="0.45"/><circle cx="224.87" cy="316.07" r="2.5" fill="#988ED5" stroke="#2b2b2b" stroke-width="0.45"/><circle cx="226.86" cy="315.47" r="2.5" fill="#988ED5" stroke="#2b2b2b" stroke-width="0.45"/><circle cx="228.85" cy="314.88" r="2.5" fill="#988ED5" stroke="#2b2b2b" stroke-width="0.45"/><circle cx="230.83" cy="314.28" r="2.5" fill="#988ED5" stroke="#2b2b2b" stroke-width="0.45"/><circle cx="232.82" cy="313.61" r="2.5" fill="#988ED5" stroke="#2b2b2b" stroke-width="0.45"/><circle cx="234.8" cy="312.87" r="2.5" fill="#988ED5" stroke="#2b2b2b" stroke-width="0.45"/><circle cx="236.79" cy="312.13" r="2.5" fill="#988ED5" stroke="#2b2b2b" stroke-width="0.45"/><circle cx="238.77" cy="311.39" r="2.5" fill="#988ED5" stroke="#2b2b2b" stroke-width="0.45"/><circle cx="240.76" cy="310.12" r="2.5" fill="#988ED5" stroke="#2b2b2b" stroke-width="0.45"/><circle cx="242.74" cy="307.89" r="2.5" fill="#988ED5" stroke="#2b2b2b" stroke-width="0.45"/><circle cx="245.66" cy="303.7" r="2.5" fill="#988ED5" stroke="#2b2b2b" stroke-width="0.45"/><circle cx="247.53" cy="286.34" r="2.5" fill="#988ED5" stroke="#2b2b2b" stroke-width="0.45"/><circle cx="249.4" cy="270.33" r="2.5" fill="#988ED5" stroke="#2b2b2b" stroke-width="0.45"/><circle cx="251.5" cy="267.95" r="2.5" fill="#988ED5" stroke="#2b2b2b" stroke-width="0.45"/><circle cx="253.49" cy="265.89" r="2.5" fill="#988ED5" stroke="#2b2b2b" stroke-width="0.45"/><circle cx="255.47" cy="264.32" r="2.5" fill="#988ED5" stroke="#2b2b2b" stroke-width="0.45"/><circle cx="257.46" cy="262.97" r="2.5" fill="#988ED5" stroke="#2b2b2b" stroke-width="0.45"/><circle cx="259.45" cy="261.67" r="2.5" fill="#988ED5" stroke="#2b2b2b" stroke-width="0.45"/><circle cx="261.43" cy="260.73" r="2.5" fill="#988ED5" stroke="#2b2b2b" stroke-width="0.45"/><circle cx="263.42" cy="259.8" r="2.5" fill="#988ED5" stroke="#2b2b2b" stroke-width="0.45"/><circle cx="265.4" cy="259.23" r="2.5" fill="#988ED5" stroke="#2b2b2b" stroke-width="0.45"/><circle cx="267.39" cy="258.77" r="2.5" fill="#988ED5" stroke="#2b2b2b" stroke-width="0.45"/><circle cx="269.37" cy="258.31" r="2.5" fill="#988ED5" stroke="#2b2b2b" stroke-width="0.45"/><circle cx="271.36" cy="257.86" r="2.5" fill="#988ED5" stroke="#2b2b2b" stroke-width="0.45"/><circle cx="273.34" cy="257.4" r="2.5" fill="#988ED5" stroke="#2b2b2b" stroke-width="0.45"/><circle cx="275.33" cy="256.94" r="2.5" fill="#988ED5" stroke="#2b2b2b" stroke-width="0.45"/><circle cx="277.31" cy="256.64" r="2.5" fill="#988ED5" stroke="#2b2b2b" stroke-width="0.45"/><circle cx="279.3" cy="256.37" r="2.5" fill="#988ED5" stroke="#2b2b2b" stroke-width="0.45"/><circle cx="281.29" cy="256.09" r="2.5" fill="#988ED5" stroke="#2b2b2b" stroke-width="0.45"/><circle cx="283.27" cy="255.81" r="2.5" fill="#988ED5" stroke="#2b2b2b" stroke-width="0.45"/><circle cx="285.26" cy="255.53" r="2.5" fill="#988ED5" stroke="#2b2b2b" stroke-width="0.45"/><circle cx="287.24" cy="255.26" r="2.5" fill="#988ED5" stroke="#2b2b2b" stroke-width="0.45"/><circle cx="289.23" cy="254.98" r="2.5" fill="#988ED5" stroke="#2b2b2b" stroke-width="0.45"/><circle cx="291.21" cy="254.76" r="2.5" fill="#988ED5" stroke="#2b2b2b" stroke-width="0.45"/><circle cx="293.2" cy="254.55" r="2.5" fill="#988ED5" stroke="#2b2b2b" stroke-width="0.45"/><circle cx="295.18" cy="254.35" r="2.5" fill="#988ED5" stroke="#2b2b2b" stroke-width="0.45"/><circle cx="297.17" cy="254.14" r="2.5" fill="#988ED5" stroke="#2b2b2b" stroke-width="0.45"/><circle cx="299.15" cy="253.93" r="2.5" fill="#988ED5" stroke="#2b2b2b" stroke-width="0.45"/><circle cx="301.14" cy="253.77" r="2.5" fill="#988ED5" stroke="#2b2b2b" stroke-width="0.45"/><circle cx="303.13" cy="253.6" r="2.5" fill="#988ED5" stroke="#2b2b2b" stroke-width="0.45"/><circle cx="305.11" cy="253.44" r="2.5" fill="#988ED5" stroke="#2b2b2b" stroke-width="0.45"/><circle cx="307.1" cy="253.27" r="2.5" fill="#988ED5" stroke="#2b2b2b" stroke-width="0.45"/><circle cx="309.08" cy="253.1" r="2.5" fill="#988ED5" stroke="#2b2b2b" stroke-width="0.45"/></g>
<rect x="30.3" y="232.2" width="280.3" height="171.1" fill="none" stroke="#5a5a5a" stroke-width="1.1"/>
<path d="M77.02 403.3v-3M77.02 232.2v3M123.73 403.3v-3M123.73 232.2v3M170.45 403.3v-3M170.45 232.2v3M217.17 403.3v-3M217.17 232.2v3M263.88 403.3v-3M263.88 232.2v3M30.3 378.86h3M310.6 378.86h-3M30.3 354.41h3M310.6 354.41h-3M30.3 329.97h3M310.6 329.97h-3M30.3 305.53h3M310.6 305.53h-3M30.3 281.09h3M310.6 281.09h-3M30.3 256.64h3M310.6 256.64h-3" stroke="#aaaaaa" stroke-width="0.8" fill="none"/>
<text x="30.3" y="414.2" font-size="9" text-anchor="middle" fill="#555555" >0</text>
<text x="77.02" y="414.2" font-size="9" text-anchor="middle" fill="#555555" >2</text>
<text x="123.73" y="414.2" font-size="9" text-anchor="middle" fill="#555555" >4</text>
<text x="170.45" y="414.2" font-size="9" text-anchor="middle" fill="#555555" >6</text>
<text x="217.17" y="414.2" font-size="9" text-anchor="middle" fill="#555555" >8</text>
<text x="263.88" y="414.2" font-size="9" text-anchor="middle" fill="#555555" >10</text>
<text x="310.6" y="414.2" font-size="9" text-anchor="middle" fill="#555555" >12</text>
<text x="27.6" y="406.5" font-size="9" text-anchor="end" fill="#555555" >0</text>
<text x="27.6" y="382.06" font-size="9" text-anchor="end" fill="#555555" >2</text>
<text x="27.6" y="357.61" font-size="9" text-anchor="end" fill="#555555" >4</text>
<text x="27.6" y="333.17" font-size="9" text-anchor="end" fill="#555555" >6</text>
<text x="27.6" y="308.73" font-size="9" text-anchor="end" fill="#555555" >8</text>
<text x="27.6" y="284.29" font-size="9" text-anchor="end" fill="#555555" >10</text>
<text x="27.6" y="259.84" font-size="9" text-anchor="end" fill="#555555" >12</text>
<text x="27.6" y="235.4" font-size="9" text-anchor="end" fill="#555555" >14</text>
<rect x="15" y="224" width="14" height="6.9" fill="#fff"/>
<text x="170.75" y="427.2" font-size="11" text-anchor="middle" fill="#555555" >Volume Added (mL)</text>
<text x="13.2" y="319" font-size="11" text-anchor="middle" fill="#555555" transform="rotate(-90 13.2 319)">pD</text>
<text x="0.5" y="223.9" font-size="18.5" text-anchor="start" fill="#000" >c</text>
<rect x="35.6" y="238.3" width="61.8" height="47" rx="2.5" fill="#fff" fill-opacity="0.9" stroke="#cccccc" stroke-width="0.8"/>
<circle cx="49.8" cy="245" r="2.4" fill="#E24A33" stroke="#2b2b2b" stroke-width="0.45"/>
<text x="61" y="248.9" font-size="11" text-anchor="start" fill="#555555" >Low Q</text>
<circle cx="49.8" cy="260.6" r="2.4" fill="#348ABD" stroke="#2b2b2b" stroke-width="0.45"/>
<text x="61" y="264.5" font-size="11" text-anchor="start" fill="#555555" >Mid Q</text>
<circle cx="49.8" cy="276.2" r="2.4" fill="#988ED5" stroke="#2b2b2b" stroke-width="0.45"/>
<text x="61" y="280.1" font-size="11" text-anchor="start" fill="#555555" >High Q</text>
<defs><clipPath id="clipd"><rect x="365.5" y="232.2" width="285.9" height="174.1"/></clipPath></defs>
<g clip-path="url(#clipd)"><circle cx="369.07" cy="264.95" r="2.5" fill="#E24A33" stroke="#2b2b2b" stroke-width="0.45"/><circle cx="371.1" cy="265.69" r="2.5" fill="#E24A33" stroke="#2b2b2b" stroke-width="0.45"/><circle cx="374.38" cy="298.44" r="2.5" fill="#E24A33" stroke="#2b2b2b" stroke-width="0.45"/><circle cx="377.33" cy="315.79" r="2.5" fill="#E24A33" stroke="#2b2b2b" stroke-width="0.45"/><circle cx="380.04" cy="321.78" r="2.5" fill="#E24A33" stroke="#2b2b2b" stroke-width="0.45"/><circle cx="382.53" cy="324.35" r="2.5" fill="#E24A33" stroke="#2b2b2b" stroke-width="0.45"/><circle cx="385.3" cy="327.04" r="2.5" fill="#E24A33" stroke="#2b2b2b" stroke-width="0.45"/><circle cx="388.36" cy="328.99" r="2.5" fill="#E24A33" stroke="#2b2b2b" stroke-width="0.45"/><circle cx="391.13" cy="331.56" r="2.5" fill="#E24A33" stroke="#2b2b2b" stroke-width="0.45"/><circle cx="393.96" cy="333.64" r="2.5" fill="#E24A33" stroke="#2b2b2b" stroke-width="0.45"/><circle cx="396.79" cy="336.08" r="2.5" fill="#E24A33" stroke="#2b2b2b" stroke-width="0.45"/><circle cx="399.62" cy="338.77" r="2.5" fill="#E24A33" stroke="#2b2b2b" stroke-width="0.45"/><circle cx="402.45" cy="340.24" r="2.5" fill="#E24A33" stroke="#2b2b2b" stroke-width="0.45"/><circle cx="405.45" cy="342.44" r="2.5" fill="#E24A33" stroke="#2b2b2b" stroke-width="0.45"/><circle cx="408.56" cy="344.51" r="2.5" fill="#E24A33" stroke="#2b2b2b" stroke-width="0.45"/><circle cx="411.5" cy="346.35" r="2.5" fill="#E24A33" stroke="#2b2b2b" stroke-width="0.45"/><circle cx="414.16" cy="348.18" r="2.5" fill="#E24A33" stroke="#2b2b2b" stroke-width="0.45"/><circle cx="416.88" cy="350.26" r="2.5" fill="#E24A33" stroke="#2b2b2b" stroke-width="0.45"/><circle cx="419.87" cy="354.17" r="2.5" fill="#E24A33" stroke="#2b2b2b" stroke-width="0.45"/><circle cx="422.48" cy="357.96" r="2.5" fill="#E24A33" stroke="#2b2b2b" stroke-width="0.45"/><circle cx="425.08" cy="362.24" r="2.5" fill="#E24A33" stroke="#2b2b2b" stroke-width="0.45"/><circle cx="428.47" cy="365.54" r="2.5" fill="#E24A33" stroke="#2b2b2b" stroke-width="0.45"/><circle cx="430.57" cy="368.1" r="2.5" fill="#348ABD" stroke="#2b2b2b" stroke-width="0.45"/><circle cx="433.57" cy="366.02" r="2.5" fill="#348ABD" stroke="#2b2b2b" stroke-width="0.45"/><circle cx="436.4" cy="363.34" r="2.5" fill="#348ABD" stroke="#2b2b2b" stroke-width="0.45"/><circle cx="439.39" cy="357.1" r="2.5" fill="#348ABD" stroke="#2b2b2b" stroke-width="0.45"/><circle cx="442.05" cy="354.05" r="2.5" fill="#348ABD" stroke="#2b2b2b" stroke-width="0.45"/><circle cx="444.71" cy="351.48" r="2.5" fill="#348ABD" stroke="#2b2b2b" stroke-width="0.45"/><circle cx="447.49" cy="349.04" r="2.5" fill="#348ABD" stroke="#2b2b2b" stroke-width="0.45"/><circle cx="450.26" cy="346.35" r="2.5" fill="#348ABD" stroke="#2b2b2b" stroke-width="0.45"/><circle cx="453.03" cy="344.27" r="2.5" fill="#348ABD" stroke="#2b2b2b" stroke-width="0.45"/><circle cx="456.14" cy="342.56" r="2.5" fill="#348ABD" stroke="#2b2b2b" stroke-width="0.45"/><circle cx="458.91" cy="340.85" r="2.5" fill="#348ABD" stroke="#2b2b2b" stroke-width="0.45"/><circle cx="461.74" cy="339.38" r="2.5" fill="#348ABD" stroke="#2b2b2b" stroke-width="0.45"/><circle cx="464.46" cy="336.94" r="2.5" fill="#348ABD" stroke="#2b2b2b" stroke-width="0.45"/><circle cx="467.51" cy="335.1" r="2.5" fill="#348ABD" stroke="#2b2b2b" stroke-width="0.45"/><circle cx="470.34" cy="333.39" r="2.5" fill="#348ABD" stroke="#2b2b2b" stroke-width="0.45"/><circle cx="473.17" cy="332.05" r="2.5" fill="#348ABD" stroke="#2b2b2b" stroke-width="0.45"/><circle cx="476" cy="329.24" r="2.5" fill="#348ABD" stroke="#2b2b2b" stroke-width="0.45"/><circle cx="478.83" cy="326.18" r="2.5" fill="#348ABD" stroke="#2b2b2b" stroke-width="0.45"/><circle cx="481.66" cy="323.37" r="2.5" fill="#348ABD" stroke="#2b2b2b" stroke-width="0.45"/><circle cx="484.49" cy="320.19" r="2.5" fill="#348ABD" stroke="#2b2b2b" stroke-width="0.45"/><circle cx="487.32" cy="316.04" r="2.5" fill="#348ABD" stroke="#2b2b2b" stroke-width="0.45"/><circle cx="490.49" cy="265.32" r="2.5" fill="#348ABD" stroke="#2b2b2b" stroke-width="0.45"/><circle cx="493.26" cy="258.84" r="2.5" fill="#348ABD" stroke="#2b2b2b" stroke-width="0.45"/><circle cx="495.58" cy="255.42" r="2.5" fill="#348ABD" stroke="#2b2b2b" stroke-width="0.45"/><circle cx="498.92" cy="253.95" r="2.5" fill="#348ABD" stroke="#2b2b2b" stroke-width="0.45"/><circle cx="498.92" cy="256.64" r="2.5" fill="#988ED5" stroke="#2b2b2b" stroke-width="0.45"/><circle cx="501.8" cy="257.38" r="2.5" fill="#988ED5" stroke="#2b2b2b" stroke-width="0.45"/><circle cx="504.57" cy="260.92" r="2.5" fill="#988ED5" stroke="#2b2b2b" stroke-width="0.45"/><circle cx="507.57" cy="302.11" r="2.5" fill="#988ED5" stroke="#2b2b2b" stroke-width="0.45"/><circle cx="510.29" cy="318.24" r="2.5" fill="#988ED5" stroke="#2b2b2b" stroke-width="0.45"/><circle cx="512.72" cy="323.01" r="2.5" fill="#988ED5" stroke="#2b2b2b" stroke-width="0.45"/><circle cx="515.49" cy="325.45" r="2.5" fill="#988ED5" stroke="#2b2b2b" stroke-width="0.45"/><circle cx="518.32" cy="328.99" r="2.5" fill="#988ED5" stroke="#2b2b2b" stroke-width="0.45"/><circle cx="521.1" cy="331.44" r="2.5" fill="#988ED5" stroke="#2b2b2b" stroke-width="0.45"/><circle cx="523.93" cy="333.52" r="2.5" fill="#988ED5" stroke="#2b2b2b" stroke-width="0.45"/><circle cx="526.92" cy="335.47" r="2.5" fill="#988ED5" stroke="#2b2b2b" stroke-width="0.45"/><circle cx="529.75" cy="337.06" r="2.5" fill="#988ED5" stroke="#2b2b2b" stroke-width="0.45"/><circle cx="532.92" cy="339.02" r="2.5" fill="#988ED5" stroke="#2b2b2b" stroke-width="0.45"/><circle cx="535.75" cy="340.36" r="2.5" fill="#988ED5" stroke="#2b2b2b" stroke-width="0.45"/><circle cx="538.52" cy="341.95" r="2.5" fill="#988ED5" stroke="#2b2b2b" stroke-width="0.45"/><circle cx="541.63" cy="343.54" r="2.5" fill="#988ED5" stroke="#2b2b2b" stroke-width="0.45"/><circle cx="544.46" cy="345.25" r="2.5" fill="#988ED5" stroke="#2b2b2b" stroke-width="0.45"/><circle cx="547.29" cy="347.08" r="2.5" fill="#988ED5" stroke="#2b2b2b" stroke-width="0.45"/><circle cx="549.56" cy="348.43" r="2.5" fill="#988ED5" stroke="#2b2b2b" stroke-width="0.45"/><circle cx="552.38" cy="350.63" r="2.5" fill="#988ED5" stroke="#2b2b2b" stroke-width="0.45"/><circle cx="555.21" cy="352.58" r="2.5" fill="#988ED5" stroke="#2b2b2b" stroke-width="0.45"/><circle cx="558.04" cy="355.15" r="2.5" fill="#988ED5" stroke="#2b2b2b" stroke-width="0.45"/><circle cx="560.87" cy="359.18" r="2.5" fill="#988ED5" stroke="#2b2b2b" stroke-width="0.45"/><circle cx="563.47" cy="364.07" r="2.5" fill="#988ED5" stroke="#2b2b2b" stroke-width="0.45"/><circle cx="566.53" cy="366.51" r="2.5" fill="#988ED5" stroke="#2b2b2b" stroke-width="0.45"/><circle cx="569.08" cy="368.96" r="2.5" fill="#988ED5" stroke="#2b2b2b" stroke-width="0.45"/><circle cx="572.19" cy="370.67" r="2.5" fill="#6e6e6e" stroke="#2b2b2b" stroke-width="0.45"/><circle cx="575.02" cy="368.35" r="2.5" fill="#6e6e6e" stroke="#2b2b2b" stroke-width="0.45"/><circle cx="577.85" cy="366.51" r="2.5" fill="#6e6e6e" stroke="#2b2b2b" stroke-width="0.45"/><circle cx="580.67" cy="363.34" r="2.5" fill="#6e6e6e" stroke="#2b2b2b" stroke-width="0.45"/><circle cx="583.5" cy="359.18" r="2.5" fill="#6e6e6e" stroke="#2b2b2b" stroke-width="0.45"/><circle cx="586.33" cy="356.25" r="2.5" fill="#6e6e6e" stroke="#2b2b2b" stroke-width="0.45"/><circle cx="589.16" cy="353.44" r="2.5" fill="#6e6e6e" stroke="#2b2b2b" stroke-width="0.45"/><circle cx="591.99" cy="350.87" r="2.5" fill="#6e6e6e" stroke="#2b2b2b" stroke-width="0.45"/><circle cx="594.82" cy="348.79" r="2.5" fill="#6e6e6e" stroke="#2b2b2b" stroke-width="0.45"/><circle cx="597.65" cy="346.71" r="2.5" fill="#6e6e6e" stroke="#2b2b2b" stroke-width="0.45"/><circle cx="600.48" cy="345" r="2.5" fill="#6e6e6e" stroke="#2b2b2b" stroke-width="0.45"/><circle cx="603.02" cy="342.93" r="2.5" fill="#6e6e6e" stroke="#2b2b2b" stroke-width="0.45"/><circle cx="606.14" cy="340.97" r="2.5" fill="#6e6e6e" stroke="#2b2b2b" stroke-width="0.45"/><circle cx="608.96" cy="339.14" r="2.5" fill="#6e6e6e" stroke="#2b2b2b" stroke-width="0.45"/><circle cx="611.79" cy="337.79" r="2.5" fill="#6e6e6e" stroke="#2b2b2b" stroke-width="0.45"/><circle cx="614.62" cy="336.2" r="2.5" fill="#6e6e6e" stroke="#2b2b2b" stroke-width="0.45"/><circle cx="617.45" cy="334.86" r="2.5" fill="#6e6e6e" stroke="#2b2b2b" stroke-width="0.45"/><circle cx="620.28" cy="332.05" r="2.5" fill="#6e6e6e" stroke="#2b2b2b" stroke-width="0.45"/><circle cx="623.11" cy="329.85" r="2.5" fill="#6e6e6e" stroke="#2b2b2b" stroke-width="0.45"/><circle cx="625.94" cy="327.16" r="2.5" fill="#6e6e6e" stroke="#2b2b2b" stroke-width="0.45"/><circle cx="628.77" cy="324.72" r="2.5" fill="#6e6e6e" stroke="#2b2b2b" stroke-width="0.45"/><circle cx="631.6" cy="319.95" r="2.5" fill="#6e6e6e" stroke="#2b2b2b" stroke-width="0.45"/><circle cx="634.43" cy="297.95" r="2.5" fill="#6e6e6e" stroke="#2b2b2b" stroke-width="0.45"/><circle cx="637.82" cy="262.75" r="2.5" fill="#6e6e6e" stroke="#2b2b2b" stroke-width="0.45"/><circle cx="640.08" cy="257.87" r="2.5" fill="#6e6e6e" stroke="#2b2b2b" stroke-width="0.45"/><circle cx="642.35" cy="255.79" r="2.5" fill="#6e6e6e" stroke="#2b2b2b" stroke-width="0.45"/><circle cx="644.04" cy="254.57" r="2.5" fill="#6e6e6e" stroke="#2b2b2b" stroke-width="0.45"/><circle cx="646.31" cy="253.34" r="2.5" fill="#6e6e6e" stroke="#2b2b2b" stroke-width="0.45"/><circle cx="648.01" cy="252.61" r="2.5" fill="#6e6e6e" stroke="#2b2b2b" stroke-width="0.45"/><circle cx="650.27" cy="252" r="2.5" fill="#6e6e6e" stroke="#2b2b2b" stroke-width="0.45"/><circle cx="651.4" cy="251.75" r="2.5" fill="#6e6e6e" stroke="#2b2b2b" stroke-width="0.45"/></g>
<rect x="368.5" y="232.2" width="282.9" height="171.1" fill="none" stroke="#5a5a5a" stroke-width="1.1"/>
<path d="M425.08 403.3v-3M425.08 232.2v3M481.66 403.3v-3M481.66 232.2v3M538.24 403.3v-3M538.24 232.2v3M594.82 403.3v-3M594.82 232.2v3M368.5 378.86h3M651.4 378.86h-3M368.5 354.41h3M651.4 354.41h-3M368.5 329.97h3M651.4 329.97h-3M368.5 305.53h3M651.4 305.53h-3M368.5 281.09h3M651.4 281.09h-3M368.5 256.64h3M651.4 256.64h-3" stroke="#aaaaaa" stroke-width="0.8" fill="none"/>
<text x="368.5" y="414.2" font-size="9" text-anchor="middle" fill="#555555" >0</text>
<text x="425.08" y="414.2" font-size="9" text-anchor="middle" fill="#555555" >1</text>
<text x="481.66" y="414.2" font-size="9" text-anchor="middle" fill="#555555" >2</text>
<text x="538.24" y="414.2" font-size="9" text-anchor="middle" fill="#555555" >3</text>
<text x="594.82" y="414.2" font-size="9" text-anchor="middle" fill="#555555" >4</text>
<text x="651.4" y="414.2" font-size="9" text-anchor="middle" fill="#555555" >5</text>
<text x="365.6" y="406.5" font-size="9" text-anchor="end" fill="#555555" >0</text>
<text x="365.6" y="382.06" font-size="9" text-anchor="end" fill="#555555" >2</text>
<text x="365.6" y="357.61" font-size="9" text-anchor="end" fill="#555555" >4</text>
<text x="365.6" y="333.17" font-size="9" text-anchor="end" fill="#555555" >6</text>
<text x="365.6" y="308.73" font-size="9" text-anchor="end" fill="#555555" >8</text>
<text x="365.6" y="284.29" font-size="9" text-anchor="end" fill="#555555" >10</text>
<text x="365.6" y="259.84" font-size="9" text-anchor="end" fill="#555555" >12</text>
<text x="365.6" y="235.4" font-size="9" text-anchor="end" fill="#555555" >14</text>
<text x="510.5" y="427.2" font-size="11" text-anchor="middle" fill="#555555" >Volume Added (mL)</text>
<text x="349.5" y="318" font-size="11" text-anchor="middle" fill="#555555" transform="rotate(-90 349.5 318)">pD</text>
<text x="328.9" y="223.7" font-size="17" text-anchor="start" fill="#000" >d</text>
<text x="417" y="303.6" font-size="11.5" text-anchor="middle" fill="#555555" >DCl</text>
<text x="417" y="315.9" font-size="11.5" text-anchor="middle" fill="#555555" >1st Addition</text>
<polygon points="400.8,333.9 405.62,332.53 404.55,331.34 415.14,324.11 412.71,323.2 412.06,320.69 403.75,330.45 402.68,329.26" fill="#7a7a7a"/>
<text x="483" y="369.6" font-size="11.5" text-anchor="middle" fill="#555555" >NaOD</text>
<text x="483" y="382" font-size="11.5" text-anchor="middle" fill="#555555" >2nd Addition</text>
<polygon points="457.3,348 459.19,352.64 460.25,351.45 466.17,359.01 466.81,356.5 469.23,355.59 461.05,350.55 462.12,349.36" fill="#7a7a7a"/>
<text x="550.7" y="303.6" font-size="11.5" text-anchor="middle" fill="#555555" >DCl</text>
<text x="550.7" y="315.9" font-size="11.5" text-anchor="middle" fill="#555555" >2nd Addition</text>
<polygon points="532.3,333.5 537.13,332.16 536.07,330.96 546.13,324.32 543.7,323.4 543.07,320.88 535.27,330.07 534.21,328.87" fill="#7a7a7a"/>
<text x="611" y="376" font-size="11.5" text-anchor="middle" fill="#555555" >NaOD</text>
<text x="609.5" y="388.4" font-size="11.5" text-anchor="middle" fill="#555555" >3rd Addition</text>
<polygon points="598.6,353 598.53,358.01 599.98,357.33 601.52,364.58 603.09,362.51 605.68,362.62 601.06,356.81 602.51,356.13" fill="#7a7a7a"/>
</svg></body></html>
